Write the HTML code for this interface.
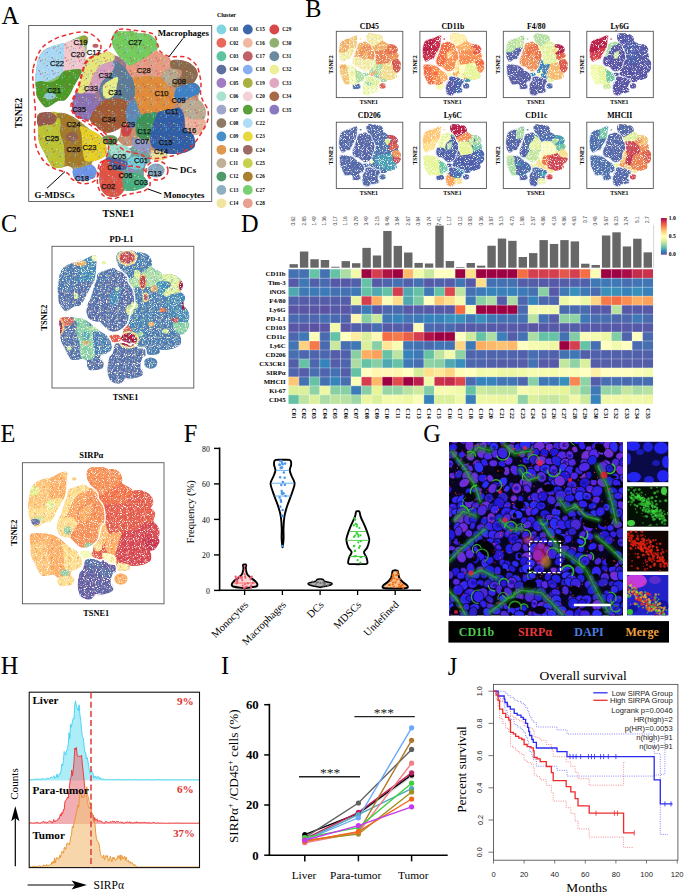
<!DOCTYPE html>
<html><head><meta charset="utf-8"><style>html,body{margin:0;padding:0;background:#fff;width:685px;height:894px;overflow:hidden}svg{display:block}</style></head>
<body><svg width="685" height="894" viewBox="0 0 685 894">
<rect width="685" height="894" fill="#fff"/>
<text x="1.40" y="23.90" font-family="'Liberation Serif', serif" font-size="24.30" text-anchor="start" fill="#000">A</text>
<text x="305.30" y="17.05" font-family="'Liberation Serif', serif" font-size="24.30" text-anchor="start" fill="#000">B</text>
<text x="1.10" y="232.30" font-family="'Liberation Serif', serif" font-size="24.30" text-anchor="start" fill="#000">C</text>
<text x="241.00" y="231.80" font-family="'Liberation Serif', serif" font-size="24.30" text-anchor="start" fill="#000">D</text>
<text x="0.50" y="441.70" font-family="'Liberation Serif', serif" font-size="24.30" text-anchor="start" fill="#000">E</text>
<text x="183.80" y="441.80" font-family="'Liberation Serif', serif" font-size="24.30" text-anchor="start" fill="#000">F</text>
<text x="423.30" y="441.70" font-family="'Liberation Serif', serif" font-size="24.30" text-anchor="start" fill="#000">G</text>
<text x="0.70" y="674.30" font-family="'Liberation Serif', serif" font-size="24.30" text-anchor="start" fill="#000">H</text>
<text x="221.00" y="674.40" font-family="'Liberation Serif', serif" font-size="24.30" text-anchor="start" fill="#000">I</text>
<text x="447.80" y="674.60" font-family="'Liberation Serif', serif" font-size="24.30" text-anchor="start" fill="#000">J</text>
<defs>
<path id="r_UL" d="M35.0 78.0 C35.0 75.3 35.6 74.8 36.0 72.0 C36.4 69.2 36.6 64.3 37.6 61.0 C38.6 57.7 39.9 54.3 42.0 52.0 C44.1 49.7 47.3 48.3 50.0 47.0 C52.7 45.7 55.5 45.0 58.0 44.4 C60.5 43.8 62.8 44.1 64.8 43.5 C66.8 42.9 67.8 42.1 70.0 41.0 C72.2 39.9 75.7 37.9 78.0 37.0 C80.3 36.1 82.3 35.3 84.0 35.5 C85.7 35.7 87.5 36.4 88.0 38.0 C88.5 39.6 87.3 41.3 87.0 45.0 C86.7 48.7 86.3 56.2 86.0 60.0 C85.7 63.8 85.9 65.5 85.0 68.0 C84.1 70.5 81.8 72.6 80.5 74.8 C79.2 77.0 78.2 78.9 77.0 80.9 C75.8 82.9 74.7 84.8 73.5 87.0 C72.3 89.2 71.5 91.8 70.0 94.0 C68.5 96.2 66.8 99.0 64.8 100.2 C62.8 101.4 60.1 100.1 57.8 101.0 C55.5 101.9 52.8 104.4 50.8 105.4 C48.8 106.4 47.1 107.6 45.5 107.2 C43.9 106.8 42.6 104.7 41.1 102.8 C39.6 100.9 37.7 98.3 36.8 95.8 C35.9 93.3 36.2 90.9 35.9 87.9 C35.6 84.9 35.0 80.7 35.0 78.0Z"/>
<path id="r_CL" d="M84.0 69.0 C85.2 65.3 85.0 61.2 87.5 58.7 C90.0 56.2 95.7 55.2 99.2 54.0 C102.7 52.8 106.0 51.5 108.5 51.7 C111.0 51.9 112.5 54.2 114.4 55.2 C116.4 56.2 118.3 56.1 120.2 57.5 C122.1 58.9 124.8 61.2 126.0 63.4 C127.2 65.5 126.0 67.9 127.2 70.4 C128.4 72.9 131.6 75.4 133.0 78.5 C134.4 81.6 135.1 85.4 135.4 89.0 C135.7 92.6 135.8 97.3 135.0 100.0 C134.2 102.7 131.8 103.0 130.7 105.4 C129.6 107.9 129.2 111.9 128.4 114.7 C127.6 117.5 127.4 119.8 126.0 122.0 C124.6 124.2 122.3 126.3 120.0 128.0 C117.7 129.7 114.7 131.3 112.0 132.0 C109.3 132.7 106.7 133.0 104.0 132.0 C101.3 131.0 98.3 128.0 96.0 126.0 C93.7 124.0 91.4 121.0 90.0 120.0 C88.6 119.0 89.7 120.5 87.5 120.0 C85.3 119.5 79.5 119.0 77.0 117.0 C74.5 115.0 72.7 111.4 72.3 107.7 C71.9 104.0 73.9 97.6 74.7 94.9 C75.5 92.2 76.0 93.7 77.0 91.4 C78.0 89.1 79.3 84.6 80.5 80.9 C81.7 77.2 82.8 72.7 84.0 69.0Z"/>
<path id="r_R" d="M113.0 35.0 C114.0 33.2 115.9 32.1 118.0 31.5 C120.1 30.9 123.5 31.6 125.8 31.5 C128.1 31.4 130.1 30.8 132.0 31.0 C133.9 31.2 135.6 32.6 137.5 33.0 C139.4 33.4 141.5 33.3 143.4 33.5 C145.3 33.7 147.3 33.5 149.2 34.4 C151.1 35.3 153.6 37.2 155.0 39.0 C156.4 40.8 157.2 43.3 157.5 45.0 C157.8 46.7 156.8 48.3 156.9 49.4 C157.0 50.5 156.1 50.4 158.0 51.7 C159.9 53.1 166.3 56.0 168.5 57.5 C170.7 59.0 169.2 60.6 170.9 61.0 C172.7 61.4 176.1 59.7 179.0 59.9 C181.9 60.1 185.7 60.9 188.4 62.2 C191.1 63.6 193.9 65.9 195.4 68.0 C196.9 70.1 197.9 72.7 197.7 75.0 C197.5 77.3 194.6 80.6 194.2 82.0 C193.8 83.4 194.4 82.2 195.4 83.2 C196.4 84.2 199.4 86.2 200.0 87.9 C200.6 89.7 199.1 91.7 198.9 93.7 C198.7 95.7 197.7 97.5 198.8 100.0 C199.9 102.5 204.5 105.7 205.4 109.0 C206.3 112.3 204.0 116.9 204.0 119.6 C204.0 122.3 206.3 122.6 205.4 125.0 C204.5 127.4 200.8 132.4 198.8 134.1 C196.8 135.8 194.2 133.4 193.6 135.4 C192.9 137.4 195.8 143.4 194.9 146.0 C194.0 148.6 191.2 149.9 188.3 151.2 C185.5 152.5 181.1 153.4 177.8 153.8 C174.5 154.2 170.6 154.0 168.6 153.8 C166.6 153.6 166.2 151.8 166.0 152.5 C165.8 153.2 168.4 156.5 167.3 157.8 C166.2 159.1 162.0 160.2 159.4 160.4 C156.8 160.6 153.2 160.3 151.5 159.0 C149.8 157.7 150.7 153.8 148.9 152.5 C147.2 151.2 143.6 152.3 141.0 151.2 C138.4 150.1 135.8 146.9 133.1 146.0 C130.4 145.1 127.5 147.0 125.0 146.0 C122.5 145.0 118.8 142.0 118.0 140.2 C117.2 138.4 119.5 137.3 120.0 135.0 C120.5 132.7 120.3 128.4 121.3 126.2 C122.3 124.0 124.8 123.9 126.0 122.0 C127.2 120.1 127.6 117.5 128.4 114.7 C129.2 111.9 129.6 107.9 130.7 105.4 C131.8 103.0 134.2 102.7 135.0 100.0 C135.8 97.3 135.7 92.6 135.4 89.0 C135.1 85.4 134.4 81.6 133.0 78.5 C131.6 75.4 128.4 72.9 127.2 70.4 C126.0 67.9 127.2 65.5 126.0 63.4 C124.8 61.2 122.1 59.9 120.2 57.5 C118.3 55.1 115.8 51.9 114.4 49.3 C113.0 46.7 112.2 44.4 112.0 42.0 C111.8 39.6 112.0 36.8 113.0 35.0Z"/>
<path id="r_LL" d="M37.0 119.3 C37.2 117.0 37.0 114.7 39.3 113.5 C41.6 112.3 47.9 112.4 51.0 112.3 C54.1 112.2 55.1 112.6 58.0 113.0 C60.9 113.4 65.4 113.7 68.5 114.7 C71.6 115.7 73.0 116.5 76.7 119.0 C80.4 121.5 86.8 127.1 90.7 129.9 C94.6 132.7 97.5 133.2 100.0 135.7 C102.5 138.2 104.9 141.9 105.9 145.0 C106.9 148.1 106.9 152.1 105.9 154.4 C104.9 156.7 102.2 157.8 100.0 159.0 C97.8 160.2 94.3 160.4 93.0 161.4 C91.7 162.4 91.3 163.4 91.9 164.9 C92.5 166.4 96.2 168.6 96.6 170.7 C97.0 172.8 96.0 176.1 94.2 177.7 C92.4 179.2 88.9 179.6 86.0 180.0 C83.1 180.4 78.8 180.8 76.7 180.0 C74.6 179.2 73.8 177.1 73.2 175.4 C72.6 173.7 74.0 171.2 73.2 169.6 C72.4 168.0 70.2 166.4 68.5 166.0 C66.8 165.6 65.2 167.0 62.7 167.2 C60.2 167.4 55.7 168.2 53.4 167.2 C51.1 166.2 50.3 163.9 48.7 161.4 C47.1 158.9 45.6 155.1 44.0 152.0 C42.4 148.9 40.3 145.8 39.3 142.7 C38.3 139.6 38.4 135.9 38.2 133.4 C38.0 130.9 38.4 129.8 38.2 127.5 C38.0 125.2 36.8 121.6 37.0 119.3Z"/>
<path id="r_BC" d="M101.7 163.5 C102.9 160.2 105.0 160.6 106.4 157.7 C107.8 154.8 107.2 148.1 109.9 146.0 C112.6 143.9 119.4 144.5 122.7 144.9 C126.0 145.3 128.0 148.2 129.7 148.4 C131.4 148.6 131.2 145.5 133.1 146.0 C135.0 146.5 138.4 150.1 141.0 151.2 C143.6 152.3 147.4 150.8 148.9 152.5 C150.4 154.2 150.7 159.7 150.2 161.7 C149.7 163.7 147.1 162.2 146.0 164.7 C144.9 167.1 143.5 173.5 143.7 176.4 C143.9 179.3 147.0 180.4 147.2 182.2 C147.4 183.9 147.0 185.5 144.9 186.9 C142.8 188.3 137.7 189.8 134.4 190.4 C131.1 191.0 126.8 190.4 125.0 190.4 C123.2 190.4 125.1 189.4 123.9 190.4 C122.7 191.4 120.5 195.2 118.0 196.2 C115.5 197.2 111.4 197.2 108.7 196.2 C106.0 195.2 103.3 193.5 101.7 190.4 C100.1 187.3 99.3 182.1 99.3 177.6 C99.3 173.1 100.5 166.8 101.7 163.5Z"/>
<path id="r_C22" d="M36.0 72.0 C36.4 69.2 36.6 64.3 37.6 61.0 C38.6 57.7 39.9 54.3 42.0 52.0 C44.1 49.7 47.3 48.3 50.0 47.0 C52.7 45.7 55.5 45.0 58.0 44.4 C60.5 43.8 63.8 41.7 64.8 43.5 C65.8 45.3 64.3 50.6 64.0 55.0 C63.7 59.4 63.5 66.8 63.0 70.0 C62.5 73.2 62.5 72.6 61.0 74.0 C59.5 75.4 56.6 77.3 54.0 78.6 C51.4 79.9 48.3 81.1 45.5 82.0 C42.7 82.9 38.8 84.7 37.0 84.0 C35.2 83.3 35.2 80.0 35.0 78.0 C34.8 76.0 35.6 74.8 36.0 72.0Z"/>
<path id="r_C20" d="M64.8 43.5 C65.8 41.2 67.8 41.8 70.0 41.0 C72.2 40.2 75.8 38.7 78.0 39.0 C80.2 39.3 81.8 41.2 83.0 43.0 C84.2 44.8 85.0 47.2 85.5 50.0 C86.0 52.8 86.1 57.0 86.0 60.0 C85.9 63.0 85.9 66.4 85.0 68.0 C84.1 69.6 82.4 69.2 80.5 69.5 C78.6 69.8 75.9 69.3 73.5 69.5 C71.1 69.7 67.8 70.4 66.0 70.5 C64.2 70.6 63.3 72.6 63.0 70.0 C62.7 67.4 63.7 59.4 64.0 55.0 C64.3 50.6 63.8 45.8 64.8 43.5Z"/>
<ellipse id="r_C19" cx="84.0" cy="40.0" rx="4.2" ry="4.6"/>
<ellipse id="r_C17" cx="95.5" cy="45.8" rx="3.0" ry="2.0"/>
<path id="r_C21" d="M35.9 82.6 C36.8 81.4 38.8 81.0 41.1 80.9 C43.4 80.8 47.1 82.5 49.9 82.2 C52.7 81.9 55.9 80.5 57.8 79.1 C59.6 77.7 59.8 75.3 61.0 74.0 C62.2 72.7 62.7 72.0 64.8 71.3 C66.9 70.5 70.9 69.8 73.5 69.5 C76.1 69.2 79.3 68.6 80.5 69.5 C81.7 70.4 81.1 72.9 80.5 74.8 C79.9 76.7 78.2 78.9 77.0 80.9 C75.8 82.9 74.7 84.8 73.5 87.0 C72.3 89.2 71.5 91.8 70.0 94.0 C68.5 96.2 66.8 99.0 64.8 100.2 C62.8 101.4 60.1 100.1 57.8 101.0 C55.5 101.9 52.8 104.4 50.8 105.4 C48.8 106.4 47.1 107.6 45.5 107.2 C43.9 106.8 42.6 104.7 41.1 102.8 C39.6 100.9 37.7 98.3 36.8 95.8 C35.9 93.3 36.0 90.1 35.9 87.9 C35.8 85.7 35.0 83.8 35.9 82.6Z"/>
<ellipse id="r_C22b" cx="50.0" cy="96.0" rx="6.0" ry="3.5"/>
<path id="r_C32y" d="M87.5 58.7 C90.0 56.2 95.7 55.2 99.2 54.0 C102.7 52.8 106.0 51.5 108.5 51.7 C111.0 51.9 113.6 53.7 114.4 55.2 C115.2 56.8 114.8 59.6 113.2 61.0 C111.6 62.4 107.3 62.4 105.0 63.4 C102.7 64.4 101.1 65.0 99.2 66.9 C97.3 68.8 95.4 71.3 93.4 75.0 C91.5 78.7 89.5 85.9 87.5 89.0 C85.5 92.1 83.5 93.3 81.7 93.7 C80.0 94.1 77.2 93.5 77.0 91.4 C76.8 89.3 79.3 84.6 80.5 80.9 C81.7 77.2 82.8 72.9 84.0 69.2 C85.2 65.5 85.0 61.2 87.5 58.7Z"/>
<path id="r_C33p" d="M99.2 66.9 C101.1 65.0 102.7 64.4 105.0 63.4 C107.3 62.4 111.6 60.4 113.2 61.0 C114.8 61.6 115.0 64.6 114.4 66.9 C113.8 69.2 111.7 72.7 109.7 75.0 C107.8 77.3 104.5 78.6 102.7 80.9 C101.0 83.2 100.8 86.9 99.2 89.0 C97.7 91.1 95.7 92.9 93.4 93.7 C91.1 94.5 86.2 94.5 85.2 93.7 C84.2 92.9 86.1 92.1 87.5 89.0 C88.9 85.9 91.5 78.7 93.4 75.0 C95.4 71.3 97.3 68.8 99.2 66.9Z"/>
<path id="r_C31s" d="M113.2 61.0 C114.2 60.4 117.9 61.8 120.2 63.4 C122.5 65.0 125.1 67.9 127.2 70.4 C129.3 72.9 131.6 75.4 133.0 78.5 C134.4 81.6 135.4 85.7 135.4 89.0 C135.4 92.3 134.6 96.5 133.0 98.4 C131.4 100.4 128.7 100.7 126.0 100.7 C123.3 100.7 119.4 98.5 116.7 98.4 C114.0 98.3 112.5 99.9 110.0 100.0 C107.5 100.1 103.8 100.8 102.0 99.0 C100.2 97.2 99.1 92.0 99.2 89.0 C99.3 86.0 101.0 83.2 102.7 80.9 C104.5 78.6 107.8 77.3 109.7 75.0 C111.7 72.7 113.8 69.2 114.4 66.9 C115.0 64.6 112.2 61.6 113.2 61.0Z"/>
<path id="r_C31i" d="M103.9 84.4 C105.3 82.7 108.6 80.9 110.9 79.7 C113.2 78.5 116.9 76.2 117.9 77.4 C118.9 78.6 117.3 83.8 116.7 86.7 C116.1 89.6 115.8 93.0 114.4 94.9 C113.0 96.9 110.2 98.0 108.5 98.4 C106.8 98.8 104.9 98.6 103.9 97.2 C102.9 95.8 102.7 92.3 102.7 90.2 C102.7 88.1 102.5 86.2 103.9 84.4Z"/>
<path id="r_C35" d="M74.7 94.9 C76.3 92.6 78.6 93.9 81.7 93.7 C84.8 93.5 90.5 92.7 93.4 93.7 C96.3 94.8 97.5 98.8 99.0 100.0 C100.5 101.2 103.2 99.0 102.7 100.7 C102.2 102.4 97.5 108.1 96.0 110.0 C94.5 111.9 94.4 110.7 93.4 112.0 C92.4 113.3 91.0 116.7 90.0 118.0 C89.0 119.3 89.7 120.2 87.5 120.0 C85.3 119.8 79.5 119.0 77.0 117.0 C74.5 115.0 72.7 111.4 72.3 107.7 C71.9 104.0 73.1 97.2 74.7 94.9Z"/>
<path id="r_C34" d="M102.7 100.7 C105.7 99.8 112.8 98.4 116.7 98.4 C120.6 98.4 123.7 99.5 126.0 100.7 C128.3 101.9 130.3 103.1 130.7 105.4 C131.1 107.7 129.2 111.9 128.4 114.7 C127.6 117.5 127.4 119.8 126.0 122.0 C124.6 124.2 122.3 126.3 120.0 128.0 C117.7 129.7 114.7 131.3 112.0 132.0 C109.3 132.7 106.7 133.0 104.0 132.0 C101.3 131.0 98.3 128.0 96.0 126.0 C93.7 124.0 90.4 122.3 90.0 120.0 C89.6 117.7 91.9 114.7 93.4 112.0 C94.9 109.3 97.5 105.9 99.0 104.0 C100.5 102.1 99.8 101.6 102.7 100.7Z"/>
<path id="r_C30" d="M102.8 136.7 C104.2 135.3 110.9 134.9 113.4 135.5 C115.9 136.1 118.0 138.6 118.0 140.2 C118.0 141.8 115.5 144.3 113.4 144.9 C111.3 145.5 107.0 145.1 105.2 143.7 C103.4 142.3 101.4 138.1 102.8 136.7Z"/>
<path id="r_C29" d="M121.3 126.2 C122.2 124.2 126.2 123.2 127.9 123.6 C129.7 124.0 131.6 126.8 131.8 128.8 C132.0 130.8 130.7 134.3 129.2 135.4 C127.7 136.5 123.9 136.9 122.6 135.4 C121.3 133.9 120.4 128.2 121.3 126.2Z"/>
<path id="r_C27" d="M113.0 35.0 C114.0 33.2 115.9 32.1 118.0 31.5 C120.1 30.9 123.5 31.6 125.8 31.5 C128.1 31.4 130.1 30.8 132.0 31.0 C133.9 31.2 135.6 32.6 137.5 33.0 C139.4 33.4 141.5 33.3 143.4 33.5 C145.3 33.7 147.3 33.5 149.2 34.4 C151.1 35.3 153.6 37.2 155.0 39.0 C156.4 40.8 157.2 43.3 157.5 45.0 C157.8 46.7 158.6 47.5 156.9 49.4 C155.2 51.3 150.4 54.5 147.5 56.4 C144.6 58.3 142.2 59.5 139.3 61.0 C136.4 62.5 132.2 65.3 130.0 65.7 C127.8 66.1 127.6 64.8 126.0 63.4 C124.4 62.0 122.1 59.9 120.2 57.5 C118.3 55.1 115.8 51.9 114.4 49.3 C113.0 46.7 112.2 44.4 112.0 42.0 C111.8 39.6 112.0 36.8 113.0 35.0Z"/>
<path id="r_C28" d="M126.0 63.4 C126.5 62.6 127.8 66.1 130.0 65.7 C132.2 65.3 136.4 62.5 139.3 61.0 C142.2 59.5 144.6 58.3 147.5 56.4 C150.4 54.5 155.2 50.2 156.9 49.4 C158.7 48.6 156.1 50.4 158.0 51.7 C159.9 53.1 166.3 56.0 168.5 57.5 C170.7 59.0 170.5 59.2 170.9 61.0 C171.3 62.8 171.9 66.4 170.9 68.0 C169.9 69.6 166.8 68.8 165.0 70.4 C163.2 72.0 162.3 76.4 160.4 77.4 C158.5 78.4 156.5 76.4 153.4 76.2 C150.3 76.0 145.0 75.8 141.7 76.2 C138.4 76.6 134.9 78.1 133.5 78.5 C132.1 78.9 134.1 79.8 133.0 78.5 C131.9 77.2 128.4 72.9 127.2 70.4 C126.0 67.9 125.5 64.2 126.0 63.4Z"/>
<path id="r_C10" d="M133.5 78.5 C134.6 76.4 138.4 76.6 141.7 76.2 C145.0 75.8 150.3 76.0 153.4 76.2 C156.5 76.4 158.5 76.4 160.4 77.4 C162.3 78.4 163.4 80.5 165.0 82.0 C166.6 83.5 168.1 84.4 169.7 86.7 C171.3 89.0 173.5 93.1 174.4 96.0 C175.3 98.9 175.9 101.5 175.2 103.9 C174.5 106.3 172.6 109.2 170.0 110.5 C167.4 111.8 162.9 111.4 159.4 111.8 C155.9 112.2 152.0 112.3 148.9 113.0 C145.8 113.7 142.8 116.4 141.0 115.7 C139.2 115.0 139.4 111.6 138.4 109.0 C137.4 106.4 135.5 103.3 135.0 100.0 C134.5 96.7 135.7 92.6 135.4 89.0 C135.2 85.4 132.4 80.6 133.5 78.5Z"/>
<path id="r_C11a" d="M165.0 70.4 C166.5 69.1 169.0 68.2 170.9 68.0 C172.8 67.8 175.7 67.2 176.7 69.2 C177.7 71.2 177.1 77.2 176.7 79.7 C176.3 82.2 175.6 83.2 174.4 84.4 C173.2 85.6 171.3 87.1 169.7 86.7 C168.1 86.3 166.3 83.8 165.0 82.0 C163.7 80.2 162.0 77.9 162.0 76.0 C162.0 74.1 163.5 71.7 165.0 70.4Z"/>
<path id="r_C08" d="M170.9 61.0 C172.2 59.6 176.1 59.7 179.0 59.9 C181.9 60.1 185.7 60.9 188.4 62.2 C191.1 63.6 193.9 65.9 195.4 68.0 C196.9 70.1 197.9 72.7 197.7 75.0 C197.5 77.3 196.1 80.0 194.2 82.0 C192.2 84.0 188.9 85.7 186.0 86.7 C183.1 87.7 179.0 88.4 176.7 88.0 C174.4 87.6 172.0 85.8 172.0 84.4 C172.0 83.0 175.1 81.3 176.7 79.7 C178.3 78.1 180.6 76.5 181.4 75.0 C182.2 73.5 182.2 71.4 181.4 70.4 C180.6 69.4 178.4 69.6 176.7 69.2 C174.9 68.8 171.9 69.4 170.9 68.0 C169.9 66.6 169.6 62.4 170.9 61.0Z"/>
<path id="r_C09" d="M176.7 88.0 C178.6 85.7 182.9 85.2 186.0 84.4 C189.1 83.6 193.1 82.6 195.4 83.2 C197.7 83.8 199.4 86.2 200.0 87.9 C200.6 89.7 200.5 92.2 198.9 93.7 C197.3 95.2 193.6 95.8 190.7 97.2 C187.8 98.6 184.1 101.7 181.4 101.9 C178.7 102.1 175.2 100.7 174.4 98.4 C173.6 96.1 174.8 90.3 176.7 88.0Z"/>
<path id="r_C11b" d="M185.7 101.3 C188.8 100.0 195.5 98.7 198.8 100.0 C202.1 101.3 204.5 105.7 205.4 109.0 C206.3 112.3 206.0 117.4 204.0 119.6 C202.0 121.8 196.9 122.7 193.6 122.3 C190.3 121.9 186.7 119.4 184.4 117.0 C182.1 114.6 179.8 110.6 180.0 108.0 C180.2 105.4 182.6 102.6 185.7 101.3Z"/>
<path id="r_C16" d="M184.4 117.0 C185.7 115.5 190.3 119.2 193.6 119.6 C196.9 120.0 202.0 118.7 204.0 119.6 C206.0 120.5 206.3 122.6 205.4 125.0 C204.5 127.4 201.2 132.6 198.8 134.1 C196.4 135.6 193.2 135.0 191.0 134.1 C188.8 133.2 186.8 131.7 185.7 128.8 C184.6 126.0 183.1 118.5 184.4 117.0Z"/>
<path id="r_C15" d="M156.8 113.0 C160.1 110.3 168.7 109.8 172.6 109.0 C176.5 108.2 178.0 106.7 180.0 108.0 C182.0 109.3 183.5 113.5 184.4 117.0 C185.3 120.5 184.2 125.7 185.7 128.8 C187.2 131.9 192.1 132.5 193.6 135.4 C195.1 138.3 195.8 143.4 194.9 146.0 C194.0 148.6 191.2 149.9 188.3 151.2 C185.5 152.5 181.1 153.4 177.8 153.8 C174.5 154.2 171.7 154.2 168.6 153.8 C165.5 153.4 162.2 152.5 159.4 151.2 C156.6 149.9 153.0 148.6 151.5 146.0 C150.0 143.4 150.0 138.9 150.2 135.4 C150.4 131.9 151.7 128.6 152.8 124.9 C153.9 121.2 153.5 115.7 156.8 113.0Z"/>
<path id="r_C09b" d="M128.0 104.0 C129.5 101.5 133.3 99.2 135.0 100.0 C136.7 100.8 137.4 106.4 138.4 109.0 C139.4 111.6 141.4 113.0 141.0 115.7 C140.6 118.4 137.3 122.7 135.8 124.9 C134.3 127.1 133.1 129.0 131.8 128.8 C130.5 128.6 128.9 125.9 127.9 123.6 C126.9 121.3 126.0 118.3 126.0 115.0 C126.0 111.7 126.5 106.5 128.0 104.0Z"/>
<path id="r_C12" d="M139.7 115.7 C141.9 113.7 146.1 113.5 148.9 113.0 C151.8 112.5 156.2 111.0 156.8 113.0 C157.5 115.0 153.9 121.2 152.8 124.9 C151.7 128.6 151.3 132.8 150.2 135.4 C149.1 138.0 148.5 140.7 146.3 140.7 C144.1 140.7 138.8 138.0 137.0 135.4 C135.2 132.8 135.4 128.2 135.8 124.9 C136.2 121.6 137.5 117.7 139.7 115.7Z"/>
<path id="r_C07" d="M133.1 138.0 C135.3 137.1 143.5 139.4 146.3 140.7 C149.2 142.0 149.8 144.0 150.2 146.0 C150.6 148.0 150.4 151.6 148.9 152.5 C147.4 153.4 143.6 152.3 141.0 151.2 C138.4 150.1 134.4 148.2 133.1 146.0 C131.8 143.8 130.9 138.9 133.1 138.0Z"/>
<path id="r_C14" d="M151.5 151.2 C152.8 149.9 157.0 151.0 159.4 151.2 C161.8 151.4 164.7 151.4 166.0 152.5 C167.3 153.6 168.4 156.5 167.3 157.8 C166.2 159.1 162.0 160.2 159.4 160.4 C156.8 160.6 152.8 160.5 151.5 159.0 C150.2 157.5 150.2 152.5 151.5 151.2Z"/>
<path id="r_C06" d="M109.9 146.0 C112.0 144.7 119.4 144.5 122.7 144.9 C126.0 145.3 128.3 146.7 129.7 148.4 C131.1 150.2 131.7 153.7 130.9 155.4 C130.1 157.2 127.7 158.5 125.0 158.9 C122.3 159.3 117.0 158.7 114.5 157.7 C112.0 156.7 110.7 154.9 109.9 153.0 C109.1 151.1 107.8 147.3 109.9 146.0Z"/>
<path id="r_C01" d="M130.9 157.7 C132.8 156.7 136.5 156.1 139.0 156.5 C141.5 156.9 144.8 158.6 146.0 160.0 C147.2 161.4 147.2 163.1 146.0 164.7 C144.8 166.3 141.5 168.8 139.0 169.4 C136.5 170.0 132.8 169.4 130.9 168.2 C129.0 167.0 127.4 164.2 127.4 162.4 C127.4 160.7 129.0 158.7 130.9 157.7Z"/>
<path id="r_C04" d="M106.4 157.7 C108.5 156.5 115.7 158.1 119.2 158.9 C122.7 159.7 126.4 160.7 127.4 162.4 C128.4 164.2 127.3 168.2 125.0 169.4 C122.7 170.6 116.5 170.0 113.4 169.4 C110.3 168.8 107.6 167.9 106.4 165.9 C105.2 163.9 104.3 158.9 106.4 157.7Z"/>
<path id="r_C02" d="M101.7 163.5 C102.9 160.6 104.5 159.0 106.4 160.0 C108.4 161.0 110.7 167.5 113.4 169.4 C116.1 171.3 120.8 169.8 122.7 171.7 C124.6 173.6 124.8 177.9 125.0 181.0 C125.2 184.1 125.1 187.9 123.9 190.4 C122.7 192.9 120.5 195.2 118.0 196.2 C115.5 197.2 111.4 197.2 108.7 196.2 C106.0 195.2 103.3 193.5 101.7 190.4 C100.1 187.3 99.3 182.1 99.3 177.6 C99.3 173.1 100.5 166.4 101.7 163.5Z"/>
<path id="r_C03" d="M123.9 175.2 C125.9 173.4 131.1 172.7 134.4 172.9 C137.7 173.1 141.6 174.9 143.7 176.4 C145.8 177.9 147.0 180.4 147.2 182.2 C147.4 183.9 147.0 185.5 144.9 186.9 C142.8 188.3 137.7 189.8 134.4 190.4 C131.1 191.0 127.0 191.6 125.0 190.4 C123.0 189.2 122.9 185.9 122.7 183.4 C122.5 180.9 122.0 176.9 123.9 175.2Z"/>
<ellipse id="r_C05" cx="131.0" cy="170.5" rx="3.0" ry="1.6"/>
<ellipse id="r_C13" cx="156.0" cy="170.5" rx="8.6" ry="7.0"/>
<path id="r_C24" d="M37.0 119.3 C37.2 117.3 37.0 114.7 39.3 113.5 C41.6 112.3 48.1 111.7 51.0 112.3 C53.9 112.9 56.5 115.0 56.9 117.0 C57.3 119.0 55.5 122.6 53.4 124.0 C51.2 125.4 46.5 125.0 44.0 125.2 C41.5 125.4 39.4 126.2 38.2 125.2 C37.0 124.2 36.8 121.2 37.0 119.3Z"/>
<path id="r_C25" d="M38.2 127.5 C39.2 126.1 41.5 125.8 44.0 125.2 C46.5 124.6 51.2 125.4 53.4 124.0 C55.5 122.6 57.3 119.0 56.9 117.0 C56.5 115.0 50.8 113.0 51.0 112.3 C51.2 111.6 56.4 111.7 58.0 113.0 C59.6 114.3 60.0 116.6 60.4 120.0 C60.8 123.4 59.8 129.2 60.4 133.4 C61.0 137.6 63.1 140.7 63.9 145.0 C64.7 149.3 65.2 155.3 65.0 159.0 C64.8 162.7 64.6 165.8 62.7 167.2 C60.8 168.6 55.7 168.2 53.4 167.2 C51.1 166.2 50.3 163.9 48.7 161.4 C47.1 158.9 45.6 155.1 44.0 152.0 C42.4 148.9 40.3 145.8 39.3 142.7 C38.3 139.6 38.4 135.9 38.2 133.4 C38.0 130.9 37.2 128.9 38.2 127.5Z"/>
<path id="r_C26" d="M56.9 117.0 C56.5 115.8 56.1 113.4 58.0 113.0 C59.9 112.6 65.4 113.1 68.5 114.7 C71.6 116.3 74.5 119.7 76.7 122.8 C78.9 125.9 80.4 129.1 81.4 133.4 C82.4 137.7 82.0 144.0 82.6 148.5 C83.2 153.0 85.5 157.3 84.9 160.2 C84.3 163.1 81.7 165.0 79.0 166.0 C76.3 167.0 70.8 167.2 68.5 166.0 C66.2 164.8 65.8 162.5 65.0 159.0 C64.2 155.5 64.7 149.3 63.9 145.0 C63.1 140.7 61.0 137.6 60.4 133.4 C59.8 129.2 61.0 122.7 60.4 120.0 C59.8 117.3 57.3 118.2 56.9 117.0Z"/>
<ellipse id="r_C24b" cx="72.0" cy="137.0" rx="6.0" ry="5.0"/>
<path id="r_C23" d="M80.2 126.4 C81.8 125.8 87.4 128.4 90.7 129.9 C94.0 131.4 97.5 133.2 100.0 135.7 C102.5 138.2 104.9 141.9 105.9 145.0 C106.9 148.1 106.9 152.1 105.9 154.4 C104.9 156.7 102.2 157.8 100.0 159.0 C97.8 160.2 95.5 161.2 93.0 161.4 C90.5 161.6 86.6 162.3 84.9 160.2 C83.2 158.0 83.2 153.0 82.6 148.5 C82.0 144.0 81.8 137.1 81.4 133.4 C81.0 129.7 78.7 127.0 80.2 126.4Z"/>
<path id="r_C18" d="M73.2 169.6 C74.6 168.2 78.3 168.0 81.4 167.2 C84.5 166.4 89.4 164.3 91.9 164.9 C94.4 165.5 96.2 168.6 96.6 170.7 C97.0 172.8 96.0 176.1 94.2 177.7 C92.4 179.2 88.9 179.6 86.0 180.0 C83.1 180.4 78.8 180.8 76.7 180.0 C74.6 179.2 73.8 177.1 73.2 175.4 C72.6 173.7 71.8 171.0 73.2 169.6Z"/>
</defs>
<defs><pattern id="spW" patternUnits="userSpaceOnUse" width="9" height="9"><circle cx="2.1" cy="4.9" r="0.50" fill="#fff"/><circle cx="5.4" cy="5.6" r="0.38" fill="#fff"/><circle cx="0.1" cy="7.5" r="0.45" fill="#fff"/><circle cx="2.1" cy="9.0" r="0.54" fill="#fff"/><circle cx="7.5" cy="4.3" r="0.61" fill="#fff"/><circle cx="1.4" cy="5.7" r="0.70" fill="#fff"/><circle cx="4.7" cy="6.7" r="0.62" fill="#fff"/><circle cx="0.6" cy="6.8" r="0.59" fill="#fff"/><circle cx="2.7" cy="0.3" r="0.70" fill="#fff"/><circle cx="4.3" cy="6.5" r="0.70" fill="#fff"/><circle cx="6.4" cy="8.3" r="0.51" fill="#fff"/><circle cx="7.2" cy="4.0" r="0.72" fill="#fff"/><circle cx="7.9" cy="0.9" r="0.40" fill="#fff"/><circle cx="2.0" cy="8.7" r="0.52" fill="#fff"/><circle cx="5.6" cy="2.7" r="0.55" fill="#fff"/><circle cx="3.5" cy="3.2" r="0.58" fill="#fff"/></pattern><pattern id="spC" patternUnits="userSpaceOnUse" width="11" height="11"><circle cx="6.4" cy="9.9" r="0.74" fill="#66c2a5"/><circle cx="9.4" cy="10.9" r="0.74" fill="#abdda4"/><circle cx="7.7" cy="3.6" r="0.67" fill="#3288bd"/><circle cx="6.3" cy="7.9" r="0.51" fill="#3288bd"/><circle cx="2.9" cy="1.4" r="0.64" fill="#fee08b"/><circle cx="10.9" cy="1.0" r="0.80" fill="#66c2a5"/><circle cx="9.9" cy="0.2" r="0.61" fill="#66c2a5"/><circle cx="9.6" cy="0.5" r="0.71" fill="#66c2a5"/><circle cx="4.2" cy="6.5" r="0.68" fill="#e6f598"/><circle cx="5.6" cy="11.0" r="0.55" fill="#66c2a5"/><circle cx="1.2" cy="5.9" r="0.87" fill="#66c2a5"/><circle cx="3.2" cy="2.9" r="0.74" fill="#e6f598"/><circle cx="3.5" cy="10.5" r="0.85" fill="#66c2a5"/><circle cx="4.1" cy="9.6" r="0.59" fill="#3288bd"/><circle cx="7.5" cy="1.1" r="0.89" fill="#3288bd"/><circle cx="3.0" cy="7.0" r="0.76" fill="#e6f598"/><circle cx="4.8" cy="2.8" r="0.55" fill="#e6f598"/><circle cx="0.1" cy="4.6" r="0.69" fill="#66c2a5"/><circle cx="4.1" cy="6.5" r="0.47" fill="#fee08b"/><circle cx="6.9" cy="5.1" r="0.74" fill="#e6f598"/><circle cx="6.7" cy="3.1" r="0.64" fill="#3288bd"/><circle cx="0.7" cy="7.4" r="0.88" fill="#e6f598"/><circle cx="6.9" cy="3.3" r="0.70" fill="#abdda4"/><circle cx="4.0" cy="3.4" r="0.58" fill="#3288bd"/><circle cx="2.9" cy="8.7" r="0.45" fill="#66c2a5"/><circle cx="10.7" cy="7.5" r="0.47" fill="#3288bd"/></pattern><pattern id="spY" patternUnits="userSpaceOnUse" width="11" height="11"><circle cx="2.4" cy="8.8" r="0.52" fill="#fee08b"/><circle cx="7.5" cy="7.1" r="0.45" fill="#d53e4f"/><circle cx="3.5" cy="3.7" r="0.82" fill="#f46d43"/><circle cx="8.9" cy="10.6" r="0.44" fill="#fee08b"/><circle cx="9.7" cy="5.0" r="0.51" fill="#e6f598"/><circle cx="0.4" cy="10.5" r="0.56" fill="#d53e4f"/><circle cx="2.0" cy="3.1" r="0.80" fill="#e6f598"/><circle cx="8.9" cy="3.8" r="0.46" fill="#abdda4"/><circle cx="5.7" cy="9.3" r="0.63" fill="#f46d43"/><circle cx="3.2" cy="6.3" r="0.42" fill="#f46d43"/><circle cx="1.7" cy="0.1" r="0.87" fill="#d53e4f"/><circle cx="10.9" cy="4.8" r="0.88" fill="#fee08b"/><circle cx="0.4" cy="5.0" r="0.78" fill="#d53e4f"/><circle cx="10.6" cy="6.0" r="0.84" fill="#e6f598"/><circle cx="9.4" cy="10.7" r="0.46" fill="#fee08b"/><circle cx="0.5" cy="9.9" r="0.75" fill="#fee08b"/><circle cx="9.9" cy="9.9" r="0.69" fill="#e6f598"/><circle cx="5.3" cy="1.3" r="0.65" fill="#fee08b"/><circle cx="7.3" cy="5.8" r="0.61" fill="#d53e4f"/><circle cx="1.2" cy="1.4" r="0.89" fill="#d53e4f"/><circle cx="5.2" cy="8.6" r="0.58" fill="#fee08b"/><circle cx="1.3" cy="9.8" r="0.46" fill="#fee08b"/></pattern><pattern id="spA" patternUnits="userSpaceOnUse" width="13" height="13"><circle cx="10.3" cy="12.0" r="0.72" fill="#7fd5e1"/><circle cx="6.3" cy="7.4" r="0.56" fill="#5aa038"/><circle cx="3.2" cy="8.0" r="0.61" fill="#5e70a2"/><circle cx="6.1" cy="10.1" r="0.40" fill="#5e70a2"/><circle cx="10.1" cy="0.6" r="0.42" fill="#ffffff"/><circle cx="12.7" cy="11.1" r="0.43" fill="#ffffff"/><circle cx="6.4" cy="2.0" r="0.43" fill="#d84848"/><circle cx="8.4" cy="7.6" r="0.54" fill="#f0e4a0"/><circle cx="12.8" cy="5.6" r="0.45" fill="#7fd5e1"/><circle cx="9.3" cy="4.9" r="0.43" fill="#4e9a6a"/><circle cx="0.6" cy="6.0" r="0.66" fill="#d84848"/><circle cx="8.3" cy="0.6" r="0.75" fill="#5e70a2"/><circle cx="4.8" cy="6.4" r="0.68" fill="#eef098"/><circle cx="12.4" cy="5.4" r="0.41" fill="#3a68a8"/><circle cx="7.0" cy="9.0" r="0.43" fill="#e0a8c0"/><circle cx="2.9" cy="1.7" r="0.41" fill="#c8d050"/><circle cx="4.9" cy="11.7" r="0.72" fill="#a8b040"/><circle cx="1.6" cy="9.0" r="0.78" fill="#d84848"/><circle cx="8.7" cy="9.5" r="0.63" fill="#9ea8cc"/><circle cx="10.6" cy="9.3" r="0.59" fill="#88b0f0"/></pattern><filter id="nzB" x="0" y="0" width="100%" height="100%" color-interpolation-filters="sRGB"><feTurbulence type="fractalNoise" baseFrequency="0.45" numOctaves="1" seed="7" result="t"/><feComponentTransfer in="t" result="m"><feFuncA type="linear" slope="6" intercept="-3.3"/></feComponentTransfer><feFlood flood-color="#ffffff" result="w"/><feComposite in="w" in2="m" operator="in" result="wd"/><feComposite in="wd" in2="SourceAlpha" operator="in" result="wd2"/><feMerge><feMergeNode in="SourceGraphic"/><feMergeNode in="wd2"/></feMerge></filter><filter id="nzC" x="0" y="0" width="100%" height="100%" color-interpolation-filters="sRGB"><feTurbulence type="fractalNoise" baseFrequency="0.90" numOctaves="1" seed="9" result="t"/><feComponentTransfer in="t" result="m"><feFuncA type="linear" slope="6" intercept="-3.35"/></feComponentTransfer><feFlood flood-color="#ffffff" result="w"/><feComposite in="w" in2="m" operator="in" result="wd"/><feComposite in="wd" in2="SourceAlpha" operator="in" result="wd2"/><feMerge><feMergeNode in="SourceGraphic"/><feMergeNode in="wd2"/></feMerge></filter><filter id="nzA" x="0" y="0" width="100%" height="100%" color-interpolation-filters="sRGB"><feTurbulence type="fractalNoise" baseFrequency="0.80" numOctaves="1" seed="5" result="t"/><feComponentTransfer in="t" result="m"><feFuncA type="linear" slope="6" intercept="-3.5"/></feComponentTransfer><feFlood flood-color="#ffffff" result="w"/><feComposite in="w" in2="m" operator="in" result="wd"/><feComposite in="wd" in2="SourceAlpha" operator="in" result="wd2"/><feMerge><feMergeNode in="SourceGraphic"/><feMergeNode in="wd2"/></feMerge></filter></defs>
<clipPath id="clipA"><rect x="28.70" y="25.50" width="183.00" height="176.00"/></clipPath>
<g clip-path="url(#clipA)"><g transform="translate(28.700 25.500) scale(1.00000 1.00000) translate(-28.70 -25.50)">
<use href="#r_UL" fill="#8cc070"/>
<use href="#r_CL" fill="#a07890"/>
<use href="#r_R" fill="#c89070"/>
<use href="#r_LL" fill="#a89040"/>
<use href="#r_BC" fill="#70a0a0"/>
<use href="#r_C22" fill="#a8d8f6"/>
<use href="#r_C20" fill="#f2c8d0"/>
<use href="#r_C19" fill="#98a436"/>
<use href="#r_C17" fill="#c06068"/>
<use href="#r_C21" fill="#4c9a26"/>
<use href="#r_C22b" fill="#90c8d8"/>
<use href="#r_C32y" fill="#e6e67c"/>
<use href="#r_C33p" fill="#d8a0c0"/>
<use href="#r_C31s" fill="#5a7c98"/>
<use href="#r_C31i" fill="#eaee88"/>
<use href="#r_C35" fill="#8a70b4"/>
<use href="#r_C34" fill="#a05a34"/>
<use href="#r_C30" fill="#6a9a58"/>
<use href="#r_C29" fill="#d04444"/>
<use href="#r_C27" fill="#72cc5e"/>
<use href="#r_C28" fill="#e89a82"/>
<use href="#r_C10" fill="#e08c3a"/>
<use href="#r_C11a" fill="#b8a890"/>
<use href="#r_C08" fill="#8a6a4a"/>
<use href="#r_C09" fill="#3c80c8"/>
<use href="#r_C11b" fill="#bcaa92"/>
<use href="#r_C16" fill="#eeb09a"/>
<use href="#r_C15" fill="#2f5ea8"/>
<use href="#r_C09b" fill="#5a88b8"/>
<use href="#r_C12" fill="#3a9458"/>
<use href="#r_C07" fill="#9098c8"/>
<use href="#r_C14" fill="#f0e098"/>
<use href="#r_C06" fill="#a0e0d0"/>
<use href="#r_C01" fill="#70d0e0"/>
<use href="#r_C04" fill="#5060a0"/>
<use href="#r_C02" fill="#e05242"/>
<use href="#r_C03" fill="#48b080"/>
<use href="#r_C05" fill="#a07cc0"/>
<use href="#r_C13" fill="#88a8c0"/>
<use href="#r_C24" fill="#94584c"/>
<use href="#r_C25" fill="#bcc434"/>
<use href="#r_C26" fill="#a27a28"/>
<use href="#r_C24b" fill="#946050"/>
<use href="#r_C23" fill="#e6d024"/>
<use href="#r_C18" fill="#6c94e8"/>
<g fill="url(#spA)" fill-opacity="0.80"><use href="#r_UL"/><use href="#r_CL"/><use href="#r_R"/><use href="#r_LL"/><use href="#r_BC"/><use href="#r_C13"/></g>
</g></g>
<rect x="28.70" y="25.50" width="183.00" height="176.00" fill="none" stroke="#555" stroke-width="0.9"/>
<path d="M33.3 67.8 C34.7 61.7 37.9 53.3 41.6 48.4 C45.3 43.5 50.8 41.0 55.5 38.6 C60.2 36.2 65.8 35.1 70.0 34.0 C74.2 32.9 77.2 32.1 80.5 32.0 C83.8 31.9 87.0 32.2 90.0 33.5 C93.0 34.8 96.7 37.8 98.5 40.0 C100.3 42.2 101.1 44.8 101.0 47.0 C100.9 49.2 99.8 51.2 98.0 53.0 C96.2 54.8 92.2 55.8 90.0 57.5 C87.8 59.2 86.3 60.5 85.0 63.0 C83.7 65.5 83.0 68.9 82.0 72.3 C81.0 75.7 80.0 80.2 79.0 83.4 C78.0 86.6 77.1 88.7 76.0 91.4 C74.9 94.1 73.3 97.1 72.5 99.5 C71.7 101.9 70.9 103.8 71.0 106.0 C71.1 108.2 71.5 110.8 73.0 113.0 C74.5 115.2 77.3 117.2 80.0 119.0 C82.7 120.8 85.5 121.6 89.0 124.0 C92.5 126.4 97.8 130.3 101.0 133.6 C104.2 136.9 107.2 140.2 108.2 143.8 C109.2 147.5 108.0 151.8 106.8 155.5 C105.6 159.2 102.6 161.8 100.9 165.7 C99.2 169.6 98.5 175.9 96.5 178.8 C94.5 181.7 91.9 182.5 89.2 183.2 C86.5 183.9 83.4 183.9 80.5 183.2 C77.6 182.5 73.9 180.5 71.7 178.8 C69.5 177.1 70.2 174.7 67.3 173.0 C64.4 171.3 58.1 170.5 54.2 168.6 C50.3 166.7 46.9 164.7 44.0 161.3 C41.1 157.9 38.3 153.1 36.7 148.2 C35.1 143.3 34.7 137.6 34.5 132.0 C34.3 126.4 35.5 119.9 35.5 114.6 C35.5 109.3 34.9 104.9 34.5 100.0 C34.1 95.1 33.5 90.4 33.3 85.0 C33.1 79.6 31.9 73.9 33.3 67.8Z" stroke="#e83030" stroke-width="1.5" stroke-dasharray="4.5 3" fill="none"/>
<path d="M118.9 29.4 C122.2 28.1 127.6 29.7 132.3 30.2 C137.0 30.7 143.5 31.3 147.2 32.2 C150.9 33.1 153.0 33.4 154.7 35.4 C156.4 37.4 156.6 41.6 157.6 44.3 C158.6 47.0 158.6 49.8 160.6 51.8 C162.6 53.8 166.6 55.7 169.6 56.5 C172.6 57.3 175.5 56.3 178.5 56.5 C181.5 56.7 184.4 56.2 187.4 57.7 C190.4 59.2 194.3 62.2 196.4 65.2 C198.5 68.2 199.0 72.4 199.8 75.6 C200.6 78.8 200.9 81.6 201.0 84.5 C201.1 87.4 200.2 90.2 200.5 93.0 C200.8 95.8 201.8 98.2 203.0 101.0 C204.2 103.8 207.1 106.7 207.8 110.0 C208.6 113.3 208.6 117.2 207.5 121.0 C206.4 124.8 203.5 129.3 201.3 133.0 C199.1 136.7 196.7 140.4 194.4 143.2 C192.1 145.9 190.3 147.6 187.4 149.5 C184.5 151.4 180.5 153.2 177.0 154.5 C173.5 155.8 170.3 156.3 166.6 157.0 C162.9 157.7 158.0 158.5 154.7 158.6 C151.4 158.7 149.4 158.6 147.0 157.8 C144.6 157.0 142.7 154.9 140.0 154.0 C137.3 153.1 133.7 153.2 131.0 152.5 C128.3 151.8 126.5 151.4 124.0 150.0 C121.5 148.6 118.5 146.2 116.0 144.0 C113.5 141.8 111.5 139.3 109.0 137.0 C106.5 134.7 104.2 132.5 101.0 130.0 C97.8 127.5 93.7 124.2 90.0 122.0 C86.3 119.8 81.8 118.8 79.0 117.0 C76.2 115.2 74.5 113.3 73.5 111.0 C72.5 108.7 72.4 105.8 72.8 103.0 C73.2 100.2 74.9 97.2 76.0 94.0 C77.1 90.8 78.4 87.5 79.5 84.0 C80.6 80.5 81.5 76.3 82.5 73.0 C83.5 69.7 84.1 66.5 85.5 64.0 C86.9 61.5 88.9 59.6 91.0 58.0 C93.1 56.4 95.7 55.7 98.0 54.5 C100.3 53.3 103.0 52.3 105.0 51.0 C107.0 49.7 108.8 48.7 110.0 46.5 C111.2 44.3 111.0 40.9 112.5 38.0 C114.0 35.1 115.6 30.7 118.9 29.4Z" stroke="#e83030" stroke-width="1.5" stroke-dasharray="4.5 3" fill="none"/>
<path d="M100.0 163.0 C101.8 160.4 105.0 160.5 108.0 160.5 C111.0 160.5 115.0 162.1 118.0 163.0 C121.0 163.9 123.0 165.4 126.0 166.0 C129.0 166.6 133.2 166.0 136.0 166.5 C138.8 167.0 140.9 167.4 143.0 169.0 C145.1 170.6 147.3 173.3 148.5 176.0 C149.7 178.7 150.6 182.6 150.0 185.0 C149.4 187.4 147.5 189.2 145.0 190.5 C142.5 191.8 138.3 192.2 135.0 193.0 C131.7 193.8 128.5 194.1 125.0 195.0 C121.5 195.9 117.5 198.3 114.0 198.5 C110.5 198.7 106.6 197.8 104.0 196.0 C101.4 194.2 99.6 191.3 98.5 188.0 C97.4 184.7 97.2 180.2 97.5 176.0 C97.8 171.8 98.2 165.6 100.0 163.0Z" stroke="#e83030" stroke-width="1.5" stroke-dasharray="4.5 3" fill="none"/>
<ellipse cx="157" cy="170.5" rx="11" ry="9.5" stroke="#e83030" stroke-width="1.5" stroke-dasharray="4.5 3" fill="none"/>
<line x1="183" y1="38.4" x2="168.8" y2="57" stroke="#000" stroke-width="1"/>
<line x1="46.9" y1="188.3" x2="65.1" y2="171.5" stroke="#000" stroke-width="1"/>
<line x1="168.8" y1="167.7" x2="177.7" y2="169.2" stroke="#000" stroke-width="1"/>
<line x1="148" y1="189" x2="161.4" y2="193.8" stroke="#000" stroke-width="1"/>
<text x="183.30" y="35.60" font-family="'Liberation Serif', serif" font-size="8.90" font-weight="bold" text-anchor="middle" fill="#000">Macrophages</text>
<text x="54.60" y="198.00" font-family="'Liberation Serif', serif" font-size="9.00" font-weight="bold" text-anchor="middle" fill="#000">G-MDSCs</text>
<text x="188.00" y="172.80" font-family="'Liberation Serif', serif" font-size="8.80" font-weight="bold" text-anchor="middle" fill="#000">DCs</text>
<text x="184.00" y="197.60" font-family="'Liberation Serif', serif" font-size="8.90" font-weight="bold" text-anchor="middle" fill="#000">Monocytes</text>
<text x="80.50" y="44.80" font-family="'Liberation Sans', sans-serif" font-size="7.60" text-anchor="middle" fill="#111" stroke="#111" stroke-width="0.25">C19</text>
<text x="77.70" y="57.30" font-family="'Liberation Sans', sans-serif" font-size="7.60" text-anchor="middle" fill="#111" stroke="#111" stroke-width="0.25">C20</text>
<text x="93.80" y="54.80" font-family="'Liberation Sans', sans-serif" font-size="7.60" text-anchor="middle" fill="#111" stroke="#111" stroke-width="0.25">C17</text>
<text x="135.10" y="44.80" font-family="'Liberation Sans', sans-serif" font-size="7.60" text-anchor="middle" fill="#111" stroke="#111" stroke-width="0.25">C27</text>
<text x="56.90" y="66.40" font-family="'Liberation Sans', sans-serif" font-size="7.60" text-anchor="middle" fill="#111" stroke="#111" stroke-width="0.25">C22</text>
<text x="105.40" y="78.30" font-family="'Liberation Sans', sans-serif" font-size="7.60" text-anchor="middle" fill="#111" stroke="#111" stroke-width="0.25">C32</text>
<text x="143.70" y="73.30" font-family="'Liberation Sans', sans-serif" font-size="7.60" text-anchor="middle" fill="#111" stroke="#111" stroke-width="0.25">C28</text>
<text x="179.00" y="83.60" font-family="'Liberation Sans', sans-serif" font-size="7.60" text-anchor="middle" fill="#111" stroke="#111" stroke-width="0.25">C08</text>
<text x="54.10" y="92.80" font-family="'Liberation Sans', sans-serif" font-size="7.60" text-anchor="middle" fill="#111" stroke="#111" stroke-width="0.25">C21</text>
<text x="91.00" y="91.40" font-family="'Liberation Sans', sans-serif" font-size="7.60" text-anchor="middle" fill="#111" stroke="#111" stroke-width="0.25">C33</text>
<text x="115.20" y="95.30" font-family="'Liberation Sans', sans-serif" font-size="7.60" text-anchor="middle" fill="#111" stroke="#111" stroke-width="0.25">C31</text>
<text x="161.50" y="96.40" font-family="'Liberation Sans', sans-serif" font-size="7.60" text-anchor="middle" fill="#111" stroke="#111" stroke-width="0.25">C10</text>
<text x="178.40" y="102.50" font-family="'Liberation Sans', sans-serif" font-size="7.60" text-anchor="middle" fill="#111" stroke="#111" stroke-width="0.25">C09</text>
<text x="79.10" y="111.60" font-family="'Liberation Sans', sans-serif" font-size="7.60" text-anchor="middle" fill="#111" stroke="#111" stroke-width="0.25">C35</text>
<text x="172.00" y="114.40" font-family="'Liberation Sans', sans-serif" font-size="7.60" text-anchor="middle" fill="#111" stroke="#111" stroke-width="0.25">C11</text>
<text x="108.80" y="121.90" font-family="'Liberation Sans', sans-serif" font-size="7.60" text-anchor="middle" fill="#111" stroke="#111" stroke-width="0.25">C34</text>
<text x="128.20" y="126.90" font-family="'Liberation Sans', sans-serif" font-size="7.60" text-anchor="middle" fill="#111" stroke="#111" stroke-width="0.25">C29</text>
<text x="73.50" y="126.90" font-family="'Liberation Sans', sans-serif" font-size="7.60" text-anchor="middle" fill="#111" stroke="#111" stroke-width="0.25">C24</text>
<text x="189.20" y="132.70" font-family="'Liberation Sans', sans-serif" font-size="7.60" text-anchor="middle" fill="#111" stroke="#111" stroke-width="0.25">C16</text>
<text x="144.30" y="133.80" font-family="'Liberation Sans', sans-serif" font-size="7.60" text-anchor="middle" fill="#111" stroke="#111" stroke-width="0.25">C12</text>
<text x="51.90" y="141.30" font-family="'Liberation Sans', sans-serif" font-size="7.60" text-anchor="middle" fill="#111" stroke="#111" stroke-width="0.25">C25</text>
<text x="142.00" y="143.50" font-family="'Liberation Sans', sans-serif" font-size="7.60" text-anchor="middle" fill="#111" stroke="#111" stroke-width="0.25">C07</text>
<text x="165.60" y="144.60" font-family="'Liberation Sans', sans-serif" font-size="7.60" text-anchor="middle" fill="#111" stroke="#111" stroke-width="0.25">C15</text>
<text x="109.60" y="144.10" font-family="'Liberation Sans', sans-serif" font-size="7.60" text-anchor="middle" fill="#111" stroke="#111" stroke-width="0.25">C30</text>
<text x="73.50" y="152.40" font-family="'Liberation Sans', sans-serif" font-size="7.60" text-anchor="middle" fill="#111" stroke="#111" stroke-width="0.25">C26</text>
<text x="89.40" y="150.20" font-family="'Liberation Sans', sans-serif" font-size="7.60" text-anchor="middle" fill="#111" stroke="#111" stroke-width="0.25">C23</text>
<text x="160.90" y="153.80" font-family="'Liberation Sans', sans-serif" font-size="7.60" text-anchor="middle" fill="#111" stroke="#111" stroke-width="0.25">C14</text>
<text x="119.30" y="158.50" font-family="'Liberation Sans', sans-serif" font-size="7.60" text-anchor="middle" fill="#111" stroke="#111" stroke-width="0.25">C05</text>
<text x="141.00" y="162.90" font-family="'Liberation Sans', sans-serif" font-size="7.60" text-anchor="middle" fill="#111" stroke="#111" stroke-width="0.25">C01</text>
<text x="114.30" y="169.60" font-family="'Liberation Sans', sans-serif" font-size="7.60" text-anchor="middle" fill="#111" stroke="#111" stroke-width="0.25">C04</text>
<text x="154.80" y="176.00" font-family="'Liberation Sans', sans-serif" font-size="7.60" text-anchor="middle" fill="#111" stroke="#111" stroke-width="0.25">C13</text>
<text x="125.40" y="178.20" font-family="'Liberation Sans', sans-serif" font-size="7.60" text-anchor="middle" fill="#111" stroke="#111" stroke-width="0.25">C06</text>
<text x="81.90" y="180.70" font-family="'Liberation Sans', sans-serif" font-size="7.60" text-anchor="middle" fill="#111" stroke="#111" stroke-width="0.25">C18</text>
<text x="141.00" y="185.10" font-family="'Liberation Sans', sans-serif" font-size="7.60" text-anchor="middle" fill="#111" stroke="#111" stroke-width="0.25">C03</text>
<text x="108.20" y="188.50" font-family="'Liberation Sans', sans-serif" font-size="7.60" text-anchor="middle" fill="#111" stroke="#111" stroke-width="0.25">C02</text>
<text x="21.90" y="113.00" font-family="'Liberation Serif', serif" font-size="9.80" font-weight="bold" text-anchor="middle" fill="#000" transform="rotate(-90 21.90 113.00)">TSNE2</text>
<text x="118.40" y="216.80" font-family="'Liberation Serif', serif" font-size="10.20" font-weight="bold" text-anchor="middle" fill="#000">TSNE1</text>
<text x="217.00" y="17.00" font-family="'Liberation Serif', serif" font-size="6.00" font-weight="bold" text-anchor="start" fill="#000">Cluster</text>
<circle cx="221.4" cy="29.50" r="4.9" fill="#7fd5e1"/>
<text x="229.40" y="31.30" font-family="'Liberation Serif', serif" font-size="5.20" font-weight="bold" text-anchor="start" fill="#000">C01</text>
<circle cx="221.4" cy="42.87" r="4.9" fill="#e8685a"/>
<text x="229.40" y="44.67" font-family="'Liberation Serif', serif" font-size="5.20" font-weight="bold" text-anchor="start" fill="#000">C02</text>
<circle cx="221.4" cy="56.24" r="4.9" fill="#5cc4a0"/>
<text x="229.40" y="58.04" font-family="'Liberation Serif', serif" font-size="5.20" font-weight="bold" text-anchor="start" fill="#000">C03</text>
<circle cx="221.4" cy="69.61" r="4.9" fill="#5e70a2"/>
<text x="229.40" y="71.41" font-family="'Liberation Serif', serif" font-size="5.20" font-weight="bold" text-anchor="start" fill="#000">C04</text>
<circle cx="221.4" cy="82.98" r="4.9" fill="#a27cc2"/>
<text x="229.40" y="84.78" font-family="'Liberation Serif', serif" font-size="5.20" font-weight="bold" text-anchor="start" fill="#000">C05</text>
<circle cx="221.4" cy="96.35" r="4.9" fill="#a8e2d2"/>
<text x="229.40" y="98.15" font-family="'Liberation Serif', serif" font-size="5.20" font-weight="bold" text-anchor="start" fill="#000">C06</text>
<circle cx="221.4" cy="109.72" r="4.9" fill="#9ea8cc"/>
<text x="229.40" y="111.52" font-family="'Liberation Serif', serif" font-size="5.20" font-weight="bold" text-anchor="start" fill="#000">C07</text>
<circle cx="221.4" cy="123.09" r="4.9" fill="#8c7a64"/>
<text x="229.40" y="124.89" font-family="'Liberation Serif', serif" font-size="5.20" font-weight="bold" text-anchor="start" fill="#000">C08</text>
<circle cx="221.4" cy="136.46" r="4.9" fill="#4a90c8"/>
<text x="229.40" y="138.26" font-family="'Liberation Serif', serif" font-size="5.20" font-weight="bold" text-anchor="start" fill="#000">C09</text>
<circle cx="221.4" cy="149.83" r="4.9" fill="#e09850"/>
<text x="229.40" y="151.63" font-family="'Liberation Serif', serif" font-size="5.20" font-weight="bold" text-anchor="start" fill="#000">C10</text>
<circle cx="221.4" cy="163.20" r="4.9" fill="#c0b098"/>
<text x="229.40" y="165.00" font-family="'Liberation Serif', serif" font-size="5.20" font-weight="bold" text-anchor="start" fill="#000">C11</text>
<circle cx="221.4" cy="176.57" r="4.9" fill="#4e9a6a"/>
<text x="229.40" y="178.37" font-family="'Liberation Serif', serif" font-size="5.20" font-weight="bold" text-anchor="start" fill="#000">C12</text>
<circle cx="221.4" cy="189.94" r="4.9" fill="#8eb0c0"/>
<text x="229.40" y="191.74" font-family="'Liberation Serif', serif" font-size="5.20" font-weight="bold" text-anchor="start" fill="#000">C13</text>
<circle cx="221.4" cy="203.31" r="4.9" fill="#f0e4a0"/>
<text x="229.40" y="205.11" font-family="'Liberation Serif', serif" font-size="5.20" font-weight="bold" text-anchor="start" fill="#000">C14</text>
<circle cx="247.8" cy="29.50" r="4.9" fill="#3a68a8"/>
<text x="255.80" y="31.30" font-family="'Liberation Serif', serif" font-size="5.20" font-weight="bold" text-anchor="start" fill="#000">C15</text>
<circle cx="247.8" cy="42.87" r="4.9" fill="#f0b8a0"/>
<text x="255.80" y="44.67" font-family="'Liberation Serif', serif" font-size="5.20" font-weight="bold" text-anchor="start" fill="#000">C16</text>
<circle cx="247.8" cy="56.24" r="4.9" fill="#c06068"/>
<text x="255.80" y="58.04" font-family="'Liberation Serif', serif" font-size="5.20" font-weight="bold" text-anchor="start" fill="#000">C17</text>
<circle cx="247.8" cy="69.61" r="4.9" fill="#88b0f0"/>
<text x="255.80" y="71.41" font-family="'Liberation Serif', serif" font-size="5.20" font-weight="bold" text-anchor="start" fill="#000">C18</text>
<circle cx="247.8" cy="82.98" r="4.9" fill="#a8b040"/>
<text x="255.80" y="84.78" font-family="'Liberation Serif', serif" font-size="5.20" font-weight="bold" text-anchor="start" fill="#000">C19</text>
<circle cx="247.8" cy="96.35" r="4.9" fill="#f4d0d8"/>
<text x="255.80" y="98.15" font-family="'Liberation Serif', serif" font-size="5.20" font-weight="bold" text-anchor="start" fill="#000">C20</text>
<circle cx="247.8" cy="109.72" r="4.9" fill="#5aa038"/>
<text x="255.80" y="111.52" font-family="'Liberation Serif', serif" font-size="5.20" font-weight="bold" text-anchor="start" fill="#000">C21</text>
<circle cx="247.8" cy="123.09" r="4.9" fill="#b0dcf8"/>
<text x="255.80" y="124.89" font-family="'Liberation Serif', serif" font-size="5.20" font-weight="bold" text-anchor="start" fill="#000">C22</text>
<circle cx="247.8" cy="136.46" r="4.9" fill="#e8d840"/>
<text x="255.80" y="138.26" font-family="'Liberation Serif', serif" font-size="5.20" font-weight="bold" text-anchor="start" fill="#000">C23</text>
<circle cx="247.8" cy="149.83" r="4.9" fill="#9c6c64"/>
<text x="255.80" y="151.63" font-family="'Liberation Serif', serif" font-size="5.20" font-weight="bold" text-anchor="start" fill="#000">C24</text>
<circle cx="247.8" cy="163.20" r="4.9" fill="#c8d050"/>
<text x="255.80" y="165.00" font-family="'Liberation Serif', serif" font-size="5.20" font-weight="bold" text-anchor="start" fill="#000">C25</text>
<circle cx="247.8" cy="176.57" r="4.9" fill="#a88030"/>
<text x="255.80" y="178.37" font-family="'Liberation Serif', serif" font-size="5.20" font-weight="bold" text-anchor="start" fill="#000">C26</text>
<circle cx="247.8" cy="189.94" r="4.9" fill="#78d070"/>
<text x="255.80" y="191.74" font-family="'Liberation Serif', serif" font-size="5.20" font-weight="bold" text-anchor="start" fill="#000">C27</text>
<circle cx="247.8" cy="203.31" r="4.9" fill="#e8a090"/>
<text x="255.80" y="205.11" font-family="'Liberation Serif', serif" font-size="5.20" font-weight="bold" text-anchor="start" fill="#000">C28</text>
<circle cx="274.3" cy="29.50" r="4.9" fill="#d84848"/>
<text x="282.30" y="31.30" font-family="'Liberation Serif', serif" font-size="5.20" font-weight="bold" text-anchor="start" fill="#000">C29</text>
<circle cx="274.3" cy="42.87" r="4.9" fill="#90b070"/>
<text x="282.30" y="44.67" font-family="'Liberation Serif', serif" font-size="5.20" font-weight="bold" text-anchor="start" fill="#000">C30</text>
<circle cx="274.3" cy="56.24" r="4.9" fill="#6a8aa0"/>
<text x="282.30" y="58.04" font-family="'Liberation Serif', serif" font-size="5.20" font-weight="bold" text-anchor="start" fill="#000">C31</text>
<circle cx="274.3" cy="69.61" r="4.9" fill="#eef098"/>
<text x="282.30" y="71.41" font-family="'Liberation Serif', serif" font-size="5.20" font-weight="bold" text-anchor="start" fill="#000">C32</text>
<circle cx="274.3" cy="82.98" r="4.9" fill="#e0a8c0"/>
<text x="282.30" y="84.78" font-family="'Liberation Serif', serif" font-size="5.20" font-weight="bold" text-anchor="start" fill="#000">C33</text>
<circle cx="274.3" cy="96.35" r="4.9" fill="#a86848"/>
<text x="282.30" y="98.15" font-family="'Liberation Serif', serif" font-size="5.20" font-weight="bold" text-anchor="start" fill="#000">C34</text>
<circle cx="274.3" cy="109.72" r="4.9" fill="#8a78c0"/>
<text x="282.30" y="111.52" font-family="'Liberation Serif', serif" font-size="5.20" font-weight="bold" text-anchor="start" fill="#000">C35</text>
<clipPath id="clipB0"><rect x="336.30" y="31.30" width="66.50" height="66.30"/></clipPath>
<g clip-path="url(#clipB0)"><g transform="translate(336.300 31.300) scale(0.36339 0.37670) translate(-28.70 -25.50)" filter="url(#nzB)">
<use href="#r_UL" fill="#fec776"/>
<use href="#r_CL" fill="#fdae61"/>
<use href="#r_R" fill="#fdae61"/>
<use href="#r_LL" fill="#fef0a5"/>
<use href="#r_BC" fill="#f2faac"/>
<use href="#r_C22" fill="#fdae61"/>
<use href="#r_C20" fill="#fec776"/>
<use href="#r_C19" fill="#fec776"/>
<use href="#r_C17" fill="#fee08b"/>
<use href="#r_C21" fill="#fef0a5"/>
<use href="#r_C22b" fill="#f2faac"/>
<use href="#r_C32y" fill="#fdae61"/>
<use href="#r_C33p" fill="#f88e52"/>
<use href="#r_C31s" fill="#f88e52"/>
<use href="#r_C31i" fill="#fdae61"/>
<use href="#r_C35" fill="#fef0a5"/>
<use href="#r_C34" fill="#fef0a5"/>
<use href="#r_C30" fill="#94d4a4"/>
<use href="#r_C29" fill="#abdda4"/>
<use href="#r_C27" fill="#fef0a5"/>
<use href="#r_C28" fill="#fdae61"/>
<use href="#r_C10" fill="#f67a49"/>
<use href="#r_C11a" fill="#f46d43"/>
<use href="#r_C08" fill="#eb5f47"/>
<use href="#r_C09" fill="#f88e52"/>
<use href="#r_C11b" fill="#de4c4b"/>
<use href="#r_C16" fill="#de4c4b"/>
<use href="#r_C15" fill="#fee08b"/>
<use href="#r_C09b" fill="#e6f598"/>
<use href="#r_C12" fill="#b7e2a2"/>
<use href="#r_C07" fill="#94d4a4"/>
<use href="#r_C14" fill="#abdda4"/>
<use href="#r_C06" fill="#e6f598"/>
<use href="#r_C01" fill="#e6f598"/>
<use href="#r_C04" fill="#abdda4"/>
<use href="#r_C02" fill="#fafdb7"/>
<use href="#r_C03" fill="#ffffbf"/>
<use href="#r_C05" fill="#e6f598"/>
<use href="#r_C13" fill="#e45649"/>
<use href="#r_C24" fill="#fdae61"/>
<use href="#r_C25" fill="#fec776"/>
<use href="#r_C26" fill="#ffffbf"/>
<use href="#r_C24b" fill="#fef0a5"/>
<use href="#r_C23" fill="#b7e2a2"/>
<use href="#r_C18" fill="#4a69ae"/>
<g fill="url(#spC)" fill-opacity="0.50"><use href="#r_UL"/><use href="#r_CL"/><use href="#r_R"/><use href="#r_LL"/><use href="#r_BC"/><use href="#r_C13"/></g>
<g fill="none" stroke="#fff" stroke-width="2.40"><use href="#r_UL"/><use href="#r_CL"/><use href="#r_LL"/><use href="#r_BC"/></g>
</g></g>
<rect x="336.30" y="31.30" width="66.50" height="66.30" fill="none" stroke="#555" stroke-width="0.9"/>
<text x="369.30" y="28.70" font-family="'Liberation Serif', serif" font-size="7.80" font-weight="bold" text-anchor="middle" fill="#000">CD45</text>
<text x="368.90" y="103.70" font-family="'Liberation Serif', serif" font-size="5.90" font-weight="bold" text-anchor="middle" fill="#000">TSNE1</text>
<text x="333.30" y="64.50" font-family="'Liberation Serif', serif" font-size="5.90" font-weight="bold" text-anchor="middle" fill="#000" transform="rotate(-90 333.30 64.50)">TSNE2</text>
<clipPath id="clipB1"><rect x="419.90" y="31.30" width="66.50" height="66.30"/></clipPath>
<g clip-path="url(#clipB1)"><g transform="translate(419.900 31.300) scale(0.36339 0.37670) translate(-28.70 -25.50)" filter="url(#nzB)">
<use href="#r_UL" fill="#ba2048"/>
<use href="#r_CL" fill="#f46d43"/>
<use href="#r_R" fill="#fdae61"/>
<use href="#r_LL" fill="#f46d43"/>
<use href="#r_BC" fill="#535da8"/>
<use href="#r_C22" fill="#ba2048"/>
<use href="#r_C20" fill="#c42c4b"/>
<use href="#r_C19" fill="#d53e4f"/>
<use href="#r_C17" fill="#d53e4f"/>
<use href="#r_C21" fill="#c42c4b"/>
<use href="#r_C22b" fill="#d53e4f"/>
<use href="#r_C32y" fill="#f46d43"/>
<use href="#r_C33p" fill="#f46d43"/>
<use href="#r_C31s" fill="#f88e52"/>
<use href="#r_C31i" fill="#fec776"/>
<use href="#r_C35" fill="#f46d43"/>
<use href="#r_C34" fill="#f88e52"/>
<use href="#r_C30" fill="#f2faac"/>
<use href="#r_C29" fill="#f2faac"/>
<use href="#r_C27" fill="#fef0a5"/>
<use href="#r_C28" fill="#fdae61"/>
<use href="#r_C10" fill="#f88e52"/>
<use href="#r_C11a" fill="#f88e52"/>
<use href="#r_C08" fill="#e45649"/>
<use href="#r_C09" fill="#f88e52"/>
<use href="#r_C11b" fill="#f46d43"/>
<use href="#r_C16" fill="#f88e52"/>
<use href="#r_C15" fill="#e6f598"/>
<use href="#r_C09b" fill="#fee08b"/>
<use href="#r_C12" fill="#ffffbf"/>
<use href="#r_C07" fill="#f2faac"/>
<use href="#r_C14" fill="#4299b6"/>
<use href="#r_C06" fill="#5160aa"/>
<use href="#r_C01" fill="#4a69ae"/>
<use href="#r_C04" fill="#5758a6"/>
<use href="#r_C02" fill="#5758a6"/>
<use href="#r_C03" fill="#4a69ae"/>
<use href="#r_C05" fill="#5758a6"/>
<use href="#r_C13" fill="#5160aa"/>
<use href="#r_C24" fill="#f46d43"/>
<use href="#r_C25" fill="#f46d43"/>
<use href="#r_C26" fill="#f88e52"/>
<use href="#r_C24b" fill="#f46d43"/>
<use href="#r_C23" fill="#fdae61"/>
<use href="#r_C18" fill="#f2faac"/>
<g fill="none" stroke="#fff" stroke-width="2.40"><use href="#r_UL"/><use href="#r_CL"/><use href="#r_LL"/><use href="#r_BC"/></g>
</g></g>
<rect x="419.90" y="31.30" width="66.50" height="66.30" fill="none" stroke="#555" stroke-width="0.9"/>
<text x="452.90" y="28.70" font-family="'Liberation Serif', serif" font-size="7.80" font-weight="bold" text-anchor="middle" fill="#000">CD11b</text>
<text x="452.50" y="103.70" font-family="'Liberation Serif', serif" font-size="5.90" font-weight="bold" text-anchor="middle" fill="#000">TSNE1</text>
<text x="416.90" y="64.50" font-family="'Liberation Serif', serif" font-size="5.90" font-weight="bold" text-anchor="middle" fill="#000" transform="rotate(-90 416.90 64.50)">TSNE2</text>
<clipPath id="clipB2"><rect x="503.30" y="31.30" width="66.50" height="66.30"/></clipPath>
<g clip-path="url(#clipB2)"><g transform="translate(503.300 31.300) scale(0.36339 0.37670) translate(-28.70 -25.50)" filter="url(#nzB)">
<use href="#r_UL" fill="#4299b6"/>
<use href="#r_CL" fill="#f46d43"/>
<use href="#r_R" fill="#ffffbf"/>
<use href="#r_LL" fill="#5758a6"/>
<use href="#r_BC" fill="#5758a6"/>
<use href="#r_C22" fill="#bde4a0"/>
<use href="#r_C20" fill="#c8e99e"/>
<use href="#r_C19" fill="#c8e99e"/>
<use href="#r_C17" fill="#abdda4"/>
<use href="#r_C21" fill="#5659a7"/>
<use href="#r_C22b" fill="#5659a7"/>
<use href="#r_C32y" fill="#f88e52"/>
<use href="#r_C33p" fill="#f46d43"/>
<use href="#r_C31s" fill="#f46d43"/>
<use href="#r_C31i" fill="#f88e52"/>
<use href="#r_C35" fill="#f88e52"/>
<use href="#r_C34" fill="#f88e52"/>
<use href="#r_C30" fill="#3486bc"/>
<use href="#r_C29" fill="#3486bc"/>
<use href="#r_C27" fill="#b7e2a2"/>
<use href="#r_C28" fill="#ebf7a0"/>
<use href="#r_C10" fill="#ebf7a0"/>
<use href="#r_C11a" fill="#fee08b"/>
<use href="#r_C08" fill="#b41947"/>
<use href="#r_C09" fill="#eb5f47"/>
<use href="#r_C11b" fill="#e45649"/>
<use href="#r_C16" fill="#de4c4b"/>
<use href="#r_C15" fill="#fdb869"/>
<use href="#r_C09b" fill="#3b7cb7"/>
<use href="#r_C12" fill="#3b7cb7"/>
<use href="#r_C07" fill="#3b7cb7"/>
<use href="#r_C14" fill="#e6f598"/>
<use href="#r_C06" fill="#5659a7"/>
<use href="#r_C01" fill="#5659a7"/>
<use href="#r_C04" fill="#5758a6"/>
<use href="#r_C02" fill="#5758a6"/>
<use href="#r_C03" fill="#5758a6"/>
<use href="#r_C05" fill="#5758a6"/>
<use href="#r_C13" fill="#4e64ac"/>
<use href="#r_C24" fill="#5758a6"/>
<use href="#r_C25" fill="#5758a6"/>
<use href="#r_C26" fill="#5758a6"/>
<use href="#r_C24b" fill="#5758a6"/>
<use href="#r_C23" fill="#5758a6"/>
<use href="#r_C18" fill="#5758a6"/>
<g fill="url(#spC)" fill-opacity="0.35"><use href="#r_UL"/><use href="#r_CL"/><use href="#r_R"/><use href="#r_LL"/><use href="#r_BC"/><use href="#r_C13"/></g>
<g fill="none" stroke="#fff" stroke-width="2.40"><use href="#r_UL"/><use href="#r_CL"/><use href="#r_LL"/><use href="#r_BC"/></g>
</g></g>
<rect x="503.30" y="31.30" width="66.50" height="66.30" fill="none" stroke="#555" stroke-width="0.9"/>
<text x="536.30" y="28.70" font-family="'Liberation Serif', serif" font-size="7.80" font-weight="bold" text-anchor="middle" fill="#000">F4/80</text>
<text x="535.90" y="103.70" font-family="'Liberation Serif', serif" font-size="5.90" font-weight="bold" text-anchor="middle" fill="#000">TSNE1</text>
<text x="500.30" y="64.50" font-family="'Liberation Serif', serif" font-size="5.90" font-weight="bold" text-anchor="middle" fill="#000" transform="rotate(-90 500.30 64.50)">TSNE2</text>
<clipPath id="clipB3"><rect x="586.80" y="31.30" width="66.50" height="66.30"/></clipPath>
<g clip-path="url(#clipB3)"><g transform="translate(586.800 31.300) scale(0.36339 0.37670) translate(-28.70 -25.50)" filter="url(#nzB)">
<use href="#r_UL" fill="#ba2048"/>
<use href="#r_CL" fill="#5758a6"/>
<use href="#r_R" fill="#5758a6"/>
<use href="#r_LL" fill="#e6f598"/>
<use href="#r_BC" fill="#5a54a4"/>
<use href="#r_C22" fill="#ba2048"/>
<use href="#r_C20" fill="#ba2048"/>
<use href="#r_C19" fill="#ba2048"/>
<use href="#r_C17" fill="#d53e4f"/>
<use href="#r_C21" fill="#d53e4f"/>
<use href="#r_C22b" fill="#e45649"/>
<use href="#r_C32y" fill="#abdda4"/>
<use href="#r_C33p" fill="#5758a6"/>
<use href="#r_C31s" fill="#5a54a4"/>
<use href="#r_C31i" fill="#c8e99e"/>
<use href="#r_C35" fill="#5a54a4"/>
<use href="#r_C34" fill="#5a54a4"/>
<use href="#r_C30" fill="#5758a6"/>
<use href="#r_C29" fill="#5a54a4"/>
<use href="#r_C27" fill="#5659a7"/>
<use href="#r_C28" fill="#5160aa"/>
<use href="#r_C10" fill="#5160aa"/>
<use href="#r_C11a" fill="#535da8"/>
<use href="#r_C08" fill="#555ba8"/>
<use href="#r_C09" fill="#5758a6"/>
<use href="#r_C11b" fill="#5758a6"/>
<use href="#r_C16" fill="#5758a6"/>
<use href="#r_C15" fill="#5956a5"/>
<use href="#r_C09b" fill="#5956a5"/>
<use href="#r_C12" fill="#5956a5"/>
<use href="#r_C07" fill="#5956a5"/>
<use href="#r_C14" fill="#5956a5"/>
<use href="#r_C06" fill="#5a54a4"/>
<use href="#r_C01" fill="#5a54a4"/>
<use href="#r_C04" fill="#5a54a4"/>
<use href="#r_C02" fill="#5a54a4"/>
<use href="#r_C03" fill="#5a54a4"/>
<use href="#r_C05" fill="#5a54a4"/>
<use href="#r_C13" fill="#5a54a4"/>
<use href="#r_C24" fill="#eef8a4"/>
<use href="#r_C25" fill="#f2faac"/>
<use href="#r_C26" fill="#e6f598"/>
<use href="#r_C24b" fill="#e6f598"/>
<use href="#r_C23" fill="#70c6a5"/>
<use href="#r_C18" fill="#c8e99e"/>
<g fill="none" stroke="#fff" stroke-width="2.40"><use href="#r_UL"/><use href="#r_CL"/><use href="#r_LL"/><use href="#r_BC"/></g>
</g></g>
<rect x="586.80" y="31.30" width="66.50" height="66.30" fill="none" stroke="#555" stroke-width="0.9"/>
<text x="619.80" y="28.70" font-family="'Liberation Serif', serif" font-size="7.80" font-weight="bold" text-anchor="middle" fill="#000">Ly6G</text>
<text x="619.40" y="103.70" font-family="'Liberation Serif', serif" font-size="5.90" font-weight="bold" text-anchor="middle" fill="#000">TSNE1</text>
<text x="583.80" y="64.50" font-family="'Liberation Serif', serif" font-size="5.90" font-weight="bold" text-anchor="middle" fill="#000" transform="rotate(-90 583.80 64.50)">TSNE2</text>
<clipPath id="clipB4"><rect x="336.30" y="122.20" width="66.50" height="66.30"/></clipPath>
<g clip-path="url(#clipB4)"><g transform="translate(336.300 122.200) scale(0.36339 0.37670) translate(-28.70 -25.50)" filter="url(#nzB)">
<use href="#r_UL" fill="#5160aa"/>
<use href="#r_CL" fill="#535da8"/>
<use href="#r_R" fill="#4a69ae"/>
<use href="#r_LL" fill="#5160aa"/>
<use href="#r_BC" fill="#5160aa"/>
<use href="#r_C22" fill="#5160aa"/>
<use href="#r_C20" fill="#5160aa"/>
<use href="#r_C19" fill="#5160aa"/>
<use href="#r_C17" fill="#5160aa"/>
<use href="#r_C21" fill="#5160aa"/>
<use href="#r_C22b" fill="#5160aa"/>
<use href="#r_C32y" fill="#535da8"/>
<use href="#r_C33p" fill="#535da8"/>
<use href="#r_C31s" fill="#535da8"/>
<use href="#r_C31i" fill="#535da8"/>
<use href="#r_C35" fill="#535da8"/>
<use href="#r_C34" fill="#535da8"/>
<use href="#r_C30" fill="#4a69ae"/>
<use href="#r_C29" fill="#ffffbf"/>
<use href="#r_C27" fill="#5160aa"/>
<use href="#r_C28" fill="#4e64ac"/>
<use href="#r_C10" fill="#4a69ae"/>
<use href="#r_C11a" fill="#e6f598"/>
<use href="#r_C08" fill="#d53e4f"/>
<use href="#r_C09" fill="#e45649"/>
<use href="#r_C11b" fill="#f88e52"/>
<use href="#r_C16" fill="#d53e4f"/>
<use href="#r_C15" fill="#4299b6"/>
<use href="#r_C09b" fill="#4372b3"/>
<use href="#r_C12" fill="#4299b6"/>
<use href="#r_C07" fill="#4372b3"/>
<use href="#r_C14" fill="#4d65ad"/>
<use href="#r_C06" fill="#5160aa"/>
<use href="#r_C01" fill="#5160aa"/>
<use href="#r_C04" fill="#5160aa"/>
<use href="#r_C02" fill="#5160aa"/>
<use href="#r_C03" fill="#5160aa"/>
<use href="#r_C05" fill="#5160aa"/>
<use href="#r_C13" fill="#4a69ae"/>
<use href="#r_C24" fill="#5160aa"/>
<use href="#r_C25" fill="#5160aa"/>
<use href="#r_C26" fill="#5160aa"/>
<use href="#r_C24b" fill="#5160aa"/>
<use href="#r_C23" fill="#5160aa"/>
<use href="#r_C18" fill="#5160aa"/>
<g fill="url(#spC)" fill-opacity="0.50"><use href="#r_UL"/><use href="#r_CL"/><use href="#r_R"/><use href="#r_LL"/><use href="#r_BC"/><use href="#r_C13"/></g>
<g fill="none" stroke="#fff" stroke-width="2.40"><use href="#r_UL"/><use href="#r_CL"/><use href="#r_LL"/><use href="#r_BC"/></g>
</g></g>
<rect x="336.30" y="122.20" width="66.50" height="66.30" fill="none" stroke="#555" stroke-width="0.9"/>
<text x="369.30" y="118.30" font-family="'Liberation Serif', serif" font-size="7.80" font-weight="bold" text-anchor="middle" fill="#000">CD206</text>
<text x="368.90" y="194.60" font-family="'Liberation Serif', serif" font-size="5.90" font-weight="bold" text-anchor="middle" fill="#000">TSNE1</text>
<text x="333.30" y="155.40" font-family="'Liberation Serif', serif" font-size="5.90" font-weight="bold" text-anchor="middle" fill="#000" transform="rotate(-90 333.30 155.40)">TSNE2</text>
<clipPath id="clipB5"><rect x="419.90" y="122.20" width="66.50" height="66.30"/></clipPath>
<g clip-path="url(#clipB5)"><g transform="translate(419.900 122.200) scale(0.36339 0.37670) translate(-28.70 -25.50)" filter="url(#nzB)">
<use href="#r_UL" fill="#fec776"/>
<use href="#r_CL" fill="#70c6a5"/>
<use href="#r_R" fill="#4a69ae"/>
<use href="#r_LL" fill="#e6f598"/>
<use href="#r_BC" fill="#4299b6"/>
<use href="#r_C22" fill="#fec776"/>
<use href="#r_C20" fill="#fec776"/>
<use href="#r_C19" fill="#fec776"/>
<use href="#r_C17" fill="#fec776"/>
<use href="#r_C21" fill="#fee08b"/>
<use href="#r_C22b" fill="#fee08b"/>
<use href="#r_C32y" fill="#ebf7a0"/>
<use href="#r_C33p" fill="#f2faac"/>
<use href="#r_C31s" fill="#5160aa"/>
<use href="#r_C31i" fill="#abdda4"/>
<use href="#r_C35" fill="#5160aa"/>
<use href="#r_C34" fill="#5160aa"/>
<use href="#r_C30" fill="#5160aa"/>
<use href="#r_C29" fill="#5160aa"/>
<use href="#r_C27" fill="#ba2048"/>
<use href="#r_C28" fill="#f88e52"/>
<use href="#r_C10" fill="#e6f598"/>
<use href="#r_C11a" fill="#c8e99e"/>
<use href="#r_C08" fill="#abdda4"/>
<use href="#r_C09" fill="#70c6a5"/>
<use href="#r_C11b" fill="#4a69ae"/>
<use href="#r_C16" fill="#4d65ad"/>
<use href="#r_C15" fill="#5160aa"/>
<use href="#r_C09b" fill="#5160aa"/>
<use href="#r_C12" fill="#5160aa"/>
<use href="#r_C07" fill="#5160aa"/>
<use href="#r_C14" fill="#4a69ae"/>
<use href="#r_C06" fill="#5160aa"/>
<use href="#r_C01" fill="#4a69ae"/>
<use href="#r_C04" fill="#4e64ac"/>
<use href="#r_C02" fill="#fba15b"/>
<use href="#r_C03" fill="#fee08b"/>
<use href="#r_C05" fill="#5160aa"/>
<use href="#r_C13" fill="#5160aa"/>
<use href="#r_C24" fill="#e6f598"/>
<use href="#r_C25" fill="#e6f598"/>
<use href="#r_C26" fill="#e6f598"/>
<use href="#r_C24b" fill="#e6f598"/>
<use href="#r_C23" fill="#70c6a5"/>
<use href="#r_C18" fill="#5160aa"/>
<g fill="none" stroke="#fff" stroke-width="2.40"><use href="#r_UL"/><use href="#r_CL"/><use href="#r_LL"/><use href="#r_BC"/></g>
</g></g>
<rect x="419.90" y="122.20" width="66.50" height="66.30" fill="none" stroke="#555" stroke-width="0.9"/>
<text x="452.90" y="118.30" font-family="'Liberation Serif', serif" font-size="7.80" font-weight="bold" text-anchor="middle" fill="#000">Ly6C</text>
<text x="452.50" y="194.60" font-family="'Liberation Serif', serif" font-size="5.90" font-weight="bold" text-anchor="middle" fill="#000">TSNE1</text>
<text x="416.90" y="155.40" font-family="'Liberation Serif', serif" font-size="5.90" font-weight="bold" text-anchor="middle" fill="#000" transform="rotate(-90 416.90 155.40)">TSNE2</text>
<clipPath id="clipB6"><rect x="503.30" y="122.20" width="66.50" height="66.30"/></clipPath>
<g clip-path="url(#clipB6)"><g transform="translate(503.300 122.200) scale(0.36339 0.37670) translate(-28.70 -25.50)" filter="url(#nzB)">
<use href="#r_UL" fill="#4a69ae"/>
<use href="#r_CL" fill="#4299b6"/>
<use href="#r_R" fill="#fee08b"/>
<use href="#r_LL" fill="#4299b6"/>
<use href="#r_BC" fill="#4a69ae"/>
<use href="#r_C22" fill="#535da8"/>
<use href="#r_C20" fill="#abdda4"/>
<use href="#r_C19" fill="#abdda4"/>
<use href="#r_C17" fill="#4299b6"/>
<use href="#r_C21" fill="#535da8"/>
<use href="#r_C22b" fill="#535da8"/>
<use href="#r_C32y" fill="#535da8"/>
<use href="#r_C33p" fill="#4a69ae"/>
<use href="#r_C31s" fill="#e6f598"/>
<use href="#r_C31i" fill="#f2faac"/>
<use href="#r_C35" fill="#535da8"/>
<use href="#r_C34" fill="#c8e99e"/>
<use href="#r_C30" fill="#e6f598"/>
<use href="#r_C29" fill="#fee08b"/>
<use href="#r_C27" fill="#5160aa"/>
<use href="#r_C28" fill="#4a69ae"/>
<use href="#r_C10" fill="#ffffbf"/>
<use href="#r_C11a" fill="#abdda4"/>
<use href="#r_C08" fill="#4299b6"/>
<use href="#r_C09" fill="#70c6a5"/>
<use href="#r_C11b" fill="#fee08b"/>
<use href="#r_C16" fill="#d53e4f"/>
<use href="#r_C15" fill="#d53e4f"/>
<use href="#r_C09b" fill="#ffffbf"/>
<use href="#r_C12" fill="#f46d43"/>
<use href="#r_C07" fill="#fee08b"/>
<use href="#r_C14" fill="#fef0a5"/>
<use href="#r_C06" fill="#4a69ae"/>
<use href="#r_C01" fill="#4299b6"/>
<use href="#r_C04" fill="#5160aa"/>
<use href="#r_C02" fill="#5160aa"/>
<use href="#r_C03" fill="#f2faac"/>
<use href="#r_C05" fill="#5160aa"/>
<use href="#r_C13" fill="#d53e4f"/>
<use href="#r_C24" fill="#c8e99e"/>
<use href="#r_C25" fill="#abdda4"/>
<use href="#r_C26" fill="#5160aa"/>
<use href="#r_C24b" fill="#4299b6"/>
<use href="#r_C23" fill="#4a69ae"/>
<use href="#r_C18" fill="#535da8"/>
<g fill="url(#spC)" fill-opacity="0.30"><use href="#r_UL"/><use href="#r_CL"/><use href="#r_R"/><use href="#r_LL"/><use href="#r_BC"/><use href="#r_C13"/></g>
<g fill="none" stroke="#fff" stroke-width="2.40"><use href="#r_UL"/><use href="#r_CL"/><use href="#r_LL"/><use href="#r_BC"/></g>
</g></g>
<rect x="503.30" y="122.20" width="66.50" height="66.30" fill="none" stroke="#555" stroke-width="0.9"/>
<text x="536.30" y="118.30" font-family="'Liberation Serif', serif" font-size="7.80" font-weight="bold" text-anchor="middle" fill="#000">CD11c</text>
<text x="535.90" y="194.60" font-family="'Liberation Serif', serif" font-size="5.90" font-weight="bold" text-anchor="middle" fill="#000">TSNE1</text>
<text x="500.30" y="155.40" font-family="'Liberation Serif', serif" font-size="5.90" font-weight="bold" text-anchor="middle" fill="#000" transform="rotate(-90 500.30 155.40)">TSNE2</text>
<clipPath id="clipB7"><rect x="586.80" y="122.20" width="66.50" height="66.30"/></clipPath>
<g clip-path="url(#clipB7)"><g transform="translate(586.800 122.200) scale(0.36339 0.37670) translate(-28.70 -25.50)" filter="url(#nzB)">
<use href="#r_UL" fill="#4a69ae"/>
<use href="#r_CL" fill="#5160aa"/>
<use href="#r_R" fill="#f88e52"/>
<use href="#r_LL" fill="#4a69ae"/>
<use href="#r_BC" fill="#5160aa"/>
<use href="#r_C22" fill="#4a69ae"/>
<use href="#r_C20" fill="#70c6a5"/>
<use href="#r_C19" fill="#4299b6"/>
<use href="#r_C17" fill="#4a69ae"/>
<use href="#r_C21" fill="#4a69ae"/>
<use href="#r_C22b" fill="#4a69ae"/>
<use href="#r_C32y" fill="#5160aa"/>
<use href="#r_C33p" fill="#5160aa"/>
<use href="#r_C31s" fill="#5160aa"/>
<use href="#r_C31i" fill="#5160aa"/>
<use href="#r_C35" fill="#5160aa"/>
<use href="#r_C34" fill="#5160aa"/>
<use href="#r_C30" fill="#e6f598"/>
<use href="#r_C29" fill="#fec776"/>
<use href="#r_C27" fill="#5160aa"/>
<use href="#r_C28" fill="#e6f598"/>
<use href="#r_C10" fill="#d53e4f"/>
<use href="#r_C11a" fill="#f88e52"/>
<use href="#r_C08" fill="#fec776"/>
<use href="#r_C09" fill="#f88e52"/>
<use href="#r_C11b" fill="#e45649"/>
<use href="#r_C16" fill="#e45649"/>
<use href="#r_C15" fill="#f67a49"/>
<use href="#r_C09b" fill="#fec776"/>
<use href="#r_C12" fill="#c42c4b"/>
<use href="#r_C07" fill="#fec776"/>
<use href="#r_C14" fill="#fef0a5"/>
<use href="#r_C06" fill="#5160aa"/>
<use href="#r_C01" fill="#5160aa"/>
<use href="#r_C04" fill="#5160aa"/>
<use href="#r_C02" fill="#5160aa"/>
<use href="#r_C03" fill="#5160aa"/>
<use href="#r_C05" fill="#5160aa"/>
<use href="#r_C13" fill="#d53e4f"/>
<use href="#r_C24" fill="#4a69ae"/>
<use href="#r_C25" fill="#4a69ae"/>
<use href="#r_C26" fill="#4a69ae"/>
<use href="#r_C24b" fill="#4a69ae"/>
<use href="#r_C23" fill="#4a69ae"/>
<use href="#r_C18" fill="#4a69ae"/>
<g fill="url(#spC)" fill-opacity="0.45"><use href="#r_UL"/><use href="#r_CL"/><use href="#r_R"/><use href="#r_LL"/><use href="#r_BC"/><use href="#r_C13"/></g>
<g fill="none" stroke="#fff" stroke-width="2.40"><use href="#r_UL"/><use href="#r_CL"/><use href="#r_LL"/><use href="#r_BC"/></g>
</g></g>
<rect x="586.80" y="122.20" width="66.50" height="66.30" fill="none" stroke="#555" stroke-width="0.9"/>
<text x="619.80" y="118.30" font-family="'Liberation Serif', serif" font-size="7.80" font-weight="bold" text-anchor="middle" fill="#000">MHCII</text>
<text x="619.40" y="194.60" font-family="'Liberation Serif', serif" font-size="5.90" font-weight="bold" text-anchor="middle" fill="#000">TSNE1</text>
<text x="583.80" y="155.40" font-family="'Liberation Serif', serif" font-size="5.90" font-weight="bold" text-anchor="middle" fill="#000" transform="rotate(-90 583.80 155.40)">TSNE2</text>
<clipPath id="clipC"><rect x="52.00" y="246.30" width="141.80" height="141.70"/></clipPath>
<g clip-path="url(#clipC)"><g transform="translate(52.000 246.300) scale(0.77486 0.80511) translate(-28.70 -25.50)" filter="url(#nzC)">
<use href="#r_UL" fill="#556eb1"/>
<use href="#r_CL" fill="#5c65ad"/>
<use href="#r_R" fill="#5173b4"/>
<use href="#r_LL" fill="#556eb1"/>
<use href="#r_BC" fill="#5a68ae"/>
<use href="#r_C22" fill="#5173b4"/>
<use href="#r_C20" fill="#4584bc"/>
<use href="#r_C19" fill="#ffffc2"/>
<use href="#r_C17" fill="#e7f69d"/>
<use href="#r_C21" fill="#5a68ae"/>
<use href="#r_C22b" fill="#5a68ae"/>
<use href="#r_C32y" fill="#556eb1"/>
<use href="#r_C33p" fill="#5a68ae"/>
<use href="#r_C31s" fill="#5c65ad"/>
<use href="#r_C31i" fill="#4584bc"/>
<use href="#r_C35" fill="#5c65ad"/>
<use href="#r_C34" fill="#5a68ae"/>
<use href="#r_C30" fill="#e55e52"/>
<use href="#r_C29" fill="#e55e52"/>
<use href="#r_C27" fill="#4d78b6"/>
<use href="#r_C28" fill="#afdfa9"/>
<use href="#r_C10" fill="#4d78b6"/>
<use href="#r_C11a" fill="#3c8ec0"/>
<use href="#r_C08" fill="#e7f69d"/>
<use href="#r_C09" fill="#4584bc"/>
<use href="#r_C11b" fill="#4584bc"/>
<use href="#r_C16" fill="#8ed2a9"/>
<use href="#r_C15" fill="#4f75b5"/>
<use href="#r_C09b" fill="#497eb9"/>
<use href="#r_C12" fill="#497eb9"/>
<use href="#r_C07" fill="#4d78b6"/>
<use href="#r_C14" fill="#4d78b6"/>
<use href="#r_C06" fill="#5a68ae"/>
<use href="#r_C01" fill="#5a68ae"/>
<use href="#r_C04" fill="#5a68ae"/>
<use href="#r_C02" fill="#5a68ae"/>
<use href="#r_C03" fill="#5a68ae"/>
<use href="#r_C05" fill="#5a68ae"/>
<use href="#r_C13" fill="#4d78b6"/>
<use href="#r_C24" fill="#e55e52"/>
<use href="#r_C25" fill="#586baf"/>
<use href="#r_C26" fill="#8ed2a9"/>
<use href="#r_C24b" fill="#55aab5"/>
<use href="#r_C23" fill="#4d78b6"/>
<use href="#r_C18" fill="#5a68ae"/>
<clipPath id="clipC_x"><use href="#r_UL"/><use href="#r_CL"/><use href="#r_R"/><use href="#r_LL"/><use href="#r_BC"/><use href="#r_C13"/></clipPath><g clip-path="url(#clipC_x)">
<ellipse cx="125.7" cy="39.6" rx="13.0" ry="10.0" fill="#fee08b"/>
<ellipse cx="125.7" cy="39.6" rx="10.0" ry="7.5" fill="#d53e4f"/>
<ellipse cx="145.8" cy="69.5" rx="5.0" ry="10.0" fill="#fdae61"/>
<ellipse cx="145.8" cy="69.5" rx="3.5" ry="8.0" fill="#c8283f"/>
<ellipse cx="195.2" cy="74.8" rx="5.0" ry="8.0" fill="#fee08b"/>
<ellipse cx="196.1" cy="74.8" rx="3.5" ry="6.5" fill="#a8083f"/>
<ellipse cx="198.9" cy="99.4" rx="3.0" ry="5.0" fill="#a8083f"/>
<ellipse cx="187.9" cy="117.0" rx="4.0" ry="3.0" fill="#d53e4f"/>
<ellipse cx="127.5" cy="141.7" rx="14.0" ry="11.0" fill="#fee08b"/>
<ellipse cx="127.5" cy="141.7" rx="11.0" ry="8.5" fill="#b0103f"/>
<ellipse cx="37.9" cy="125.8" rx="7.0" ry="11.0" fill="#fdae61"/>
<ellipse cx="36.9" cy="125.8" rx="5.0" ry="9.0" fill="#a8083f"/>
<ellipse cx="65.3" cy="46.6" rx="9.0" ry="3.5" fill="#fdae61"/>
<ellipse cx="129.3" cy="104.7" rx="5.0" ry="7.0" fill="#e6f598"/>
<ellipse cx="83.6" cy="127.6" rx="9.0" ry="4.0" fill="#abdda4"/>
<ellipse cx="98.2" cy="169.8" rx="3.0" ry="5.0" fill="#fdae61"/>
<ellipse cx="59.8" cy="87.1" rx="3.0" ry="4.0" fill="#e6f598"/>
<ellipse cx="160.5" cy="78.3" rx="5.0" ry="4.0" fill="#fdae61"/>
<ellipse cx="171.4" cy="104.7" rx="4.0" ry="3.0" fill="#f46d43"/>
<ellipse cx="138.5" cy="60.7" rx="4.0" ry="6.0" fill="#e6f598"/>
<ellipse cx="149.5" cy="88.9" rx="4.0" ry="6.0" fill="#fee08b"/>
<ellipse cx="149.5" cy="88.9" rx="2.5" ry="4.0" fill="#d53e4f"/>
<ellipse cx="134.8" cy="99.4" rx="5.0" ry="4.0" fill="#e6f598"/>
<ellipse cx="156.8" cy="122.3" rx="4.0" ry="3.0" fill="#fdae61"/>
<ellipse cx="178.8" cy="81.8" rx="4.0" ry="4.0" fill="#e6f598"/>
<ellipse cx="175.1" cy="131.1" rx="4.0" ry="3.0" fill="#e6f598"/>
<ellipse cx="142.2" cy="134.6" rx="4.0" ry="3.0" fill="#abdda4"/>
<ellipse cx="165.9" cy="46.6" rx="4.0" ry="3.0" fill="#abdda4"/>
<ellipse cx="189.7" cy="51.9" rx="5.0" ry="3.0" fill="#fdae61"/>
<ellipse cx="112.9" cy="78.3" rx="3.0" ry="3.0" fill="#abdda4"/>
<ellipse cx="72.6" cy="145.2" rx="4.0" ry="3.0" fill="#fdae61"/>
<ellipse cx="50.7" cy="152.2" rx="3.0" ry="3.0" fill="#e6f598"/>
</g>
<g fill="url(#spC)" fill-opacity="0.85"><use href="#r_UL"/><use href="#r_CL"/><use href="#r_R"/><use href="#r_LL"/><use href="#r_BC"/><use href="#r_C13"/></g>
<g fill="none" stroke="#fff" stroke-width="1.80"><use href="#r_UL"/><use href="#r_CL"/><use href="#r_LL"/><use href="#r_BC"/></g>
</g></g>
<rect x="52.00" y="246.30" width="141.80" height="141.70" fill="none" stroke="#555" stroke-width="0.9"/>
<text x="121.50" y="241.50" font-family="'Liberation Serif', serif" font-size="8.50" font-weight="bold" text-anchor="middle" fill="#000">PD-L1</text>
<text x="125.60" y="400.40" font-family="'Liberation Serif', serif" font-size="8.30" font-weight="bold" text-anchor="middle" fill="#000">TSNE1</text>
<text x="47.00" y="317.50" font-family="'Liberation Serif', serif" font-size="8.30" font-weight="bold" text-anchor="middle" fill="#000" transform="rotate(-90 47.00 317.50)">TSNE2</text>
<text x="119.00" y="216.80" font-family="'Liberation Serif', serif" font-size="1.00" text-anchor="start" fill="#000"></text>
<clipPath id="clipE"><rect x="22.40" y="462.70" width="141.60" height="141.10"/></clipPath>
<g clip-path="url(#clipE)"><g transform="translate(22.400 462.700) scale(0.77377 0.80170) translate(-28.70 -25.50)" filter="url(#nzC)">
<use href="#r_UL" fill="#fec97a"/>
<use href="#r_CL" fill="#fba460"/>
<use href="#r_R" fill="#e55b4e"/>
<use href="#r_LL" fill="#fdb066"/>
<use href="#r_BC" fill="#5e5ba8"/>
<use href="#r_C22" fill="#fec97a"/>
<use href="#r_C20" fill="#fdb066"/>
<use href="#r_C19" fill="#fec97a"/>
<use href="#r_C17" fill="#fec97a"/>
<use href="#r_C21" fill="#fee18e"/>
<use href="#r_C22b" fill="#caeaa1"/>
<use href="#r_C32y" fill="#fee18e"/>
<use href="#r_C33p" fill="#fba460"/>
<use href="#r_C31s" fill="#f89157"/>
<use href="#r_C31i" fill="#fdb066"/>
<use href="#r_C35" fill="#fee18e"/>
<use href="#r_C34" fill="#f89157"/>
<use href="#r_C30" fill="#f2faae"/>
<use href="#r_C29" fill="#fee18e"/>
<use href="#r_C27" fill="#f89157"/>
<use href="#r_C28" fill="#f47149"/>
<use href="#r_C10" fill="#e55b4e"/>
<use href="#r_C11a" fill="#e55b4e"/>
<use href="#r_C08" fill="#e55b4e"/>
<use href="#r_C09" fill="#e55b4e"/>
<use href="#r_C11b" fill="#d64454"/>
<use href="#r_C16" fill="#c63250"/>
<use href="#r_C15" fill="#d64454"/>
<use href="#r_C09b" fill="#fec97a"/>
<use href="#r_C12" fill="#fdb066"/>
<use href="#r_C07" fill="#ffffc1"/>
<use href="#r_C14" fill="#fef0a8"/>
<use href="#r_C06" fill="#4f6eb0"/>
<use href="#r_C01" fill="#4f6eb0"/>
<use href="#r_C04" fill="#5862ab"/>
<use href="#r_C02" fill="#5c5da9"/>
<use href="#r_C03" fill="#5862ab"/>
<use href="#r_C05" fill="#5c5da9"/>
<use href="#r_C13" fill="#fdb066"/>
<use href="#r_C24" fill="#fdb066"/>
<use href="#r_C25" fill="#fec97a"/>
<use href="#r_C26" fill="#fdb066"/>
<use href="#r_C24b" fill="#fdb066"/>
<use href="#r_C23" fill="#fee18e"/>
<use href="#r_C18" fill="#fee18e"/>
<clipPath id="clipE_x"><use href="#r_UL"/><use href="#r_CL"/><use href="#r_R"/><use href="#r_LL"/><use href="#r_BC"/><use href="#r_C13"/></clipPath><g clip-path="url(#clipE_x)">
<ellipse cx="45.2" cy="99.4" rx="6.0" ry="4.0" fill="#5e70b0"/>
<ellipse cx="114.7" cy="131.1" rx="6.0" ry="6.0" fill="#8fcfa5"/>
<ellipse cx="83.6" cy="162.8" rx="6.0" ry="4.0" fill="#8fcfa5"/>
<ellipse cx="43.3" cy="60.7" rx="8.0" ry="6.0" fill="#e6f598"/>
<ellipse cx="65.3" cy="78.3" rx="6.0" ry="6.0" fill="#e6f598"/>
<ellipse cx="87.3" cy="110.0" rx="5.0" ry="5.0" fill="#8fcfa5"/>
</g>
<g fill="url(#spY)" fill-opacity="0.60"><use href="#r_UL"/><use href="#r_CL"/><use href="#r_R"/><use href="#r_LL"/><use href="#r_BC"/><use href="#r_C13"/></g>
<g fill="none" stroke="#fff" stroke-width="1.80"><use href="#r_UL"/><use href="#r_CL"/><use href="#r_LL"/><use href="#r_BC"/></g>
</g></g>
<rect x="22.40" y="462.70" width="141.60" height="141.10" fill="none" stroke="#555" stroke-width="0.9"/>
<text x="91.30" y="457.50" font-family="'Liberation Serif', serif" font-size="8.50" font-weight="bold" text-anchor="middle" fill="#000">SIRPα</text>
<text x="96.20" y="616.00" font-family="'Liberation Serif', serif" font-size="8.30" font-weight="bold" text-anchor="middle" fill="#000">TSNE1</text>
<text x="17.00" y="532.60" font-family="'Liberation Serif', serif" font-size="8.30" font-weight="bold" text-anchor="middle" fill="#000" transform="rotate(-90 17.00 532.60)">TSNE2</text>
<rect x="288.50" y="269.25" width="10.46" height="9.02" fill="#4471b2"/>
<rect x="298.91" y="269.25" width="10.46" height="9.02" fill="#4471b2"/>
<rect x="309.33" y="269.25" width="10.46" height="9.02" fill="#66c2a5"/>
<rect x="319.74" y="269.25" width="10.46" height="9.02" fill="#4471b2"/>
<rect x="330.16" y="269.25" width="10.46" height="9.02" fill="#66c2a5"/>
<rect x="340.57" y="269.25" width="10.46" height="9.02" fill="#abdda4"/>
<rect x="350.98" y="269.25" width="10.46" height="9.02" fill="#f2faac"/>
<rect x="361.40" y="269.25" width="10.46" height="9.02" fill="#9e0142"/>
<rect x="371.81" y="269.25" width="10.46" height="9.02" fill="#d53e4f"/>
<rect x="382.23" y="269.25" width="10.46" height="9.02" fill="#af1346"/>
<rect x="392.64" y="269.25" width="10.46" height="9.02" fill="#9e0142"/>
<rect x="403.05" y="269.25" width="10.46" height="9.02" fill="#fdb869"/>
<rect x="413.47" y="269.25" width="10.46" height="9.02" fill="#f2faac"/>
<rect x="423.88" y="269.25" width="10.46" height="9.02" fill="#c8e99e"/>
<rect x="434.30" y="269.25" width="10.46" height="9.02" fill="#ffffbf"/>
<rect x="444.71" y="269.25" width="10.46" height="9.02" fill="#ffffbf"/>
<rect x="455.12" y="269.25" width="10.46" height="9.02" fill="#9e0142"/>
<rect x="465.54" y="269.25" width="10.46" height="9.02" fill="#fee08b"/>
<rect x="475.95" y="269.25" width="10.46" height="9.02" fill="#9e0142"/>
<rect x="486.37" y="269.25" width="10.46" height="9.02" fill="#9e0142"/>
<rect x="496.78" y="269.25" width="10.46" height="9.02" fill="#9e0142"/>
<rect x="507.19" y="269.25" width="10.46" height="9.02" fill="#9e0142"/>
<rect x="517.61" y="269.25" width="10.46" height="9.02" fill="#f46d43"/>
<rect x="528.02" y="269.25" width="10.46" height="9.02" fill="#d53e4f"/>
<rect x="538.44" y="269.25" width="10.46" height="9.02" fill="#d53e4f"/>
<rect x="548.85" y="269.25" width="10.46" height="9.02" fill="#d53e4f"/>
<rect x="559.26" y="269.25" width="10.46" height="9.02" fill="#e45649"/>
<rect x="569.68" y="269.25" width="10.46" height="9.02" fill="#d53e4f"/>
<rect x="580.09" y="269.25" width="10.46" height="9.02" fill="#f46d43"/>
<rect x="590.51" y="269.25" width="10.46" height="9.02" fill="#fafdb7"/>
<rect x="600.92" y="269.25" width="10.46" height="9.02" fill="#9e0142"/>
<rect x="611.33" y="269.25" width="10.46" height="9.02" fill="#9e0142"/>
<rect x="621.75" y="269.25" width="10.46" height="9.02" fill="#a90d45"/>
<rect x="632.16" y="269.25" width="10.46" height="9.02" fill="#c42c4b"/>
<rect x="642.58" y="269.25" width="10.46" height="9.02" fill="#ca324c"/>
<rect x="288.50" y="278.22" width="10.46" height="9.02" fill="#5659a7"/>
<rect x="298.91" y="278.22" width="10.46" height="9.02" fill="#3e78b5"/>
<rect x="309.33" y="278.22" width="10.46" height="9.02" fill="#5160aa"/>
<rect x="319.74" y="278.22" width="10.46" height="9.02" fill="#496aaf"/>
<rect x="330.16" y="278.22" width="10.46" height="9.02" fill="#5659a7"/>
<rect x="340.57" y="278.22" width="10.46" height="9.02" fill="#5659a7"/>
<rect x="350.98" y="278.22" width="10.46" height="9.02" fill="#5160aa"/>
<rect x="361.40" y="278.22" width="10.46" height="9.02" fill="#66c2a5"/>
<rect x="371.81" y="278.22" width="10.46" height="9.02" fill="#5659a7"/>
<rect x="382.23" y="278.22" width="10.46" height="9.02" fill="#4e64ac"/>
<rect x="392.64" y="278.22" width="10.46" height="9.02" fill="#4471b2"/>
<rect x="403.05" y="278.22" width="10.46" height="9.02" fill="#5160aa"/>
<rect x="413.47" y="278.22" width="10.46" height="9.02" fill="#4471b2"/>
<rect x="423.88" y="278.22" width="10.46" height="9.02" fill="#5659a7"/>
<rect x="434.30" y="278.22" width="10.46" height="9.02" fill="#5160aa"/>
<rect x="444.71" y="278.22" width="10.46" height="9.02" fill="#535da8"/>
<rect x="455.12" y="278.22" width="10.46" height="9.02" fill="#4175b4"/>
<rect x="465.54" y="278.22" width="10.46" height="9.02" fill="#5659a7"/>
<rect x="475.95" y="278.22" width="10.46" height="9.02" fill="#fee08b"/>
<rect x="486.37" y="278.22" width="10.46" height="9.02" fill="#4471b2"/>
<rect x="496.78" y="278.22" width="10.46" height="9.02" fill="#4471b2"/>
<rect x="507.19" y="278.22" width="10.46" height="9.02" fill="#4471b2"/>
<rect x="517.61" y="278.22" width="10.46" height="9.02" fill="#535da8"/>
<rect x="528.02" y="278.22" width="10.46" height="9.02" fill="#535da8"/>
<rect x="538.44" y="278.22" width="10.46" height="9.02" fill="#5659a7"/>
<rect x="548.85" y="278.22" width="10.46" height="9.02" fill="#5659a7"/>
<rect x="559.26" y="278.22" width="10.46" height="9.02" fill="#535da8"/>
<rect x="569.68" y="278.22" width="10.46" height="9.02" fill="#5160aa"/>
<rect x="580.09" y="278.22" width="10.46" height="9.02" fill="#5160aa"/>
<rect x="590.51" y="278.22" width="10.46" height="9.02" fill="#3e78b5"/>
<rect x="600.92" y="278.22" width="10.46" height="9.02" fill="#3e78b5"/>
<rect x="611.33" y="278.22" width="10.46" height="9.02" fill="#3e78b5"/>
<rect x="621.75" y="278.22" width="10.46" height="9.02" fill="#466eb1"/>
<rect x="632.16" y="278.22" width="10.46" height="9.02" fill="#4175b4"/>
<rect x="642.58" y="278.22" width="10.46" height="9.02" fill="#4175b4"/>
<rect x="288.50" y="287.19" width="10.46" height="9.02" fill="#4fa8b0"/>
<rect x="298.91" y="287.19" width="10.46" height="9.02" fill="#3e78b5"/>
<rect x="309.33" y="287.19" width="10.46" height="9.02" fill="#3c7bb7"/>
<rect x="319.74" y="287.19" width="10.46" height="9.02" fill="#3c7bb7"/>
<rect x="330.16" y="287.19" width="10.46" height="9.02" fill="#4471b2"/>
<rect x="340.57" y="287.19" width="10.46" height="9.02" fill="#4471b2"/>
<rect x="350.98" y="287.19" width="10.46" height="9.02" fill="#3e78b5"/>
<rect x="361.40" y="287.19" width="10.46" height="9.02" fill="#66c2a5"/>
<rect x="371.81" y="287.19" width="10.46" height="9.02" fill="#4fa8b0"/>
<rect x="382.23" y="287.19" width="10.46" height="9.02" fill="#66c2a5"/>
<rect x="392.64" y="287.19" width="10.46" height="9.02" fill="#d53e4f"/>
<rect x="403.05" y="287.19" width="10.46" height="9.02" fill="#4fa8b0"/>
<rect x="413.47" y="287.19" width="10.46" height="9.02" fill="#66c2a5"/>
<rect x="423.88" y="287.19" width="10.46" height="9.02" fill="#3e78b5"/>
<rect x="434.30" y="287.19" width="10.46" height="9.02" fill="#66c2a5"/>
<rect x="444.71" y="287.19" width="10.46" height="9.02" fill="#db474d"/>
<rect x="455.12" y="287.19" width="10.46" height="9.02" fill="#bde4a0"/>
<rect x="465.54" y="287.19" width="10.46" height="9.02" fill="#4471b2"/>
<rect x="475.95" y="287.19" width="10.46" height="9.02" fill="#3c7bb7"/>
<rect x="486.37" y="287.19" width="10.46" height="9.02" fill="#3682ba"/>
<rect x="496.78" y="287.19" width="10.46" height="9.02" fill="#397fb9"/>
<rect x="507.19" y="287.19" width="10.46" height="9.02" fill="#3682ba"/>
<rect x="517.61" y="287.19" width="10.46" height="9.02" fill="#3c7bb7"/>
<rect x="528.02" y="287.19" width="10.46" height="9.02" fill="#4471b2"/>
<rect x="538.44" y="287.19" width="10.46" height="9.02" fill="#88d0a4"/>
<rect x="548.85" y="287.19" width="10.46" height="9.02" fill="#5659a7"/>
<rect x="559.26" y="287.19" width="10.46" height="9.02" fill="#3e78b5"/>
<rect x="569.68" y="287.19" width="10.46" height="9.02" fill="#388fba"/>
<rect x="580.09" y="287.19" width="10.46" height="9.02" fill="#3e78b5"/>
<rect x="590.51" y="287.19" width="10.46" height="9.02" fill="#496aaf"/>
<rect x="600.92" y="287.19" width="10.46" height="9.02" fill="#388fba"/>
<rect x="611.33" y="287.19" width="10.46" height="9.02" fill="#388fba"/>
<rect x="621.75" y="287.19" width="10.46" height="9.02" fill="#3682ba"/>
<rect x="632.16" y="287.19" width="10.46" height="9.02" fill="#388fba"/>
<rect x="642.58" y="287.19" width="10.46" height="9.02" fill="#397fb9"/>
<rect x="288.50" y="296.16" width="10.46" height="9.02" fill="#5160aa"/>
<rect x="298.91" y="296.16" width="10.46" height="9.02" fill="#535da8"/>
<rect x="309.33" y="296.16" width="10.46" height="9.02" fill="#535da8"/>
<rect x="319.74" y="296.16" width="10.46" height="9.02" fill="#535da8"/>
<rect x="330.16" y="296.16" width="10.46" height="9.02" fill="#535da8"/>
<rect x="340.57" y="296.16" width="10.46" height="9.02" fill="#535da8"/>
<rect x="350.98" y="296.16" width="10.46" height="9.02" fill="#ebf7a0"/>
<rect x="361.40" y="296.16" width="10.46" height="9.02" fill="#d53e4f"/>
<rect x="371.81" y="296.16" width="10.46" height="9.02" fill="#fdae61"/>
<rect x="382.23" y="296.16" width="10.46" height="9.02" fill="#fafdb7"/>
<rect x="392.64" y="296.16" width="10.46" height="9.02" fill="#fee08b"/>
<rect x="403.05" y="296.16" width="10.46" height="9.02" fill="#4fa8b0"/>
<rect x="413.47" y="296.16" width="10.46" height="9.02" fill="#7bcaa5"/>
<rect x="423.88" y="296.16" width="10.46" height="9.02" fill="#ffffbf"/>
<rect x="434.30" y="296.16" width="10.46" height="9.02" fill="#fec776"/>
<rect x="444.71" y="296.16" width="10.46" height="9.02" fill="#fee08b"/>
<rect x="455.12" y="296.16" width="10.46" height="9.02" fill="#f5fbaf"/>
<rect x="465.54" y="296.16" width="10.46" height="9.02" fill="#3e78b5"/>
<rect x="475.95" y="296.16" width="10.46" height="9.02" fill="#88d0a4"/>
<rect x="486.37" y="296.16" width="10.46" height="9.02" fill="#abdda4"/>
<rect x="496.78" y="296.16" width="10.46" height="9.02" fill="#535da8"/>
<rect x="507.19" y="296.16" width="10.46" height="9.02" fill="#abdda4"/>
<rect x="517.61" y="296.16" width="10.46" height="9.02" fill="#4c67ad"/>
<rect x="528.02" y="296.16" width="10.46" height="9.02" fill="#3682ba"/>
<rect x="538.44" y="296.16" width="10.46" height="9.02" fill="#4c67ad"/>
<rect x="548.85" y="296.16" width="10.46" height="9.02" fill="#4e64ac"/>
<rect x="559.26" y="296.16" width="10.46" height="9.02" fill="#eef8a4"/>
<rect x="569.68" y="296.16" width="10.46" height="9.02" fill="#fafdb7"/>
<rect x="580.09" y="296.16" width="10.46" height="9.02" fill="#eef8a4"/>
<rect x="590.51" y="296.16" width="10.46" height="9.02" fill="#fed683"/>
<rect x="600.92" y="296.16" width="10.46" height="9.02" fill="#f67a49"/>
<rect x="611.33" y="296.16" width="10.46" height="9.02" fill="#f46d43"/>
<rect x="621.75" y="296.16" width="10.46" height="9.02" fill="#f88e52"/>
<rect x="632.16" y="296.16" width="10.46" height="9.02" fill="#fdae61"/>
<rect x="642.58" y="296.16" width="10.46" height="9.02" fill="#fba15b"/>
<rect x="288.50" y="305.13" width="10.46" height="9.02" fill="#5956a5"/>
<rect x="298.91" y="305.13" width="10.46" height="9.02" fill="#5956a5"/>
<rect x="309.33" y="305.13" width="10.46" height="9.02" fill="#5956a5"/>
<rect x="319.74" y="305.13" width="10.46" height="9.02" fill="#5b52a4"/>
<rect x="330.16" y="305.13" width="10.46" height="9.02" fill="#5659a7"/>
<rect x="340.57" y="305.13" width="10.46" height="9.02" fill="#5956a5"/>
<rect x="350.98" y="305.13" width="10.46" height="9.02" fill="#4e64ac"/>
<rect x="361.40" y="305.13" width="10.46" height="9.02" fill="#3c7bb7"/>
<rect x="371.81" y="305.13" width="10.46" height="9.02" fill="#5659a7"/>
<rect x="382.23" y="305.13" width="10.46" height="9.02" fill="#4c67ad"/>
<rect x="392.64" y="305.13" width="10.46" height="9.02" fill="#496aaf"/>
<rect x="403.05" y="305.13" width="10.46" height="9.02" fill="#5659a7"/>
<rect x="413.47" y="305.13" width="10.46" height="9.02" fill="#535da8"/>
<rect x="423.88" y="305.13" width="10.46" height="9.02" fill="#5659a7"/>
<rect x="434.30" y="305.13" width="10.46" height="9.02" fill="#5659a7"/>
<rect x="444.71" y="305.13" width="10.46" height="9.02" fill="#5659a7"/>
<rect x="455.12" y="305.13" width="10.46" height="9.02" fill="#f46d43"/>
<rect x="465.54" y="305.13" width="10.46" height="9.02" fill="#f8fcb3"/>
<rect x="475.95" y="305.13" width="10.46" height="9.02" fill="#9e0142"/>
<rect x="486.37" y="305.13" width="10.46" height="9.02" fill="#9e0142"/>
<rect x="496.78" y="305.13" width="10.46" height="9.02" fill="#9e0142"/>
<rect x="507.19" y="305.13" width="10.46" height="9.02" fill="#9e0142"/>
<rect x="517.61" y="305.13" width="10.46" height="9.02" fill="#496aaf"/>
<rect x="528.02" y="305.13" width="10.46" height="9.02" fill="#f5fbaf"/>
<rect x="538.44" y="305.13" width="10.46" height="9.02" fill="#f5fbaf"/>
<rect x="548.85" y="305.13" width="10.46" height="9.02" fill="#f2faac"/>
<rect x="559.26" y="305.13" width="10.46" height="9.02" fill="#496aaf"/>
<rect x="569.68" y="305.13" width="10.46" height="9.02" fill="#496aaf"/>
<rect x="580.09" y="305.13" width="10.46" height="9.02" fill="#496aaf"/>
<rect x="590.51" y="305.13" width="10.46" height="9.02" fill="#5659a7"/>
<rect x="600.92" y="305.13" width="10.46" height="9.02" fill="#5659a7"/>
<rect x="611.33" y="305.13" width="10.46" height="9.02" fill="#b7e2a2"/>
<rect x="621.75" y="305.13" width="10.46" height="9.02" fill="#5659a7"/>
<rect x="632.16" y="305.13" width="10.46" height="9.02" fill="#5659a7"/>
<rect x="642.58" y="305.13" width="10.46" height="9.02" fill="#5659a7"/>
<rect x="288.50" y="314.10" width="10.46" height="9.02" fill="#496aaf"/>
<rect x="298.91" y="314.10" width="10.46" height="9.02" fill="#4c67ad"/>
<rect x="309.33" y="314.10" width="10.46" height="9.02" fill="#4c67ad"/>
<rect x="319.74" y="314.10" width="10.46" height="9.02" fill="#466eb1"/>
<rect x="330.16" y="314.10" width="10.46" height="9.02" fill="#496aaf"/>
<rect x="340.57" y="314.10" width="10.46" height="9.02" fill="#4e64ac"/>
<rect x="350.98" y="314.10" width="10.46" height="9.02" fill="#fff6af"/>
<rect x="361.40" y="314.10" width="10.46" height="9.02" fill="#88d0a4"/>
<rect x="371.81" y="314.10" width="10.46" height="9.02" fill="#c8e99e"/>
<rect x="382.23" y="314.10" width="10.46" height="9.02" fill="#3e78b5"/>
<rect x="392.64" y="314.10" width="10.46" height="9.02" fill="#3682ba"/>
<rect x="403.05" y="314.10" width="10.46" height="9.02" fill="#4175b4"/>
<rect x="413.47" y="314.10" width="10.46" height="9.02" fill="#3c7bb7"/>
<rect x="423.88" y="314.10" width="10.46" height="9.02" fill="#3682ba"/>
<rect x="434.30" y="314.10" width="10.46" height="9.02" fill="#3682ba"/>
<rect x="444.71" y="314.10" width="10.46" height="9.02" fill="#388fba"/>
<rect x="455.12" y="314.10" width="10.46" height="9.02" fill="#388fba"/>
<rect x="465.54" y="314.10" width="10.46" height="9.02" fill="#3e78b5"/>
<rect x="475.95" y="314.10" width="10.46" height="9.02" fill="#388fba"/>
<rect x="486.37" y="314.10" width="10.46" height="9.02" fill="#3e78b5"/>
<rect x="496.78" y="314.10" width="10.46" height="9.02" fill="#4471b2"/>
<rect x="507.19" y="314.10" width="10.46" height="9.02" fill="#4471b2"/>
<rect x="517.61" y="314.10" width="10.46" height="9.02" fill="#4471b2"/>
<rect x="528.02" y="314.10" width="10.46" height="9.02" fill="#b7e2a2"/>
<rect x="538.44" y="314.10" width="10.46" height="9.02" fill="#4471b2"/>
<rect x="548.85" y="314.10" width="10.46" height="9.02" fill="#535da8"/>
<rect x="559.26" y="314.10" width="10.46" height="9.02" fill="#8fd2a4"/>
<rect x="569.68" y="314.10" width="10.46" height="9.02" fill="#8fd2a4"/>
<rect x="580.09" y="314.10" width="10.46" height="9.02" fill="#3e78b5"/>
<rect x="590.51" y="314.10" width="10.46" height="9.02" fill="#466eb1"/>
<rect x="600.92" y="314.10" width="10.46" height="9.02" fill="#466eb1"/>
<rect x="611.33" y="314.10" width="10.46" height="9.02" fill="#4c67ad"/>
<rect x="621.75" y="314.10" width="10.46" height="9.02" fill="#4c67ad"/>
<rect x="632.16" y="314.10" width="10.46" height="9.02" fill="#3e78b5"/>
<rect x="642.58" y="314.10" width="10.46" height="9.02" fill="#496aaf"/>
<rect x="288.50" y="323.07" width="10.46" height="9.02" fill="#5956a5"/>
<rect x="298.91" y="323.07" width="10.46" height="9.02" fill="#5956a5"/>
<rect x="309.33" y="323.07" width="10.46" height="9.02" fill="#5b52a4"/>
<rect x="319.74" y="323.07" width="10.46" height="9.02" fill="#5956a5"/>
<rect x="330.16" y="323.07" width="10.46" height="9.02" fill="#f2faac"/>
<rect x="340.57" y="323.07" width="10.46" height="9.02" fill="#5956a5"/>
<rect x="350.98" y="323.07" width="10.46" height="9.02" fill="#5160aa"/>
<rect x="361.40" y="323.07" width="10.46" height="9.02" fill="#535da8"/>
<rect x="371.81" y="323.07" width="10.46" height="9.02" fill="#466eb1"/>
<rect x="382.23" y="323.07" width="10.46" height="9.02" fill="#5659a7"/>
<rect x="392.64" y="323.07" width="10.46" height="9.02" fill="#535da8"/>
<rect x="403.05" y="323.07" width="10.46" height="9.02" fill="#5659a7"/>
<rect x="413.47" y="323.07" width="10.46" height="9.02" fill="#fafdb7"/>
<rect x="423.88" y="323.07" width="10.46" height="9.02" fill="#496aaf"/>
<rect x="434.30" y="323.07" width="10.46" height="9.02" fill="#4e64ac"/>
<rect x="444.71" y="323.07" width="10.46" height="9.02" fill="#496aaf"/>
<rect x="455.12" y="323.07" width="10.46" height="9.02" fill="#535da8"/>
<rect x="465.54" y="323.07" width="10.46" height="9.02" fill="#5659a7"/>
<rect x="475.95" y="323.07" width="10.46" height="9.02" fill="#535da8"/>
<rect x="486.37" y="323.07" width="10.46" height="9.02" fill="#5659a7"/>
<rect x="496.78" y="323.07" width="10.46" height="9.02" fill="#5659a7"/>
<rect x="507.19" y="323.07" width="10.46" height="9.02" fill="#5659a7"/>
<rect x="517.61" y="323.07" width="10.46" height="9.02" fill="#5659a7"/>
<rect x="528.02" y="323.07" width="10.46" height="9.02" fill="#5956a5"/>
<rect x="538.44" y="323.07" width="10.46" height="9.02" fill="#5659a7"/>
<rect x="548.85" y="323.07" width="10.46" height="9.02" fill="#5659a7"/>
<rect x="559.26" y="323.07" width="10.46" height="9.02" fill="#5659a7"/>
<rect x="569.68" y="323.07" width="10.46" height="9.02" fill="#535da8"/>
<rect x="580.09" y="323.07" width="10.46" height="9.02" fill="#5659a7"/>
<rect x="590.51" y="323.07" width="10.46" height="9.02" fill="#5659a7"/>
<rect x="600.92" y="323.07" width="10.46" height="9.02" fill="#5659a7"/>
<rect x="611.33" y="323.07" width="10.46" height="9.02" fill="#5659a7"/>
<rect x="621.75" y="323.07" width="10.46" height="9.02" fill="#5659a7"/>
<rect x="632.16" y="323.07" width="10.46" height="9.02" fill="#5659a7"/>
<rect x="642.58" y="323.07" width="10.46" height="9.02" fill="#5659a7"/>
<rect x="288.50" y="332.04" width="10.46" height="9.02" fill="#4c67ad"/>
<rect x="298.91" y="332.04" width="10.46" height="9.02" fill="#3e78b5"/>
<rect x="309.33" y="332.04" width="10.46" height="9.02" fill="#fafdb7"/>
<rect x="319.74" y="332.04" width="10.46" height="9.02" fill="#496aaf"/>
<rect x="330.16" y="332.04" width="10.46" height="9.02" fill="#66c2a5"/>
<rect x="340.57" y="332.04" width="10.46" height="9.02" fill="#ffffbf"/>
<rect x="350.98" y="332.04" width="10.46" height="9.02" fill="#feeca0"/>
<rect x="361.40" y="332.04" width="10.46" height="9.02" fill="#daf09a"/>
<rect x="371.81" y="332.04" width="10.46" height="9.02" fill="#fff9b5"/>
<rect x="382.23" y="332.04" width="10.46" height="9.02" fill="#f46d43"/>
<rect x="392.64" y="332.04" width="10.46" height="9.02" fill="#f67a49"/>
<rect x="403.05" y="332.04" width="10.46" height="9.02" fill="#eb5f47"/>
<rect x="413.47" y="332.04" width="10.46" height="9.02" fill="#d53e4f"/>
<rect x="423.88" y="332.04" width="10.46" height="9.02" fill="#af1346"/>
<rect x="434.30" y="332.04" width="10.46" height="9.02" fill="#9e0142"/>
<rect x="444.71" y="332.04" width="10.46" height="9.02" fill="#9e0142"/>
<rect x="455.12" y="332.04" width="10.46" height="9.02" fill="#ffffbf"/>
<rect x="465.54" y="332.04" width="10.46" height="9.02" fill="#ceeb9d"/>
<rect x="475.95" y="332.04" width="10.46" height="9.02" fill="#66c2a5"/>
<rect x="486.37" y="332.04" width="10.46" height="9.02" fill="#abdda4"/>
<rect x="496.78" y="332.04" width="10.46" height="9.02" fill="#397fb9"/>
<rect x="507.19" y="332.04" width="10.46" height="9.02" fill="#535da8"/>
<rect x="517.61" y="332.04" width="10.46" height="9.02" fill="#4471b2"/>
<rect x="528.02" y="332.04" width="10.46" height="9.02" fill="#abdda4"/>
<rect x="538.44" y="332.04" width="10.46" height="9.02" fill="#66c2a5"/>
<rect x="548.85" y="332.04" width="10.46" height="9.02" fill="#66c2a5"/>
<rect x="559.26" y="332.04" width="10.46" height="9.02" fill="#4471b2"/>
<rect x="569.68" y="332.04" width="10.46" height="9.02" fill="#82cda5"/>
<rect x="580.09" y="332.04" width="10.46" height="9.02" fill="#fafdb7"/>
<rect x="590.51" y="332.04" width="10.46" height="9.02" fill="#f5fbaf"/>
<rect x="600.92" y="332.04" width="10.46" height="9.02" fill="#eef8a4"/>
<rect x="611.33" y="332.04" width="10.46" height="9.02" fill="#82cda5"/>
<rect x="621.75" y="332.04" width="10.46" height="9.02" fill="#4e64ac"/>
<rect x="632.16" y="332.04" width="10.46" height="9.02" fill="#ffffbf"/>
<rect x="642.58" y="332.04" width="10.46" height="9.02" fill="#496aaf"/>
<rect x="288.50" y="341.01" width="10.46" height="9.02" fill="#4175b4"/>
<rect x="298.91" y="341.01" width="10.46" height="9.02" fill="#fed17e"/>
<rect x="309.33" y="341.01" width="10.46" height="9.02" fill="#f67a49"/>
<rect x="319.74" y="341.01" width="10.46" height="9.02" fill="#496aaf"/>
<rect x="330.16" y="341.01" width="10.46" height="9.02" fill="#c8e99e"/>
<rect x="340.57" y="341.01" width="10.46" height="9.02" fill="#466eb1"/>
<rect x="350.98" y="341.01" width="10.46" height="9.02" fill="#3e78b5"/>
<rect x="361.40" y="341.01" width="10.46" height="9.02" fill="#daf09a"/>
<rect x="371.81" y="341.01" width="10.46" height="9.02" fill="#88d0a4"/>
<rect x="382.23" y="341.01" width="10.46" height="9.02" fill="#fee695"/>
<rect x="392.64" y="341.01" width="10.46" height="9.02" fill="#f8fcb3"/>
<rect x="403.05" y="341.01" width="10.46" height="9.02" fill="#4175b4"/>
<rect x="413.47" y="341.01" width="10.46" height="9.02" fill="#4471b2"/>
<rect x="423.88" y="341.01" width="10.46" height="9.02" fill="#496aaf"/>
<rect x="434.30" y="341.01" width="10.46" height="9.02" fill="#4175b4"/>
<rect x="444.71" y="341.01" width="10.46" height="9.02" fill="#4471b2"/>
<rect x="455.12" y="341.01" width="10.46" height="9.02" fill="#fed683"/>
<rect x="465.54" y="341.01" width="10.46" height="9.02" fill="#3e78b5"/>
<rect x="475.95" y="341.01" width="10.46" height="9.02" fill="#fdae61"/>
<rect x="486.37" y="341.01" width="10.46" height="9.02" fill="#fdb869"/>
<rect x="496.78" y="341.01" width="10.46" height="9.02" fill="#fdc272"/>
<rect x="507.19" y="341.01" width="10.46" height="9.02" fill="#fdb869"/>
<rect x="517.61" y="341.01" width="10.46" height="9.02" fill="#ffffbf"/>
<rect x="528.02" y="341.01" width="10.46" height="9.02" fill="#f5fbaf"/>
<rect x="538.44" y="341.01" width="10.46" height="9.02" fill="#f2faac"/>
<rect x="548.85" y="341.01" width="10.46" height="9.02" fill="#eef8a4"/>
<rect x="559.26" y="341.01" width="10.46" height="9.02" fill="#9e0142"/>
<rect x="569.68" y="341.01" width="10.46" height="9.02" fill="#d53e4f"/>
<rect x="580.09" y="341.01" width="10.46" height="9.02" fill="#66c2a5"/>
<rect x="590.51" y="341.01" width="10.46" height="9.02" fill="#466eb1"/>
<rect x="600.92" y="341.01" width="10.46" height="9.02" fill="#ffffbf"/>
<rect x="611.33" y="341.01" width="10.46" height="9.02" fill="#f2faac"/>
<rect x="621.75" y="341.01" width="10.46" height="9.02" fill="#ffffbf"/>
<rect x="632.16" y="341.01" width="10.46" height="9.02" fill="#496aaf"/>
<rect x="642.58" y="341.01" width="10.46" height="9.02" fill="#466eb1"/>
<rect x="288.50" y="349.98" width="10.46" height="9.02" fill="#466eb1"/>
<rect x="298.91" y="349.98" width="10.46" height="9.02" fill="#4c67ad"/>
<rect x="309.33" y="349.98" width="10.46" height="9.02" fill="#4e64ac"/>
<rect x="319.74" y="349.98" width="10.46" height="9.02" fill="#4c67ad"/>
<rect x="330.16" y="349.98" width="10.46" height="9.02" fill="#535da8"/>
<rect x="340.57" y="349.98" width="10.46" height="9.02" fill="#5160aa"/>
<rect x="350.98" y="349.98" width="10.46" height="9.02" fill="#88d0a4"/>
<rect x="361.40" y="349.98" width="10.46" height="9.02" fill="#fdae61"/>
<rect x="371.81" y="349.98" width="10.46" height="9.02" fill="#fba15b"/>
<rect x="382.23" y="349.98" width="10.46" height="9.02" fill="#66c2a5"/>
<rect x="392.64" y="349.98" width="10.46" height="9.02" fill="#bde4a0"/>
<rect x="403.05" y="349.98" width="10.46" height="9.02" fill="#3682ba"/>
<rect x="413.47" y="349.98" width="10.46" height="9.02" fill="#3e78b5"/>
<rect x="423.88" y="349.98" width="10.46" height="9.02" fill="#66c2a5"/>
<rect x="434.30" y="349.98" width="10.46" height="9.02" fill="#bde4a0"/>
<rect x="444.71" y="349.98" width="10.46" height="9.02" fill="#f2faac"/>
<rect x="455.12" y="349.98" width="10.46" height="9.02" fill="#8fd2a4"/>
<rect x="465.54" y="349.98" width="10.46" height="9.02" fill="#4e64ac"/>
<rect x="475.95" y="349.98" width="10.46" height="9.02" fill="#4c67ad"/>
<rect x="486.37" y="349.98" width="10.46" height="9.02" fill="#4e64ac"/>
<rect x="496.78" y="349.98" width="10.46" height="9.02" fill="#4e64ac"/>
<rect x="507.19" y="349.98" width="10.46" height="9.02" fill="#4e64ac"/>
<rect x="517.61" y="349.98" width="10.46" height="9.02" fill="#5160aa"/>
<rect x="528.02" y="349.98" width="10.46" height="9.02" fill="#466eb1"/>
<rect x="538.44" y="349.98" width="10.46" height="9.02" fill="#4e64ac"/>
<rect x="548.85" y="349.98" width="10.46" height="9.02" fill="#5160aa"/>
<rect x="559.26" y="349.98" width="10.46" height="9.02" fill="#4471b2"/>
<rect x="569.68" y="349.98" width="10.46" height="9.02" fill="#3e78b5"/>
<rect x="580.09" y="349.98" width="10.46" height="9.02" fill="#5160aa"/>
<rect x="590.51" y="349.98" width="10.46" height="9.02" fill="#5160aa"/>
<rect x="600.92" y="349.98" width="10.46" height="9.02" fill="#5160aa"/>
<rect x="611.33" y="349.98" width="10.46" height="9.02" fill="#5160aa"/>
<rect x="621.75" y="349.98" width="10.46" height="9.02" fill="#5160aa"/>
<rect x="632.16" y="349.98" width="10.46" height="9.02" fill="#5160aa"/>
<rect x="642.58" y="349.98" width="10.46" height="9.02" fill="#5160aa"/>
<rect x="288.50" y="358.95" width="10.46" height="9.02" fill="#535da8"/>
<rect x="298.91" y="358.95" width="10.46" height="9.02" fill="#66c2a5"/>
<rect x="309.33" y="358.95" width="10.46" height="9.02" fill="#4c67ad"/>
<rect x="319.74" y="358.95" width="10.46" height="9.02" fill="#3682ba"/>
<rect x="330.16" y="358.95" width="10.46" height="9.02" fill="#535da8"/>
<rect x="340.57" y="358.95" width="10.46" height="9.02" fill="#4e64ac"/>
<rect x="350.98" y="358.95" width="10.46" height="9.02" fill="#abdda4"/>
<rect x="361.40" y="358.95" width="10.46" height="9.02" fill="#66c2a5"/>
<rect x="371.81" y="358.95" width="10.46" height="9.02" fill="#88d0a4"/>
<rect x="382.23" y="358.95" width="10.46" height="9.02" fill="#4fa8b0"/>
<rect x="392.64" y="358.95" width="10.46" height="9.02" fill="#66c2a5"/>
<rect x="403.05" y="358.95" width="10.46" height="9.02" fill="#3e78b5"/>
<rect x="413.47" y="358.95" width="10.46" height="9.02" fill="#466eb1"/>
<rect x="423.88" y="358.95" width="10.46" height="9.02" fill="#8fd2a4"/>
<rect x="434.30" y="358.95" width="10.46" height="9.02" fill="#88d0a4"/>
<rect x="444.71" y="358.95" width="10.46" height="9.02" fill="#4fa8b0"/>
<rect x="455.12" y="358.95" width="10.46" height="9.02" fill="#388fba"/>
<rect x="465.54" y="358.95" width="10.46" height="9.02" fill="#4c67ad"/>
<rect x="475.95" y="358.95" width="10.46" height="9.02" fill="#4e64ac"/>
<rect x="486.37" y="358.95" width="10.46" height="9.02" fill="#5160aa"/>
<rect x="496.78" y="358.95" width="10.46" height="9.02" fill="#535da8"/>
<rect x="507.19" y="358.95" width="10.46" height="9.02" fill="#535da8"/>
<rect x="517.61" y="358.95" width="10.46" height="9.02" fill="#535da8"/>
<rect x="528.02" y="358.95" width="10.46" height="9.02" fill="#4471b2"/>
<rect x="538.44" y="358.95" width="10.46" height="9.02" fill="#5659a7"/>
<rect x="548.85" y="358.95" width="10.46" height="9.02" fill="#5659a7"/>
<rect x="559.26" y="358.95" width="10.46" height="9.02" fill="#c3e79f"/>
<rect x="569.68" y="358.95" width="10.46" height="9.02" fill="#8fd2a4"/>
<rect x="580.09" y="358.95" width="10.46" height="9.02" fill="#daf09a"/>
<rect x="590.51" y="358.95" width="10.46" height="9.02" fill="#535da8"/>
<rect x="600.92" y="358.95" width="10.46" height="9.02" fill="#535da8"/>
<rect x="611.33" y="358.95" width="10.46" height="9.02" fill="#535da8"/>
<rect x="621.75" y="358.95" width="10.46" height="9.02" fill="#535da8"/>
<rect x="632.16" y="358.95" width="10.46" height="9.02" fill="#535da8"/>
<rect x="642.58" y="358.95" width="10.46" height="9.02" fill="#535da8"/>
<rect x="288.50" y="367.92" width="10.46" height="9.02" fill="#4e64ac"/>
<rect x="298.91" y="367.92" width="10.46" height="9.02" fill="#535da8"/>
<rect x="309.33" y="367.92" width="10.46" height="9.02" fill="#466eb1"/>
<rect x="319.74" y="367.92" width="10.46" height="9.02" fill="#4e64ac"/>
<rect x="330.16" y="367.92" width="10.46" height="9.02" fill="#4471b2"/>
<rect x="340.57" y="367.92" width="10.46" height="9.02" fill="#535da8"/>
<rect x="350.98" y="367.92" width="10.46" height="9.02" fill="#66c2a5"/>
<rect x="361.40" y="367.92" width="10.46" height="9.02" fill="#ffffbf"/>
<rect x="371.81" y="367.92" width="10.46" height="9.02" fill="#fff6af"/>
<rect x="382.23" y="367.92" width="10.46" height="9.02" fill="#fff9b5"/>
<rect x="392.64" y="367.92" width="10.46" height="9.02" fill="#fff6af"/>
<rect x="403.05" y="367.92" width="10.46" height="9.02" fill="#ffffbf"/>
<rect x="413.47" y="367.92" width="10.46" height="9.02" fill="#d4ee9c"/>
<rect x="423.88" y="367.92" width="10.46" height="9.02" fill="#fee08b"/>
<rect x="434.30" y="367.92" width="10.46" height="9.02" fill="#fee99b"/>
<rect x="444.71" y="367.92" width="10.46" height="9.02" fill="#fed683"/>
<rect x="455.12" y="367.92" width="10.46" height="9.02" fill="#fffcba"/>
<rect x="465.54" y="367.92" width="10.46" height="9.02" fill="#ffffbf"/>
<rect x="475.95" y="367.92" width="10.46" height="9.02" fill="#f2faac"/>
<rect x="486.37" y="367.92" width="10.46" height="9.02" fill="#f5fbaf"/>
<rect x="496.78" y="367.92" width="10.46" height="9.02" fill="#eef8a4"/>
<rect x="507.19" y="367.92" width="10.46" height="9.02" fill="#eef8a4"/>
<rect x="517.61" y="367.92" width="10.46" height="9.02" fill="#f2faac"/>
<rect x="528.02" y="367.92" width="10.46" height="9.02" fill="#f8fcb3"/>
<rect x="538.44" y="367.92" width="10.46" height="9.02" fill="#f5fbaf"/>
<rect x="548.85" y="367.92" width="10.46" height="9.02" fill="#f5fbaf"/>
<rect x="559.26" y="367.92" width="10.46" height="9.02" fill="#fafdb7"/>
<rect x="569.68" y="367.92" width="10.46" height="9.02" fill="#fafdb7"/>
<rect x="580.09" y="367.92" width="10.46" height="9.02" fill="#ffffbf"/>
<rect x="590.51" y="367.92" width="10.46" height="9.02" fill="#fef0a5"/>
<rect x="600.92" y="367.92" width="10.46" height="9.02" fill="#ffffbf"/>
<rect x="611.33" y="367.92" width="10.46" height="9.02" fill="#ffffbf"/>
<rect x="621.75" y="367.92" width="10.46" height="9.02" fill="#ffffbf"/>
<rect x="632.16" y="367.92" width="10.46" height="9.02" fill="#fafdb7"/>
<rect x="642.58" y="367.92" width="10.46" height="9.02" fill="#f5fbaf"/>
<rect x="288.50" y="376.89" width="10.46" height="9.02" fill="#fec776"/>
<rect x="298.91" y="376.89" width="10.46" height="9.02" fill="#4471b2"/>
<rect x="309.33" y="376.89" width="10.46" height="9.02" fill="#66c2a5"/>
<rect x="319.74" y="376.89" width="10.46" height="9.02" fill="#4471b2"/>
<rect x="330.16" y="376.89" width="10.46" height="9.02" fill="#3682ba"/>
<rect x="340.57" y="376.89" width="10.46" height="9.02" fill="#466eb1"/>
<rect x="350.98" y="376.89" width="10.46" height="9.02" fill="#fafdb7"/>
<rect x="361.40" y="376.89" width="10.46" height="9.02" fill="#d53e4f"/>
<rect x="371.81" y="376.89" width="10.46" height="9.02" fill="#fdb869"/>
<rect x="382.23" y="376.89" width="10.46" height="9.02" fill="#9e0142"/>
<rect x="392.64" y="376.89" width="10.46" height="9.02" fill="#de4c4b"/>
<rect x="403.05" y="376.89" width="10.46" height="9.02" fill="#9e0142"/>
<rect x="413.47" y="376.89" width="10.46" height="9.02" fill="#ba2048"/>
<rect x="423.88" y="376.89" width="10.46" height="9.02" fill="#f2faac"/>
<rect x="434.30" y="376.89" width="10.46" height="9.02" fill="#ca324c"/>
<rect x="444.71" y="376.89" width="10.46" height="9.02" fill="#c42c4b"/>
<rect x="455.12" y="376.89" width="10.46" height="9.02" fill="#db474d"/>
<rect x="465.54" y="376.89" width="10.46" height="9.02" fill="#496aaf"/>
<rect x="475.95" y="376.89" width="10.46" height="9.02" fill="#3682ba"/>
<rect x="486.37" y="376.89" width="10.46" height="9.02" fill="#3682ba"/>
<rect x="496.78" y="376.89" width="10.46" height="9.02" fill="#4175b4"/>
<rect x="507.19" y="376.89" width="10.46" height="9.02" fill="#4175b4"/>
<rect x="517.61" y="376.89" width="10.46" height="9.02" fill="#4c67ad"/>
<rect x="528.02" y="376.89" width="10.46" height="9.02" fill="#88d0a4"/>
<rect x="538.44" y="376.89" width="10.46" height="9.02" fill="#3e78b5"/>
<rect x="548.85" y="376.89" width="10.46" height="9.02" fill="#3e78b5"/>
<rect x="559.26" y="376.89" width="10.46" height="9.02" fill="#388fba"/>
<rect x="569.68" y="376.89" width="10.46" height="9.02" fill="#f8874f"/>
<rect x="580.09" y="376.89" width="10.46" height="9.02" fill="#8fd2a4"/>
<rect x="590.51" y="376.89" width="10.46" height="9.02" fill="#535da8"/>
<rect x="600.92" y="376.89" width="10.46" height="9.02" fill="#466eb1"/>
<rect x="611.33" y="376.89" width="10.46" height="9.02" fill="#466eb1"/>
<rect x="621.75" y="376.89" width="10.46" height="9.02" fill="#496aaf"/>
<rect x="632.16" y="376.89" width="10.46" height="9.02" fill="#466eb1"/>
<rect x="642.58" y="376.89" width="10.46" height="9.02" fill="#466eb1"/>
<rect x="288.50" y="385.86" width="10.46" height="9.02" fill="#daf09a"/>
<rect x="298.91" y="385.86" width="10.46" height="9.02" fill="#daf09a"/>
<rect x="309.33" y="385.86" width="10.46" height="9.02" fill="#8fd2a4"/>
<rect x="319.74" y="385.86" width="10.46" height="9.02" fill="#eef8a4"/>
<rect x="330.16" y="385.86" width="10.46" height="9.02" fill="#88d0a4"/>
<rect x="340.57" y="385.86" width="10.46" height="9.02" fill="#88d0a4"/>
<rect x="350.98" y="385.86" width="10.46" height="9.02" fill="#3c7bb7"/>
<rect x="361.40" y="385.86" width="10.46" height="9.02" fill="#88d0a4"/>
<rect x="371.81" y="385.86" width="10.46" height="9.02" fill="#e6f598"/>
<rect x="382.23" y="385.86" width="10.46" height="9.02" fill="#96d5a4"/>
<rect x="392.64" y="385.86" width="10.46" height="9.02" fill="#96d5a4"/>
<rect x="403.05" y="385.86" width="10.46" height="9.02" fill="#b7e2a2"/>
<rect x="413.47" y="385.86" width="10.46" height="9.02" fill="#ceeb9d"/>
<rect x="423.88" y="385.86" width="10.46" height="9.02" fill="#82cda5"/>
<rect x="434.30" y="385.86" width="10.46" height="9.02" fill="#f5fbaf"/>
<rect x="444.71" y="385.86" width="10.46" height="9.02" fill="#f5fbaf"/>
<rect x="455.12" y="385.86" width="10.46" height="9.02" fill="#f0f9a8"/>
<rect x="465.54" y="385.86" width="10.46" height="9.02" fill="#66c2a5"/>
<rect x="475.95" y="385.86" width="10.46" height="9.02" fill="#ceeb9d"/>
<rect x="486.37" y="385.86" width="10.46" height="9.02" fill="#c3e79f"/>
<rect x="496.78" y="385.86" width="10.46" height="9.02" fill="#c3e79f"/>
<rect x="507.19" y="385.86" width="10.46" height="9.02" fill="#c3e79f"/>
<rect x="517.61" y="385.86" width="10.46" height="9.02" fill="#f5fbaf"/>
<rect x="528.02" y="385.86" width="10.46" height="9.02" fill="#f0f9a8"/>
<rect x="538.44" y="385.86" width="10.46" height="9.02" fill="#ebf7a0"/>
<rect x="548.85" y="385.86" width="10.46" height="9.02" fill="#ebf7a0"/>
<rect x="559.26" y="385.86" width="10.46" height="9.02" fill="#e6f598"/>
<rect x="569.68" y="385.86" width="10.46" height="9.02" fill="#c3e79f"/>
<rect x="580.09" y="385.86" width="10.46" height="9.02" fill="#8fd2a4"/>
<rect x="590.51" y="385.86" width="10.46" height="9.02" fill="#3e78b5"/>
<rect x="600.92" y="385.86" width="10.46" height="9.02" fill="#96d5a4"/>
<rect x="611.33" y="385.86" width="10.46" height="9.02" fill="#96d5a4"/>
<rect x="621.75" y="385.86" width="10.46" height="9.02" fill="#c3e79f"/>
<rect x="632.16" y="385.86" width="10.46" height="9.02" fill="#abdda4"/>
<rect x="642.58" y="385.86" width="10.46" height="9.02" fill="#b7e2a2"/>
<rect x="288.50" y="394.83" width="10.46" height="9.02" fill="#66c2a5"/>
<rect x="298.91" y="394.83" width="10.46" height="9.02" fill="#bde4a0"/>
<rect x="309.33" y="394.83" width="10.46" height="9.02" fill="#daf09a"/>
<rect x="319.74" y="394.83" width="10.46" height="9.02" fill="#abdda4"/>
<rect x="330.16" y="394.83" width="10.46" height="9.02" fill="#bde4a0"/>
<rect x="340.57" y="394.83" width="10.46" height="9.02" fill="#b7e2a2"/>
<rect x="350.98" y="394.83" width="10.46" height="9.02" fill="#9dd8a4"/>
<rect x="361.40" y="394.83" width="10.46" height="9.02" fill="#ebf7a0"/>
<rect x="371.81" y="394.83" width="10.46" height="9.02" fill="#daf09a"/>
<rect x="382.23" y="394.83" width="10.46" height="9.02" fill="#f2faac"/>
<rect x="392.64" y="394.83" width="10.46" height="9.02" fill="#f2faac"/>
<rect x="403.05" y="394.83" width="10.46" height="9.02" fill="#eef8a4"/>
<rect x="413.47" y="394.83" width="10.46" height="9.02" fill="#fafdb7"/>
<rect x="423.88" y="394.83" width="10.46" height="9.02" fill="#3682ba"/>
<rect x="434.30" y="394.83" width="10.46" height="9.02" fill="#daf09a"/>
<rect x="444.71" y="394.83" width="10.46" height="9.02" fill="#daf09a"/>
<rect x="455.12" y="394.83" width="10.46" height="9.02" fill="#f0f9a8"/>
<rect x="465.54" y="394.83" width="10.46" height="9.02" fill="#397fb9"/>
<rect x="475.95" y="394.83" width="10.46" height="9.02" fill="#eef8a4"/>
<rect x="486.37" y="394.83" width="10.46" height="9.02" fill="#eef8a4"/>
<rect x="496.78" y="394.83" width="10.46" height="9.02" fill="#ebf7a0"/>
<rect x="507.19" y="394.83" width="10.46" height="9.02" fill="#eef8a4"/>
<rect x="517.61" y="394.83" width="10.46" height="9.02" fill="#8fd2a4"/>
<rect x="528.02" y="394.83" width="10.46" height="9.02" fill="#daf09a"/>
<rect x="538.44" y="394.83" width="10.46" height="9.02" fill="#c8e99e"/>
<rect x="548.85" y="394.83" width="10.46" height="9.02" fill="#c3e79f"/>
<rect x="559.26" y="394.83" width="10.46" height="9.02" fill="#d4ee9c"/>
<rect x="569.68" y="394.83" width="10.46" height="9.02" fill="#f0f9a8"/>
<rect x="580.09" y="394.83" width="10.46" height="9.02" fill="#ceeb9d"/>
<rect x="590.51" y="394.83" width="10.46" height="9.02" fill="#3682ba"/>
<rect x="600.92" y="394.83" width="10.46" height="9.02" fill="#f0f9a8"/>
<rect x="611.33" y="394.83" width="10.46" height="9.02" fill="#f0f9a8"/>
<rect x="621.75" y="394.83" width="10.46" height="9.02" fill="#eef8a4"/>
<rect x="632.16" y="394.83" width="10.46" height="9.02" fill="#f0f9a8"/>
<rect x="642.58" y="394.83" width="10.46" height="9.02" fill="#eef8a4"/>
<path d="M298.91 269.25V403.80M309.33 269.25V403.80M319.74 269.25V403.80M330.16 269.25V403.80M340.57 269.25V403.80M350.98 269.25V403.80M361.40 269.25V403.80M371.81 269.25V403.80M382.23 269.25V403.80M392.64 269.25V403.80M403.05 269.25V403.80M413.47 269.25V403.80M423.88 269.25V403.80M434.30 269.25V403.80M444.71 269.25V403.80M455.12 269.25V403.80M465.54 269.25V403.80M475.95 269.25V403.80M486.37 269.25V403.80M496.78 269.25V403.80M507.19 269.25V403.80M517.61 269.25V403.80M528.02 269.25V403.80M538.44 269.25V403.80M548.85 269.25V403.80M559.26 269.25V403.80M569.68 269.25V403.80M580.09 269.25V403.80M590.51 269.25V403.80M600.92 269.25V403.80M611.33 269.25V403.80M621.75 269.25V403.80M632.16 269.25V403.80M642.58 269.25V403.80M288.50 278.22H652.99M288.50 287.19H652.99M288.50 296.16H652.99M288.50 305.13H652.99M288.50 314.10H652.99M288.50 323.07H652.99M288.50 332.04H652.99M288.50 341.01H652.99M288.50 349.98H652.99M288.50 358.95H652.99M288.50 367.92H652.99M288.50 376.89H652.99M288.50 385.86H652.99M288.50 394.83H652.99" stroke="#ffffff" stroke-opacity="0.45" stroke-width="0.7" fill="none"/>
<text x="285.60" y="276.13" font-family="'Liberation Serif', serif" font-size="6.80" font-weight="bold" text-anchor="end" fill="#000">CD11b</text>
<text x="285.60" y="285.11" font-family="'Liberation Serif', serif" font-size="6.80" font-weight="bold" text-anchor="end" fill="#000">Tim-3</text>
<text x="285.60" y="294.07" font-family="'Liberation Serif', serif" font-size="6.80" font-weight="bold" text-anchor="end" fill="#000">iNOS</text>
<text x="285.60" y="303.05" font-family="'Liberation Serif', serif" font-size="6.80" font-weight="bold" text-anchor="end" fill="#000">F4/80</text>
<text x="285.60" y="312.01" font-family="'Liberation Serif', serif" font-size="6.80" font-weight="bold" text-anchor="end" fill="#000">Ly6G</text>
<text x="285.60" y="320.99" font-family="'Liberation Serif', serif" font-size="6.80" font-weight="bold" text-anchor="end" fill="#000">PD-L1</text>
<text x="285.60" y="329.95" font-family="'Liberation Serif', serif" font-size="6.80" font-weight="bold" text-anchor="end" fill="#000">CD103</text>
<text x="285.60" y="338.93" font-family="'Liberation Serif', serif" font-size="6.80" font-weight="bold" text-anchor="end" fill="#000">CD11c</text>
<text x="285.60" y="347.89" font-family="'Liberation Serif', serif" font-size="6.80" font-weight="bold" text-anchor="end" fill="#000">Ly6C</text>
<text x="285.60" y="356.87" font-family="'Liberation Serif', serif" font-size="6.80" font-weight="bold" text-anchor="end" fill="#000">CD206</text>
<text x="285.60" y="365.83" font-family="'Liberation Serif', serif" font-size="6.80" font-weight="bold" text-anchor="end" fill="#000">CX3CR1</text>
<text x="285.60" y="374.81" font-family="'Liberation Serif', serif" font-size="6.80" font-weight="bold" text-anchor="end" fill="#000">SIRPα</text>
<text x="285.60" y="383.77" font-family="'Liberation Serif', serif" font-size="6.80" font-weight="bold" text-anchor="end" fill="#000">MHCII</text>
<text x="285.60" y="392.75" font-family="'Liberation Serif', serif" font-size="6.80" font-weight="bold" text-anchor="end" fill="#000">Ki-67</text>
<text x="285.60" y="401.72" font-family="'Liberation Serif', serif" font-size="6.80" font-weight="bold" text-anchor="end" fill="#000">CD45</text>
<text x="291.61" y="408.20" font-family="'Liberation Serif', serif" font-size="6.20" font-weight="bold" text-anchor="start" fill="#000" transform="rotate(90 291.61 408.20)">C01</text>
<text x="302.02" y="408.20" font-family="'Liberation Serif', serif" font-size="6.20" font-weight="bold" text-anchor="start" fill="#000" transform="rotate(90 302.02 408.20)">C02</text>
<text x="312.43" y="408.20" font-family="'Liberation Serif', serif" font-size="6.20" font-weight="bold" text-anchor="start" fill="#000" transform="rotate(90 312.43 408.20)">C03</text>
<text x="322.85" y="408.20" font-family="'Liberation Serif', serif" font-size="6.20" font-weight="bold" text-anchor="start" fill="#000" transform="rotate(90 322.85 408.20)">C04</text>
<text x="333.26" y="408.20" font-family="'Liberation Serif', serif" font-size="6.20" font-weight="bold" text-anchor="start" fill="#000" transform="rotate(90 333.26 408.20)">C05</text>
<text x="343.68" y="408.20" font-family="'Liberation Serif', serif" font-size="6.20" font-weight="bold" text-anchor="start" fill="#000" transform="rotate(90 343.68 408.20)">C06</text>
<text x="354.09" y="408.20" font-family="'Liberation Serif', serif" font-size="6.20" font-weight="bold" text-anchor="start" fill="#000" transform="rotate(90 354.09 408.20)">C07</text>
<text x="364.50" y="408.20" font-family="'Liberation Serif', serif" font-size="6.20" font-weight="bold" text-anchor="start" fill="#000" transform="rotate(90 364.50 408.20)">C08</text>
<text x="374.92" y="408.20" font-family="'Liberation Serif', serif" font-size="6.20" font-weight="bold" text-anchor="start" fill="#000" transform="rotate(90 374.92 408.20)">C09</text>
<text x="385.33" y="408.20" font-family="'Liberation Serif', serif" font-size="6.20" font-weight="bold" text-anchor="start" fill="#000" transform="rotate(90 385.33 408.20)">C10</text>
<text x="395.75" y="408.20" font-family="'Liberation Serif', serif" font-size="6.20" font-weight="bold" text-anchor="start" fill="#000" transform="rotate(90 395.75 408.20)">C11</text>
<text x="406.16" y="408.20" font-family="'Liberation Serif', serif" font-size="6.20" font-weight="bold" text-anchor="start" fill="#000" transform="rotate(90 406.16 408.20)">C12</text>
<text x="416.57" y="408.20" font-family="'Liberation Serif', serif" font-size="6.20" font-weight="bold" text-anchor="start" fill="#000" transform="rotate(90 416.57 408.20)">C13</text>
<text x="426.99" y="408.20" font-family="'Liberation Serif', serif" font-size="6.20" font-weight="bold" text-anchor="start" fill="#000" transform="rotate(90 426.99 408.20)">C14</text>
<text x="437.40" y="408.20" font-family="'Liberation Serif', serif" font-size="6.20" font-weight="bold" text-anchor="start" fill="#000" transform="rotate(90 437.40 408.20)">C15</text>
<text x="447.82" y="408.20" font-family="'Liberation Serif', serif" font-size="6.20" font-weight="bold" text-anchor="start" fill="#000" transform="rotate(90 447.82 408.20)">C16</text>
<text x="458.23" y="408.20" font-family="'Liberation Serif', serif" font-size="6.20" font-weight="bold" text-anchor="start" fill="#000" transform="rotate(90 458.23 408.20)">C17</text>
<text x="468.64" y="408.20" font-family="'Liberation Serif', serif" font-size="6.20" font-weight="bold" text-anchor="start" fill="#000" transform="rotate(90 468.64 408.20)">C18</text>
<text x="479.06" y="408.20" font-family="'Liberation Serif', serif" font-size="6.20" font-weight="bold" text-anchor="start" fill="#000" transform="rotate(90 479.06 408.20)">C19</text>
<text x="489.47" y="408.20" font-family="'Liberation Serif', serif" font-size="6.20" font-weight="bold" text-anchor="start" fill="#000" transform="rotate(90 489.47 408.20)">C20</text>
<text x="499.89" y="408.20" font-family="'Liberation Serif', serif" font-size="6.20" font-weight="bold" text-anchor="start" fill="#000" transform="rotate(90 499.89 408.20)">C21</text>
<text x="510.30" y="408.20" font-family="'Liberation Serif', serif" font-size="6.20" font-weight="bold" text-anchor="start" fill="#000" transform="rotate(90 510.30 408.20)">C22</text>
<text x="520.71" y="408.20" font-family="'Liberation Serif', serif" font-size="6.20" font-weight="bold" text-anchor="start" fill="#000" transform="rotate(90 520.71 408.20)">C23</text>
<text x="531.13" y="408.20" font-family="'Liberation Serif', serif" font-size="6.20" font-weight="bold" text-anchor="start" fill="#000" transform="rotate(90 531.13 408.20)">C24</text>
<text x="541.54" y="408.20" font-family="'Liberation Serif', serif" font-size="6.20" font-weight="bold" text-anchor="start" fill="#000" transform="rotate(90 541.54 408.20)">C25</text>
<text x="551.96" y="408.20" font-family="'Liberation Serif', serif" font-size="6.20" font-weight="bold" text-anchor="start" fill="#000" transform="rotate(90 551.96 408.20)">C26</text>
<text x="562.37" y="408.20" font-family="'Liberation Serif', serif" font-size="6.20" font-weight="bold" text-anchor="start" fill="#000" transform="rotate(90 562.37 408.20)">C27</text>
<text x="572.78" y="408.20" font-family="'Liberation Serif', serif" font-size="6.20" font-weight="bold" text-anchor="start" fill="#000" transform="rotate(90 572.78 408.20)">C28</text>
<text x="583.20" y="408.20" font-family="'Liberation Serif', serif" font-size="6.20" font-weight="bold" text-anchor="start" fill="#000" transform="rotate(90 583.20 408.20)">C29</text>
<text x="593.61" y="408.20" font-family="'Liberation Serif', serif" font-size="6.20" font-weight="bold" text-anchor="start" fill="#000" transform="rotate(90 593.61 408.20)">C30</text>
<text x="604.03" y="408.20" font-family="'Liberation Serif', serif" font-size="6.20" font-weight="bold" text-anchor="start" fill="#000" transform="rotate(90 604.03 408.20)">C31</text>
<text x="614.44" y="408.20" font-family="'Liberation Serif', serif" font-size="6.20" font-weight="bold" text-anchor="start" fill="#000" transform="rotate(90 614.44 408.20)">C32</text>
<text x="624.86" y="408.20" font-family="'Liberation Serif', serif" font-size="6.20" font-weight="bold" text-anchor="start" fill="#000" transform="rotate(90 624.86 408.20)">C33</text>
<text x="635.27" y="408.20" font-family="'Liberation Serif', serif" font-size="6.20" font-weight="bold" text-anchor="start" fill="#000" transform="rotate(90 635.27 408.20)">C34</text>
<text x="645.68" y="408.20" font-family="'Liberation Serif', serif" font-size="6.20" font-weight="bold" text-anchor="start" fill="#000" transform="rotate(90 645.68 408.20)">C35</text>
<rect x="289.50" y="264.18" width="8.4" height="3.52" fill="#676767"/>
<text x="295.21" y="216.20" font-family="'Liberation Sans', sans-serif" font-size="4.80" text-anchor="end" fill="#444" transform="rotate(-90 295.21 216.20)">0.62</text>
<rect x="299.91" y="251.51" width="8.4" height="16.19" fill="#676767"/>
<text x="305.62" y="216.20" font-family="'Liberation Sans', sans-serif" font-size="4.80" text-anchor="end" fill="#444" transform="rotate(-90 305.62 216.20)">2.85</text>
<rect x="310.33" y="259.24" width="8.4" height="8.46" fill="#676767"/>
<text x="316.03" y="216.20" font-family="'Liberation Sans', sans-serif" font-size="4.80" text-anchor="end" fill="#444" transform="rotate(-90 316.03 216.20)">1.49</text>
<rect x="320.74" y="259.98" width="8.4" height="7.72" fill="#676767"/>
<text x="326.45" y="216.20" font-family="'Liberation Sans', sans-serif" font-size="4.80" text-anchor="end" fill="#444" transform="rotate(-90 326.45 216.20)">1.36</text>
<rect x="331.16" y="266.73" width="8.4" height="0.97" fill="#676767"/>
<text x="336.86" y="216.20" font-family="'Liberation Sans', sans-serif" font-size="4.80" text-anchor="end" fill="#444" transform="rotate(-90 336.86 216.20)">0.17</text>
<rect x="341.57" y="261.11" width="8.4" height="6.59" fill="#676767"/>
<text x="347.28" y="216.20" font-family="'Liberation Sans', sans-serif" font-size="4.80" text-anchor="end" fill="#444" transform="rotate(-90 347.28 216.20)">1.16</text>
<rect x="351.98" y="263.21" width="8.4" height="4.49" fill="#676767"/>
<text x="357.69" y="216.20" font-family="'Liberation Sans', sans-serif" font-size="4.80" text-anchor="end" fill="#444" transform="rotate(-90 357.69 216.20)">0.79</text>
<rect x="362.40" y="247.88" width="8.4" height="19.82" fill="#676767"/>
<text x="368.11" y="216.20" font-family="'Liberation Sans', sans-serif" font-size="4.80" text-anchor="end" fill="#444" transform="rotate(-90 368.11 216.20)">3.49</text>
<rect x="372.81" y="255.49" width="8.4" height="12.21" fill="#676767"/>
<text x="378.52" y="216.20" font-family="'Liberation Sans', sans-serif" font-size="4.80" text-anchor="end" fill="#444" transform="rotate(-90 378.52 216.20)">2.15</text>
<rect x="383.23" y="231.01" width="8.4" height="36.69" fill="#676767"/>
<text x="388.93" y="216.20" font-family="'Liberation Sans', sans-serif" font-size="4.80" text-anchor="end" fill="#444" transform="rotate(-90 388.93 216.20)">6.46</text>
<rect x="393.64" y="245.89" width="8.4" height="21.81" fill="#676767"/>
<text x="399.35" y="216.20" font-family="'Liberation Sans', sans-serif" font-size="4.80" text-anchor="end" fill="#444" transform="rotate(-90 399.35 216.20)">3.84</text>
<rect x="404.05" y="252.53" width="8.4" height="15.17" fill="#676767"/>
<text x="409.76" y="216.20" font-family="'Liberation Sans', sans-serif" font-size="4.80" text-anchor="end" fill="#444" transform="rotate(-90 409.76 216.20)">2.67</text>
<rect x="414.47" y="262.93" width="8.4" height="4.77" fill="#676767"/>
<text x="420.17" y="216.20" font-family="'Liberation Sans', sans-serif" font-size="4.80" text-anchor="end" fill="#444" transform="rotate(-90 420.17 216.20)">0.84</text>
<rect x="424.88" y="263.50" width="8.4" height="4.20" fill="#676767"/>
<text x="430.59" y="216.20" font-family="'Liberation Sans', sans-serif" font-size="4.80" text-anchor="end" fill="#444" transform="rotate(-90 430.59 216.20)">0.74</text>
<rect x="435.30" y="225.61" width="8.4" height="42.09" fill="#676767"/>
<text x="441.00" y="216.20" font-family="'Liberation Sans', sans-serif" font-size="4.80" text-anchor="end" fill="#444" transform="rotate(-90 441.00 216.20)">7.41</text>
<rect x="445.71" y="261.05" width="8.4" height="6.65" fill="#676767"/>
<text x="451.42" y="216.20" font-family="'Liberation Sans', sans-serif" font-size="4.80" text-anchor="end" fill="#444" transform="rotate(-90 451.42 216.20)">1.17</text>
<rect x="456.12" y="267.02" width="8.4" height="0.68" fill="#676767"/>
<text x="461.83" y="216.20" font-family="'Liberation Sans', sans-serif" font-size="4.80" text-anchor="end" fill="#444" transform="rotate(-90 461.83 216.20)">0.12</text>
<rect x="466.54" y="262.99" width="8.4" height="4.71" fill="#676767"/>
<text x="472.25" y="216.20" font-family="'Liberation Sans', sans-serif" font-size="4.80" text-anchor="end" fill="#444" transform="rotate(-90 472.25 216.20)">0.83</text>
<rect x="476.95" y="265.66" width="8.4" height="2.04" fill="#676767"/>
<text x="482.66" y="216.20" font-family="'Liberation Sans', sans-serif" font-size="4.80" text-anchor="end" fill="#444" transform="rotate(-90 482.66 216.20)">0.36</text>
<rect x="487.37" y="245.72" width="8.4" height="21.98" fill="#676767"/>
<text x="493.07" y="216.20" font-family="'Liberation Sans', sans-serif" font-size="4.80" text-anchor="end" fill="#444" transform="rotate(-90 493.07 216.20)">3.87</text>
<rect x="497.78" y="238.56" width="8.4" height="29.14" fill="#676767"/>
<text x="503.49" y="216.20" font-family="'Liberation Sans', sans-serif" font-size="4.80" text-anchor="end" fill="#444" transform="rotate(-90 503.49 216.20)">5.13</text>
<rect x="508.19" y="240.83" width="8.4" height="26.87" fill="#676767"/>
<text x="513.90" y="216.20" font-family="'Liberation Sans', sans-serif" font-size="4.80" text-anchor="end" fill="#444" transform="rotate(-90 513.90 216.20)">4.73</text>
<rect x="518.61" y="257.02" width="8.4" height="10.68" fill="#676767"/>
<text x="524.31" y="216.20" font-family="'Liberation Sans', sans-serif" font-size="4.80" text-anchor="end" fill="#444" transform="rotate(-90 524.31 216.20)">1.88</text>
<rect x="529.02" y="253.10" width="8.4" height="14.60" fill="#676767"/>
<text x="534.73" y="216.20" font-family="'Liberation Sans', sans-serif" font-size="4.80" text-anchor="end" fill="#444" transform="rotate(-90 534.73 216.20)">2.57</text>
<rect x="539.44" y="240.10" width="8.4" height="27.60" fill="#676767"/>
<text x="545.14" y="216.20" font-family="'Liberation Sans', sans-serif" font-size="4.80" text-anchor="end" fill="#444" transform="rotate(-90 545.14 216.20)">4.86</text>
<rect x="549.85" y="243.96" width="8.4" height="23.74" fill="#676767"/>
<text x="555.56" y="216.20" font-family="'Liberation Sans', sans-serif" font-size="4.80" text-anchor="end" fill="#444" transform="rotate(-90 555.56 216.20)">4.18</text>
<rect x="560.26" y="240.10" width="8.4" height="27.60" fill="#676767"/>
<text x="565.97" y="216.20" font-family="'Liberation Sans', sans-serif" font-size="4.80" text-anchor="end" fill="#444" transform="rotate(-90 565.97 216.20)">4.86</text>
<rect x="570.68" y="241.40" width="8.4" height="26.30" fill="#676767"/>
<text x="576.38" y="216.20" font-family="'Liberation Sans', sans-serif" font-size="4.80" text-anchor="end" fill="#444" transform="rotate(-90 576.38 216.20)">4.63</text>
<rect x="581.09" y="263.72" width="8.4" height="3.98" fill="#676767"/>
<text x="586.80" y="216.20" font-family="'Liberation Sans', sans-serif" font-size="4.80" text-anchor="end" fill="#444" transform="rotate(-90 586.80 216.20)">0.7</text>
<rect x="591.51" y="264.97" width="8.4" height="2.73" fill="#676767"/>
<text x="597.21" y="216.20" font-family="'Liberation Sans', sans-serif" font-size="4.80" text-anchor="end" fill="#444" transform="rotate(-90 597.21 216.20)">0.48</text>
<rect x="601.92" y="235.49" width="8.4" height="32.21" fill="#676767"/>
<text x="607.63" y="216.20" font-family="'Liberation Sans', sans-serif" font-size="4.80" text-anchor="end" fill="#444" transform="rotate(-90 607.63 216.20)">5.67</text>
<rect x="612.33" y="232.31" width="8.4" height="35.39" fill="#676767"/>
<text x="618.04" y="216.20" font-family="'Liberation Sans', sans-serif" font-size="4.80" text-anchor="end" fill="#444" transform="rotate(-90 618.04 216.20)">6.23</text>
<rect x="622.75" y="246.46" width="8.4" height="21.24" fill="#676767"/>
<text x="628.46" y="216.20" font-family="'Liberation Sans', sans-serif" font-size="4.80" text-anchor="end" fill="#444" transform="rotate(-90 628.46 216.20)">3.74</text>
<rect x="633.16" y="238.73" width="8.4" height="28.97" fill="#676767"/>
<text x="638.87" y="216.20" font-family="'Liberation Sans', sans-serif" font-size="4.80" text-anchor="end" fill="#444" transform="rotate(-90 638.87 216.20)">5.1</text>
<rect x="643.58" y="252.36" width="8.4" height="15.34" fill="#676767"/>
<text x="649.28" y="216.20" font-family="'Liberation Sans', sans-serif" font-size="4.80" text-anchor="end" fill="#444" transform="rotate(-90 649.28 216.20)">2.7</text>
<line x1="653.6" y1="224.8" x2="653.6" y2="268" stroke="#cccccc" stroke-width="0.8"/>
<defs><linearGradient id="cbar" x1="0" y1="1" x2="0" y2="0"><stop offset="0.00" stop-color="#5e4fa2"/><stop offset="0.10" stop-color="#3288bd"/><stop offset="0.20" stop-color="#66c2a5"/><stop offset="0.30" stop-color="#abdda4"/><stop offset="0.40" stop-color="#e6f598"/><stop offset="0.50" stop-color="#ffffbf"/><stop offset="0.60" stop-color="#fee08b"/><stop offset="0.70" stop-color="#fdae61"/><stop offset="0.80" stop-color="#f46d43"/><stop offset="0.90" stop-color="#d53e4f"/><stop offset="1.00" stop-color="#9e0142"/></linearGradient></defs>
<rect x="660.9" y="218.1" width="5.9" height="36.6" fill="url(#cbar)"/>
<text x="668.80" y="220.40" font-family="'Liberation Serif', serif" font-size="5.60" font-weight="bold" text-anchor="start" fill="#000">1.0</text>
<text x="668.80" y="238.30" font-family="'Liberation Serif', serif" font-size="5.60" font-weight="bold" text-anchor="start" fill="#000">0.5</text>
<text x="668.80" y="255.60" font-family="'Liberation Serif', serif" font-size="5.60" font-weight="bold" text-anchor="start" fill="#000">0.0</text>
<line x1="219.6" y1="447.5" x2="219.6" y2="591.1" stroke="#000" stroke-width="1.6"/>
<line x1="218.8" y1="590.3" x2="421" y2="590.3" stroke="#000" stroke-width="1.6"/>
<line x1="214" y1="590.40" x2="219.6" y2="590.40" stroke="#000" stroke-width="1.4"/>
<text x="209.80" y="593.60" font-family="'Liberation Serif', serif" font-size="9.20" text-anchor="end" fill="#000" textLength="3.9" lengthAdjust="spacingAndGlyphs">0</text>
<line x1="214" y1="554.90" x2="219.6" y2="554.90" stroke="#000" stroke-width="1.4"/>
<text x="209.80" y="558.10" font-family="'Liberation Serif', serif" font-size="9.20" text-anchor="end" fill="#000" textLength="7.7" lengthAdjust="spacingAndGlyphs">20</text>
<line x1="214" y1="519.40" x2="219.6" y2="519.40" stroke="#000" stroke-width="1.4"/>
<text x="209.80" y="522.60" font-family="'Liberation Serif', serif" font-size="9.20" text-anchor="end" fill="#000" textLength="7.7" lengthAdjust="spacingAndGlyphs">40</text>
<line x1="214" y1="483.90" x2="219.6" y2="483.90" stroke="#000" stroke-width="1.4"/>
<text x="209.80" y="487.10" font-family="'Liberation Serif', serif" font-size="9.20" text-anchor="end" fill="#000" textLength="7.7" lengthAdjust="spacingAndGlyphs">60</text>
<line x1="214" y1="448.40" x2="219.6" y2="448.40" stroke="#000" stroke-width="1.4"/>
<text x="209.80" y="451.60" font-family="'Liberation Serif', serif" font-size="9.20" text-anchor="end" fill="#000" textLength="7.7" lengthAdjust="spacingAndGlyphs">80</text>
<text x="194.20" y="511.80" font-family="'Liberation Serif', serif" font-size="10.60" text-anchor="middle" fill="#000" transform="rotate(-90 194.20 511.80)">Frequency (%)</text>
<line x1="244.6" y1="590.3" x2="244.6" y2="595" stroke="#000" stroke-width="1.3"/>
<line x1="282.4" y1="590.3" x2="282.4" y2="595" stroke="#000" stroke-width="1.3"/>
<line x1="320.1" y1="590.3" x2="320.1" y2="595" stroke="#000" stroke-width="1.3"/>
<line x1="357.6" y1="590.3" x2="357.6" y2="595" stroke="#000" stroke-width="1.3"/>
<line x1="395.2" y1="590.3" x2="395.2" y2="595" stroke="#000" stroke-width="1.3"/>
<text x="248.80" y="605.30" font-family="'Liberation Serif', serif" font-size="10.60" text-anchor="end" fill="#000" transform="rotate(-45 248.80 605.30)">Monocytes</text>
<text x="286.60" y="605.30" font-family="'Liberation Serif', serif" font-size="10.60" text-anchor="end" fill="#000" transform="rotate(-45 286.60 605.30)">Macrophages</text>
<text x="324.30" y="605.30" font-family="'Liberation Serif', serif" font-size="10.60" text-anchor="end" fill="#000" transform="rotate(-45 324.30 605.30)">DCs</text>
<text x="361.80" y="605.30" font-family="'Liberation Serif', serif" font-size="10.60" text-anchor="end" fill="#000" transform="rotate(-45 361.80 605.30)">MDSCs</text>
<text x="399.40" y="605.30" font-family="'Liberation Serif', serif" font-size="10.60" text-anchor="end" fill="#000" transform="rotate(-45 399.40 605.30)">Undefined</text>
<path d="M283.1 459.8 C284.3 459.8 288.1 459.6 289.4 459.9 C290.7 460.2 290.6 460.6 290.9 461.5 C291.2 462.4 291.3 463.5 291.1 465.0 C290.9 466.5 289.7 468.6 289.8 470.4 C289.9 472.2 290.8 473.9 291.6 476.0 C292.4 478.1 294.4 480.8 294.6 483.2 C294.8 485.6 293.7 487.7 292.9 490.2 C292.1 492.7 291.1 495.5 290.0 498.4 C288.9 501.3 287.6 504.6 286.6 507.7 C285.7 510.8 284.8 513.6 284.3 517.1 C283.8 520.6 283.6 525.3 283.5 528.8 C283.4 532.3 283.7 535.2 283.6 538.1 C283.5 541.0 283.0 544.9 282.8 546.3 C282.6 547.7 282.6 547.7 282.4 546.3 C282.2 544.9 281.7 541.0 281.6 538.1 C281.5 535.2 281.8 532.3 281.7 528.8 C281.6 525.3 281.4 520.6 280.9 517.1 C280.4 513.6 279.6 510.8 278.6 507.7 C277.7 504.6 276.3 501.3 275.2 498.4 C274.2 495.5 273.1 492.7 272.3 490.2 C271.5 487.7 270.4 485.6 270.6 483.2 C270.8 480.8 272.8 478.1 273.6 476.0 C274.4 473.9 275.3 472.2 275.4 470.4 C275.5 468.6 274.3 466.5 274.1 465.0 C273.9 463.5 274.0 462.4 274.3 461.5 C274.6 460.6 274.5 460.2 275.8 459.9 C277.1 459.6 280.9 459.8 282.1 459.8 C283.3 459.8 281.9 459.8 283.1 459.8Z" fill="#fff" stroke="#000" stroke-width="1.9"/>
<line x1="275.8" x2="289.4" y1="470.4" y2="470.4" stroke="#5aa8f0" stroke-width="0.9"/>
<line x1="271.0" x2="294.2" y1="483.2" y2="483.2" stroke="#5aa8f0" stroke-width="0.9"/>
<line x1="274.6" x2="290.6" y1="496.0" y2="496.0" stroke="#5aa8f0" stroke-width="0.9"/>
<circle cx="281.4" cy="461.0" r="1.25" fill="#4a98ee"/>
<circle cx="280.2" cy="461.0" r="1.25" fill="#4a98ee"/>
<circle cx="282.6" cy="546.0" r="1.25" fill="#4a98ee"/>
<circle cx="279.6" cy="497.5" r="1.25" fill="#4a98ee"/>
<circle cx="281.7" cy="491.0" r="1.25" fill="#4a98ee"/>
<circle cx="282.7" cy="464.2" r="1.25" fill="#4a98ee"/>
<circle cx="282.1" cy="463.1" r="1.25" fill="#4a98ee"/>
<circle cx="279.7" cy="464.9" r="1.25" fill="#4a98ee"/>
<circle cx="284.9" cy="484.8" r="1.25" fill="#4a98ee"/>
<circle cx="280.7" cy="467.9" r="1.25" fill="#4a98ee"/>
<circle cx="285.7" cy="496.1" r="1.25" fill="#4a98ee"/>
<circle cx="281.9" cy="493.3" r="1.25" fill="#4a98ee"/>
<circle cx="282.6" cy="515.7" r="1.25" fill="#4a98ee"/>
<circle cx="285.1" cy="463.6" r="1.25" fill="#4a98ee"/>
<circle cx="280.1" cy="477.2" r="1.25" fill="#4a98ee"/>
<circle cx="281.3" cy="467.6" r="1.25" fill="#4a98ee"/>
<circle cx="280.4" cy="506.7" r="1.25" fill="#4a98ee"/>
<circle cx="283.6" cy="493.6" r="1.25" fill="#4a98ee"/>
<circle cx="282.9" cy="481.9" r="1.25" fill="#4a98ee"/>
<circle cx="279.5" cy="464.5" r="1.25" fill="#4a98ee"/>
<circle cx="283.9" cy="472.5" r="1.25" fill="#4a98ee"/>
<circle cx="281.3" cy="484.9" r="1.25" fill="#4a98ee"/>
<circle cx="282.3" cy="493.8" r="1.25" fill="#4a98ee"/>
<circle cx="284.7" cy="477.8" r="1.25" fill="#4a98ee"/>
<circle cx="280.8" cy="500.1" r="1.25" fill="#4a98ee"/>
<circle cx="282.8" cy="493.2" r="1.25" fill="#4a98ee"/>
<circle cx="282.6" cy="510.0" r="1.25" fill="#4a98ee"/>
<circle cx="281.1" cy="501.8" r="1.25" fill="#4a98ee"/>
<circle cx="282.6" cy="515.9" r="1.25" fill="#4a98ee"/>
<circle cx="282.0" cy="467.6" r="1.25" fill="#4a98ee"/>
<path d="M358.3 511.2 C358.7 511.3 359.2 511.0 359.6 512.0 C360.0 513.0 359.9 514.7 360.8 517.1 C361.7 519.5 363.7 523.3 365.0 526.4 C366.3 529.5 367.7 533.5 368.4 535.8 C369.1 538.1 369.4 538.4 369.2 540.4 C369.0 542.4 368.1 545.5 367.2 547.5 C366.3 549.5 364.2 550.6 364.0 552.1 C363.8 553.6 365.6 555.2 366.2 556.8 C366.8 558.4 367.3 560.3 367.4 561.5 C367.5 562.7 368.1 563.3 366.6 563.8 C365.1 564.2 359.9 564.1 358.3 564.2 C356.8 564.3 358.9 564.3 357.3 564.2 C355.8 564.1 350.5 564.2 349.0 563.8 C347.5 563.3 348.1 562.7 348.2 561.5 C348.3 560.3 348.8 558.4 349.4 556.8 C350.0 555.2 351.8 553.6 351.6 552.1 C351.4 550.6 349.3 549.5 348.4 547.5 C347.5 545.5 346.6 542.4 346.4 540.4 C346.2 538.4 346.5 538.1 347.2 535.8 C347.9 533.5 349.3 529.5 350.6 526.4 C351.9 523.3 353.9 519.5 354.8 517.1 C355.7 514.7 355.6 513.0 356.0 512.0 C356.4 511.0 356.9 511.3 357.3 511.2 C357.7 511.1 357.9 511.1 358.3 511.2Z" fill="#fff" stroke="#000" stroke-width="1.9"/>
<line x1="349.3" x2="366.3" y1="531.5" y2="531.5" stroke="#3ed03e" stroke-width="0.9"/>
<line x1="346.6" x2="369.0" y1="540.4" y2="540.4" stroke="#3ed03e" stroke-width="0.9"/>
<line x1="349.6" x2="366.0" y1="556.5" y2="556.5" stroke="#3ed03e" stroke-width="0.9"/>
<circle cx="355.0" cy="550.6" r="1.1" fill="#30d030"/>
<circle cx="354.1" cy="536.9" r="1.1" fill="#30d030"/>
<circle cx="359.9" cy="546.1" r="1.1" fill="#30d030"/>
<circle cx="360.8" cy="541.2" r="1.1" fill="#30d030"/>
<circle cx="359.4" cy="528.0" r="1.1" fill="#30d030"/>
<circle cx="358.4" cy="542.3" r="1.1" fill="#30d030"/>
<circle cx="360.5" cy="535.3" r="1.1" fill="#30d030"/>
<circle cx="357.6" cy="560.2" r="1.1" fill="#30d030"/>
<circle cx="354.3" cy="545.9" r="1.1" fill="#30d030"/>
<circle cx="359.0" cy="547.8" r="1.1" fill="#30d030"/>
<circle cx="360.4" cy="562.6" r="1.1" fill="#30d030"/>
<circle cx="356.9" cy="526.5" r="1.1" fill="#30d030"/>
<circle cx="354.0" cy="546.1" r="1.1" fill="#30d030"/>
<circle cx="355.1" cy="535.5" r="1.1" fill="#30d030"/>
<circle cx="354.3" cy="518.0" r="1.1" fill="#30d030"/>
<circle cx="354.8" cy="551.2" r="1.1" fill="#30d030"/>
<circle cx="356.9" cy="524.6" r="1.1" fill="#30d030"/>
<circle cx="354.4" cy="556.4" r="1.1" fill="#30d030"/>
<circle cx="358.2" cy="534.9" r="1.1" fill="#30d030"/>
<circle cx="360.4" cy="557.1" r="1.1" fill="#30d030"/>
<circle cx="356.0" cy="556.1" r="1.1" fill="#30d030"/>
<circle cx="356.7" cy="533.2" r="1.1" fill="#30d030"/>
<circle cx="361.5" cy="557.1" r="1.1" fill="#30d030"/>
<circle cx="355.2" cy="519.7" r="1.1" fill="#30d030"/>
<circle cx="355.7" cy="523.8" r="1.1" fill="#30d030"/>
<circle cx="358.5" cy="536.7" r="1.1" fill="#30d030"/>
<circle cx="353.8" cy="525.4" r="1.1" fill="#30d030"/>
<circle cx="356.8" cy="533.4" r="1.1" fill="#30d030"/>
<path d="M244.9 564.5 C245.2 564.6 246.0 564.5 246.2 565.0 C246.3 565.5 245.8 566.5 245.8 567.5 C245.8 568.5 245.9 569.8 246.2 571.0 C246.5 572.2 246.6 573.3 247.4 574.5 C248.2 575.7 249.8 576.9 251.1 578.0 C252.4 579.1 254.1 580.0 255.1 581.0 C256.1 582.0 257.0 582.8 257.2 583.7 C257.4 584.6 258.1 585.8 256.1 586.5 C254.1 587.2 247.1 587.9 245.1 588.2 C243.1 588.5 246.1 588.5 244.1 588.2 C242.1 587.9 235.1 587.2 233.1 586.5 C231.1 585.8 231.8 584.6 232.0 583.7 C232.2 582.8 233.1 582.0 234.1 581.0 C235.1 580.0 236.8 579.1 238.1 578.0 C239.4 576.9 241.0 575.7 241.8 574.5 C242.6 573.3 242.7 572.2 243.0 571.0 C243.3 569.8 243.4 568.5 243.4 567.5 C243.4 566.5 242.8 565.5 243.0 565.0 C243.2 564.5 244.0 564.6 244.3 564.5 C244.6 564.4 244.6 564.4 244.9 564.5Z" fill="#fbd8d8" stroke="#000" stroke-width="1.9"/>
<circle cx="252.8" cy="582.8" r="1.1" fill="#f06070"/>
<circle cx="244.9" cy="584.3" r="1.1" fill="#f06070"/>
<circle cx="247.8" cy="583.4" r="1.1" fill="#f06070"/>
<circle cx="251.8" cy="576.6" r="1.1" fill="#f06070"/>
<circle cx="251.3" cy="585.4" r="1.1" fill="#f06070"/>
<circle cx="242.7" cy="585.6" r="1.1" fill="#f06070"/>
<circle cx="237.5" cy="580.8" r="1.1" fill="#f06070"/>
<circle cx="236.7" cy="583.6" r="1.1" fill="#f06070"/>
<circle cx="239.4" cy="576.8" r="1.1" fill="#f06070"/>
<circle cx="241.7" cy="577.9" r="1.1" fill="#f06070"/>
<circle cx="235.6" cy="576.6" r="1.1" fill="#f06070"/>
<circle cx="237.4" cy="577.8" r="1.1" fill="#f06070"/>
<circle cx="236.1" cy="580.4" r="1.1" fill="#f06070"/>
<circle cx="246.7" cy="586.5" r="1.1" fill="#f06070"/>
<circle cx="240.1" cy="577.8" r="1.1" fill="#f06070"/>
<circle cx="242.2" cy="580.2" r="1.1" fill="#f06070"/>
<circle cx="250.9" cy="577.5" r="1.1" fill="#f06070"/>
<circle cx="244.0" cy="587.9" r="1.1" fill="#f06070"/>
<circle cx="237.1" cy="581.8" r="1.1" fill="#f06070"/>
<circle cx="241.8" cy="577.2" r="1.1" fill="#f06070"/>
<circle cx="250.5" cy="579.2" r="1.1" fill="#f06070"/>
<circle cx="236.0" cy="577.9" r="1.1" fill="#f06070"/>
<circle cx="245.1" cy="587.4" r="1.1" fill="#f06070"/>
<circle cx="245.4" cy="577.8" r="1.1" fill="#f06070"/>
<circle cx="245.1" cy="576.3" r="1.1" fill="#f06070"/>
<circle cx="251.1" cy="587.7" r="1.1" fill="#f06070"/>
<circle cx="244.6" cy="566.0" r="1.1" fill="#f06070"/>
<circle cx="244.6" cy="570.0" r="1.1" fill="#f06070"/>
<circle cx="244.6" cy="574.0" r="1.1" fill="#f06070"/>
<line x1="234" x2="255" y1="583" y2="583" stroke="#f05050" stroke-width="0.8"/>
<path d="M320.4 579.0 C321.0 579.1 322.3 579.1 323.1 579.5 C323.9 579.9 323.7 580.9 325.1 581.5 C326.5 582.1 330.7 582.4 331.6 583.0 C332.5 583.6 332.4 584.3 330.6 585.0 C328.8 585.7 322.4 586.8 320.6 587.2 C318.8 587.6 321.4 587.6 319.6 587.2 C317.8 586.8 311.4 585.7 309.6 585.0 C307.8 584.3 307.7 583.6 308.6 583.0 C309.5 582.4 313.7 582.1 315.1 581.5 C316.5 580.9 316.3 579.9 317.1 579.5 C317.9 579.1 319.2 579.1 319.8 579.0 C320.4 578.9 319.9 578.9 320.4 579.0Z" fill="#b0b0b0" stroke="#000" stroke-width="1.4"/>
<circle cx="323.2" cy="582.7" r="1.0" fill="#707070"/>
<circle cx="318.0" cy="582.3" r="1.0" fill="#707070"/>
<circle cx="324.5" cy="583.9" r="1.0" fill="#707070"/>
<circle cx="324.6" cy="583.0" r="1.0" fill="#707070"/>
<circle cx="315.7" cy="585.2" r="1.0" fill="#707070"/>
<circle cx="327.9" cy="585.3" r="1.0" fill="#707070"/>
<circle cx="325.0" cy="585.2" r="1.0" fill="#707070"/>
<circle cx="323.9" cy="582.5" r="1.0" fill="#707070"/>
<circle cx="320.4" cy="583.1" r="1.0" fill="#707070"/>
<circle cx="312.6" cy="581.6" r="1.0" fill="#707070"/>
<circle cx="316.6" cy="582.7" r="1.0" fill="#707070"/>
<circle cx="323.2" cy="585.8" r="1.0" fill="#707070"/>
<path d="M395.5 570.3 C396.0 570.4 397.2 570.2 397.7 570.8 C398.2 571.4 398.1 572.8 398.4 574.0 C398.7 575.2 398.7 576.7 399.4 578.0 C400.1 579.3 401.4 580.8 402.7 582.0 C404.0 583.2 406.5 584.5 407.2 585.5 C407.9 586.5 408.6 587.5 406.7 588.0 C404.8 588.5 397.7 588.5 395.7 588.6 C393.7 588.7 396.7 588.7 394.7 588.6 C392.7 588.5 385.6 588.5 383.7 588.0 C381.8 587.5 382.5 586.5 383.2 585.5 C383.9 584.5 386.4 583.2 387.7 582.0 C389.0 580.8 390.3 579.3 391.0 578.0 C391.7 576.7 391.7 575.2 392.0 574.0 C392.3 572.8 392.2 571.4 392.7 570.8 C393.2 570.2 394.4 570.4 394.9 570.3 C395.4 570.2 395.0 570.2 395.5 570.3Z" fill="#f8c090" stroke="#000" stroke-width="1.9"/>
<circle cx="399.8" cy="579.2" r="1.1" fill="#f06a10"/>
<circle cx="403.1" cy="587.8" r="1.1" fill="#f06a10"/>
<circle cx="392.6" cy="577.8" r="1.1" fill="#f06a10"/>
<circle cx="392.9" cy="575.6" r="1.1" fill="#f06a10"/>
<circle cx="396.1" cy="575.3" r="1.1" fill="#f06a10"/>
<circle cx="400.8" cy="586.4" r="1.1" fill="#f06a10"/>
<circle cx="396.9" cy="579.7" r="1.1" fill="#f06a10"/>
<circle cx="389.0" cy="584.8" r="1.1" fill="#f06a10"/>
<circle cx="400.6" cy="582.6" r="1.1" fill="#f06a10"/>
<circle cx="398.9" cy="584.5" r="1.1" fill="#f06a10"/>
<circle cx="391.7" cy="579.6" r="1.1" fill="#f06a10"/>
<circle cx="392.7" cy="584.6" r="1.1" fill="#f06a10"/>
<circle cx="402.3" cy="584.8" r="1.1" fill="#f06a10"/>
<circle cx="394.2" cy="578.3" r="1.1" fill="#f06a10"/>
<circle cx="399.0" cy="587.1" r="1.1" fill="#f06a10"/>
<circle cx="392.6" cy="574.7" r="1.1" fill="#f06a10"/>
<circle cx="397.9" cy="574.4" r="1.1" fill="#f06a10"/>
<circle cx="389.8" cy="584.9" r="1.1" fill="#f06a10"/>
<circle cx="402.6" cy="585.2" r="1.1" fill="#f06a10"/>
<circle cx="393.2" cy="582.5" r="1.1" fill="#f06a10"/>
<circle cx="390.8" cy="580.8" r="1.1" fill="#f06a10"/>
<circle cx="397.5" cy="572.2" r="1.1" fill="#f06a10"/>
<circle cx="395.5" cy="582.4" r="1.1" fill="#f06a10"/>
<circle cx="394.1" cy="586.9" r="1.1" fill="#f06a10"/>
<circle cx="400.4" cy="585.9" r="1.1" fill="#f06a10"/>
<circle cx="393.3" cy="575.4" r="1.1" fill="#f06a10"/>
<clipPath id="gclip"><rect x="449.0" y="442.0" width="174.0" height="173.5"/></clipPath>
<filter id="gb1" x="-20%" y="-20%" width="140%" height="140%"><feGaussianBlur stdDeviation="1.3"/></filter>
<filter id="gb2" x="-20%" y="-20%" width="140%" height="140%"><feGaussianBlur stdDeviation="0.7"/></filter>
<rect x="449.0" y="442.0" width="174.0" height="173.5" fill="#070520"/>
<g clip-path="url(#gclip)">
<ellipse cx="446.9" cy="440.8" rx="3.8" ry="2.7" fill="#5a2ae0" stroke="#0a0826" stroke-width="0.7" transform="rotate(51 446.9 440.8)"/>
<ellipse cx="454.6" cy="438.9" rx="5.2" ry="4.6" fill="#7030d8" stroke="#0a0826" stroke-width="0.7" transform="rotate(97 454.6 438.9)"/>
<ellipse cx="463.7" cy="440.8" rx="4.5" ry="3.4" fill="#5a2ae0" stroke="#0a0826" stroke-width="0.7" transform="rotate(10 463.7 440.8)"/>
<ellipse cx="463.0" cy="441.2" rx="2.0" ry="1.5" fill="#1c12a8" fill-opacity="0.8"/>
<ellipse cx="473.6" cy="437.8" rx="3.6" ry="3.3" fill="#3626f6" stroke="#0a0826" stroke-width="0.7" transform="rotate(56 473.6 437.8)"/>
<ellipse cx="479.0" cy="439.5" rx="3.4" ry="2.5" fill="#2c2cf4" stroke="#0a0826" stroke-width="0.7" transform="rotate(40 479.0 439.5)"/>
<ellipse cx="479.6" cy="440.2" rx="1.6" ry="1.1" fill="#1c12a8" fill-opacity="0.8"/>
<ellipse cx="490.1" cy="440.0" rx="6.0" ry="5.9" fill="#3522ea" stroke="#0a0826" stroke-width="0.7" transform="rotate(158 490.1 440.0)"/>
<ellipse cx="494.3" cy="439.6" rx="4.2" ry="3.7" fill="#7030d8" stroke="#0a0826" stroke-width="0.7" transform="rotate(77 494.3 439.6)"/>
<ellipse cx="502.7" cy="441.0" rx="3.8" ry="3.6" fill="#5228e8" stroke="#0a0826" stroke-width="0.7" transform="rotate(15 502.7 441.0)"/>
<ellipse cx="512.1" cy="439.6" rx="4.6" ry="3.8" fill="#7030d8" stroke="#0a0826" stroke-width="0.7" transform="rotate(54 512.1 439.6)"/>
<ellipse cx="531.4" cy="440.8" rx="4.3" ry="3.9" fill="#2c2cf4" stroke="#0a0826" stroke-width="0.7" transform="rotate(179 531.4 440.8)"/>
<ellipse cx="538.1" cy="438.1" rx="4.3" ry="3.7" fill="#7030d8" stroke="#0a0826" stroke-width="0.7" transform="rotate(159 538.1 438.1)"/>
<ellipse cx="547.0" cy="440.0" rx="5.5" ry="4.6" fill="#5a2ae0" stroke="#0a0826" stroke-width="0.7" transform="rotate(137 547.0 440.0)"/>
<ellipse cx="553.7" cy="438.6" rx="4.4" ry="4.1" fill="#5228e8" stroke="#0a0826" stroke-width="0.7" transform="rotate(76 553.7 438.6)"/>
<ellipse cx="559.8" cy="440.2" rx="5.2" ry="3.7" fill="#5a2ae0" stroke="#0a0826" stroke-width="0.7" transform="rotate(2 559.8 440.2)"/>
<ellipse cx="568.9" cy="439.2" rx="3.5" ry="3.0" fill="#5228e8" stroke="#0a0826" stroke-width="0.7" transform="rotate(48 568.9 439.2)"/>
<ellipse cx="576.7" cy="438.9" rx="5.9" ry="5.0" fill="#3020f0" stroke="#0a0826" stroke-width="0.7" transform="rotate(43 576.7 438.9)"/>
<ellipse cx="593.9" cy="438.4" rx="5.8" ry="4.1" fill="#3a24e0" stroke="#0a0826" stroke-width="0.7" transform="rotate(15 593.9 438.4)"/>
<ellipse cx="601.6" cy="441.4" rx="4.0" ry="2.8" fill="#3626f6" stroke="#0a0826" stroke-width="0.7" transform="rotate(122 601.6 441.4)"/>
<ellipse cx="601.5" cy="441.1" rx="1.8" ry="1.3" fill="#1c12a8" fill-opacity="0.8"/>
<ellipse cx="621.7" cy="440.0" rx="4.2" ry="4.0" fill="#7030d8" stroke="#0a0826" stroke-width="0.7" transform="rotate(89 621.7 440.0)"/>
<ellipse cx="621.3" cy="440.8" rx="1.9" ry="1.8" fill="#1c12a8" fill-opacity="0.8"/>
<ellipse cx="452.8" cy="447.9" rx="4.8" ry="4.0" fill="#2a1ee6" stroke="#0a0826" stroke-width="0.7" transform="rotate(143 452.8 447.9)"/>
<ellipse cx="469.5" cy="445.5" rx="5.7" ry="4.4" fill="#6a2ee0" stroke="#0a0826" stroke-width="0.7" transform="rotate(88 469.5 445.5)"/>
<ellipse cx="477.9" cy="447.3" rx="5.2" ry="4.0" fill="#5228e8" stroke="#0a0826" stroke-width="0.7" transform="rotate(129 477.9 447.3)"/>
<ellipse cx="482.8" cy="446.0" rx="5.2" ry="3.8" fill="#7030d8" stroke="#0a0826" stroke-width="0.7" transform="rotate(125 482.8 446.0)"/>
<ellipse cx="482.6" cy="446.1" rx="2.3" ry="1.7" fill="#1c12a8" fill-opacity="0.8"/>
<ellipse cx="494.0" cy="446.8" rx="4.5" ry="4.5" fill="#3030ff" stroke="#0a0826" stroke-width="0.7" transform="rotate(36 494.0 446.8)"/>
<ellipse cx="494.0" cy="447.3" rx="2.0" ry="2.0" fill="#1c12a8" fill-opacity="0.8"/>
<ellipse cx="510.8" cy="448.5" rx="4.9" ry="4.8" fill="#7030d8" stroke="#0a0826" stroke-width="0.7" transform="rotate(148 510.8 448.5)"/>
<ellipse cx="518.1" cy="447.6" rx="4.4" ry="4.0" fill="#3020f0" stroke="#0a0826" stroke-width="0.7" transform="rotate(95 518.1 447.6)"/>
<ellipse cx="525.2" cy="444.8" rx="5.7" ry="5.4" fill="#2c2cf4" stroke="#0a0826" stroke-width="0.7" transform="rotate(180 525.2 444.8)"/>
<ellipse cx="535.1" cy="449.3" rx="5.5" ry="4.4" fill="#5228e8" stroke="#0a0826" stroke-width="0.7" transform="rotate(62 535.1 449.3)"/>
<ellipse cx="535.7" cy="449.2" rx="2.5" ry="2.0" fill="#1c12a8" fill-opacity="0.8"/>
<ellipse cx="539.3" cy="446.5" rx="5.8" ry="5.3" fill="#7030d8" stroke="#0a0826" stroke-width="0.7" transform="rotate(161 539.3 446.5)"/>
<ellipse cx="549.7" cy="447.8" rx="4.8" ry="4.4" fill="#6a2ee0" stroke="#0a0826" stroke-width="0.7" transform="rotate(52 549.7 447.8)"/>
<ellipse cx="557.2" cy="445.9" rx="4.2" ry="3.8" fill="#3a24e0" stroke="#0a0826" stroke-width="0.7" transform="rotate(7 557.2 445.9)"/>
<ellipse cx="564.1" cy="445.2" rx="5.2" ry="4.8" fill="#7030d8" stroke="#0a0826" stroke-width="0.7" transform="rotate(177 564.1 445.2)"/>
<ellipse cx="564.6" cy="444.9" rx="2.3" ry="2.2" fill="#1c12a8" fill-opacity="0.8"/>
<ellipse cx="574.9" cy="449.4" rx="3.5" ry="2.9" fill="#6a2ee0" stroke="#0a0826" stroke-width="0.7" transform="rotate(63 574.9 449.4)"/>
<ellipse cx="582.0" cy="445.6" rx="4.3" ry="3.3" fill="#3020f0" stroke="#0a0826" stroke-width="0.7" transform="rotate(68 582.0 445.6)"/>
<ellipse cx="589.6" cy="449.4" rx="4.3" ry="3.4" fill="#6a2ee0" stroke="#0a0826" stroke-width="0.7" transform="rotate(13 589.6 449.4)"/>
<ellipse cx="597.2" cy="446.9" rx="5.8" ry="4.9" fill="#3020f0" stroke="#0a0826" stroke-width="0.7" transform="rotate(6 597.2 446.9)"/>
<ellipse cx="607.9" cy="445.5" rx="5.0" ry="4.7" fill="#6a2ee0" stroke="#0a0826" stroke-width="0.7" transform="rotate(180 607.9 445.5)"/>
<ellipse cx="613.8" cy="447.0" rx="5.6" ry="4.3" fill="#2c2cf4" stroke="#0a0826" stroke-width="0.7" transform="rotate(82 613.8 447.0)"/>
<ellipse cx="623.5" cy="448.5" rx="5.2" ry="4.6" fill="#3626f6" stroke="#0a0826" stroke-width="0.7" transform="rotate(91 623.5 448.5)"/>
<ellipse cx="449.4" cy="454.7" rx="4.3" ry="4.0" fill="#5228e8" stroke="#0a0826" stroke-width="0.7" transform="rotate(84 449.4 454.7)"/>
<ellipse cx="454.3" cy="454.4" rx="4.2" ry="3.1" fill="#6a2ee0" stroke="#0a0826" stroke-width="0.7" transform="rotate(123 454.3 454.4)"/>
<ellipse cx="462.0" cy="454.7" rx="3.5" ry="3.3" fill="#3522ea" stroke="#0a0826" stroke-width="0.7" transform="rotate(146 462.0 454.7)"/>
<ellipse cx="470.5" cy="456.6" rx="4.4" ry="4.2" fill="#6a2ee0" stroke="#0a0826" stroke-width="0.7" transform="rotate(55 470.5 456.6)"/>
<ellipse cx="481.8" cy="453.5" rx="5.1" ry="4.8" fill="#6a2ee0" stroke="#0a0826" stroke-width="0.7" transform="rotate(12 481.8 453.5)"/>
<ellipse cx="488.5" cy="455.9" rx="5.0" ry="3.9" fill="#5228e8" stroke="#0a0826" stroke-width="0.7" transform="rotate(171 488.5 455.9)"/>
<ellipse cx="495.7" cy="453.8" rx="4.4" ry="4.2" fill="#5228e8" stroke="#0a0826" stroke-width="0.7" transform="rotate(66 495.7 453.8)"/>
<ellipse cx="502.7" cy="453.0" rx="5.9" ry="5.1" fill="#3a24e0" stroke="#0a0826" stroke-width="0.7" transform="rotate(60 502.7 453.0)"/>
<ellipse cx="522.4" cy="453.7" rx="4.2" ry="3.1" fill="#5228e8" stroke="#0a0826" stroke-width="0.7" transform="rotate(90 522.4 453.7)"/>
<ellipse cx="530.8" cy="456.1" rx="5.7" ry="4.0" fill="#6a2ee0" stroke="#0a0826" stroke-width="0.7" transform="rotate(112 530.8 456.1)"/>
<ellipse cx="536.2" cy="452.0" rx="3.8" ry="3.5" fill="#2418d8" stroke="#0a0826" stroke-width="0.7" transform="rotate(64 536.2 452.0)"/>
<ellipse cx="544.4" cy="452.9" rx="4.2" ry="4.0" fill="#2418d8" stroke="#0a0826" stroke-width="0.7" transform="rotate(94 544.4 452.9)"/>
<ellipse cx="554.1" cy="452.4" rx="4.8" ry="4.0" fill="#2418d8" stroke="#0a0826" stroke-width="0.7" transform="rotate(154 554.1 452.4)"/>
<ellipse cx="561.9" cy="455.2" rx="4.7" ry="4.2" fill="#5228e8" stroke="#0a0826" stroke-width="0.7" transform="rotate(168 561.9 455.2)"/>
<ellipse cx="569.8" cy="455.1" rx="4.5" ry="3.8" fill="#5228e8" stroke="#0a0826" stroke-width="0.7" transform="rotate(72 569.8 455.1)"/>
<ellipse cx="569.8" cy="455.8" rx="2.0" ry="1.7" fill="#1c12a8" fill-opacity="0.8"/>
<ellipse cx="586.4" cy="456.2" rx="5.9" ry="5.3" fill="#7030d8" stroke="#0a0826" stroke-width="0.7" transform="rotate(118 586.4 456.2)"/>
<ellipse cx="594.2" cy="454.0" rx="5.4" ry="5.1" fill="#5228e8" stroke="#0a0826" stroke-width="0.7" transform="rotate(166 594.2 454.0)"/>
<ellipse cx="600.9" cy="452.2" rx="3.6" ry="2.6" fill="#6a2ee0" stroke="#0a0826" stroke-width="0.7" transform="rotate(21 600.9 452.2)"/>
<ellipse cx="608.5" cy="453.2" rx="5.2" ry="4.6" fill="#7030d8" stroke="#0a0826" stroke-width="0.7" transform="rotate(28 608.5 453.2)"/>
<ellipse cx="621.5" cy="456.7" rx="5.9" ry="4.2" fill="#6a2ee0" stroke="#0a0826" stroke-width="0.7" transform="rotate(6 621.5 456.7)"/>
<ellipse cx="449.7" cy="463.8" rx="3.9" ry="3.6" fill="#5228e8" stroke="#0a0826" stroke-width="0.7" transform="rotate(106 449.7 463.8)"/>
<ellipse cx="450.0" cy="464.1" rx="1.8" ry="1.6" fill="#1c12a8" fill-opacity="0.8"/>
<ellipse cx="458.9" cy="461.9" rx="4.0" ry="2.9" fill="#2020e0" stroke="#0a0826" stroke-width="0.7" transform="rotate(57 458.9 461.9)"/>
<ellipse cx="477.0" cy="463.8" rx="4.2" ry="4.1" fill="#7030d8" stroke="#0a0826" stroke-width="0.7" transform="rotate(161 477.0 463.8)"/>
<ellipse cx="484.4" cy="462.5" rx="4.0" ry="3.4" fill="#3020f0" stroke="#0a0826" stroke-width="0.7" transform="rotate(62 484.4 462.5)"/>
<ellipse cx="493.3" cy="463.3" rx="4.3" ry="3.5" fill="#5a2ae0" stroke="#0a0826" stroke-width="0.7" transform="rotate(173 493.3 463.3)"/>
<ellipse cx="502.1" cy="464.1" rx="3.9" ry="3.5" fill="#2a1ee6" stroke="#0a0826" stroke-width="0.7" transform="rotate(43 502.1 464.1)"/>
<ellipse cx="508.7" cy="461.0" rx="4.4" ry="3.9" fill="#5228e8" stroke="#0a0826" stroke-width="0.7" transform="rotate(135 508.7 461.0)"/>
<ellipse cx="526.1" cy="460.4" rx="3.7" ry="3.4" fill="#3020f0" stroke="#0a0826" stroke-width="0.7" transform="rotate(172 526.1 460.4)"/>
<ellipse cx="526.7" cy="460.6" rx="1.6" ry="1.5" fill="#1c12a8" fill-opacity="0.8"/>
<ellipse cx="533.8" cy="460.0" rx="4.9" ry="4.3" fill="#2a22c8" stroke="#0a0826" stroke-width="0.7" transform="rotate(27 533.8 460.0)"/>
<ellipse cx="540.7" cy="460.7" rx="6.0" ry="4.8" fill="#7030d8" stroke="#0a0826" stroke-width="0.7" transform="rotate(164 540.7 460.7)"/>
<ellipse cx="549.5" cy="461.4" rx="4.4" ry="3.4" fill="#5228e8" stroke="#0a0826" stroke-width="0.7" transform="rotate(4 549.5 461.4)"/>
<ellipse cx="556.8" cy="461.0" rx="5.8" ry="4.6" fill="#2020e0" stroke="#0a0826" stroke-width="0.7" transform="rotate(41 556.8 461.0)"/>
<ellipse cx="565.1" cy="462.4" rx="4.7" ry="4.2" fill="#6a2ee0" stroke="#0a0826" stroke-width="0.7" transform="rotate(161 565.1 462.4)"/>
<ellipse cx="564.8" cy="461.9" rx="2.1" ry="1.9" fill="#1c12a8" fill-opacity="0.8"/>
<ellipse cx="572.0" cy="462.5" rx="4.1" ry="3.8" fill="#5228e8" stroke="#0a0826" stroke-width="0.7" transform="rotate(150 572.0 462.5)"/>
<ellipse cx="584.7" cy="462.5" rx="4.5" ry="3.6" fill="#4a28d8" stroke="#0a0826" stroke-width="0.7" transform="rotate(7 584.7 462.5)"/>
<ellipse cx="584.3" cy="462.8" rx="2.0" ry="1.6" fill="#1c12a8" fill-opacity="0.8"/>
<ellipse cx="592.2" cy="460.3" rx="5.1" ry="4.5" fill="#2020e0" stroke="#0a0826" stroke-width="0.7" transform="rotate(127 592.2 460.3)"/>
<ellipse cx="606.7" cy="463.8" rx="4.6" ry="3.7" fill="#6a2ee0" stroke="#0a0826" stroke-width="0.7" transform="rotate(33 606.7 463.8)"/>
<ellipse cx="616.2" cy="462.9" rx="4.8" ry="4.4" fill="#4a28d8" stroke="#0a0826" stroke-width="0.7" transform="rotate(42 616.2 462.9)"/>
<ellipse cx="623.3" cy="462.5" rx="5.3" ry="4.2" fill="#2418d8" stroke="#0a0826" stroke-width="0.7" transform="rotate(108 623.3 462.5)"/>
<ellipse cx="465.4" cy="467.1" rx="4.5" ry="3.6" fill="#5228e8" stroke="#0a0826" stroke-width="0.7" transform="rotate(162 465.4 467.1)"/>
<ellipse cx="465.5" cy="466.6" rx="2.0" ry="1.6" fill="#1c12a8" fill-opacity="0.8"/>
<ellipse cx="470.4" cy="468.4" rx="3.5" ry="2.6" fill="#5a2ae0" stroke="#0a0826" stroke-width="0.7" transform="rotate(67 470.4 468.4)"/>
<ellipse cx="478.8" cy="467.2" rx="5.6" ry="4.5" fill="#3030ff" stroke="#0a0826" stroke-width="0.7" transform="rotate(64 478.8 467.2)"/>
<ellipse cx="506.4" cy="471.0" rx="4.4" ry="3.3" fill="#6a2ee0" stroke="#0a0826" stroke-width="0.7" transform="rotate(82 506.4 471.0)"/>
<ellipse cx="514.7" cy="470.2" rx="5.5" ry="4.2" fill="#5228e8" stroke="#0a0826" stroke-width="0.7" transform="rotate(59 514.7 470.2)"/>
<ellipse cx="521.0" cy="470.9" rx="5.0" ry="3.8" fill="#2020e0" stroke="#0a0826" stroke-width="0.7" transform="rotate(86 521.0 470.9)"/>
<ellipse cx="521.4" cy="471.0" rx="2.3" ry="1.7" fill="#1c12a8" fill-opacity="0.8"/>
<ellipse cx="530.7" cy="470.6" rx="4.5" ry="3.2" fill="#4a28d8" stroke="#0a0826" stroke-width="0.7" transform="rotate(82 530.7 470.6)"/>
<ellipse cx="537.2" cy="468.2" rx="3.6" ry="3.5" fill="#5228e8" stroke="#0a0826" stroke-width="0.7" transform="rotate(98 537.2 468.2)"/>
<ellipse cx="545.5" cy="469.2" rx="5.7" ry="5.0" fill="#2c2cf4" stroke="#0a0826" stroke-width="0.7" transform="rotate(12 545.5 469.2)"/>
<ellipse cx="545.0" cy="469.3" rx="2.6" ry="2.2" fill="#1c12a8" fill-opacity="0.8"/>
<ellipse cx="553.8" cy="470.6" rx="5.7" ry="4.1" fill="#5228e8" stroke="#0a0826" stroke-width="0.7" transform="rotate(82 553.8 470.6)"/>
<ellipse cx="554.0" cy="470.8" rx="2.6" ry="1.8" fill="#1c12a8" fill-opacity="0.8"/>
<ellipse cx="563.3" cy="469.0" rx="6.0" ry="4.6" fill="#3030ff" stroke="#0a0826" stroke-width="0.7" transform="rotate(91 563.3 469.0)"/>
<ellipse cx="569.5" cy="470.4" rx="4.8" ry="4.4" fill="#3626f6" stroke="#0a0826" stroke-width="0.7" transform="rotate(118 569.5 470.4)"/>
<ellipse cx="579.1" cy="470.7" rx="4.3" ry="3.4" fill="#3a24e0" stroke="#0a0826" stroke-width="0.7" transform="rotate(19 579.1 470.7)"/>
<ellipse cx="584.3" cy="467.0" rx="5.9" ry="4.4" fill="#5228e8" stroke="#0a0826" stroke-width="0.7" transform="rotate(162 584.3 467.0)"/>
<ellipse cx="603.0" cy="467.2" rx="5.6" ry="5.6" fill="#5228e8" stroke="#0a0826" stroke-width="0.7" transform="rotate(111 603.0 467.2)"/>
<ellipse cx="609.6" cy="468.4" rx="4.1" ry="3.6" fill="#2020e0" stroke="#0a0826" stroke-width="0.7" transform="rotate(59 609.6 468.4)"/>
<ellipse cx="609.8" cy="467.8" rx="1.9" ry="1.6" fill="#1c12a8" fill-opacity="0.8"/>
<ellipse cx="620.2" cy="470.1" rx="5.4" ry="4.2" fill="#6a2ee0" stroke="#0a0826" stroke-width="0.7" transform="rotate(59 620.2 470.1)"/>
<ellipse cx="452.4" cy="475.7" rx="3.5" ry="3.1" fill="#5228e8" stroke="#0a0826" stroke-width="0.7" transform="rotate(19 452.4 475.7)"/>
<ellipse cx="458.6" cy="474.1" rx="4.5" ry="3.6" fill="#2a22c8" stroke="#0a0826" stroke-width="0.7" transform="rotate(127 458.6 474.1)"/>
<ellipse cx="467.8" cy="476.3" rx="6.0" ry="5.8" fill="#5a2ae0" stroke="#0a0826" stroke-width="0.7" transform="rotate(84 467.8 476.3)"/>
<ellipse cx="474.7" cy="477.9" rx="5.8" ry="4.2" fill="#6a2ee0" stroke="#0a0826" stroke-width="0.7" transform="rotate(85 474.7 477.9)"/>
<ellipse cx="483.0" cy="478.2" rx="5.2" ry="4.0" fill="#2a1ee6" stroke="#0a0826" stroke-width="0.7" transform="rotate(6 483.0 478.2)"/>
<ellipse cx="490.2" cy="478.4" rx="3.9" ry="3.2" fill="#6a2ee0" stroke="#0a0826" stroke-width="0.7" transform="rotate(64 490.2 478.4)"/>
<ellipse cx="526.8" cy="476.9" rx="3.9" ry="3.0" fill="#6a2ee0" stroke="#0a0826" stroke-width="0.7" transform="rotate(25 526.8 476.9)"/>
<ellipse cx="530.9" cy="474.0" rx="5.7" ry="5.6" fill="#3020f0" stroke="#0a0826" stroke-width="0.7" transform="rotate(59 530.9 474.0)"/>
<ellipse cx="541.4" cy="476.9" rx="5.4" ry="4.9" fill="#5a2ae0" stroke="#0a0826" stroke-width="0.7" transform="rotate(68 541.4 476.9)"/>
<ellipse cx="542.0" cy="477.5" rx="2.4" ry="2.2" fill="#1c12a8" fill-opacity="0.8"/>
<ellipse cx="551.9" cy="477.8" rx="4.9" ry="3.7" fill="#2a22c8" stroke="#0a0826" stroke-width="0.7" transform="rotate(99 551.9 477.8)"/>
<ellipse cx="552.3" cy="477.4" rx="2.2" ry="1.7" fill="#1c12a8" fill-opacity="0.8"/>
<ellipse cx="557.6" cy="475.8" rx="3.9" ry="3.2" fill="#6a2ee0" stroke="#0a0826" stroke-width="0.7" transform="rotate(125 557.6 475.8)"/>
<ellipse cx="564.3" cy="476.7" rx="6.0" ry="5.4" fill="#2418d8" stroke="#0a0826" stroke-width="0.7" transform="rotate(158 564.3 476.7)"/>
<ellipse cx="574.2" cy="475.7" rx="3.9" ry="3.9" fill="#5228e8" stroke="#0a0826" stroke-width="0.7" transform="rotate(33 574.2 475.7)"/>
<ellipse cx="584.4" cy="476.8" rx="3.8" ry="3.3" fill="#7030d8" stroke="#0a0826" stroke-width="0.7" transform="rotate(132 584.4 476.8)"/>
<ellipse cx="588.8" cy="475.2" rx="3.8" ry="3.0" fill="#2418d8" stroke="#0a0826" stroke-width="0.7" transform="rotate(103 588.8 475.2)"/>
<ellipse cx="615.6" cy="477.0" rx="3.8" ry="3.8" fill="#3626f6" stroke="#0a0826" stroke-width="0.7" transform="rotate(140 615.6 477.0)"/>
<ellipse cx="623.3" cy="478.1" rx="4.1" ry="3.6" fill="#5a2ae0" stroke="#0a0826" stroke-width="0.7" transform="rotate(59 623.3 478.1)"/>
<ellipse cx="623.4" cy="477.6" rx="1.9" ry="1.6" fill="#1c12a8" fill-opacity="0.8"/>
<ellipse cx="445.7" cy="485.1" rx="3.6" ry="2.7" fill="#2418d8" stroke="#0a0826" stroke-width="0.7" transform="rotate(56 445.7 485.1)"/>
<ellipse cx="464.2" cy="482.9" rx="5.6" ry="4.1" fill="#6a2ee0" stroke="#0a0826" stroke-width="0.7" transform="rotate(147 464.2 482.9)"/>
<ellipse cx="485.5" cy="484.5" rx="4.2" ry="3.2" fill="#2c2cf4" stroke="#0a0826" stroke-width="0.7" transform="rotate(129 485.5 484.5)"/>
<ellipse cx="495.9" cy="485.4" rx="4.8" ry="3.5" fill="#3020f0" stroke="#0a0826" stroke-width="0.7" transform="rotate(6 495.9 485.4)"/>
<ellipse cx="502.8" cy="482.3" rx="5.8" ry="4.1" fill="#3030ff" stroke="#0a0826" stroke-width="0.7" transform="rotate(124 502.8 482.3)"/>
<ellipse cx="511.8" cy="485.6" rx="3.6" ry="2.8" fill="#2a22c8" stroke="#0a0826" stroke-width="0.7" transform="rotate(70 511.8 485.6)"/>
<ellipse cx="522.7" cy="482.1" rx="3.7" ry="3.3" fill="#6a2ee0" stroke="#0a0826" stroke-width="0.7" transform="rotate(105 522.7 482.1)"/>
<ellipse cx="527.3" cy="483.8" rx="5.7" ry="4.7" fill="#5a2ae0" stroke="#0a0826" stroke-width="0.7" transform="rotate(70 527.3 483.8)"/>
<ellipse cx="547.5" cy="485.8" rx="4.1" ry="3.7" fill="#3a24e0" stroke="#0a0826" stroke-width="0.7" transform="rotate(73 547.5 485.8)"/>
<ellipse cx="555.5" cy="482.1" rx="4.6" ry="3.3" fill="#3030ff" stroke="#0a0826" stroke-width="0.7" transform="rotate(176 555.5 482.1)"/>
<ellipse cx="559.7" cy="480.8" rx="5.8" ry="5.3" fill="#6a2ee0" stroke="#0a0826" stroke-width="0.7" transform="rotate(40 559.7 480.8)"/>
<ellipse cx="571.8" cy="485.4" rx="5.2" ry="4.7" fill="#3a24e0" stroke="#0a0826" stroke-width="0.7" transform="rotate(41 571.8 485.4)"/>
<ellipse cx="571.5" cy="486.1" rx="2.3" ry="2.1" fill="#1c12a8" fill-opacity="0.8"/>
<ellipse cx="584.7" cy="483.0" rx="5.3" ry="5.1" fill="#2418d8" stroke="#0a0826" stroke-width="0.7" transform="rotate(143 584.7 483.0)"/>
<ellipse cx="583.9" cy="483.1" rx="2.4" ry="2.3" fill="#1c12a8" fill-opacity="0.8"/>
<ellipse cx="593.7" cy="482.3" rx="3.5" ry="3.4" fill="#5228e8" stroke="#0a0826" stroke-width="0.7" transform="rotate(95 593.7 482.3)"/>
<ellipse cx="601.9" cy="482.8" rx="5.3" ry="4.0" fill="#6a2ee0" stroke="#0a0826" stroke-width="0.7" transform="rotate(38 601.9 482.8)"/>
<ellipse cx="609.2" cy="481.1" rx="5.0" ry="5.0" fill="#2020e0" stroke="#0a0826" stroke-width="0.7" transform="rotate(123 609.2 481.1)"/>
<ellipse cx="616.7" cy="483.1" rx="4.2" ry="3.4" fill="#3020f0" stroke="#0a0826" stroke-width="0.7" transform="rotate(21 616.7 483.1)"/>
<ellipse cx="449.1" cy="490.1" rx="3.6" ry="2.6" fill="#2418d8" stroke="#0a0826" stroke-width="0.7" transform="rotate(122 449.1 490.1)"/>
<ellipse cx="469.1" cy="491.7" rx="3.7" ry="3.7" fill="#2020e0" stroke="#0a0826" stroke-width="0.7" transform="rotate(168 469.1 491.7)"/>
<ellipse cx="476.6" cy="491.6" rx="5.5" ry="4.7" fill="#3626f6" stroke="#0a0826" stroke-width="0.7" transform="rotate(159 476.6 491.6)"/>
<ellipse cx="492.7" cy="488.5" rx="5.4" ry="4.3" fill="#5a2ae0" stroke="#0a0826" stroke-width="0.7" transform="rotate(131 492.7 488.5)"/>
<ellipse cx="500.2" cy="488.7" rx="4.7" ry="3.9" fill="#3522ea" stroke="#0a0826" stroke-width="0.7" transform="rotate(131 500.2 488.7)"/>
<ellipse cx="506.9" cy="488.8" rx="3.7" ry="2.7" fill="#3030ff" stroke="#0a0826" stroke-width="0.7" transform="rotate(128 506.9 488.8)"/>
<ellipse cx="516.6" cy="488.3" rx="5.4" ry="4.9" fill="#6a2ee0" stroke="#0a0826" stroke-width="0.7" transform="rotate(92 516.6 488.3)"/>
<ellipse cx="516.4" cy="488.1" rx="2.4" ry="2.2" fill="#1c12a8" fill-opacity="0.8"/>
<ellipse cx="527.2" cy="488.8" rx="4.5" ry="3.2" fill="#5228e8" stroke="#0a0826" stroke-width="0.7" transform="rotate(52 527.2 488.8)"/>
<ellipse cx="542.2" cy="492.9" rx="5.7" ry="5.7" fill="#7030d8" stroke="#0a0826" stroke-width="0.7" transform="rotate(14 542.2 492.9)"/>
<ellipse cx="550.9" cy="490.9" rx="4.7" ry="4.4" fill="#3522ea" stroke="#0a0826" stroke-width="0.7" transform="rotate(161 550.9 490.9)"/>
<ellipse cx="558.1" cy="490.7" rx="5.0" ry="4.4" fill="#2020e0" stroke="#0a0826" stroke-width="0.7" transform="rotate(39 558.1 490.7)"/>
<ellipse cx="558.1" cy="491.1" rx="2.3" ry="2.0" fill="#1c12a8" fill-opacity="0.8"/>
<ellipse cx="568.1" cy="491.9" rx="5.3" ry="4.1" fill="#3030ff" stroke="#0a0826" stroke-width="0.7" transform="rotate(106 568.1 491.9)"/>
<ellipse cx="567.9" cy="491.3" rx="2.4" ry="1.8" fill="#1c12a8" fill-opacity="0.8"/>
<ellipse cx="574.0" cy="490.6" rx="3.6" ry="2.7" fill="#4a28d8" stroke="#0a0826" stroke-width="0.7" transform="rotate(75 574.0 490.6)"/>
<ellipse cx="580.7" cy="491.1" rx="4.9" ry="4.7" fill="#2a1ee6" stroke="#0a0826" stroke-width="0.7" transform="rotate(25 580.7 491.1)"/>
<ellipse cx="590.1" cy="489.1" rx="4.5" ry="3.7" fill="#5228e8" stroke="#0a0826" stroke-width="0.7" transform="rotate(21 590.1 489.1)"/>
<ellipse cx="597.1" cy="491.4" rx="6.0" ry="5.1" fill="#3522ea" stroke="#0a0826" stroke-width="0.7" transform="rotate(128 597.1 491.4)"/>
<ellipse cx="612.7" cy="492.7" rx="5.9" ry="5.5" fill="#2020e0" stroke="#0a0826" stroke-width="0.7" transform="rotate(44 612.7 492.7)"/>
<ellipse cx="622.1" cy="491.6" rx="4.6" ry="4.1" fill="#3626f6" stroke="#0a0826" stroke-width="0.7" transform="rotate(86 622.1 491.6)"/>
<ellipse cx="446.8" cy="498.5" rx="3.4" ry="3.0" fill="#3030ff" stroke="#0a0826" stroke-width="0.7" transform="rotate(98 446.8 498.5)"/>
<ellipse cx="446.8" cy="498.4" rx="1.5" ry="1.4" fill="#1c12a8" fill-opacity="0.8"/>
<ellipse cx="456.2" cy="499.6" rx="4.8" ry="3.6" fill="#3626f6" stroke="#0a0826" stroke-width="0.7" transform="rotate(162 456.2 499.6)"/>
<ellipse cx="461.9" cy="499.7" rx="5.7" ry="4.2" fill="#3030ff" stroke="#0a0826" stroke-width="0.7" transform="rotate(131 461.9 499.7)"/>
<ellipse cx="471.0" cy="498.3" rx="4.6" ry="4.3" fill="#7030d8" stroke="#0a0826" stroke-width="0.7" transform="rotate(74 471.0 498.3)"/>
<ellipse cx="479.2" cy="496.1" rx="5.9" ry="4.3" fill="#2020e0" stroke="#0a0826" stroke-width="0.7" transform="rotate(6 479.2 496.1)"/>
<ellipse cx="488.8" cy="498.4" rx="4.9" ry="4.4" fill="#2a22c8" stroke="#0a0826" stroke-width="0.7" transform="rotate(120 488.8 498.4)"/>
<ellipse cx="488.9" cy="497.7" rx="2.2" ry="2.0" fill="#1c12a8" fill-opacity="0.8"/>
<ellipse cx="502.9" cy="497.7" rx="5.4" ry="5.2" fill="#2a22c8" stroke="#0a0826" stroke-width="0.7" transform="rotate(54 502.9 497.7)"/>
<ellipse cx="513.9" cy="498.4" rx="3.6" ry="3.2" fill="#7030d8" stroke="#0a0826" stroke-width="0.7" transform="rotate(140 513.9 498.4)"/>
<ellipse cx="520.5" cy="499.0" rx="3.7" ry="3.0" fill="#2418d8" stroke="#0a0826" stroke-width="0.7" transform="rotate(84 520.5 499.0)"/>
<ellipse cx="530.7" cy="497.7" rx="3.5" ry="2.7" fill="#2c2cf4" stroke="#0a0826" stroke-width="0.7" transform="rotate(147 530.7 497.7)"/>
<ellipse cx="531.2" cy="497.5" rx="1.6" ry="1.2" fill="#1c12a8" fill-opacity="0.8"/>
<ellipse cx="536.0" cy="497.6" rx="5.9" ry="4.7" fill="#3a24e0" stroke="#0a0826" stroke-width="0.7" transform="rotate(36 536.0 497.6)"/>
<ellipse cx="542.9" cy="496.4" rx="5.0" ry="4.7" fill="#2418d8" stroke="#0a0826" stroke-width="0.7" transform="rotate(123 542.9 496.4)"/>
<ellipse cx="551.5" cy="500.1" rx="4.7" ry="4.2" fill="#3a24e0" stroke="#0a0826" stroke-width="0.7" transform="rotate(38 551.5 500.1)"/>
<ellipse cx="560.8" cy="496.0" rx="5.9" ry="5.7" fill="#3a24e0" stroke="#0a0826" stroke-width="0.7" transform="rotate(148 560.8 496.0)"/>
<ellipse cx="569.7" cy="498.2" rx="5.2" ry="3.8" fill="#2a1ee6" stroke="#0a0826" stroke-width="0.7" transform="rotate(171 569.7 498.2)"/>
<ellipse cx="579.5" cy="496.1" rx="5.0" ry="4.8" fill="#3030ff" stroke="#0a0826" stroke-width="0.7" transform="rotate(111 579.5 496.1)"/>
<ellipse cx="587.0" cy="496.1" rx="4.4" ry="3.8" fill="#2c2cf4" stroke="#0a0826" stroke-width="0.7" transform="rotate(16 587.0 496.1)"/>
<ellipse cx="587.0" cy="496.9" rx="2.0" ry="1.7" fill="#1c12a8" fill-opacity="0.8"/>
<ellipse cx="596.1" cy="500.1" rx="4.6" ry="3.6" fill="#5228e8" stroke="#0a0826" stroke-width="0.7" transform="rotate(136 596.1 500.1)"/>
<ellipse cx="612.5" cy="497.3" rx="5.2" ry="3.8" fill="#2a22c8" stroke="#0a0826" stroke-width="0.7" transform="rotate(152 612.5 497.3)"/>
<ellipse cx="618.2" cy="495.9" rx="4.4" ry="3.5" fill="#3522ea" stroke="#0a0826" stroke-width="0.7" transform="rotate(5 618.2 495.9)"/>
<ellipse cx="452.2" cy="507.4" rx="5.2" ry="4.0" fill="#2a1ee6" stroke="#0a0826" stroke-width="0.7" transform="rotate(166 452.2 507.4)"/>
<ellipse cx="460.8" cy="506.2" rx="4.9" ry="3.6" fill="#2a1ee6" stroke="#0a0826" stroke-width="0.7" transform="rotate(101 460.8 506.2)"/>
<ellipse cx="469.3" cy="503.0" rx="5.9" ry="4.6" fill="#5a2ae0" stroke="#0a0826" stroke-width="0.7" transform="rotate(55 469.3 503.0)"/>
<ellipse cx="475.6" cy="505.8" rx="4.2" ry="3.5" fill="#3a24e0" stroke="#0a0826" stroke-width="0.7" transform="rotate(159 475.6 505.8)"/>
<ellipse cx="485.9" cy="506.0" rx="5.2" ry="4.9" fill="#6a2ee0" stroke="#0a0826" stroke-width="0.7" transform="rotate(154 485.9 506.0)"/>
<ellipse cx="492.6" cy="506.9" rx="4.2" ry="4.0" fill="#2a22c8" stroke="#0a0826" stroke-width="0.7" transform="rotate(171 492.6 506.9)"/>
<ellipse cx="492.3" cy="506.2" rx="1.9" ry="1.8" fill="#1c12a8" fill-opacity="0.8"/>
<ellipse cx="499.1" cy="503.1" rx="5.7" ry="5.4" fill="#2418d8" stroke="#0a0826" stroke-width="0.7" transform="rotate(74 499.1 503.1)"/>
<ellipse cx="507.0" cy="506.2" rx="5.0" ry="3.5" fill="#3522ea" stroke="#0a0826" stroke-width="0.7" transform="rotate(116 507.0 506.2)"/>
<ellipse cx="517.1" cy="506.2" rx="5.0" ry="3.7" fill="#2a1ee6" stroke="#0a0826" stroke-width="0.7" transform="rotate(168 517.1 506.2)"/>
<ellipse cx="524.7" cy="506.4" rx="5.3" ry="4.7" fill="#3030ff" stroke="#0a0826" stroke-width="0.7" transform="rotate(139 524.7 506.4)"/>
<ellipse cx="524.1" cy="506.6" rx="2.4" ry="2.1" fill="#1c12a8" fill-opacity="0.8"/>
<ellipse cx="534.6" cy="506.1" rx="5.5" ry="5.2" fill="#2c2cf4" stroke="#0a0826" stroke-width="0.7" transform="rotate(44 534.6 506.1)"/>
<ellipse cx="540.9" cy="506.0" rx="4.9" ry="3.9" fill="#2a1ee6" stroke="#0a0826" stroke-width="0.7" transform="rotate(166 540.9 506.0)"/>
<ellipse cx="540.9" cy="505.5" rx="2.2" ry="1.8" fill="#1c12a8" fill-opacity="0.8"/>
<ellipse cx="558.3" cy="505.5" rx="4.6" ry="3.5" fill="#4a28d8" stroke="#0a0826" stroke-width="0.7" transform="rotate(112 558.3 505.5)"/>
<ellipse cx="566.6" cy="504.7" rx="4.7" ry="3.5" fill="#2a22c8" stroke="#0a0826" stroke-width="0.7" transform="rotate(16 566.6 504.7)"/>
<ellipse cx="574.8" cy="506.4" rx="3.8" ry="3.8" fill="#4a28d8" stroke="#0a0826" stroke-width="0.7" transform="rotate(37 574.8 506.4)"/>
<ellipse cx="582.9" cy="504.0" rx="4.9" ry="3.7" fill="#3020f0" stroke="#0a0826" stroke-width="0.7" transform="rotate(17 582.9 504.0)"/>
<ellipse cx="592.5" cy="506.0" rx="4.5" ry="3.2" fill="#2020e0" stroke="#0a0826" stroke-width="0.7" transform="rotate(165 592.5 506.0)"/>
<ellipse cx="606.5" cy="507.3" rx="3.7" ry="3.5" fill="#3030ff" stroke="#0a0826" stroke-width="0.7" transform="rotate(110 606.5 507.3)"/>
<ellipse cx="606.0" cy="507.1" rx="1.7" ry="1.6" fill="#1c12a8" fill-opacity="0.8"/>
<ellipse cx="614.5" cy="503.8" rx="5.0" ry="3.8" fill="#2020e0" stroke="#0a0826" stroke-width="0.7" transform="rotate(80 614.5 503.8)"/>
<ellipse cx="621.3" cy="505.4" rx="4.9" ry="3.6" fill="#5a2ae0" stroke="#0a0826" stroke-width="0.7" transform="rotate(63 621.3 505.4)"/>
<ellipse cx="448.8" cy="511.8" rx="5.7" ry="4.2" fill="#5228e8" stroke="#0a0826" stroke-width="0.7" transform="rotate(78 448.8 511.8)"/>
<ellipse cx="455.2" cy="511.8" rx="4.0" ry="3.1" fill="#3030ff" stroke="#0a0826" stroke-width="0.7" transform="rotate(166 455.2 511.8)"/>
<ellipse cx="462.0" cy="512.5" rx="5.8" ry="5.6" fill="#4a28d8" stroke="#0a0826" stroke-width="0.7" transform="rotate(130 462.0 512.5)"/>
<ellipse cx="472.7" cy="511.7" rx="4.9" ry="4.6" fill="#3020f0" stroke="#0a0826" stroke-width="0.7" transform="rotate(2 472.7 511.7)"/>
<ellipse cx="472.0" cy="512.0" rx="2.2" ry="2.1" fill="#1c12a8" fill-opacity="0.8"/>
<ellipse cx="482.1" cy="510.3" rx="5.8" ry="4.7" fill="#4a28d8" stroke="#0a0826" stroke-width="0.7" transform="rotate(124 482.1 510.3)"/>
<ellipse cx="494.7" cy="509.7" rx="4.7" ry="4.3" fill="#3626f6" stroke="#0a0826" stroke-width="0.7" transform="rotate(148 494.7 509.7)"/>
<ellipse cx="506.4" cy="513.0" rx="5.8" ry="5.6" fill="#3020f0" stroke="#0a0826" stroke-width="0.7" transform="rotate(124 506.4 513.0)"/>
<ellipse cx="506.9" cy="513.4" rx="2.6" ry="2.5" fill="#1c12a8" fill-opacity="0.8"/>
<ellipse cx="514.1" cy="514.2" rx="5.2" ry="4.8" fill="#3030ff" stroke="#0a0826" stroke-width="0.7" transform="rotate(38 514.1 514.2)"/>
<ellipse cx="518.4" cy="514.6" rx="4.5" ry="3.9" fill="#3030ff" stroke="#0a0826" stroke-width="0.7" transform="rotate(38 518.4 514.6)"/>
<ellipse cx="529.1" cy="511.4" rx="4.2" ry="3.8" fill="#5228e8" stroke="#0a0826" stroke-width="0.7" transform="rotate(74 529.1 511.4)"/>
<ellipse cx="534.9" cy="511.4" rx="4.6" ry="3.2" fill="#3626f6" stroke="#0a0826" stroke-width="0.7" transform="rotate(137 534.9 511.4)"/>
<ellipse cx="545.2" cy="514.3" rx="5.3" ry="4.3" fill="#2418d8" stroke="#0a0826" stroke-width="0.7" transform="rotate(19 545.2 514.3)"/>
<ellipse cx="545.8" cy="515.1" rx="2.4" ry="1.9" fill="#1c12a8" fill-opacity="0.8"/>
<ellipse cx="556.0" cy="512.3" rx="5.0" ry="4.7" fill="#2c2cf4" stroke="#0a0826" stroke-width="0.7" transform="rotate(111 556.0 512.3)"/>
<ellipse cx="572.0" cy="514.2" rx="4.3" ry="4.1" fill="#3522ea" stroke="#0a0826" stroke-width="0.7" transform="rotate(31 572.0 514.2)"/>
<ellipse cx="579.8" cy="512.6" rx="3.4" ry="3.0" fill="#3522ea" stroke="#0a0826" stroke-width="0.7" transform="rotate(42 579.8 512.6)"/>
<ellipse cx="584.2" cy="512.3" rx="5.0" ry="3.7" fill="#2c2cf4" stroke="#0a0826" stroke-width="0.7" transform="rotate(47 584.2 512.3)"/>
<ellipse cx="584.5" cy="512.3" rx="2.2" ry="1.7" fill="#1c12a8" fill-opacity="0.8"/>
<ellipse cx="593.7" cy="513.5" rx="3.7" ry="3.7" fill="#3030ff" stroke="#0a0826" stroke-width="0.7" transform="rotate(150 593.7 513.5)"/>
<ellipse cx="600.4" cy="511.7" rx="4.9" ry="4.4" fill="#3020f0" stroke="#0a0826" stroke-width="0.7" transform="rotate(119 600.4 511.7)"/>
<ellipse cx="613.0" cy="510.1" rx="4.1" ry="3.6" fill="#2418d8" stroke="#0a0826" stroke-width="0.7" transform="rotate(118 613.0 510.1)"/>
<ellipse cx="619.0" cy="512.8" rx="4.7" ry="3.9" fill="#3522ea" stroke="#0a0826" stroke-width="0.7" transform="rotate(103 619.0 512.8)"/>
<ellipse cx="618.6" cy="512.9" rx="2.1" ry="1.8" fill="#1c12a8" fill-opacity="0.8"/>
<ellipse cx="458.8" cy="519.4" rx="5.6" ry="5.6" fill="#7030d8" stroke="#0a0826" stroke-width="0.7" transform="rotate(19 458.8 519.4)"/>
<ellipse cx="468.5" cy="519.5" rx="5.4" ry="4.8" fill="#4a28d8" stroke="#0a0826" stroke-width="0.7" transform="rotate(73 468.5 519.5)"/>
<ellipse cx="473.3" cy="519.7" rx="4.3" ry="4.1" fill="#2418d8" stroke="#0a0826" stroke-width="0.7" transform="rotate(100 473.3 519.7)"/>
<ellipse cx="485.1" cy="521.3" rx="5.1" ry="4.4" fill="#2020e0" stroke="#0a0826" stroke-width="0.7" transform="rotate(115 485.1 521.3)"/>
<ellipse cx="491.3" cy="518.4" rx="5.6" ry="4.4" fill="#7030d8" stroke="#0a0826" stroke-width="0.7" transform="rotate(85 491.3 518.4)"/>
<ellipse cx="491.7" cy="518.6" rx="2.5" ry="2.0" fill="#1c12a8" fill-opacity="0.8"/>
<ellipse cx="499.5" cy="518.1" rx="4.7" ry="4.5" fill="#2020e0" stroke="#0a0826" stroke-width="0.7" transform="rotate(23 499.5 518.1)"/>
<ellipse cx="506.4" cy="518.6" rx="5.5" ry="3.9" fill="#4a28d8" stroke="#0a0826" stroke-width="0.7" transform="rotate(130 506.4 518.6)"/>
<ellipse cx="524.0" cy="520.6" rx="3.6" ry="3.5" fill="#3020f0" stroke="#0a0826" stroke-width="0.7" transform="rotate(118 524.0 520.6)"/>
<ellipse cx="531.2" cy="521.8" rx="5.6" ry="4.7" fill="#2a1ee6" stroke="#0a0826" stroke-width="0.7" transform="rotate(76 531.2 521.8)"/>
<ellipse cx="543.3" cy="520.6" rx="3.5" ry="2.6" fill="#2020e0" stroke="#0a0826" stroke-width="0.7" transform="rotate(178 543.3 520.6)"/>
<ellipse cx="550.0" cy="517.4" rx="4.4" ry="3.1" fill="#4a28d8" stroke="#0a0826" stroke-width="0.7" transform="rotate(7 550.0 517.4)"/>
<ellipse cx="556.7" cy="520.0" rx="5.5" ry="4.2" fill="#2c2cf4" stroke="#0a0826" stroke-width="0.7" transform="rotate(53 556.7 520.0)"/>
<ellipse cx="565.2" cy="518.9" rx="3.5" ry="3.3" fill="#3522ea" stroke="#0a0826" stroke-width="0.7" transform="rotate(89 565.2 518.9)"/>
<ellipse cx="572.1" cy="521.7" rx="5.4" ry="4.6" fill="#3a24e0" stroke="#0a0826" stroke-width="0.7" transform="rotate(114 572.1 521.7)"/>
<ellipse cx="583.2" cy="520.3" rx="3.9" ry="3.8" fill="#3020f0" stroke="#0a0826" stroke-width="0.7" transform="rotate(12 583.2 520.3)"/>
<ellipse cx="589.1" cy="518.1" rx="5.3" ry="4.9" fill="#3522ea" stroke="#0a0826" stroke-width="0.7" transform="rotate(46 589.1 518.1)"/>
<ellipse cx="596.4" cy="521.2" rx="4.7" ry="4.0" fill="#2020e0" stroke="#0a0826" stroke-width="0.7" transform="rotate(66 596.4 521.2)"/>
<ellipse cx="605.7" cy="518.5" rx="5.4" ry="4.2" fill="#3020f0" stroke="#0a0826" stroke-width="0.7" transform="rotate(121 605.7 518.5)"/>
<ellipse cx="613.8" cy="521.8" rx="3.7" ry="3.6" fill="#6a2ee0" stroke="#0a0826" stroke-width="0.7" transform="rotate(4 613.8 521.8)"/>
<ellipse cx="625.4" cy="517.9" rx="5.7" ry="4.5" fill="#3020f0" stroke="#0a0826" stroke-width="0.7" transform="rotate(82 625.4 517.9)"/>
<ellipse cx="446.2" cy="524.1" rx="5.0" ry="4.2" fill="#2020e0" stroke="#0a0826" stroke-width="0.7" transform="rotate(111 446.2 524.1)"/>
<ellipse cx="457.0" cy="526.3" rx="4.4" ry="3.3" fill="#3626f6" stroke="#0a0826" stroke-width="0.7" transform="rotate(113 457.0 526.3)"/>
<ellipse cx="463.3" cy="527.6" rx="4.9" ry="4.9" fill="#6a2ee0" stroke="#0a0826" stroke-width="0.7" transform="rotate(14 463.3 527.6)"/>
<ellipse cx="472.6" cy="525.7" rx="3.7" ry="2.7" fill="#3522ea" stroke="#0a0826" stroke-width="0.7" transform="rotate(107 472.6 525.7)"/>
<ellipse cx="481.3" cy="527.6" rx="4.9" ry="3.9" fill="#4a28d8" stroke="#0a0826" stroke-width="0.7" transform="rotate(176 481.3 527.6)"/>
<ellipse cx="489.7" cy="526.7" rx="5.3" ry="4.2" fill="#3522ea" stroke="#0a0826" stroke-width="0.7" transform="rotate(21 489.7 526.7)"/>
<ellipse cx="497.8" cy="525.8" rx="5.6" ry="5.5" fill="#2a1ee6" stroke="#0a0826" stroke-width="0.7" transform="rotate(54 497.8 525.8)"/>
<ellipse cx="498.1" cy="525.4" rx="2.5" ry="2.5" fill="#1c12a8" fill-opacity="0.8"/>
<ellipse cx="505.0" cy="525.1" rx="5.6" ry="4.4" fill="#3020f0" stroke="#0a0826" stroke-width="0.7" transform="rotate(64 505.0 525.1)"/>
<ellipse cx="510.8" cy="527.0" rx="5.3" ry="4.0" fill="#2a1ee6" stroke="#0a0826" stroke-width="0.7" transform="rotate(98 510.8 527.0)"/>
<ellipse cx="520.9" cy="528.9" rx="4.4" ry="3.6" fill="#5228e8" stroke="#0a0826" stroke-width="0.7" transform="rotate(117 520.9 528.9)"/>
<ellipse cx="527.2" cy="524.8" rx="4.8" ry="3.6" fill="#5228e8" stroke="#0a0826" stroke-width="0.7" transform="rotate(145 527.2 524.8)"/>
<ellipse cx="537.9" cy="526.0" rx="5.6" ry="5.2" fill="#3020f0" stroke="#0a0826" stroke-width="0.7" transform="rotate(66 537.9 526.0)"/>
<ellipse cx="545.1" cy="525.4" rx="5.1" ry="4.7" fill="#2020e0" stroke="#0a0826" stroke-width="0.7" transform="rotate(4 545.1 525.4)"/>
<ellipse cx="554.4" cy="524.1" rx="6.0" ry="5.2" fill="#2c2cf4" stroke="#0a0826" stroke-width="0.7" transform="rotate(88 554.4 524.1)"/>
<ellipse cx="561.9" cy="524.7" rx="5.5" ry="4.4" fill="#3522ea" stroke="#0a0826" stroke-width="0.7" transform="rotate(36 561.9 524.7)"/>
<ellipse cx="568.9" cy="524.5" rx="4.7" ry="3.9" fill="#2020e0" stroke="#0a0826" stroke-width="0.7" transform="rotate(50 568.9 524.5)"/>
<ellipse cx="575.7" cy="524.6" rx="5.6" ry="5.5" fill="#4a28d8" stroke="#0a0826" stroke-width="0.7" transform="rotate(96 575.7 524.6)"/>
<ellipse cx="588.2" cy="526.6" rx="5.7" ry="5.3" fill="#5228e8" stroke="#0a0826" stroke-width="0.7" transform="rotate(76 588.2 526.6)"/>
<ellipse cx="602.9" cy="525.4" rx="5.8" ry="4.5" fill="#2a1ee6" stroke="#0a0826" stroke-width="0.7" transform="rotate(27 602.9 525.4)"/>
<ellipse cx="610.4" cy="527.9" rx="3.5" ry="3.3" fill="#3626f6" stroke="#0a0826" stroke-width="0.7" transform="rotate(8 610.4 527.9)"/>
<ellipse cx="617.9" cy="524.7" rx="4.6" ry="3.8" fill="#5a2ae0" stroke="#0a0826" stroke-width="0.7" transform="rotate(173 617.9 524.7)"/>
<ellipse cx="449.5" cy="534.9" rx="5.8" ry="5.8" fill="#2418d8" stroke="#0a0826" stroke-width="0.7" transform="rotate(100 449.5 534.9)"/>
<ellipse cx="458.5" cy="531.4" rx="4.8" ry="3.9" fill="#4a28d8" stroke="#0a0826" stroke-width="0.7" transform="rotate(96 458.5 531.4)"/>
<ellipse cx="468.9" cy="533.4" rx="3.8" ry="3.8" fill="#5a2ae0" stroke="#0a0826" stroke-width="0.7" transform="rotate(39 468.9 533.4)"/>
<ellipse cx="477.0" cy="534.7" rx="4.6" ry="4.2" fill="#2418d8" stroke="#0a0826" stroke-width="0.7" transform="rotate(59 477.0 534.7)"/>
<ellipse cx="484.6" cy="532.7" rx="5.5" ry="3.9" fill="#3030ff" stroke="#0a0826" stroke-width="0.7" transform="rotate(53 484.6 532.7)"/>
<ellipse cx="492.8" cy="534.8" rx="4.8" ry="4.7" fill="#3626f6" stroke="#0a0826" stroke-width="0.7" transform="rotate(6 492.8 534.8)"/>
<ellipse cx="499.4" cy="535.1" rx="5.3" ry="3.8" fill="#4a28d8" stroke="#0a0826" stroke-width="0.7" transform="rotate(154 499.4 535.1)"/>
<ellipse cx="509.5" cy="533.2" rx="5.8" ry="4.5" fill="#3522ea" stroke="#0a0826" stroke-width="0.7" transform="rotate(147 509.5 533.2)"/>
<ellipse cx="516.5" cy="532.8" rx="4.2" ry="3.7" fill="#3020f0" stroke="#0a0826" stroke-width="0.7" transform="rotate(150 516.5 532.8)"/>
<ellipse cx="525.6" cy="535.0" rx="4.1" ry="3.9" fill="#3522ea" stroke="#0a0826" stroke-width="0.7" transform="rotate(121 525.6 535.0)"/>
<ellipse cx="533.2" cy="535.0" rx="4.5" ry="3.2" fill="#4a28d8" stroke="#0a0826" stroke-width="0.7" transform="rotate(121 533.2 535.0)"/>
<ellipse cx="533.9" cy="535.1" rx="2.0" ry="1.4" fill="#1c12a8" fill-opacity="0.8"/>
<ellipse cx="543.0" cy="535.8" rx="4.0" ry="3.5" fill="#4a28d8" stroke="#0a0826" stroke-width="0.7" transform="rotate(77 543.0 535.8)"/>
<ellipse cx="550.4" cy="532.7" rx="5.7" ry="4.4" fill="#3030ff" stroke="#0a0826" stroke-width="0.7" transform="rotate(61 550.4 532.7)"/>
<ellipse cx="558.3" cy="531.5" rx="3.5" ry="2.8" fill="#2c2cf4" stroke="#0a0826" stroke-width="0.7" transform="rotate(17 558.3 531.5)"/>
<ellipse cx="568.0" cy="534.2" rx="3.8" ry="3.3" fill="#2a1ee6" stroke="#0a0826" stroke-width="0.7" transform="rotate(100 568.0 534.2)"/>
<ellipse cx="572.2" cy="531.6" rx="4.1" ry="3.8" fill="#2a22c8" stroke="#0a0826" stroke-width="0.7" transform="rotate(171 572.2 531.6)"/>
<ellipse cx="582.6" cy="534.5" rx="4.4" ry="3.2" fill="#4a28d8" stroke="#0a0826" stroke-width="0.7" transform="rotate(132 582.6 534.5)"/>
<ellipse cx="589.4" cy="536.3" rx="4.3" ry="3.8" fill="#3522ea" stroke="#0a0826" stroke-width="0.7" transform="rotate(24 589.4 536.3)"/>
<ellipse cx="600.8" cy="535.4" rx="3.8" ry="2.7" fill="#3020f0" stroke="#0a0826" stroke-width="0.7" transform="rotate(141 600.8 535.4)"/>
<ellipse cx="601.0" cy="534.9" rx="1.7" ry="1.2" fill="#1c12a8" fill-opacity="0.8"/>
<ellipse cx="604.8" cy="535.4" rx="5.2" ry="4.8" fill="#2418d8" stroke="#0a0826" stroke-width="0.7" transform="rotate(45 604.8 535.4)"/>
<ellipse cx="613.3" cy="534.2" rx="3.5" ry="3.1" fill="#3020f0" stroke="#0a0826" stroke-width="0.7" transform="rotate(53 613.3 534.2)"/>
<ellipse cx="620.8" cy="533.4" rx="5.7" ry="4.6" fill="#2a22c8" stroke="#0a0826" stroke-width="0.7" transform="rotate(71 620.8 533.4)"/>
<ellipse cx="445.5" cy="541.9" rx="5.9" ry="5.8" fill="#2a22c8" stroke="#0a0826" stroke-width="0.7" transform="rotate(138 445.5 541.9)"/>
<ellipse cx="445.4" cy="541.7" rx="2.7" ry="2.6" fill="#1c12a8" fill-opacity="0.8"/>
<ellipse cx="457.7" cy="541.6" rx="3.9" ry="3.6" fill="#3522ea" stroke="#0a0826" stroke-width="0.7" transform="rotate(3 457.7 541.6)"/>
<ellipse cx="463.1" cy="542.0" rx="4.9" ry="4.7" fill="#2a22c8" stroke="#0a0826" stroke-width="0.7" transform="rotate(118 463.1 542.0)"/>
<ellipse cx="470.5" cy="542.7" rx="5.1" ry="3.7" fill="#2c2cf4" stroke="#0a0826" stroke-width="0.7" transform="rotate(116 470.5 542.7)"/>
<ellipse cx="478.5" cy="538.9" rx="4.8" ry="4.5" fill="#3020f0" stroke="#0a0826" stroke-width="0.7" transform="rotate(44 478.5 538.9)"/>
<ellipse cx="489.6" cy="543.1" rx="5.8" ry="4.8" fill="#3522ea" stroke="#0a0826" stroke-width="0.7" transform="rotate(133 489.6 543.1)"/>
<ellipse cx="497.0" cy="542.1" rx="4.1" ry="3.4" fill="#2020e0" stroke="#0a0826" stroke-width="0.7" transform="rotate(137 497.0 542.1)"/>
<ellipse cx="513.4" cy="538.8" rx="5.4" ry="5.4" fill="#2418d8" stroke="#0a0826" stroke-width="0.7" transform="rotate(139 513.4 538.8)"/>
<ellipse cx="513.8" cy="538.6" rx="2.4" ry="2.4" fill="#1c12a8" fill-opacity="0.8"/>
<ellipse cx="519.2" cy="543.2" rx="4.8" ry="3.7" fill="#3a24e0" stroke="#0a0826" stroke-width="0.7" transform="rotate(111 519.2 543.2)"/>
<ellipse cx="519.7" cy="543.0" rx="2.2" ry="1.7" fill="#1c12a8" fill-opacity="0.8"/>
<ellipse cx="527.8" cy="540.6" rx="4.1" ry="3.5" fill="#2c2cf4" stroke="#0a0826" stroke-width="0.7" transform="rotate(38 527.8 540.6)"/>
<ellipse cx="536.8" cy="539.6" rx="4.2" ry="3.0" fill="#2020e0" stroke="#0a0826" stroke-width="0.7" transform="rotate(133 536.8 539.6)"/>
<ellipse cx="544.1" cy="540.6" rx="3.6" ry="3.5" fill="#3a24e0" stroke="#0a0826" stroke-width="0.7" transform="rotate(143 544.1 540.6)"/>
<ellipse cx="551.5" cy="543.3" rx="4.2" ry="3.4" fill="#3522ea" stroke="#0a0826" stroke-width="0.7" transform="rotate(10 551.5 543.3)"/>
<ellipse cx="562.7" cy="539.0" rx="5.5" ry="5.4" fill="#3030ff" stroke="#0a0826" stroke-width="0.7" transform="rotate(84 562.7 539.0)"/>
<ellipse cx="567.8" cy="539.0" rx="4.3" ry="3.9" fill="#3020f0" stroke="#0a0826" stroke-width="0.7" transform="rotate(155 567.8 539.0)"/>
<ellipse cx="580.4" cy="541.7" rx="4.0" ry="2.9" fill="#3030ff" stroke="#0a0826" stroke-width="0.7" transform="rotate(34 580.4 541.7)"/>
<ellipse cx="608.6" cy="540.3" rx="4.6" ry="4.5" fill="#2418d8" stroke="#0a0826" stroke-width="0.7" transform="rotate(180 608.6 540.3)"/>
<ellipse cx="621.5" cy="542.3" rx="4.4" ry="4.0" fill="#4a28d8" stroke="#0a0826" stroke-width="0.7" transform="rotate(60 621.5 542.3)"/>
<ellipse cx="620.7" cy="542.7" rx="2.0" ry="1.8" fill="#1c12a8" fill-opacity="0.8"/>
<ellipse cx="452.3" cy="550.3" rx="5.6" ry="4.2" fill="#5a2ae0" stroke="#0a0826" stroke-width="0.7" transform="rotate(35 452.3 550.3)"/>
<ellipse cx="459.7" cy="550.5" rx="5.4" ry="4.0" fill="#6a2ee0" stroke="#0a0826" stroke-width="0.7" transform="rotate(6 459.7 550.5)"/>
<ellipse cx="460.0" cy="550.0" rx="2.4" ry="1.8" fill="#1c12a8" fill-opacity="0.8"/>
<ellipse cx="466.9" cy="548.5" rx="4.0" ry="3.5" fill="#2c2cf4" stroke="#0a0826" stroke-width="0.7" transform="rotate(14 466.9 548.5)"/>
<ellipse cx="476.9" cy="549.2" rx="3.7" ry="3.0" fill="#3626f6" stroke="#0a0826" stroke-width="0.7" transform="rotate(28 476.9 549.2)"/>
<ellipse cx="482.4" cy="548.5" rx="3.5" ry="3.5" fill="#2020e0" stroke="#0a0826" stroke-width="0.7" transform="rotate(8 482.4 548.5)"/>
<ellipse cx="494.2" cy="546.7" rx="5.9" ry="4.2" fill="#3020f0" stroke="#0a0826" stroke-width="0.7" transform="rotate(136 494.2 546.7)"/>
<ellipse cx="498.6" cy="547.6" rx="3.5" ry="3.0" fill="#3020f0" stroke="#0a0826" stroke-width="0.7" transform="rotate(50 498.6 547.6)"/>
<ellipse cx="509.8" cy="548.9" rx="5.1" ry="4.7" fill="#2020e0" stroke="#0a0826" stroke-width="0.7" transform="rotate(94 509.8 548.9)"/>
<ellipse cx="516.6" cy="547.1" rx="5.5" ry="4.0" fill="#4a28d8" stroke="#0a0826" stroke-width="0.7" transform="rotate(145 516.6 547.1)"/>
<ellipse cx="525.6" cy="547.8" rx="4.3" ry="3.1" fill="#4a28d8" stroke="#0a0826" stroke-width="0.7" transform="rotate(66 525.6 547.8)"/>
<ellipse cx="534.7" cy="548.5" rx="5.7" ry="5.4" fill="#3030ff" stroke="#0a0826" stroke-width="0.7" transform="rotate(135 534.7 548.5)"/>
<ellipse cx="535.0" cy="548.1" rx="2.5" ry="2.4" fill="#1c12a8" fill-opacity="0.8"/>
<ellipse cx="540.8" cy="545.9" rx="4.0" ry="3.5" fill="#2c2cf4" stroke="#0a0826" stroke-width="0.7" transform="rotate(24 540.8 545.9)"/>
<ellipse cx="547.5" cy="549.7" rx="3.9" ry="3.7" fill="#2c2cf4" stroke="#0a0826" stroke-width="0.7" transform="rotate(86 547.5 549.7)"/>
<ellipse cx="555.7" cy="546.5" rx="4.0" ry="3.3" fill="#4a28d8" stroke="#0a0826" stroke-width="0.7" transform="rotate(99 555.7 546.5)"/>
<ellipse cx="565.2" cy="549.5" rx="5.7" ry="4.4" fill="#4a28d8" stroke="#0a0826" stroke-width="0.7" transform="rotate(13 565.2 549.5)"/>
<ellipse cx="572.9" cy="549.9" rx="3.7" ry="3.1" fill="#6a2ee0" stroke="#0a0826" stroke-width="0.7" transform="rotate(29 572.9 549.9)"/>
<ellipse cx="581.0" cy="548.9" rx="3.8" ry="3.5" fill="#2a1ee6" stroke="#0a0826" stroke-width="0.7" transform="rotate(118 581.0 548.9)"/>
<ellipse cx="592.5" cy="546.5" rx="4.7" ry="3.5" fill="#3020f0" stroke="#0a0826" stroke-width="0.7" transform="rotate(149 592.5 546.5)"/>
<ellipse cx="601.0" cy="547.9" rx="3.9" ry="3.0" fill="#4a28d8" stroke="#0a0826" stroke-width="0.7" transform="rotate(81 601.0 547.9)"/>
<ellipse cx="447.9" cy="555.0" rx="4.0" ry="3.0" fill="#3522ea" stroke="#0a0826" stroke-width="0.7" transform="rotate(137 447.9 555.0)"/>
<ellipse cx="453.9" cy="554.6" rx="4.1" ry="2.9" fill="#2a1ee6" stroke="#0a0826" stroke-width="0.7" transform="rotate(93 453.9 554.6)"/>
<ellipse cx="461.4" cy="557.0" rx="5.9" ry="4.7" fill="#6a2ee0" stroke="#0a0826" stroke-width="0.7" transform="rotate(69 461.4 557.0)"/>
<ellipse cx="469.8" cy="553.9" rx="4.7" ry="4.5" fill="#5a2ae0" stroke="#0a0826" stroke-width="0.7" transform="rotate(76 469.8 553.9)"/>
<ellipse cx="482.0" cy="555.4" rx="5.6" ry="5.4" fill="#3020f0" stroke="#0a0826" stroke-width="0.7" transform="rotate(125 482.0 555.4)"/>
<ellipse cx="488.4" cy="555.6" rx="4.3" ry="3.1" fill="#3020f0" stroke="#0a0826" stroke-width="0.7" transform="rotate(140 488.4 555.6)"/>
<ellipse cx="498.5" cy="555.3" rx="5.7" ry="5.5" fill="#2418d8" stroke="#0a0826" stroke-width="0.7" transform="rotate(2 498.5 555.3)"/>
<ellipse cx="519.0" cy="556.5" rx="4.2" ry="4.0" fill="#2a1ee6" stroke="#0a0826" stroke-width="0.7" transform="rotate(77 519.0 556.5)"/>
<ellipse cx="526.9" cy="557.5" rx="5.8" ry="5.5" fill="#7030d8" stroke="#0a0826" stroke-width="0.7" transform="rotate(149 526.9 557.5)"/>
<ellipse cx="537.7" cy="555.0" rx="5.8" ry="5.4" fill="#5228e8" stroke="#0a0826" stroke-width="0.7" transform="rotate(110 537.7 555.0)"/>
<ellipse cx="552.7" cy="553.8" rx="5.2" ry="4.9" fill="#3522ea" stroke="#0a0826" stroke-width="0.7" transform="rotate(91 552.7 553.8)"/>
<ellipse cx="560.6" cy="556.4" rx="5.1" ry="3.8" fill="#3030ff" stroke="#0a0826" stroke-width="0.7" transform="rotate(158 560.6 556.4)"/>
<ellipse cx="561.2" cy="555.7" rx="2.3" ry="1.7" fill="#1c12a8" fill-opacity="0.8"/>
<ellipse cx="571.4" cy="553.5" rx="5.0" ry="4.8" fill="#2020e0" stroke="#0a0826" stroke-width="0.7" transform="rotate(45 571.4 553.5)"/>
<ellipse cx="579.1" cy="557.2" rx="5.1" ry="5.0" fill="#2020e0" stroke="#0a0826" stroke-width="0.7" transform="rotate(155 579.1 557.2)"/>
<ellipse cx="588.8" cy="557.1" rx="4.1" ry="3.5" fill="#6a2ee0" stroke="#0a0826" stroke-width="0.7" transform="rotate(172 588.8 557.1)"/>
<ellipse cx="617.2" cy="554.9" rx="5.1" ry="4.3" fill="#2c2cf4" stroke="#0a0826" stroke-width="0.7" transform="rotate(1 617.2 554.9)"/>
<ellipse cx="476.1" cy="560.2" rx="3.7" ry="2.7" fill="#2418d8" stroke="#0a0826" stroke-width="0.7" transform="rotate(133 476.1 560.2)"/>
<ellipse cx="485.8" cy="563.9" rx="5.8" ry="4.5" fill="#3626f6" stroke="#0a0826" stroke-width="0.7" transform="rotate(60 485.8 563.9)"/>
<ellipse cx="489.8" cy="560.5" rx="4.1" ry="3.7" fill="#2a1ee6" stroke="#0a0826" stroke-width="0.7" transform="rotate(151 489.8 560.5)"/>
<ellipse cx="502.6" cy="562.6" rx="3.7" ry="3.4" fill="#2a1ee6" stroke="#0a0826" stroke-width="0.7" transform="rotate(70 502.6 562.6)"/>
<ellipse cx="507.0" cy="564.5" rx="4.3" ry="3.5" fill="#2418d8" stroke="#0a0826" stroke-width="0.7" transform="rotate(105 507.0 564.5)"/>
<ellipse cx="515.3" cy="563.8" rx="3.8" ry="3.0" fill="#2c2cf4" stroke="#0a0826" stroke-width="0.7" transform="rotate(28 515.3 563.8)"/>
<ellipse cx="524.3" cy="561.6" rx="4.8" ry="4.4" fill="#2418d8" stroke="#0a0826" stroke-width="0.7" transform="rotate(92 524.3 561.6)"/>
<ellipse cx="530.6" cy="563.6" rx="4.7" ry="4.4" fill="#3030ff" stroke="#0a0826" stroke-width="0.7" transform="rotate(6 530.6 563.6)"/>
<ellipse cx="540.3" cy="564.4" rx="4.2" ry="2.9" fill="#2a1ee6" stroke="#0a0826" stroke-width="0.7" transform="rotate(26 540.3 564.4)"/>
<ellipse cx="559.1" cy="561.3" rx="5.0" ry="3.9" fill="#2418d8" stroke="#0a0826" stroke-width="0.7" transform="rotate(148 559.1 561.3)"/>
<ellipse cx="573.3" cy="560.7" rx="3.9" ry="2.8" fill="#2418d8" stroke="#0a0826" stroke-width="0.7" transform="rotate(78 573.3 560.7)"/>
<ellipse cx="584.8" cy="561.2" rx="5.1" ry="4.7" fill="#3522ea" stroke="#0a0826" stroke-width="0.7" transform="rotate(130 584.8 561.2)"/>
<ellipse cx="584.4" cy="562.0" rx="2.3" ry="2.1" fill="#1c12a8" fill-opacity="0.8"/>
<ellipse cx="598.0" cy="561.2" rx="4.0" ry="3.3" fill="#4a28d8" stroke="#0a0826" stroke-width="0.7" transform="rotate(141 598.0 561.2)"/>
<ellipse cx="605.7" cy="562.5" rx="3.7" ry="3.7" fill="#3020f0" stroke="#0a0826" stroke-width="0.7" transform="rotate(147 605.7 562.5)"/>
<ellipse cx="615.1" cy="564.4" rx="4.4" ry="3.8" fill="#5a2ae0" stroke="#0a0826" stroke-width="0.7" transform="rotate(129 615.1 564.4)"/>
<ellipse cx="621.2" cy="561.2" rx="3.9" ry="3.0" fill="#3a24e0" stroke="#0a0826" stroke-width="0.7" transform="rotate(87 621.2 561.2)"/>
<ellipse cx="445.4" cy="572.0" rx="4.1" ry="2.9" fill="#3522ea" stroke="#0a0826" stroke-width="0.7" transform="rotate(10 445.4 572.0)"/>
<ellipse cx="455.7" cy="571.8" rx="4.4" ry="4.1" fill="#2418d8" stroke="#0a0826" stroke-width="0.7" transform="rotate(139 455.7 571.8)"/>
<ellipse cx="463.9" cy="571.0" rx="4.1" ry="2.9" fill="#4a28d8" stroke="#0a0826" stroke-width="0.7" transform="rotate(59 463.9 571.0)"/>
<ellipse cx="470.6" cy="568.4" rx="5.6" ry="4.0" fill="#3020f0" stroke="#0a0826" stroke-width="0.7" transform="rotate(84 470.6 568.4)"/>
<ellipse cx="480.2" cy="570.1" rx="4.0" ry="4.0" fill="#5228e8" stroke="#0a0826" stroke-width="0.7" transform="rotate(168 480.2 570.1)"/>
<ellipse cx="489.5" cy="571.2" rx="5.8" ry="5.6" fill="#2020e0" stroke="#0a0826" stroke-width="0.7" transform="rotate(143 489.5 571.2)"/>
<ellipse cx="497.6" cy="570.7" rx="4.2" ry="3.4" fill="#3522ea" stroke="#0a0826" stroke-width="0.7" transform="rotate(92 497.6 570.7)"/>
<ellipse cx="505.8" cy="567.5" rx="4.5" ry="3.3" fill="#3030ff" stroke="#0a0826" stroke-width="0.7" transform="rotate(63 505.8 567.5)"/>
<ellipse cx="512.0" cy="568.7" rx="4.1" ry="3.1" fill="#2418d8" stroke="#0a0826" stroke-width="0.7" transform="rotate(37 512.0 568.7)"/>
<ellipse cx="522.4" cy="569.4" rx="3.8" ry="3.1" fill="#2020e0" stroke="#0a0826" stroke-width="0.7" transform="rotate(163 522.4 569.4)"/>
<ellipse cx="527.4" cy="568.6" rx="5.7" ry="4.8" fill="#3030ff" stroke="#0a0826" stroke-width="0.7" transform="rotate(11 527.4 568.6)"/>
<ellipse cx="539.1" cy="569.1" rx="5.6" ry="4.4" fill="#3a24e0" stroke="#0a0826" stroke-width="0.7" transform="rotate(163 539.1 569.1)"/>
<ellipse cx="539.6" cy="569.9" rx="2.5" ry="2.0" fill="#1c12a8" fill-opacity="0.8"/>
<ellipse cx="553.8" cy="570.0" rx="3.6" ry="2.9" fill="#7030d8" stroke="#0a0826" stroke-width="0.7" transform="rotate(5 553.8 570.0)"/>
<ellipse cx="560.4" cy="570.1" rx="4.1" ry="3.2" fill="#2418d8" stroke="#0a0826" stroke-width="0.7" transform="rotate(120 560.4 570.1)"/>
<ellipse cx="560.4" cy="570.8" rx="1.8" ry="1.4" fill="#1c12a8" fill-opacity="0.8"/>
<ellipse cx="567.6" cy="571.4" rx="5.2" ry="4.8" fill="#2c2cf4" stroke="#0a0826" stroke-width="0.7" transform="rotate(46 567.6 571.4)"/>
<ellipse cx="567.2" cy="570.9" rx="2.4" ry="2.2" fill="#1c12a8" fill-opacity="0.8"/>
<ellipse cx="579.3" cy="570.0" rx="5.0" ry="4.0" fill="#3626f6" stroke="#0a0826" stroke-width="0.7" transform="rotate(33 579.3 570.0)"/>
<ellipse cx="596.4" cy="571.9" rx="5.6" ry="4.9" fill="#3626f6" stroke="#0a0826" stroke-width="0.7" transform="rotate(93 596.4 571.9)"/>
<ellipse cx="604.8" cy="568.4" rx="3.6" ry="3.0" fill="#2418d8" stroke="#0a0826" stroke-width="0.7" transform="rotate(43 604.8 568.4)"/>
<ellipse cx="613.4" cy="570.2" rx="5.1" ry="4.0" fill="#3626f6" stroke="#0a0826" stroke-width="0.7" transform="rotate(18 613.4 570.2)"/>
<ellipse cx="619.7" cy="571.0" rx="4.9" ry="4.1" fill="#2a22c8" stroke="#0a0826" stroke-width="0.7" transform="rotate(74 619.7 571.0)"/>
<ellipse cx="620.1" cy="570.5" rx="2.2" ry="1.8" fill="#1c12a8" fill-opacity="0.8"/>
<ellipse cx="449.5" cy="575.0" rx="4.3" ry="4.1" fill="#4a28d8" stroke="#0a0826" stroke-width="0.7" transform="rotate(100 449.5 575.0)"/>
<ellipse cx="461.1" cy="575.6" rx="4.4" ry="3.5" fill="#3020f0" stroke="#0a0826" stroke-width="0.7" transform="rotate(169 461.1 575.6)"/>
<ellipse cx="469.5" cy="577.5" rx="5.8" ry="4.6" fill="#2a1ee6" stroke="#0a0826" stroke-width="0.7" transform="rotate(82 469.5 577.5)"/>
<ellipse cx="469.8" cy="576.9" rx="2.6" ry="2.0" fill="#1c12a8" fill-opacity="0.8"/>
<ellipse cx="474.7" cy="575.2" rx="5.3" ry="3.8" fill="#3030ff" stroke="#0a0826" stroke-width="0.7" transform="rotate(4 474.7 575.2)"/>
<ellipse cx="483.9" cy="575.4" rx="3.5" ry="3.2" fill="#2a1ee6" stroke="#0a0826" stroke-width="0.7" transform="rotate(9 483.9 575.4)"/>
<ellipse cx="483.6" cy="575.3" rx="1.6" ry="1.4" fill="#1c12a8" fill-opacity="0.8"/>
<ellipse cx="492.0" cy="578.9" rx="3.8" ry="3.3" fill="#2c2cf4" stroke="#0a0826" stroke-width="0.7" transform="rotate(64 492.0 578.9)"/>
<ellipse cx="499.4" cy="579.4" rx="5.6" ry="5.0" fill="#2020e0" stroke="#0a0826" stroke-width="0.7" transform="rotate(8 499.4 579.4)"/>
<ellipse cx="500.1" cy="579.0" rx="2.5" ry="2.2" fill="#1c12a8" fill-opacity="0.8"/>
<ellipse cx="509.5" cy="575.9" rx="4.0" ry="3.6" fill="#2a22c8" stroke="#0a0826" stroke-width="0.7" transform="rotate(27 509.5 575.9)"/>
<ellipse cx="509.9" cy="576.5" rx="1.8" ry="1.6" fill="#1c12a8" fill-opacity="0.8"/>
<ellipse cx="516.4" cy="579.2" rx="5.3" ry="3.9" fill="#2c2cf4" stroke="#0a0826" stroke-width="0.7" transform="rotate(34 516.4 579.2)"/>
<ellipse cx="527.3" cy="578.5" rx="5.2" ry="4.7" fill="#2a1ee6" stroke="#0a0826" stroke-width="0.7" transform="rotate(10 527.3 578.5)"/>
<ellipse cx="532.3" cy="576.0" rx="3.7" ry="3.0" fill="#3030ff" stroke="#0a0826" stroke-width="0.7" transform="rotate(4 532.3 576.0)"/>
<ellipse cx="548.0" cy="576.5" rx="4.5" ry="3.2" fill="#2a1ee6" stroke="#0a0826" stroke-width="0.7" transform="rotate(106 548.0 576.5)"/>
<ellipse cx="556.2" cy="578.9" rx="5.0" ry="4.3" fill="#2020e0" stroke="#0a0826" stroke-width="0.7" transform="rotate(29 556.2 578.9)"/>
<ellipse cx="566.4" cy="575.4" rx="4.9" ry="3.7" fill="#3030ff" stroke="#0a0826" stroke-width="0.7" transform="rotate(175 566.4 575.4)"/>
<ellipse cx="571.7" cy="578.9" rx="5.4" ry="4.2" fill="#3a24e0" stroke="#0a0826" stroke-width="0.7" transform="rotate(16 571.7 578.9)"/>
<ellipse cx="580.8" cy="578.5" rx="4.2" ry="4.1" fill="#2020e0" stroke="#0a0826" stroke-width="0.7" transform="rotate(104 580.8 578.5)"/>
<ellipse cx="591.3" cy="578.5" rx="3.7" ry="2.7" fill="#3a24e0" stroke="#0a0826" stroke-width="0.7" transform="rotate(78 591.3 578.5)"/>
<ellipse cx="604.9" cy="577.3" rx="4.6" ry="4.4" fill="#4a28d8" stroke="#0a0826" stroke-width="0.7" transform="rotate(92 604.9 577.3)"/>
<ellipse cx="614.8" cy="575.9" rx="5.4" ry="4.6" fill="#6a2ee0" stroke="#0a0826" stroke-width="0.7" transform="rotate(41 614.8 575.9)"/>
<ellipse cx="620.9" cy="575.7" rx="4.6" ry="3.4" fill="#3030ff" stroke="#0a0826" stroke-width="0.7" transform="rotate(86 620.9 575.7)"/>
<ellipse cx="456.4" cy="582.0" rx="3.7" ry="3.4" fill="#5228e8" stroke="#0a0826" stroke-width="0.7" transform="rotate(14 456.4 582.0)"/>
<ellipse cx="463.7" cy="585.6" rx="5.3" ry="4.3" fill="#3626f6" stroke="#0a0826" stroke-width="0.7" transform="rotate(138 463.7 585.6)"/>
<ellipse cx="472.4" cy="583.2" rx="5.2" ry="5.1" fill="#3522ea" stroke="#0a0826" stroke-width="0.7" transform="rotate(71 472.4 583.2)"/>
<ellipse cx="473.2" cy="582.7" rx="2.3" ry="2.3" fill="#1c12a8" fill-opacity="0.8"/>
<ellipse cx="480.4" cy="583.0" rx="4.0" ry="3.3" fill="#2a1ee6" stroke="#0a0826" stroke-width="0.7" transform="rotate(171 480.4 583.0)"/>
<ellipse cx="487.4" cy="583.4" rx="4.6" ry="3.5" fill="#2a22c8" stroke="#0a0826" stroke-width="0.7" transform="rotate(135 487.4 583.4)"/>
<ellipse cx="494.1" cy="585.0" rx="5.0" ry="3.7" fill="#4a28d8" stroke="#0a0826" stroke-width="0.7" transform="rotate(162 494.1 585.0)"/>
<ellipse cx="494.8" cy="585.5" rx="2.3" ry="1.7" fill="#1c12a8" fill-opacity="0.8"/>
<ellipse cx="503.9" cy="583.4" rx="3.8" ry="3.7" fill="#2418d8" stroke="#0a0826" stroke-width="0.7" transform="rotate(52 503.9 583.4)"/>
<ellipse cx="511.7" cy="582.9" rx="5.7" ry="5.0" fill="#5a2ae0" stroke="#0a0826" stroke-width="0.7" transform="rotate(108 511.7 582.9)"/>
<ellipse cx="511.8" cy="582.3" rx="2.6" ry="2.2" fill="#1c12a8" fill-opacity="0.8"/>
<ellipse cx="519.2" cy="586.5" rx="5.5" ry="5.1" fill="#2a22c8" stroke="#0a0826" stroke-width="0.7" transform="rotate(101 519.2 586.5)"/>
<ellipse cx="531.2" cy="586.6" rx="5.2" ry="4.9" fill="#2c2cf4" stroke="#0a0826" stroke-width="0.7" transform="rotate(12 531.2 586.6)"/>
<ellipse cx="539.1" cy="583.4" rx="4.9" ry="4.3" fill="#3522ea" stroke="#0a0826" stroke-width="0.7" transform="rotate(28 539.1 583.4)"/>
<ellipse cx="544.7" cy="584.8" rx="4.0" ry="3.5" fill="#5a2ae0" stroke="#0a0826" stroke-width="0.7" transform="rotate(78 544.7 584.8)"/>
<ellipse cx="552.3" cy="584.1" rx="5.2" ry="3.8" fill="#2a1ee6" stroke="#0a0826" stroke-width="0.7" transform="rotate(37 552.3 584.1)"/>
<ellipse cx="551.8" cy="583.6" rx="2.4" ry="1.7" fill="#1c12a8" fill-opacity="0.8"/>
<ellipse cx="564.1" cy="582.3" rx="3.5" ry="3.3" fill="#2a22c8" stroke="#0a0826" stroke-width="0.7" transform="rotate(103 564.1 582.3)"/>
<ellipse cx="564.7" cy="581.7" rx="1.6" ry="1.5" fill="#1c12a8" fill-opacity="0.8"/>
<ellipse cx="569.0" cy="582.2" rx="5.1" ry="4.0" fill="#2c2cf4" stroke="#0a0826" stroke-width="0.7" transform="rotate(43 569.0 582.2)"/>
<ellipse cx="575.8" cy="583.6" rx="5.4" ry="5.3" fill="#3a24e0" stroke="#0a0826" stroke-width="0.7" transform="rotate(35 575.8 583.6)"/>
<ellipse cx="588.6" cy="584.5" rx="4.3" ry="4.1" fill="#3626f6" stroke="#0a0826" stroke-width="0.7" transform="rotate(11 588.6 584.5)"/>
<ellipse cx="595.3" cy="584.7" rx="4.4" ry="3.6" fill="#2418d8" stroke="#0a0826" stroke-width="0.7" transform="rotate(36 595.3 584.7)"/>
<ellipse cx="603.2" cy="582.6" rx="5.4" ry="4.2" fill="#2a22c8" stroke="#0a0826" stroke-width="0.7" transform="rotate(159 603.2 582.6)"/>
<ellipse cx="611.8" cy="583.6" rx="3.5" ry="2.8" fill="#2a22c8" stroke="#0a0826" stroke-width="0.7" transform="rotate(169 611.8 583.6)"/>
<ellipse cx="618.4" cy="586.0" rx="5.8" ry="5.4" fill="#2020e0" stroke="#0a0826" stroke-width="0.7" transform="rotate(172 618.4 586.0)"/>
<ellipse cx="458.0" cy="589.9" rx="5.2" ry="5.2" fill="#2a1ee6" stroke="#0a0826" stroke-width="0.7" transform="rotate(132 458.0 589.9)"/>
<ellipse cx="469.4" cy="593.4" rx="5.8" ry="4.7" fill="#3020f0" stroke="#0a0826" stroke-width="0.7" transform="rotate(151 469.4 593.4)"/>
<ellipse cx="483.0" cy="593.1" rx="5.3" ry="5.2" fill="#4a28d8" stroke="#0a0826" stroke-width="0.7" transform="rotate(80 483.0 593.1)"/>
<ellipse cx="492.0" cy="592.5" rx="4.0" ry="3.6" fill="#3522ea" stroke="#0a0826" stroke-width="0.7" transform="rotate(12 492.0 592.5)"/>
<ellipse cx="499.3" cy="589.4" rx="4.8" ry="3.5" fill="#4a28d8" stroke="#0a0826" stroke-width="0.7" transform="rotate(86 499.3 589.4)"/>
<ellipse cx="508.1" cy="592.3" rx="5.4" ry="4.1" fill="#4a28d8" stroke="#0a0826" stroke-width="0.7" transform="rotate(61 508.1 592.3)"/>
<ellipse cx="518.0" cy="592.5" rx="4.6" ry="3.2" fill="#7030d8" stroke="#0a0826" stroke-width="0.7" transform="rotate(90 518.0 592.5)"/>
<ellipse cx="530.8" cy="592.1" rx="4.5" ry="4.2" fill="#2a1ee6" stroke="#0a0826" stroke-width="0.7" transform="rotate(157 530.8 592.1)"/>
<ellipse cx="540.9" cy="592.5" rx="5.6" ry="5.2" fill="#2a22c8" stroke="#0a0826" stroke-width="0.7" transform="rotate(91 540.9 592.5)"/>
<ellipse cx="540.4" cy="592.5" rx="2.5" ry="2.3" fill="#1c12a8" fill-opacity="0.8"/>
<ellipse cx="551.9" cy="593.6" rx="3.7" ry="2.8" fill="#3020f0" stroke="#0a0826" stroke-width="0.7" transform="rotate(126 551.9 593.6)"/>
<ellipse cx="555.9" cy="592.4" rx="4.7" ry="3.5" fill="#3a24e0" stroke="#0a0826" stroke-width="0.7" transform="rotate(19 555.9 592.4)"/>
<ellipse cx="565.4" cy="590.4" rx="4.7" ry="3.5" fill="#4a28d8" stroke="#0a0826" stroke-width="0.7" transform="rotate(77 565.4 590.4)"/>
<ellipse cx="573.3" cy="591.2" rx="4.0" ry="3.7" fill="#3020f0" stroke="#0a0826" stroke-width="0.7" transform="rotate(83 573.3 591.2)"/>
<ellipse cx="592.5" cy="589.2" rx="6.0" ry="4.7" fill="#2020e0" stroke="#0a0826" stroke-width="0.7" transform="rotate(131 592.5 589.2)"/>
<ellipse cx="606.9" cy="593.4" rx="3.5" ry="3.0" fill="#3020f0" stroke="#0a0826" stroke-width="0.7" transform="rotate(49 606.9 593.4)"/>
<ellipse cx="614.5" cy="589.4" rx="3.9" ry="3.8" fill="#2c2cf4" stroke="#0a0826" stroke-width="0.7" transform="rotate(18 614.5 589.4)"/>
<ellipse cx="446.5" cy="599.5" rx="5.9" ry="5.4" fill="#2c2cf4" stroke="#0a0826" stroke-width="0.7" transform="rotate(41 446.5 599.5)"/>
<ellipse cx="454.1" cy="598.9" rx="5.4" ry="4.2" fill="#3a24e0" stroke="#0a0826" stroke-width="0.7" transform="rotate(54 454.1 598.9)"/>
<ellipse cx="465.6" cy="598.9" rx="5.9" ry="5.6" fill="#3020f0" stroke="#0a0826" stroke-width="0.7" transform="rotate(139 465.6 598.9)"/>
<ellipse cx="469.9" cy="598.5" rx="4.0" ry="2.9" fill="#2418d8" stroke="#0a0826" stroke-width="0.7" transform="rotate(7 469.9 598.5)"/>
<ellipse cx="478.5" cy="596.7" rx="5.9" ry="5.4" fill="#3522ea" stroke="#0a0826" stroke-width="0.7" transform="rotate(83 478.5 596.7)"/>
<ellipse cx="489.7" cy="599.4" rx="4.6" ry="3.2" fill="#2a22c8" stroke="#0a0826" stroke-width="0.7" transform="rotate(45 489.7 599.4)"/>
<ellipse cx="503.2" cy="598.6" rx="4.6" ry="3.8" fill="#3030ff" stroke="#0a0826" stroke-width="0.7" transform="rotate(16 503.2 598.6)"/>
<ellipse cx="515.1" cy="600.3" rx="5.1" ry="4.7" fill="#4a28d8" stroke="#0a0826" stroke-width="0.7" transform="rotate(12 515.1 600.3)"/>
<ellipse cx="519.8" cy="596.8" rx="4.4" ry="3.7" fill="#4a28d8" stroke="#0a0826" stroke-width="0.7" transform="rotate(163 519.8 596.8)"/>
<ellipse cx="529.8" cy="596.7" rx="5.6" ry="5.3" fill="#4a28d8" stroke="#0a0826" stroke-width="0.7" transform="rotate(114 529.8 596.7)"/>
<ellipse cx="538.3" cy="597.1" rx="4.3" ry="4.2" fill="#2a1ee6" stroke="#0a0826" stroke-width="0.7" transform="rotate(43 538.3 597.1)"/>
<ellipse cx="547.2" cy="599.0" rx="5.2" ry="5.1" fill="#2a22c8" stroke="#0a0826" stroke-width="0.7" transform="rotate(103 547.2 599.0)"/>
<ellipse cx="555.9" cy="600.8" rx="6.0" ry="5.4" fill="#2c2cf4" stroke="#0a0826" stroke-width="0.7" transform="rotate(119 555.9 600.8)"/>
<ellipse cx="572.0" cy="599.7" rx="4.9" ry="3.9" fill="#3a24e0" stroke="#0a0826" stroke-width="0.7" transform="rotate(81 572.0 599.7)"/>
<ellipse cx="579.8" cy="599.9" rx="4.9" ry="4.6" fill="#3522ea" stroke="#0a0826" stroke-width="0.7" transform="rotate(113 579.8 599.9)"/>
<ellipse cx="586.1" cy="600.1" rx="5.8" ry="4.8" fill="#3626f6" stroke="#0a0826" stroke-width="0.7" transform="rotate(146 586.1 600.1)"/>
<ellipse cx="585.8" cy="600.4" rx="2.6" ry="2.1" fill="#1c12a8" fill-opacity="0.8"/>
<ellipse cx="596.9" cy="597.3" rx="4.7" ry="4.6" fill="#3a24e0" stroke="#0a0826" stroke-width="0.7" transform="rotate(48 596.9 597.3)"/>
<ellipse cx="603.6" cy="597.9" rx="4.7" ry="3.8" fill="#2020e0" stroke="#0a0826" stroke-width="0.7" transform="rotate(116 603.6 597.9)"/>
<ellipse cx="610.2" cy="598.2" rx="5.2" ry="3.8" fill="#3626f6" stroke="#0a0826" stroke-width="0.7" transform="rotate(104 610.2 598.2)"/>
<ellipse cx="617.2" cy="599.9" rx="5.5" ry="4.2" fill="#2020e0" stroke="#0a0826" stroke-width="0.7" transform="rotate(147 617.2 599.9)"/>
<ellipse cx="452.9" cy="607.1" rx="5.8" ry="4.4" fill="#3030ff" stroke="#0a0826" stroke-width="0.7" transform="rotate(149 452.9 607.1)"/>
<ellipse cx="459.7" cy="608.4" rx="4.1" ry="3.7" fill="#2a22c8" stroke="#0a0826" stroke-width="0.7" transform="rotate(68 459.7 608.4)"/>
<ellipse cx="466.3" cy="607.2" rx="3.7" ry="3.3" fill="#3020f0" stroke="#0a0826" stroke-width="0.7" transform="rotate(79 466.3 607.2)"/>
<ellipse cx="474.7" cy="607.2" rx="4.9" ry="3.5" fill="#3626f6" stroke="#0a0826" stroke-width="0.7" transform="rotate(175 474.7 607.2)"/>
<ellipse cx="483.5" cy="604.0" rx="4.2" ry="3.2" fill="#3020f0" stroke="#0a0826" stroke-width="0.7" transform="rotate(48 483.5 604.0)"/>
<ellipse cx="491.0" cy="608.2" rx="5.6" ry="4.1" fill="#4a28d8" stroke="#0a0826" stroke-width="0.7" transform="rotate(52 491.0 608.2)"/>
<ellipse cx="491.1" cy="609.0" rx="2.5" ry="1.8" fill="#1c12a8" fill-opacity="0.8"/>
<ellipse cx="501.0" cy="605.5" rx="3.8" ry="3.5" fill="#2020e0" stroke="#0a0826" stroke-width="0.7" transform="rotate(52 501.0 605.5)"/>
<ellipse cx="507.4" cy="605.5" rx="4.7" ry="3.6" fill="#3a24e0" stroke="#0a0826" stroke-width="0.7" transform="rotate(137 507.4 605.5)"/>
<ellipse cx="515.1" cy="607.5" rx="5.4" ry="5.0" fill="#3626f6" stroke="#0a0826" stroke-width="0.7" transform="rotate(147 515.1 607.5)"/>
<ellipse cx="523.9" cy="608.2" rx="3.4" ry="3.0" fill="#2020e0" stroke="#0a0826" stroke-width="0.7" transform="rotate(45 523.9 608.2)"/>
<ellipse cx="534.4" cy="603.7" rx="4.4" ry="3.3" fill="#5228e8" stroke="#0a0826" stroke-width="0.7" transform="rotate(89 534.4 603.7)"/>
<ellipse cx="534.2" cy="603.4" rx="2.0" ry="1.5" fill="#1c12a8" fill-opacity="0.8"/>
<ellipse cx="541.3" cy="607.1" rx="5.8" ry="4.9" fill="#5a2ae0" stroke="#0a0826" stroke-width="0.7" transform="rotate(125 541.3 607.1)"/>
<ellipse cx="547.6" cy="607.0" rx="5.0" ry="4.4" fill="#2c2cf4" stroke="#0a0826" stroke-width="0.7" transform="rotate(32 547.6 607.0)"/>
<ellipse cx="557.6" cy="606.6" rx="5.9" ry="5.1" fill="#3020f0" stroke="#0a0826" stroke-width="0.7" transform="rotate(75 557.6 606.6)"/>
<ellipse cx="573.3" cy="603.5" rx="5.5" ry="5.5" fill="#2020e0" stroke="#0a0826" stroke-width="0.7" transform="rotate(152 573.3 603.5)"/>
<ellipse cx="582.1" cy="604.1" rx="4.7" ry="4.3" fill="#2418d8" stroke="#0a0826" stroke-width="0.7" transform="rotate(97 582.1 604.1)"/>
<ellipse cx="597.8" cy="605.3" rx="5.9" ry="5.8" fill="#6a2ee0" stroke="#0a0826" stroke-width="0.7" transform="rotate(89 597.8 605.3)"/>
<ellipse cx="606.3" cy="608.2" rx="5.4" ry="5.0" fill="#2c2cf4" stroke="#0a0826" stroke-width="0.7" transform="rotate(37 606.3 608.2)"/>
<ellipse cx="616.1" cy="606.2" rx="4.5" ry="3.6" fill="#3626f6" stroke="#0a0826" stroke-width="0.7" transform="rotate(168 616.1 606.2)"/>
<ellipse cx="623.9" cy="604.7" rx="4.4" ry="3.2" fill="#2020e0" stroke="#0a0826" stroke-width="0.7" transform="rotate(129 623.9 604.7)"/>
<ellipse cx="446.8" cy="615.6" rx="4.3" ry="3.1" fill="#2020e0" stroke="#0a0826" stroke-width="0.7" transform="rotate(126 446.8 615.6)"/>
<ellipse cx="463.9" cy="613.8" rx="4.5" ry="3.5" fill="#3522ea" stroke="#0a0826" stroke-width="0.7" transform="rotate(157 463.9 613.8)"/>
<ellipse cx="473.0" cy="612.7" rx="6.0" ry="4.2" fill="#2a22c8" stroke="#0a0826" stroke-width="0.7" transform="rotate(102 473.0 612.7)"/>
<ellipse cx="487.1" cy="612.2" rx="4.6" ry="4.1" fill="#3030ff" stroke="#0a0826" stroke-width="0.7" transform="rotate(59 487.1 612.2)"/>
<ellipse cx="495.9" cy="610.7" rx="5.1" ry="4.0" fill="#3626f6" stroke="#0a0826" stroke-width="0.7" transform="rotate(14 495.9 610.7)"/>
<ellipse cx="505.4" cy="615.5" rx="6.0" ry="4.2" fill="#4a28d8" stroke="#0a0826" stroke-width="0.7" transform="rotate(43 505.4 615.5)"/>
<ellipse cx="511.4" cy="611.0" rx="4.3" ry="3.4" fill="#3626f6" stroke="#0a0826" stroke-width="0.7" transform="rotate(2 511.4 611.0)"/>
<ellipse cx="519.4" cy="614.4" rx="5.2" ry="3.8" fill="#2c2cf4" stroke="#0a0826" stroke-width="0.7" transform="rotate(9 519.4 614.4)"/>
<ellipse cx="531.2" cy="613.8" rx="3.5" ry="2.5" fill="#4a28d8" stroke="#0a0826" stroke-width="0.7" transform="rotate(5 531.2 613.8)"/>
<ellipse cx="536.8" cy="614.3" rx="4.8" ry="3.8" fill="#3a24e0" stroke="#0a0826" stroke-width="0.7" transform="rotate(2 536.8 614.3)"/>
<ellipse cx="546.7" cy="613.8" rx="5.7" ry="5.5" fill="#3626f6" stroke="#0a0826" stroke-width="0.7" transform="rotate(33 546.7 613.8)"/>
<ellipse cx="552.0" cy="614.1" rx="5.1" ry="4.3" fill="#3030ff" stroke="#0a0826" stroke-width="0.7" transform="rotate(37 552.0 614.1)"/>
<ellipse cx="562.0" cy="611.1" rx="5.5" ry="5.3" fill="#3626f6" stroke="#0a0826" stroke-width="0.7" transform="rotate(63 562.0 611.1)"/>
<ellipse cx="569.3" cy="615.2" rx="5.5" ry="5.2" fill="#3626f6" stroke="#0a0826" stroke-width="0.7" transform="rotate(112 569.3 615.2)"/>
<ellipse cx="577.8" cy="613.9" rx="5.7" ry="4.0" fill="#2418d8" stroke="#0a0826" stroke-width="0.7" transform="rotate(116 577.8 613.9)"/>
<ellipse cx="584.6" cy="615.7" rx="6.0" ry="5.4" fill="#3a24e0" stroke="#0a0826" stroke-width="0.7" transform="rotate(144 584.6 615.7)"/>
<ellipse cx="597.1" cy="614.4" rx="5.3" ry="5.1" fill="#3030ff" stroke="#0a0826" stroke-width="0.7" transform="rotate(169 597.1 614.4)"/>
<ellipse cx="612.7" cy="610.8" rx="5.8" ry="5.8" fill="#3020f0" stroke="#0a0826" stroke-width="0.7" transform="rotate(69 612.7 610.8)"/>
<ellipse cx="618.4" cy="611.0" rx="4.6" ry="4.5" fill="#2a22c8" stroke="#0a0826" stroke-width="0.7" transform="rotate(11 618.4 611.0)"/>
<ellipse cx="486" cy="548" rx="11" ry="7" fill="#04030c" transform="rotate(39 486 548)"/>
<ellipse cx="515" cy="603" rx="9" ry="5" fill="#04030c" transform="rotate(-3 515 603)"/>
<ellipse cx="590" cy="522" rx="9" ry="6" fill="#04030c" transform="rotate(15 590 522)"/>
<ellipse cx="606" cy="520" rx="8" ry="6" fill="#04030c" transform="rotate(-40 606 520)"/>
<ellipse cx="530" cy="585" rx="7" ry="5" fill="#04030c" transform="rotate(-5 530 585)"/>
<ellipse cx="470" cy="497" rx="7" ry="5" fill="#04030c" transform="rotate(-23 470 497)"/>
<ellipse cx="612" cy="560" rx="6" ry="7" fill="#04030c" transform="rotate(26 612 560)"/>
<ellipse cx="548" cy="488" rx="6" ry="4" fill="#04030c" transform="rotate(1 548 488)"/>
<ellipse cx="600" cy="448" rx="6" ry="4" fill="#04030c" transform="rotate(36 600 448)"/>
<ellipse cx="520" cy="505" rx="5" ry="4" fill="#04030c" transform="rotate(-4 520 505)"/>
<ellipse cx="560" cy="540" rx="5" ry="5" fill="#04030c" transform="rotate(3 560 540)"/>
<ellipse cx="462" cy="540" rx="5" ry="4" fill="#04030c" transform="rotate(25 462 540)"/>
<ellipse cx="500" cy="470" rx="5" ry="4" fill="#04030c" transform="rotate(5 500 470)"/>
<ellipse cx="575" cy="590" rx="6" ry="4" fill="#04030c" transform="rotate(29 575 590)"/>
<ellipse cx="455" cy="610" rx="5" ry="4" fill="#04030c" transform="rotate(15 455 610)"/>
<ellipse cx="540" cy="610" rx="6" ry="4" fill="#04030c" transform="rotate(-1 540 610)"/>
<ellipse cx="558.4" cy="508.0" rx="2.8" ry="1.9" fill="#05040f"/>
<ellipse cx="454.9" cy="603.6" rx="1.9" ry="2.6" fill="#05040f"/>
<ellipse cx="519.4" cy="556.0" rx="1.7" ry="2.4" fill="#05040f"/>
<ellipse cx="500.3" cy="488.8" rx="3.4" ry="2.8" fill="#05040f"/>
<ellipse cx="530.4" cy="570.7" rx="3.4" ry="2.4" fill="#05040f"/>
<ellipse cx="550.2" cy="454.8" rx="1.4" ry="2.2" fill="#05040f"/>
<ellipse cx="614.6" cy="556.8" rx="2.9" ry="1.7" fill="#05040f"/>
<ellipse cx="451.2" cy="552.2" rx="1.6" ry="2.3" fill="#05040f"/>
<ellipse cx="549.6" cy="526.0" rx="1.4" ry="1.8" fill="#05040f"/>
<ellipse cx="570.3" cy="570.8" rx="1.9" ry="1.9" fill="#05040f"/>
<ellipse cx="570.4" cy="518.3" rx="2.9" ry="1.5" fill="#05040f"/>
<ellipse cx="510.4" cy="614.2" rx="1.7" ry="2.1" fill="#05040f"/>
<ellipse cx="618.2" cy="486.6" rx="3.4" ry="1.6" fill="#05040f"/>
<ellipse cx="595.7" cy="575.5" rx="3.1" ry="2.1" fill="#05040f"/>
<ellipse cx="585.5" cy="510.7" rx="2.1" ry="1.9" fill="#05040f"/>
<ellipse cx="514.6" cy="515.4" rx="2.0" ry="2.3" fill="#05040f"/>
<ellipse cx="460.1" cy="609.3" rx="3.3" ry="1.3" fill="#05040f"/>
<ellipse cx="506.0" cy="557.3" rx="2.0" ry="2.5" fill="#05040f"/>
<ellipse cx="594.5" cy="478.6" rx="3.2" ry="1.7" fill="#05040f"/>
<ellipse cx="504.1" cy="571.1" rx="2.7" ry="2.7" fill="#05040f"/>
<ellipse cx="479.2" cy="586.0" rx="1.7" ry="1.8" fill="#05040f"/>
<ellipse cx="602.4" cy="610.0" rx="3.4" ry="1.8" fill="#05040f"/>
<ellipse cx="614.0" cy="477.0" rx="2.9" ry="1.5" fill="#05040f"/>
<ellipse cx="593.9" cy="550.9" rx="2.6" ry="1.4" fill="#05040f"/>
<ellipse cx="474.5" cy="558.8" rx="2.4" ry="2.7" fill="#05040f"/>
<ellipse cx="531.8" cy="571.3" rx="2.8" ry="1.6" fill="#05040f"/>
<ellipse cx="502.6" cy="590.9" rx="1.5" ry="2.7" fill="#05040f"/>
<ellipse cx="573.6" cy="470.6" rx="1.5" ry="2.2" fill="#05040f"/>
<ellipse cx="574.0" cy="594.7" rx="3.1" ry="2.3" fill="#05040f"/>
<ellipse cx="547.6" cy="560.2" rx="1.8" ry="2.1" fill="#05040f"/>
<g filter="url(#gb1)" fill="none" stroke-linecap="round" stroke-linejoin="round">
<path d="M448.0 562.0 L459.9 550.0 L473.1 538.9 L484.8 529.4" stroke="#1e8a1e" stroke-width="5.4" stroke-opacity="0.6"/>
<path d="M490.0 612.0 L506.2 599.8 L521.1 590.4 L541.2 592.7 L556.3 607.9 L565.0 617.4" stroke="#1e8a1e" stroke-width="6.2" stroke-opacity="0.6"/>
<path d="M556.0 548.0 L572.9 558.6 L586.5 570.6 L596.8 590.7 L607.9 611.7" stroke="#1e8a1e" stroke-width="6.3" stroke-opacity="0.6"/>
<path d="M596.0 536.0 L609.2 547.3 L623.4 561.1" stroke="#1e8a1e" stroke-width="5.6" stroke-opacity="0.6"/>
<path d="M452.0 452.0 L463.4 466.3 L475.5 487.0 L480.2 501.4" stroke="#1e8a1e" stroke-width="5.7" stroke-opacity="0.6"/>
<path d="M598.0 466.0 L606.6 484.7 L612.0 503.4 L616.2 522.7" stroke="#1e8a1e" stroke-width="6.9" stroke-opacity="0.6"/>
<path d="M448.0 590.0 L457.9 601.0 L465.9 615.9" stroke="#1e8a1e" stroke-width="5.8" stroke-opacity="0.6"/>
<path d="M520.0 470.0 L528.1 480.3 L538.2 477.4" stroke="#1e8a1e" stroke-width="5.3" stroke-opacity="0.6"/>
<path d="M470.0 575.0 L480.9 570.1 L496.7 577.8" stroke="#1e8a1e" stroke-width="6.4" stroke-opacity="0.6"/>
<path d="M575.0 505.0 L586.0 516.2 L598.9 519.9" stroke="#1e8a1e" stroke-width="5.2" stroke-opacity="0.6"/>
<path d="M505.0 445.0 L514.7 453.6 L531.0 450.9" stroke="#1e8a1e" stroke-width="6.5" stroke-opacity="0.6"/>
<path d="M455.0 520.0 L463.2 511.3 L476.2 516.2" stroke="#1e8a1e" stroke-width="6.1" stroke-opacity="0.6"/>
<path d="M540.0 520.0 L547.0 531.2 L556.0 543.6" stroke="#1e8a1e" stroke-width="6.3" stroke-opacity="0.6"/>
<path d="M500.0 520.0 L511.2 529.4 L521.1 529.0" stroke="#1e8a1e" stroke-width="5.9" stroke-opacity="0.6"/>
<path d="M470.0 455.0 L478.1 447.4 L490.0 450.5" stroke="#1e8a1e" stroke-width="6.7" stroke-opacity="0.6"/>
<path d="M560.0 500.0 L566.7 510.3 L574.9 506.8" stroke="#1e8a1e" stroke-width="6.5" stroke-opacity="0.6"/>
</g>
<g filter="url(#gb2)" fill="none" stroke-linecap="round" stroke-linejoin="round">
<path d="M448.0 562.0 L459.9 550.0 L473.1 538.9 L484.8 529.4" stroke="#3cd03c" stroke-width="1.1" stroke-opacity="0.55"/>
<path d="M490.0 612.0 L506.2 599.8 L521.1 590.4 L541.2 592.7 L556.3 607.9 L565.0 617.4" stroke="#3cd03c" stroke-width="1.1" stroke-opacity="0.55"/>
<path d="M556.0 548.0 L572.9 558.6 L586.5 570.6 L596.8 590.7 L607.9 611.7" stroke="#3cd03c" stroke-width="1.0" stroke-opacity="0.55"/>
<path d="M596.0 536.0 L609.2 547.3 L623.4 561.1" stroke="#3cd03c" stroke-width="1.2" stroke-opacity="0.55"/>
<path d="M452.0 452.0 L463.4 466.3 L475.5 487.0 L480.2 501.4" stroke="#3cd03c" stroke-width="1.2" stroke-opacity="0.55"/>
<path d="M598.0 466.0 L606.6 484.7 L612.0 503.4 L616.2 522.7" stroke="#3cd03c" stroke-width="1.2" stroke-opacity="0.55"/>
<path d="M448.0 590.0 L457.9 601.0 L465.9 615.9" stroke="#3cd03c" stroke-width="1.2" stroke-opacity="0.55"/>
<path d="M520.0 470.0 L528.1 480.3 L538.2 477.4" stroke="#3cd03c" stroke-width="1.2" stroke-opacity="0.55"/>
<path d="M470.0 575.0 L480.9 570.1 L496.7 577.8" stroke="#3cd03c" stroke-width="1.3" stroke-opacity="0.55"/>
<path d="M575.0 505.0 L586.0 516.2 L598.9 519.9" stroke="#3cd03c" stroke-width="1.6" stroke-opacity="0.55"/>
<path d="M505.0 445.0 L514.7 453.6 L531.0 450.9" stroke="#3cd03c" stroke-width="1.4" stroke-opacity="0.55"/>
<path d="M455.0 520.0 L463.2 511.3 L476.2 516.2" stroke="#3cd03c" stroke-width="1.2" stroke-opacity="0.55"/>
<path d="M540.0 520.0 L547.0 531.2 L556.0 543.6" stroke="#3cd03c" stroke-width="1.4" stroke-opacity="0.55"/>
<path d="M500.0 520.0 L511.2 529.4 L521.1 529.0" stroke="#3cd03c" stroke-width="1.1" stroke-opacity="0.55"/>
<path d="M470.0 455.0 L478.1 447.4 L490.0 450.5" stroke="#3cd03c" stroke-width="1.0" stroke-opacity="0.55"/>
<path d="M560.0 500.0 L566.7 510.3 L574.9 506.8" stroke="#3cd03c" stroke-width="1.1" stroke-opacity="0.55"/>
<path d="M469.2 437.6 A4.4 4.4 0 0 1 478.0 437.4" stroke="#40d040" stroke-width="1.6" stroke-opacity="0.85"/>
<path d="M574.2 445.1 A6.7 6.7 0 1 1 581.0 433.8" stroke="#40d040" stroke-width="1.0" stroke-opacity="0.85"/>
<path d="M467.5 452.4 A5.2 5.2 0 0 1 475.7 456.0" stroke="#36c036" stroke-width="1.6" stroke-opacity="0.85"/>
<path d="M509.4 451.9 A6.7 6.7 0 0 1 496.8 456.1" stroke="#40d040" stroke-width="1.3" stroke-opacity="0.85"/>
<path d="M528.0 459.4 A5.7 5.7 0 1 1 538.8 462.7" stroke="#36c036" stroke-width="1.1" stroke-opacity="0.85"/>
<path d="M518.5 465.7 A5.8 5.8 0 0 1 526.3 473.2" stroke="#2ea82e" stroke-width="1.4" stroke-opacity="0.85"/>
<path d="M560.3 469.8 A6.5 6.5 0 1 1 547.3 470.3" stroke="#36c036" stroke-width="1.7" stroke-opacity="0.85"/>
<path d="M612.2 464.1 A4.9 4.9 0 0 1 607.8 473.0" stroke="#40d040" stroke-width="1.8" stroke-opacity="0.85"/>
<path d="M523.3 480.1 A4.7 4.7 0 1 1 531.1 474.9" stroke="#40d040" stroke-width="1.2" stroke-opacity="0.85"/>
<path d="M492.8 480.8 A5.6 5.6 0 1 1 496.8 490.9" stroke="#36c036" stroke-width="1.4" stroke-opacity="0.85"/>
<path d="M470.5 493.1 A6.3 6.3 0 0 1 476.3 485.4" stroke="#40d040" stroke-width="1.7" stroke-opacity="0.85"/>
<path d="M474.9 506.6 A6.7 6.7 0 1 1 465.2 497.7" stroke="#2ea82e" stroke-width="1.0" stroke-opacity="0.85"/>
<path d="M460.5 506.0 A6.6 6.6 0 0 1 468.6 511.4" stroke="#40d040" stroke-width="1.6" stroke-opacity="0.85"/>
<path d="M547.4 519.5 A4.3 4.3 0 0 1 540.2 523.5" stroke="#40d040" stroke-width="1.0" stroke-opacity="0.85"/>
<path d="M504.7 527.3 A6.1 6.1 0 1 1 516.9 527.8" stroke="#36c036" stroke-width="1.5" stroke-opacity="0.85"/>
<path d="M516.3 531.4 A5.2 5.2 0 1 1 525.5 526.5" stroke="#2ea82e" stroke-width="1.1" stroke-opacity="0.85"/>
<path d="M525.5 530.2 A5.6 5.6 0 0 1 521.6 523.9" stroke="#2ea82e" stroke-width="1.1" stroke-opacity="0.85"/>
<path d="M525.5 530.1 A4.9 4.9 0 0 1 527.2 539.7" stroke="#40d040" stroke-width="1.5" stroke-opacity="0.85"/>
<path d="M586.9 531.5 A5.2 5.2 0 0 1 584.7 539.3" stroke="#40d040" stroke-width="1.5" stroke-opacity="0.85"/>
<path d="M580.1 536.9 A4.8 4.8 0 1 1 579.7 546.4" stroke="#40d040" stroke-width="1.7" stroke-opacity="0.85"/>
<path d="M473.9 552.5 A4.5 4.5 0 1 1 481.1 547.6" stroke="#40d040" stroke-width="1.1" stroke-opacity="0.85"/>
<path d="M476.1 552.9 A6.4 6.4 0 1 1 485.1 561.1" stroke="#2ea82e" stroke-width="1.4" stroke-opacity="0.85"/>
<path d="M548.7 558.3 A6.0 6.0 0 1 1 558.5 552.0" stroke="#40d040" stroke-width="1.1" stroke-opacity="0.85"/>
<path d="M590.8 552.6 A4.9 4.9 0 0 1 592.9 559.8" stroke="#40d040" stroke-width="1.3" stroke-opacity="0.85"/>
<path d="M584.6 567.1 A5.9 5.9 0 1 1 587.0 555.7" stroke="#36c036" stroke-width="1.5" stroke-opacity="0.85"/>
<path d="M562.0 569.2 A6.0 6.0 0 1 1 572.1 575.4" stroke="#40d040" stroke-width="1.8" stroke-opacity="0.85"/>
<path d="M622.7 566.2 A5.7 5.7 0 0 1 624.9 573.5" stroke="#40d040" stroke-width="1.3" stroke-opacity="0.85"/>
<path d="M528.4 578.3 A4.5 4.5 0 0 1 536.0 573.4" stroke="#2ea82e" stroke-width="1.3" stroke-opacity="0.85"/>
<path d="M494.9 590.8 A5.8 5.8 0 0 1 488.3 585.6" stroke="#40d040" stroke-width="1.2" stroke-opacity="0.85"/>
<path d="M499.3 584.1 A4.6 4.6 0 0 1 508.3 582.1" stroke="#36c036" stroke-width="1.6" stroke-opacity="0.85"/>
<path d="M514.3 592.1 A6.2 6.2 0 0 1 502.7 595.2" stroke="#2ea82e" stroke-width="1.4" stroke-opacity="0.85"/>
<path d="M478.1 603.4 A6.7 6.7 0 1 1 479.2 590.1" stroke="#36c036" stroke-width="1.1" stroke-opacity="0.85"/>
<path d="M498.0 599.7 A5.4 5.4 0 1 1 508.5 598.0" stroke="#36c036" stroke-width="1.0" stroke-opacity="0.85"/>
<path d="M609.2 592.3 A6.0 6.0 0 0 1 615.7 600.4" stroke="#36c036" stroke-width="1.2" stroke-opacity="0.85"/>
<path d="M617.9 606.2 A6.3 6.3 0 0 1 610.9 599.4" stroke="#2ea82e" stroke-width="1.1" stroke-opacity="0.85"/>
<path d="M509.0 608.8 A6.2 6.2 0 1 1 521.1 609.1" stroke="#2ea82e" stroke-width="1.6" stroke-opacity="0.85"/>
<path d="M520.9 605.2 A4.2 4.2 0 0 1 527.9 607.2" stroke="#36c036" stroke-width="1.4" stroke-opacity="0.85"/>
<path d="M619.6 610.1 A5.3 5.3 0 1 1 613.8 601.5" stroke="#36c036" stroke-width="1.5" stroke-opacity="0.85"/>
<path d="M509.6 620.7 A6.8 6.8 0 0 1 500.2 619.9" stroke="#36c036" stroke-width="1.3" stroke-opacity="0.85"/>
</g>
<circle cx="487.3" cy="489.4" r="0.52" fill="#ff3030" fill-opacity="0.85"/>
<circle cx="479.9" cy="492.6" r="0.57" fill="#e01840" fill-opacity="0.85"/>
<circle cx="559.9" cy="512.3" r="0.50" fill="#f03060" fill-opacity="0.85"/>
<circle cx="468.1" cy="463.7" r="0.59" fill="#ff3030" fill-opacity="0.85"/>
<circle cx="554.3" cy="580.2" r="0.53" fill="#f03060" fill-opacity="0.85"/>
<circle cx="494.1" cy="550.3" r="0.51" fill="#f03060" fill-opacity="0.85"/>
<circle cx="551.1" cy="610.8" r="0.54" fill="#ff3030" fill-opacity="0.85"/>
<circle cx="538.8" cy="529.8" r="0.55" fill="#ff3030" fill-opacity="0.85"/>
<circle cx="503.6" cy="583.9" r="0.36" fill="#f03060" fill-opacity="0.85"/>
<circle cx="548.3" cy="544.0" r="0.56" fill="#d020a0" fill-opacity="0.85"/>
<circle cx="530.0" cy="611.3" r="0.64" fill="#f03060" fill-opacity="0.85"/>
<circle cx="611.6" cy="574.2" r="0.73" fill="#d020a0" fill-opacity="0.85"/>
<circle cx="540.6" cy="576.4" r="0.64" fill="#f02020" fill-opacity="0.85"/>
<circle cx="573.0" cy="595.2" r="0.72" fill="#f03060" fill-opacity="0.85"/>
<circle cx="511.1" cy="542.9" r="0.79" fill="#e01840" fill-opacity="0.85"/>
<circle cx="478.4" cy="445.9" r="0.76" fill="#f03060" fill-opacity="0.85"/>
<circle cx="593.3" cy="555.1" r="0.44" fill="#d020a0" fill-opacity="0.85"/>
<circle cx="610.9" cy="482.1" r="0.59" fill="#f03060" fill-opacity="0.85"/>
<circle cx="528.7" cy="475.9" r="0.77" fill="#e01840" fill-opacity="0.85"/>
<circle cx="594.3" cy="506.8" r="0.73" fill="#ff3030" fill-opacity="0.85"/>
<circle cx="464.1" cy="474.3" r="0.66" fill="#f03060" fill-opacity="0.85"/>
<circle cx="463.5" cy="594.3" r="0.73" fill="#e01840" fill-opacity="0.85"/>
<circle cx="578.4" cy="586.6" r="0.69" fill="#e01840" fill-opacity="0.85"/>
<circle cx="452.6" cy="482.0" r="0.40" fill="#f03060" fill-opacity="0.85"/>
<circle cx="480.5" cy="493.3" r="0.71" fill="#ff3030" fill-opacity="0.85"/>
<circle cx="498.7" cy="509.5" r="0.77" fill="#ff3030" fill-opacity="0.85"/>
<circle cx="539.4" cy="543.9" r="0.73" fill="#ff3030" fill-opacity="0.85"/>
<circle cx="493.8" cy="512.1" r="0.60" fill="#ff3030" fill-opacity="0.85"/>
<circle cx="541.6" cy="558.3" r="0.41" fill="#e01840" fill-opacity="0.85"/>
<circle cx="523.8" cy="547.2" r="0.47" fill="#f02020" fill-opacity="0.85"/>
<circle cx="449.3" cy="527.8" r="0.60" fill="#d020a0" fill-opacity="0.85"/>
<circle cx="455.9" cy="587.3" r="0.64" fill="#f03060" fill-opacity="0.85"/>
<circle cx="619.4" cy="586.9" r="0.57" fill="#e01840" fill-opacity="0.85"/>
<circle cx="558.6" cy="527.0" r="0.46" fill="#f02020" fill-opacity="0.85"/>
<circle cx="569.6" cy="449.2" r="0.44" fill="#f03060" fill-opacity="0.85"/>
<circle cx="540.8" cy="454.7" r="0.53" fill="#d020a0" fill-opacity="0.85"/>
<circle cx="494.1" cy="562.5" r="0.49" fill="#ff3030" fill-opacity="0.85"/>
<circle cx="501.3" cy="521.7" r="0.46" fill="#f03060" fill-opacity="0.85"/>
<circle cx="482.0" cy="572.2" r="0.53" fill="#e01840" fill-opacity="0.85"/>
<circle cx="501.7" cy="445.5" r="0.70" fill="#e01840" fill-opacity="0.85"/>
<circle cx="456.2" cy="472.6" r="0.62" fill="#f03060" fill-opacity="0.85"/>
<circle cx="486.4" cy="492.2" r="0.62" fill="#f02020" fill-opacity="0.85"/>
<circle cx="612.1" cy="587.9" r="0.71" fill="#ff3030" fill-opacity="0.85"/>
<circle cx="475.3" cy="463.1" r="0.74" fill="#d020a0" fill-opacity="0.85"/>
<circle cx="543.8" cy="553.2" r="0.51" fill="#e01840" fill-opacity="0.85"/>
<circle cx="616.3" cy="444.0" r="0.71" fill="#d020a0" fill-opacity="0.85"/>
<circle cx="617.6" cy="526.9" r="0.74" fill="#e01840" fill-opacity="0.85"/>
<circle cx="518.3" cy="576.1" r="0.70" fill="#f02020" fill-opacity="0.85"/>
<circle cx="508.6" cy="570.0" r="0.67" fill="#f03060" fill-opacity="0.85"/>
<circle cx="470.0" cy="516.2" r="0.71" fill="#ff3030" fill-opacity="0.85"/>
<circle cx="471.2" cy="566.1" r="0.72" fill="#f02020" fill-opacity="0.85"/>
<circle cx="537.3" cy="539.2" r="0.73" fill="#f02020" fill-opacity="0.85"/>
<circle cx="449.8" cy="545.3" r="0.49" fill="#f02020" fill-opacity="0.85"/>
<circle cx="465.8" cy="455.0" r="0.63" fill="#f02020" fill-opacity="0.85"/>
<circle cx="497.4" cy="584.9" r="0.44" fill="#f03060" fill-opacity="0.85"/>
<circle cx="563.1" cy="565.6" r="0.56" fill="#e01840" fill-opacity="0.85"/>
<circle cx="596.5" cy="491.2" r="0.57" fill="#f02020" fill-opacity="0.85"/>
<circle cx="614.6" cy="573.6" r="0.45" fill="#f02020" fill-opacity="0.85"/>
<circle cx="621.4" cy="495.9" r="0.73" fill="#f02020" fill-opacity="0.85"/>
<circle cx="614.8" cy="561.2" r="0.76" fill="#d020a0" fill-opacity="0.85"/>
<circle cx="530.5" cy="473.1" r="0.37" fill="#f02020" fill-opacity="0.85"/>
<circle cx="606.8" cy="573.9" r="0.44" fill="#e01840" fill-opacity="0.85"/>
<circle cx="555.3" cy="480.6" r="0.68" fill="#e01840" fill-opacity="0.85"/>
<circle cx="473.7" cy="557.9" r="0.39" fill="#ff3030" fill-opacity="0.85"/>
<circle cx="613.7" cy="540.2" r="0.58" fill="#f03060" fill-opacity="0.85"/>
<circle cx="473.9" cy="611.6" r="0.45" fill="#e01840" fill-opacity="0.85"/>
<circle cx="592.0" cy="579.3" r="0.62" fill="#f02020" fill-opacity="0.85"/>
<circle cx="560.6" cy="564.0" r="0.68" fill="#f02020" fill-opacity="0.85"/>
<circle cx="465.9" cy="483.7" r="0.80" fill="#e01840" fill-opacity="0.85"/>
<circle cx="462.0" cy="494.1" r="0.66" fill="#d020a0" fill-opacity="0.85"/>
<circle cx="538.4" cy="527.6" r="0.66" fill="#f02020" fill-opacity="0.85"/>
<circle cx="466.7" cy="570.1" r="0.50" fill="#d020a0" fill-opacity="0.85"/>
<circle cx="572.6" cy="542.0" r="0.55" fill="#ff3030" fill-opacity="0.85"/>
<circle cx="529.8" cy="592.0" r="0.37" fill="#f02020" fill-opacity="0.85"/>
<circle cx="557.8" cy="448.6" r="0.50" fill="#f03060" fill-opacity="0.85"/>
<circle cx="540.8" cy="536.4" r="0.40" fill="#ff3030" fill-opacity="0.85"/>
<circle cx="585.6" cy="493.5" r="0.54" fill="#f03060" fill-opacity="0.85"/>
<circle cx="458.6" cy="465.0" r="0.60" fill="#ff3030" fill-opacity="0.85"/>
<circle cx="461.8" cy="458.6" r="0.54" fill="#f03060" fill-opacity="0.85"/>
<circle cx="609.0" cy="590.4" r="0.41" fill="#ff3030" fill-opacity="0.85"/>
<circle cx="574.0" cy="448.3" r="0.74" fill="#f02020" fill-opacity="0.85"/>
<circle cx="590.8" cy="532.7" r="0.45" fill="#e01840" fill-opacity="0.85"/>
<circle cx="470.0" cy="505.7" r="0.64" fill="#f02020" fill-opacity="0.85"/>
<circle cx="610.0" cy="539.1" r="0.66" fill="#e01840" fill-opacity="0.85"/>
<circle cx="619.0" cy="536.1" r="0.51" fill="#d020a0" fill-opacity="0.85"/>
<circle cx="607.4" cy="523.3" r="0.37" fill="#d020a0" fill-opacity="0.85"/>
<circle cx="511.0" cy="451.8" r="0.42" fill="#ff3030" fill-opacity="0.85"/>
<circle cx="571.1" cy="478.9" r="0.78" fill="#f02020" fill-opacity="0.85"/>
<circle cx="515.9" cy="535.6" r="0.57" fill="#f02020" fill-opacity="0.85"/>
<circle cx="489.4" cy="489.0" r="0.67" fill="#e01840" fill-opacity="0.85"/>
<circle cx="619.2" cy="519.4" r="0.45" fill="#d020a0" fill-opacity="0.85"/>
<circle cx="495.4" cy="544.1" r="0.52" fill="#f02020" fill-opacity="0.85"/>
<circle cx="460.0" cy="611.2" r="0.73" fill="#d020a0" fill-opacity="0.85"/>
<circle cx="605.3" cy="490.7" r="0.50" fill="#f02020" fill-opacity="0.85"/>
<circle cx="547.4" cy="596.0" r="0.65" fill="#ff3030" fill-opacity="0.85"/>
<circle cx="466.5" cy="604.4" r="0.42" fill="#ff3030" fill-opacity="0.85"/>
<circle cx="605.3" cy="582.1" r="0.46" fill="#f03060" fill-opacity="0.85"/>
<circle cx="600.9" cy="511.6" r="0.65" fill="#ff3030" fill-opacity="0.85"/>
<circle cx="525.5" cy="576.3" r="0.65" fill="#e01840" fill-opacity="0.85"/>
<circle cx="549.5" cy="494.1" r="0.47" fill="#ff3030" fill-opacity="0.85"/>
<circle cx="548.0" cy="466.6" r="0.47" fill="#ff3030" fill-opacity="0.85"/>
<circle cx="493.8" cy="543.7" r="0.77" fill="#ff3030" fill-opacity="0.85"/>
<circle cx="573.5" cy="571.6" r="0.44" fill="#f03060" fill-opacity="0.85"/>
<circle cx="543.2" cy="604.6" r="0.35" fill="#f03060" fill-opacity="0.85"/>
<circle cx="617.4" cy="471.3" r="0.73" fill="#e01840" fill-opacity="0.85"/>
<circle cx="528.0" cy="526.2" r="0.55" fill="#ff3030" fill-opacity="0.85"/>
<circle cx="513.6" cy="491.1" r="0.67" fill="#f02020" fill-opacity="0.85"/>
<circle cx="553.2" cy="493.9" r="0.65" fill="#ff3030" fill-opacity="0.85"/>
<circle cx="550.0" cy="597.7" r="0.70" fill="#f03060" fill-opacity="0.85"/>
<circle cx="585.3" cy="477.7" r="0.37" fill="#f02020" fill-opacity="0.85"/>
<circle cx="515.0" cy="486.1" r="0.75" fill="#f02020" fill-opacity="0.85"/>
<circle cx="557.1" cy="460.0" r="0.42" fill="#f02020" fill-opacity="0.85"/>
<circle cx="455.5" cy="493.1" r="0.75" fill="#f02020" fill-opacity="0.85"/>
<circle cx="508.8" cy="497.8" r="0.35" fill="#f03060" fill-opacity="0.85"/>
<circle cx="519.2" cy="455.2" r="0.71" fill="#e01840" fill-opacity="0.85"/>
<circle cx="478.4" cy="445.1" r="0.52" fill="#ff3030" fill-opacity="0.85"/>
<circle cx="502.8" cy="551.2" r="0.76" fill="#ff3030" fill-opacity="0.85"/>
<circle cx="575.2" cy="488.5" r="0.52" fill="#ff3030" fill-opacity="0.85"/>
<circle cx="485.0" cy="517.7" r="0.73" fill="#f03060" fill-opacity="0.85"/>
<circle cx="533.4" cy="501.9" r="0.56" fill="#f03060" fill-opacity="0.85"/>
<circle cx="617.5" cy="455.2" r="0.44" fill="#e01840" fill-opacity="0.85"/>
<circle cx="501.0" cy="449.6" r="0.41" fill="#ff3030" fill-opacity="0.85"/>
<circle cx="530.5" cy="459.6" r="0.45" fill="#d020a0" fill-opacity="0.85"/>
<circle cx="575.5" cy="550.2" r="0.46" fill="#e01840" fill-opacity="0.85"/>
<circle cx="604.7" cy="559.6" r="0.48" fill="#e01840" fill-opacity="0.85"/>
<circle cx="501.5" cy="530.9" r="0.43" fill="#ff3030" fill-opacity="0.85"/>
<circle cx="562.4" cy="570.8" r="0.68" fill="#f02020" fill-opacity="0.85"/>
<circle cx="621.4" cy="464.4" r="0.42" fill="#f03060" fill-opacity="0.85"/>
<circle cx="536.0" cy="597.2" r="0.42" fill="#d020a0" fill-opacity="0.85"/>
<circle cx="506.4" cy="497.3" r="0.43" fill="#f03060" fill-opacity="0.85"/>
<circle cx="553.0" cy="502.5" r="0.45" fill="#f03060" fill-opacity="0.85"/>
<circle cx="498.8" cy="471.5" r="0.51" fill="#f02020" fill-opacity="0.85"/>
<circle cx="469.9" cy="471.6" r="0.66" fill="#e01840" fill-opacity="0.85"/>
<circle cx="563.0" cy="592.6" r="0.62" fill="#f03060" fill-opacity="0.85"/>
<circle cx="523.6" cy="456.5" r="0.60" fill="#e01840" fill-opacity="0.85"/>
<circle cx="510.9" cy="520.9" r="0.60" fill="#d020a0" fill-opacity="0.85"/>
<circle cx="563.0" cy="541.1" r="0.70" fill="#f03060" fill-opacity="0.85"/>
<circle cx="454.8" cy="450.1" r="0.61" fill="#f02020" fill-opacity="0.85"/>
<circle cx="528.4" cy="565.0" r="0.76" fill="#d020a0" fill-opacity="0.85"/>
<circle cx="567.4" cy="546.7" r="0.43" fill="#f03060" fill-opacity="0.85"/>
<circle cx="606.9" cy="611.9" r="0.48" fill="#f03060" fill-opacity="0.85"/>
<circle cx="582.0" cy="611.4" r="0.64" fill="#ff3030" fill-opacity="0.85"/>
<circle cx="543.3" cy="555.0" r="0.79" fill="#f02020" fill-opacity="0.85"/>
<circle cx="581.8" cy="561.0" r="0.55" fill="#d020a0" fill-opacity="0.85"/>
<circle cx="603.5" cy="461.9" r="0.50" fill="#ff3030" fill-opacity="0.85"/>
<circle cx="481.0" cy="492.0" r="0.48" fill="#d020a0" fill-opacity="0.85"/>
<circle cx="461.1" cy="459.7" r="0.73" fill="#d020a0" fill-opacity="0.85"/>
<circle cx="615.9" cy="533.3" r="0.58" fill="#f03060" fill-opacity="0.85"/>
<circle cx="601.9" cy="501.4" r="0.54" fill="#f03060" fill-opacity="0.85"/>
<circle cx="602.4" cy="558.3" r="0.56" fill="#ff3030" fill-opacity="0.85"/>
<circle cx="463.8" cy="517.0" r="0.44" fill="#d020a0" fill-opacity="0.85"/>
<circle cx="456.2" cy="520.3" r="0.60" fill="#f03060" fill-opacity="0.85"/>
<circle cx="554.0" cy="446.5" r="0.55" fill="#ff3030" fill-opacity="0.85"/>
<circle cx="528.6" cy="507.4" r="0.61" fill="#e01840" fill-opacity="0.85"/>
<circle cx="512.4" cy="517.1" r="0.75" fill="#ff3030" fill-opacity="0.85"/>
<circle cx="540.0" cy="496.3" r="0.70" fill="#f03060" fill-opacity="0.85"/>
<circle cx="520.8" cy="596.2" r="0.80" fill="#ff3030" fill-opacity="0.85"/>
<circle cx="511.5" cy="536.1" r="0.58" fill="#e01840" fill-opacity="0.85"/>
<circle cx="525.7" cy="480.0" r="0.57" fill="#d020a0" fill-opacity="0.85"/>
<circle cx="589.5" cy="496.1" r="0.52" fill="#e01840" fill-opacity="0.85"/>
<circle cx="524.9" cy="490.1" r="0.68" fill="#f03060" fill-opacity="0.85"/>
<circle cx="562.5" cy="611.3" r="0.49" fill="#ff3030" fill-opacity="0.85"/>
<circle cx="510.6" cy="563.7" r="0.38" fill="#e01840" fill-opacity="0.85"/>
<circle cx="497.5" cy="506.3" r="0.60" fill="#f03060" fill-opacity="0.85"/>
<circle cx="477.7" cy="574.7" r="0.46" fill="#f03060" fill-opacity="0.85"/>
<circle cx="451.2" cy="467.5" r="0.53" fill="#f03060" fill-opacity="0.85"/>
<circle cx="587.6" cy="516.0" r="0.38" fill="#f03060" fill-opacity="0.85"/>
<circle cx="546.9" cy="518.6" r="0.41" fill="#ff3030" fill-opacity="0.85"/>
<circle cx="473.8" cy="557.0" r="0.57" fill="#f03060" fill-opacity="0.85"/>
<circle cx="529.6" cy="497.0" r="0.52" fill="#ff3030" fill-opacity="0.85"/>
<circle cx="523.9" cy="506.0" r="0.52" fill="#e01840" fill-opacity="0.85"/>
<circle cx="476.3" cy="551.8" r="0.61" fill="#d020a0" fill-opacity="0.85"/>
<circle cx="620.3" cy="597.1" r="0.41" fill="#f03060" fill-opacity="0.85"/>
<circle cx="551.5" cy="574.6" r="0.77" fill="#f03060" fill-opacity="0.85"/>
<circle cx="572.4" cy="537.0" r="0.43" fill="#f03060" fill-opacity="0.85"/>
<circle cx="605.2" cy="520.6" r="0.42" fill="#ff3030" fill-opacity="0.85"/>
<circle cx="587.0" cy="453.8" r="0.68" fill="#d020a0" fill-opacity="0.85"/>
<circle cx="502.3" cy="501.3" r="0.57" fill="#f02020" fill-opacity="0.85"/>
<circle cx="610.8" cy="517.5" r="0.51" fill="#ff3030" fill-opacity="0.85"/>
<circle cx="528.9" cy="533.7" r="0.49" fill="#e01840" fill-opacity="0.85"/>
<circle cx="565.7" cy="456.4" r="0.77" fill="#d020a0" fill-opacity="0.85"/>
<circle cx="557.9" cy="588.0" r="0.77" fill="#d020a0" fill-opacity="0.85"/>
<circle cx="452.4" cy="505.6" r="0.73" fill="#d020a0" fill-opacity="0.85"/>
<circle cx="557.4" cy="497.1" r="0.56" fill="#ff3030" fill-opacity="0.85"/>
<circle cx="469.3" cy="445.2" r="0.42" fill="#ff3030" fill-opacity="0.85"/>
<circle cx="556.5" cy="491.9" r="0.41" fill="#d020a0" fill-opacity="0.85"/>
<circle cx="505.9" cy="593.8" r="0.76" fill="#f02020" fill-opacity="0.85"/>
<circle cx="534.2" cy="576.9" r="0.48" fill="#f02020" fill-opacity="0.85"/>
<circle cx="619.1" cy="455.8" r="0.38" fill="#f03060" fill-opacity="0.85"/>
<circle cx="485.3" cy="583.2" r="0.65" fill="#e01840" fill-opacity="0.85"/>
<circle cx="596.3" cy="528.4" r="0.67" fill="#ff3030" fill-opacity="0.85"/>
<circle cx="465.4" cy="496.6" r="0.43" fill="#e01840" fill-opacity="0.85"/>
<circle cx="593.0" cy="483.9" r="0.65" fill="#e01840" fill-opacity="0.85"/>
<circle cx="459.1" cy="594.3" r="0.58" fill="#f02020" fill-opacity="0.85"/>
<circle cx="514.2" cy="518.8" r="0.49" fill="#f03060" fill-opacity="0.85"/>
<circle cx="455.7" cy="580.0" r="0.54" fill="#f02020" fill-opacity="0.85"/>
<circle cx="611.1" cy="451.1" r="0.67" fill="#e01840" fill-opacity="0.85"/>
<circle cx="463.4" cy="530.0" r="0.69" fill="#d020a0" fill-opacity="0.85"/>
<circle cx="591.1" cy="499.7" r="0.74" fill="#e01840" fill-opacity="0.85"/>
<circle cx="455.3" cy="470.9" r="0.36" fill="#ff3030" fill-opacity="0.85"/>
<circle cx="595.3" cy="537.0" r="0.50" fill="#d020a0" fill-opacity="0.85"/>
<circle cx="497.9" cy="470.8" r="0.70" fill="#ff3030" fill-opacity="0.85"/>
<circle cx="586.5" cy="504.0" r="0.42" fill="#f03060" fill-opacity="0.85"/>
<circle cx="451.7" cy="615.0" r="0.78" fill="#e01840" fill-opacity="0.85"/>
<circle cx="457.4" cy="468.1" r="0.74" fill="#f03060" fill-opacity="0.85"/>
<circle cx="596.4" cy="550.4" r="0.47" fill="#ff3030" fill-opacity="0.85"/>
<circle cx="612.6" cy="574.2" r="0.49" fill="#ff3030" fill-opacity="0.85"/>
<circle cx="614.3" cy="479.5" r="0.37" fill="#d020a0" fill-opacity="0.85"/>
<circle cx="507.9" cy="534.4" r="0.63" fill="#e01840" fill-opacity="0.85"/>
<circle cx="533.8" cy="499.0" r="0.62" fill="#f03060" fill-opacity="0.85"/>
<circle cx="619.0" cy="502.5" r="0.49" fill="#e01840" fill-opacity="0.85"/>
<circle cx="566.3" cy="466.0" r="0.78" fill="#d020a0" fill-opacity="0.85"/>
<circle cx="546.1" cy="456.0" r="0.56" fill="#d020a0" fill-opacity="0.85"/>
<circle cx="449.6" cy="486.4" r="0.74" fill="#e01840" fill-opacity="0.85"/>
<circle cx="575.1" cy="548.2" r="0.62" fill="#ff3030" fill-opacity="0.85"/>
<circle cx="572.8" cy="449.4" r="0.60" fill="#e01840" fill-opacity="0.85"/>
<circle cx="532.5" cy="464.3" r="0.50" fill="#f03060" fill-opacity="0.85"/>
<circle cx="509.8" cy="505.0" r="0.76" fill="#f02020" fill-opacity="0.85"/>
<circle cx="464.9" cy="573.2" r="0.75" fill="#f03060" fill-opacity="0.85"/>
<circle cx="594.7" cy="472.5" r="0.68" fill="#ff3030" fill-opacity="0.85"/>
<circle cx="563.3" cy="518.3" r="0.71" fill="#e01840" fill-opacity="0.85"/>
<circle cx="572.7" cy="605.0" r="0.41" fill="#d020a0" fill-opacity="0.85"/>
<circle cx="608.8" cy="507.4" r="0.39" fill="#e01840" fill-opacity="0.85"/>
<circle cx="531.3" cy="509.1" r="0.64" fill="#f02020" fill-opacity="0.85"/>
<circle cx="583.1" cy="442.1" r="0.79" fill="#e01840" fill-opacity="0.85"/>
<circle cx="552.2" cy="516.0" r="0.80" fill="#e01840" fill-opacity="0.85"/>
<circle cx="622.1" cy="528.2" r="0.55" fill="#f03060" fill-opacity="0.85"/>
<circle cx="534.2" cy="547.1" r="0.78" fill="#e01840" fill-opacity="0.85"/>
<circle cx="501.5" cy="461.5" r="0.36" fill="#e01840" fill-opacity="0.85"/>
<circle cx="561.8" cy="449.5" r="0.35" fill="#e01840" fill-opacity="0.85"/>
<circle cx="605.0" cy="450.2" r="0.37" fill="#e01840" fill-opacity="0.85"/>
<circle cx="571.1" cy="494.4" r="0.50" fill="#ff3030" fill-opacity="0.85"/>
<circle cx="577.1" cy="487.4" r="0.57" fill="#ff3030" fill-opacity="0.85"/>
<circle cx="584.5" cy="513.1" r="0.42" fill="#f03060" fill-opacity="0.85"/>
<circle cx="523.4" cy="574.7" r="0.57" fill="#ff3030" fill-opacity="0.85"/>
<circle cx="497.8" cy="546.9" r="0.73" fill="#f02020" fill-opacity="0.85"/>
<circle cx="571.3" cy="586.4" r="0.61" fill="#e01840" fill-opacity="0.85"/>
<circle cx="609.8" cy="456.9" r="0.36" fill="#e01840" fill-opacity="0.85"/>
<circle cx="582.4" cy="584.2" r="0.66" fill="#f03060" fill-opacity="0.85"/>
<circle cx="605.5" cy="526.4" r="0.79" fill="#e01840" fill-opacity="0.85"/>
<circle cx="497.1" cy="475.3" r="0.37" fill="#f03060" fill-opacity="0.85"/>
<circle cx="498.4" cy="484.0" r="0.35" fill="#f03060" fill-opacity="0.85"/>
<circle cx="492.2" cy="522.5" r="0.61" fill="#f02020" fill-opacity="0.85"/>
<circle cx="505.2" cy="446.1" r="0.72" fill="#f03060" fill-opacity="0.85"/>
<circle cx="565.7" cy="444.5" r="0.76" fill="#f03060" fill-opacity="0.85"/>
<circle cx="565.3" cy="478.6" r="0.61" fill="#e01840" fill-opacity="0.85"/>
<circle cx="462.4" cy="451.0" r="0.72" fill="#e01840" fill-opacity="0.85"/>
<circle cx="537.5" cy="593.2" r="0.62" fill="#e01840" fill-opacity="0.85"/>
<circle cx="568.0" cy="489.3" r="0.41" fill="#d020a0" fill-opacity="0.85"/>
<circle cx="523.7" cy="533.8" r="0.35" fill="#d020a0" fill-opacity="0.85"/>
<circle cx="606.9" cy="486.6" r="0.36" fill="#f02020" fill-opacity="0.85"/>
<circle cx="613.2" cy="499.6" r="0.52" fill="#e01840" fill-opacity="0.85"/>
<circle cx="543.8" cy="455.6" r="0.70" fill="#e01840" fill-opacity="0.85"/>
<circle cx="472.8" cy="507.5" r="0.65" fill="#ff3030" fill-opacity="0.85"/>
<circle cx="478.5" cy="482.6" r="0.42" fill="#f03060" fill-opacity="0.85"/>
<circle cx="541.5" cy="540.0" r="0.41" fill="#e01840" fill-opacity="0.85"/>
<circle cx="524.8" cy="529.4" r="0.58" fill="#e01840" fill-opacity="0.85"/>
<circle cx="620.0" cy="452.5" r="0.50" fill="#e01840" fill-opacity="0.85"/>
<circle cx="457.6" cy="464.9" r="0.36" fill="#e01840" fill-opacity="0.85"/>
<circle cx="500.5" cy="487.6" r="0.40" fill="#d020a0" fill-opacity="0.85"/>
<circle cx="468.2" cy="481.3" r="0.73" fill="#f03060" fill-opacity="0.85"/>
<circle cx="583.7" cy="533.9" r="0.41" fill="#ff3030" fill-opacity="0.85"/>
<circle cx="494.0" cy="544.8" r="0.47" fill="#f02020" fill-opacity="0.85"/>
<circle cx="541.7" cy="574.5" r="0.70" fill="#f03060" fill-opacity="0.85"/>
<circle cx="611.5" cy="498.2" r="0.57" fill="#f02020" fill-opacity="0.85"/>
<circle cx="488.5" cy="522.8" r="0.59" fill="#d020a0" fill-opacity="0.85"/>
<circle cx="579.0" cy="608.3" r="0.65" fill="#f03060" fill-opacity="0.85"/>
<circle cx="560.0" cy="505.2" r="0.37" fill="#d020a0" fill-opacity="0.85"/>
<circle cx="547.2" cy="534.1" r="0.40" fill="#ff3030" fill-opacity="0.85"/>
<circle cx="564.2" cy="611.2" r="0.76" fill="#ff3030" fill-opacity="0.85"/>
<circle cx="552.7" cy="598.9" r="0.60" fill="#d020a0" fill-opacity="0.85"/>
<circle cx="454.2" cy="542.5" r="0.74" fill="#ff3030" fill-opacity="0.85"/>
<circle cx="570.5" cy="486.0" r="0.57" fill="#f03060" fill-opacity="0.85"/>
<circle cx="537.1" cy="577.8" r="0.56" fill="#ff3030" fill-opacity="0.85"/>
<circle cx="501.8" cy="532.3" r="0.61" fill="#f03060" fill-opacity="0.85"/>
<circle cx="503.3" cy="445.0" r="0.61" fill="#f02020" fill-opacity="0.85"/>
<circle cx="578.1" cy="565.5" r="0.49" fill="#e01840" fill-opacity="0.85"/>
<circle cx="470.4" cy="590.2" r="0.79" fill="#e01840" fill-opacity="0.85"/>
<circle cx="619.1" cy="597.7" r="0.66" fill="#f03060" fill-opacity="0.85"/>
<circle cx="460.4" cy="607.6" r="0.77" fill="#ff3030" fill-opacity="0.85"/>
<circle cx="501.5" cy="470.2" r="0.47" fill="#f02020" fill-opacity="0.85"/>
<circle cx="496.6" cy="603.0" r="0.68" fill="#e01840" fill-opacity="0.85"/>
<circle cx="589.1" cy="562.4" r="0.36" fill="#ff3030" fill-opacity="0.85"/>
<circle cx="594.6" cy="446.3" r="0.66" fill="#f03060" fill-opacity="0.85"/>
<circle cx="548.9" cy="547.6" r="0.77" fill="#e01840" fill-opacity="0.85"/>
<circle cx="516.0" cy="492.2" r="0.57" fill="#f03060" fill-opacity="0.85"/>
<circle cx="468.6" cy="477.2" r="0.51" fill="#ff3030" fill-opacity="0.85"/>
<circle cx="495.5" cy="562.8" r="0.52" fill="#f02020" fill-opacity="0.85"/>
<circle cx="548.7" cy="610.7" r="0.58" fill="#ff3030" fill-opacity="0.85"/>
<circle cx="461.8" cy="607.3" r="0.56" fill="#f02020" fill-opacity="0.85"/>
<circle cx="533.2" cy="451.5" r="0.60" fill="#d020a0" fill-opacity="0.85"/>
<circle cx="580.6" cy="477.2" r="0.67" fill="#ff3030" fill-opacity="0.85"/>
<circle cx="545.8" cy="484.4" r="0.55" fill="#e01840" fill-opacity="0.85"/>
<circle cx="459.1" cy="542.2" r="0.66" fill="#ff3030" fill-opacity="0.85"/>
<circle cx="480.9" cy="504.9" r="0.72" fill="#f02020" fill-opacity="0.85"/>
<circle cx="557.0" cy="510.0" r="0.42" fill="#f03060" fill-opacity="0.85"/>
<circle cx="506.0" cy="471.7" r="0.48" fill="#f02020" fill-opacity="0.85"/>
<circle cx="484.3" cy="540.8" r="0.56" fill="#d020a0" fill-opacity="0.85"/>
<circle cx="613.1" cy="453.7" r="0.48" fill="#f03060" fill-opacity="0.85"/>
<circle cx="529.4" cy="496.6" r="0.76" fill="#f02020" fill-opacity="0.85"/>
<circle cx="597.5" cy="477.7" r="0.59" fill="#d020a0" fill-opacity="0.85"/>
<circle cx="525.8" cy="483.1" r="0.69" fill="#f03060" fill-opacity="0.85"/>
<circle cx="532.1" cy="456.0" r="0.39" fill="#f02020" fill-opacity="0.85"/>
<circle cx="460.8" cy="475.6" r="0.39" fill="#f03060" fill-opacity="0.85"/>
<circle cx="618.7" cy="445.4" r="0.38" fill="#d020a0" fill-opacity="0.85"/>
<circle cx="605.5" cy="584.6" r="0.57" fill="#ff3030" fill-opacity="0.85"/>
<circle cx="489.0" cy="615.2" r="0.43" fill="#f02020" fill-opacity="0.85"/>
<circle cx="500.5" cy="535.2" r="0.71" fill="#f03060" fill-opacity="0.85"/>
<circle cx="520.6" cy="571.8" r="0.56" fill="#d020a0" fill-opacity="0.85"/>
<circle cx="590.6" cy="541.3" r="0.78" fill="#f02020" fill-opacity="0.85"/>
<circle cx="550.4" cy="453.5" r="0.58" fill="#f03060" fill-opacity="0.85"/>
<circle cx="475.9" cy="458.7" r="0.40" fill="#f02020" fill-opacity="0.85"/>
<circle cx="532.7" cy="452.6" r="0.79" fill="#f02020" fill-opacity="0.85"/>
<circle cx="499.0" cy="602.7" r="0.75" fill="#ff3030" fill-opacity="0.85"/>
<circle cx="511.3" cy="530.2" r="0.72" fill="#f02020" fill-opacity="0.85"/>
<circle cx="591.3" cy="583.8" r="0.51" fill="#f02020" fill-opacity="0.85"/>
<circle cx="464.4" cy="529.7" r="0.77" fill="#e01840" fill-opacity="0.85"/>
<circle cx="566.3" cy="469.1" r="0.48" fill="#f03060" fill-opacity="0.85"/>
<circle cx="616.1" cy="564.6" r="0.66" fill="#e01840" fill-opacity="0.85"/>
<circle cx="613.9" cy="483.0" r="0.59" fill="#e01840" fill-opacity="0.85"/>
<circle cx="500.3" cy="558.3" r="0.75" fill="#f03060" fill-opacity="0.85"/>
<circle cx="598.9" cy="545.3" r="0.73" fill="#d020a0" fill-opacity="0.85"/>
<circle cx="507.4" cy="532.9" r="0.69" fill="#d020a0" fill-opacity="0.85"/>
<circle cx="597.4" cy="603.9" r="0.70" fill="#f02020" fill-opacity="0.85"/>
<circle cx="550.9" cy="525.2" r="0.59" fill="#d020a0" fill-opacity="0.85"/>
<circle cx="600.6" cy="546.0" r="0.53" fill="#f02020" fill-opacity="0.85"/>
<circle cx="481.1" cy="489.4" r="0.78" fill="#d020a0" fill-opacity="0.85"/>
<circle cx="537.1" cy="457.0" r="0.72" fill="#e01840" fill-opacity="0.85"/>
<circle cx="488.3" cy="599.3" r="0.38" fill="#f02020" fill-opacity="0.85"/>
<circle cx="499.1" cy="613.9" r="0.41" fill="#e01840" fill-opacity="0.85"/>
<circle cx="514.0" cy="507.1" r="0.63" fill="#f02020" fill-opacity="0.85"/>
<circle cx="605.3" cy="508.3" r="0.64" fill="#e01840" fill-opacity="0.85"/>
<circle cx="557.7" cy="526.8" r="0.69" fill="#f03060" fill-opacity="0.85"/>
<circle cx="577.5" cy="502.3" r="0.47" fill="#f03060" fill-opacity="0.85"/>
<circle cx="550.9" cy="536.7" r="0.39" fill="#d020a0" fill-opacity="0.85"/>
<circle cx="503.1" cy="485.4" r="0.63" fill="#ff3030" fill-opacity="0.85"/>
<circle cx="560.4" cy="603.3" r="0.56" fill="#f03060" fill-opacity="0.85"/>
<circle cx="533.4" cy="549.0" r="0.50" fill="#d020a0" fill-opacity="0.85"/>
<circle cx="501.6" cy="478.6" r="0.44" fill="#f03060" fill-opacity="0.85"/>
<circle cx="476.4" cy="553.2" r="0.46" fill="#f02020" fill-opacity="0.85"/>
<circle cx="503.7" cy="531.8" r="0.46" fill="#ff3030" fill-opacity="0.85"/>
<circle cx="594.5" cy="446.1" r="0.66" fill="#e01840" fill-opacity="0.85"/>
<circle cx="587.0" cy="587.9" r="0.40" fill="#d020a0" fill-opacity="0.85"/>
<circle cx="561.2" cy="585.7" r="0.48" fill="#ff3030" fill-opacity="0.85"/>
<circle cx="485.8" cy="478.5" r="0.67" fill="#f03060" fill-opacity="0.85"/>
<circle cx="519.5" cy="498.5" r="0.44" fill="#ff3030" fill-opacity="0.85"/>
<circle cx="504.9" cy="490.2" r="0.70" fill="#e01840" fill-opacity="0.85"/>
<circle cx="567.7" cy="540.9" r="0.39" fill="#f02020" fill-opacity="0.85"/>
<circle cx="496.6" cy="512.1" r="0.61" fill="#d020a0" fill-opacity="0.85"/>
<circle cx="597.4" cy="539.4" r="0.54" fill="#e01840" fill-opacity="0.85"/>
<circle cx="607.6" cy="447.8" r="0.65" fill="#f03060" fill-opacity="0.85"/>
<circle cx="475.1" cy="499.8" r="0.68" fill="#d020a0" fill-opacity="0.85"/>
<circle cx="594.0" cy="497.4" r="0.61" fill="#f02020" fill-opacity="0.85"/>
<circle cx="580.3" cy="510.9" r="0.76" fill="#f02020" fill-opacity="0.85"/>
<circle cx="534.7" cy="477.5" r="0.69" fill="#ff3030" fill-opacity="0.85"/>
<circle cx="511.7" cy="496.4" r="0.42" fill="#e01840" fill-opacity="0.85"/>
<circle cx="500.8" cy="488.8" r="0.78" fill="#f02020" fill-opacity="0.85"/>
<circle cx="513.4" cy="503.6" r="0.53" fill="#f03060" fill-opacity="0.85"/>
<circle cx="592.3" cy="514.8" r="0.42" fill="#e01840" fill-opacity="0.85"/>
<circle cx="587.3" cy="551.5" r="0.63" fill="#e01840" fill-opacity="0.85"/>
<circle cx="480.0" cy="491.0" r="0.51" fill="#ff3030" fill-opacity="0.85"/>
<circle cx="536.3" cy="449.5" r="0.44" fill="#e01840" fill-opacity="0.85"/>
<circle cx="564.0" cy="612.7" r="0.62" fill="#f03060" fill-opacity="0.85"/>
<circle cx="499.6" cy="553.5" r="0.63" fill="#f02020" fill-opacity="0.85"/>
<circle cx="593.0" cy="593.0" r="0.43" fill="#f03060" fill-opacity="0.85"/>
<circle cx="589.4" cy="482.1" r="0.59" fill="#f02020" fill-opacity="0.85"/>
<circle cx="493.3" cy="498.9" r="0.60" fill="#f03060" fill-opacity="0.85"/>
<circle cx="584.3" cy="475.8" r="0.62" fill="#f02020" fill-opacity="0.85"/>
<circle cx="549.5" cy="527.0" r="0.71" fill="#f02020" fill-opacity="0.85"/>
<circle cx="543.5" cy="517.6" r="0.60" fill="#f03060" fill-opacity="0.85"/>
<circle cx="545.1" cy="602.1" r="0.72" fill="#f02020" fill-opacity="0.85"/>
<circle cx="569.8" cy="453.3" r="0.75" fill="#f03060" fill-opacity="0.85"/>
<circle cx="583.6" cy="523.6" r="0.75" fill="#e01840" fill-opacity="0.85"/>
<circle cx="553.8" cy="463.4" r="0.51" fill="#f03060" fill-opacity="0.85"/>
<circle cx="524.9" cy="466.3" r="0.75" fill="#ff3030" fill-opacity="0.85"/>
<circle cx="496.2" cy="511.4" r="0.67" fill="#ff3030" fill-opacity="0.85"/>
<circle cx="466.2" cy="457.8" r="0.47" fill="#f02020" fill-opacity="0.85"/>
<circle cx="550.4" cy="462.3" r="0.56" fill="#f02020" fill-opacity="0.85"/>
<circle cx="608.9" cy="608.0" r="0.35" fill="#f02020" fill-opacity="0.85"/>
<circle cx="522.7" cy="489.8" r="0.58" fill="#e01840" fill-opacity="0.85"/>
<circle cx="467.5" cy="451.6" r="0.71" fill="#ff3030" fill-opacity="0.85"/>
<circle cx="496.7" cy="559.1" r="0.38" fill="#d020a0" fill-opacity="0.85"/>
<circle cx="582.8" cy="580.9" r="0.51" fill="#ff3030" fill-opacity="0.85"/>
<circle cx="519.0" cy="454.2" r="0.54" fill="#ff3030" fill-opacity="0.85"/>
<circle cx="565.2" cy="501.5" r="0.39" fill="#e01840" fill-opacity="0.85"/>
<circle cx="576.8" cy="484.3" r="0.40" fill="#e01840" fill-opacity="0.85"/>
<circle cx="491.5" cy="550.9" r="0.39" fill="#ff3030" fill-opacity="0.85"/>
<circle cx="450.2" cy="506.6" r="0.40" fill="#ff3030" fill-opacity="0.85"/>
<circle cx="554.8" cy="510.6" r="0.59" fill="#e01840" fill-opacity="0.85"/>
<circle cx="578.6" cy="507.0" r="0.66" fill="#e01840" fill-opacity="0.85"/>
<circle cx="500.7" cy="533.5" r="0.40" fill="#e01840" fill-opacity="0.85"/>
<circle cx="523.3" cy="506.0" r="0.39" fill="#f02020" fill-opacity="0.85"/>
<circle cx="512.4" cy="503.4" r="0.74" fill="#f03060" fill-opacity="0.85"/>
<circle cx="534.0" cy="486.2" r="0.73" fill="#d020a0" fill-opacity="0.85"/>
<circle cx="491.0" cy="601.2" r="0.66" fill="#ff3030" fill-opacity="0.85"/>
<circle cx="482.2" cy="472.7" r="0.67" fill="#ff3030" fill-opacity="0.85"/>
<circle cx="466.9" cy="498.3" r="0.39" fill="#ff3030" fill-opacity="0.85"/>
<circle cx="584.6" cy="473.5" r="0.39" fill="#f03060" fill-opacity="0.85"/>
<circle cx="589.3" cy="505.4" r="0.48" fill="#d020a0" fill-opacity="0.85"/>
<circle cx="513.5" cy="449.1" r="0.75" fill="#ff3030" fill-opacity="0.85"/>
<circle cx="515.7" cy="527.9" r="0.50" fill="#f03060" fill-opacity="0.85"/>
<circle cx="604.8" cy="521.9" r="0.40" fill="#ff3030" fill-opacity="0.85"/>
<circle cx="613.3" cy="614.5" r="0.79" fill="#e01840" fill-opacity="0.85"/>
<circle cx="566.5" cy="515.9" r="0.52" fill="#d020a0" fill-opacity="0.85"/>
<circle cx="507.5" cy="469.6" r="0.37" fill="#f03060" fill-opacity="0.85"/>
<circle cx="524.7" cy="561.1" r="0.40" fill="#e01840" fill-opacity="0.85"/>
<circle cx="586.7" cy="472.3" r="0.48" fill="#e01840" fill-opacity="0.85"/>
<circle cx="528.1" cy="507.3" r="0.66" fill="#f02020" fill-opacity="0.85"/>
<circle cx="575.3" cy="463.7" r="0.49" fill="#e01840" fill-opacity="0.85"/>
<circle cx="514.9" cy="448.8" r="0.71" fill="#ff3030" fill-opacity="0.85"/>
<circle cx="596.2" cy="481.2" r="0.46" fill="#e01840" fill-opacity="0.85"/>
<circle cx="501.9" cy="561.1" r="0.35" fill="#ff3030" fill-opacity="0.85"/>
<circle cx="469.3" cy="457.9" r="0.74" fill="#d020a0" fill-opacity="0.85"/>
<circle cx="490.0" cy="514.6" r="0.66" fill="#f02020" fill-opacity="0.85"/>
<circle cx="580.7" cy="606.9" r="0.71" fill="#ff3030" fill-opacity="0.85"/>
<circle cx="458.3" cy="600.4" r="0.36" fill="#f03060" fill-opacity="0.85"/>
<circle cx="512.8" cy="494.8" r="0.49" fill="#d020a0" fill-opacity="0.85"/>
<circle cx="503.9" cy="604.1" r="0.75" fill="#ff3030" fill-opacity="0.85"/>
<circle cx="511.1" cy="530.7" r="0.76" fill="#f02020" fill-opacity="0.85"/>
<circle cx="528.3" cy="515.5" r="0.38" fill="#d020a0" fill-opacity="0.85"/>
<circle cx="552.2" cy="499.7" r="0.62" fill="#e01840" fill-opacity="0.85"/>
<circle cx="475.3" cy="488.2" r="0.52" fill="#ff3030" fill-opacity="0.85"/>
<circle cx="612.9" cy="495.2" r="0.42" fill="#f02020" fill-opacity="0.85"/>
<circle cx="578.7" cy="586.7" r="0.51" fill="#f03060" fill-opacity="0.85"/>
<circle cx="612.2" cy="491.2" r="0.58" fill="#f03060" fill-opacity="0.85"/>
<circle cx="523.1" cy="454.4" r="0.56" fill="#d020a0" fill-opacity="0.85"/>
<circle cx="605.6" cy="442.2" r="0.40" fill="#ff3030" fill-opacity="0.85"/>
<circle cx="458.0" cy="452.8" r="0.40" fill="#f03060" fill-opacity="0.85"/>
<circle cx="555.8" cy="573.4" r="0.79" fill="#d020a0" fill-opacity="0.85"/>
<circle cx="531.1" cy="480.9" r="0.45" fill="#ff3030" fill-opacity="0.85"/>
<circle cx="452.7" cy="476.9" r="0.74" fill="#ff3030" fill-opacity="0.85"/>
<circle cx="564.2" cy="559.3" r="0.50" fill="#f03060" fill-opacity="0.85"/>
<circle cx="520.4" cy="461.3" r="0.69" fill="#e01840" fill-opacity="0.85"/>
<circle cx="521.1" cy="530.0" r="0.47" fill="#ff3030" fill-opacity="0.85"/>
<circle cx="492.7" cy="486.0" r="0.61" fill="#f03060" fill-opacity="0.85"/>
<circle cx="558.4" cy="518.4" r="0.43" fill="#f03060" fill-opacity="0.85"/>
<circle cx="480.6" cy="495.2" r="0.41" fill="#f02020" fill-opacity="0.85"/>
<circle cx="505.8" cy="505.5" r="0.69" fill="#f03060" fill-opacity="0.85"/>
<circle cx="449.0" cy="565.7" r="0.72" fill="#f02020" fill-opacity="0.85"/>
<circle cx="474.2" cy="445.1" r="0.40" fill="#ff3030" fill-opacity="0.85"/>
<circle cx="592.0" cy="491.7" r="0.62" fill="#e01840" fill-opacity="0.85"/>
<circle cx="548.5" cy="504.6" r="0.39" fill="#ff3030" fill-opacity="0.85"/>
<circle cx="476.5" cy="504.9" r="0.71" fill="#e01840" fill-opacity="0.85"/>
<circle cx="500.6" cy="557.1" r="0.57" fill="#d020a0" fill-opacity="0.85"/>
<circle cx="546.5" cy="598.1" r="0.50" fill="#f02020" fill-opacity="0.85"/>
<circle cx="459.1" cy="494.1" r="0.63" fill="#d020a0" fill-opacity="0.85"/>
<circle cx="554.1" cy="553.9" r="0.57" fill="#e01840" fill-opacity="0.85"/>
<circle cx="566.9" cy="534.2" r="0.75" fill="#f03060" fill-opacity="0.85"/>
<circle cx="554.5" cy="457.7" r="0.51" fill="#e01840" fill-opacity="0.85"/>
<circle cx="580.5" cy="454.2" r="0.36" fill="#e01840" fill-opacity="0.85"/>
<circle cx="564.5" cy="495.8" r="0.50" fill="#f02020" fill-opacity="0.85"/>
<circle cx="461.2" cy="583.7" r="0.63" fill="#f02020" fill-opacity="0.85"/>
<circle cx="468.4" cy="549.3" r="0.73" fill="#f02020" fill-opacity="0.85"/>
<circle cx="614.9" cy="540.1" r="0.37" fill="#e01840" fill-opacity="0.85"/>
<circle cx="577.7" cy="500.0" r="0.58" fill="#e01840" fill-opacity="0.85"/>
<circle cx="481.8" cy="473.4" r="0.45" fill="#e01840" fill-opacity="0.85"/>
<circle cx="546.9" cy="448.9" r="0.78" fill="#ff3030" fill-opacity="0.85"/>
<circle cx="511.5" cy="469.6" r="0.62" fill="#f03060" fill-opacity="0.85"/>
<circle cx="613.7" cy="560.8" r="0.70" fill="#ff3030" fill-opacity="0.85"/>
<circle cx="465.2" cy="446.1" r="0.37" fill="#f03060" fill-opacity="0.85"/>
<circle cx="566.6" cy="473.5" r="0.75" fill="#d020a0" fill-opacity="0.85"/>
<circle cx="611.6" cy="539.0" r="0.51" fill="#ff3030" fill-opacity="0.85"/>
<circle cx="487.3" cy="536.9" r="0.60" fill="#d020a0" fill-opacity="0.85"/>
<circle cx="553.6" cy="536.7" r="0.68" fill="#d020a0" fill-opacity="0.85"/>
<circle cx="598.2" cy="580.5" r="0.48" fill="#ff3030" fill-opacity="0.85"/>
<circle cx="552.0" cy="584.9" r="0.66" fill="#ff3030" fill-opacity="0.85"/>
<circle cx="507.7" cy="460.2" r="0.70" fill="#f02020" fill-opacity="0.85"/>
<circle cx="470.0" cy="548.7" r="0.49" fill="#ff3030" fill-opacity="0.85"/>
<circle cx="614.9" cy="599.8" r="0.56" fill="#ff3030" fill-opacity="0.85"/>
<circle cx="459.3" cy="556.1" r="0.36" fill="#e01840" fill-opacity="0.85"/>
<circle cx="608.3" cy="489.5" r="0.67" fill="#f03060" fill-opacity="0.85"/>
<circle cx="593.9" cy="584.9" r="0.49" fill="#d020a0" fill-opacity="0.85"/>
<circle cx="564.2" cy="486.9" r="0.60" fill="#f03060" fill-opacity="0.85"/>
<circle cx="578.3" cy="480.1" r="0.63" fill="#f02020" fill-opacity="0.85"/>
<circle cx="460.3" cy="552.8" r="0.35" fill="#d020a0" fill-opacity="0.85"/>
<circle cx="450.7" cy="474.8" r="0.67" fill="#f02020" fill-opacity="0.85"/>
<circle cx="543.3" cy="559.8" r="0.43" fill="#f03060" fill-opacity="0.85"/>
<circle cx="487.3" cy="566.1" r="0.36" fill="#ff3030" fill-opacity="0.85"/>
<circle cx="552.9" cy="537.0" r="0.75" fill="#f03060" fill-opacity="0.85"/>
<circle cx="622.5" cy="462.5" r="0.68" fill="#d020a0" fill-opacity="0.85"/>
<circle cx="606.4" cy="571.1" r="0.79" fill="#f03060" fill-opacity="0.85"/>
<circle cx="487.2" cy="603.4" r="0.57" fill="#f02020" fill-opacity="0.85"/>
<circle cx="557.7" cy="455.8" r="0.69" fill="#f02020" fill-opacity="0.85"/>
<circle cx="547.5" cy="470.1" r="0.70" fill="#ff3030" fill-opacity="0.85"/>
<circle cx="456.5" cy="494.5" r="0.62" fill="#f02020" fill-opacity="0.85"/>
<circle cx="483.8" cy="523.3" r="0.58" fill="#f03060" fill-opacity="0.85"/>
<circle cx="531.3" cy="465.3" r="0.39" fill="#f03060" fill-opacity="0.85"/>
<circle cx="487.6" cy="464.5" r="0.53" fill="#f02020" fill-opacity="0.85"/>
<circle cx="546.8" cy="483.1" r="0.46" fill="#f02020" fill-opacity="0.85"/>
<circle cx="609.4" cy="489.0" r="0.74" fill="#f03060" fill-opacity="0.85"/>
<circle cx="499.7" cy="573.2" r="0.56" fill="#e01840" fill-opacity="0.85"/>
<circle cx="504.5" cy="462.2" r="0.53" fill="#e01840" fill-opacity="0.85"/>
<circle cx="563.2" cy="464.2" r="0.48" fill="#f02020" fill-opacity="0.85"/>
<circle cx="449.5" cy="592.1" r="0.70" fill="#f03060" fill-opacity="0.85"/>
<circle cx="468.1" cy="465.5" r="0.57" fill="#d020a0" fill-opacity="0.85"/>
<circle cx="486.5" cy="502.0" r="0.39" fill="#f03060" fill-opacity="0.85"/>
<circle cx="509.2" cy="552.6" r="0.70" fill="#f03060" fill-opacity="0.85"/>
<circle cx="515.8" cy="499.0" r="0.61" fill="#f02020" fill-opacity="0.85"/>
<circle cx="522.7" cy="494.0" r="0.60" fill="#d020a0" fill-opacity="0.85"/>
<circle cx="461.9" cy="515.4" r="0.42" fill="#f02020" fill-opacity="0.85"/>
<circle cx="449.5" cy="528.8" r="0.61" fill="#e01840" fill-opacity="0.85"/>
<circle cx="477.7" cy="448.6" r="0.47" fill="#ff3030" fill-opacity="0.85"/>
<circle cx="475.3" cy="445.5" r="0.60" fill="#f02020" fill-opacity="0.85"/>
<circle cx="543.0" cy="556.3" r="0.44" fill="#d020a0" fill-opacity="0.85"/>
<circle cx="518.3" cy="442.1" r="0.65" fill="#e01840" fill-opacity="0.85"/>
<circle cx="574.8" cy="574.7" r="0.39" fill="#d020a0" fill-opacity="0.85"/>
<circle cx="544.4" cy="536.3" r="0.52" fill="#ff3030" fill-opacity="0.85"/>
<circle cx="537.1" cy="516.6" r="0.57" fill="#ff3030" fill-opacity="0.85"/>
<circle cx="531.5" cy="448.7" r="0.78" fill="#d020a0" fill-opacity="0.85"/>
<circle cx="584.1" cy="456.3" r="0.46" fill="#d020a0" fill-opacity="0.85"/>
<circle cx="527.0" cy="518.1" r="0.70" fill="#e01840" fill-opacity="0.85"/>
<circle cx="549.4" cy="496.1" r="0.72" fill="#f03060" fill-opacity="0.85"/>
<circle cx="600.9" cy="533.5" r="0.76" fill="#f03060" fill-opacity="0.85"/>
<circle cx="510.3" cy="513.2" r="0.62" fill="#f02020" fill-opacity="0.85"/>
<circle cx="480.5" cy="568.4" r="0.65" fill="#f02020" fill-opacity="0.85"/>
<circle cx="533.3" cy="475.4" r="0.79" fill="#ff3030" fill-opacity="0.85"/>
<circle cx="589.1" cy="490.7" r="0.60" fill="#f03060" fill-opacity="0.85"/>
<circle cx="504.3" cy="516.1" r="0.43" fill="#e01840" fill-opacity="0.85"/>
<circle cx="511.8" cy="552.3" r="0.35" fill="#ff3030" fill-opacity="0.85"/>
<circle cx="484.6" cy="535.7" r="0.47" fill="#f03060" fill-opacity="0.85"/>
<circle cx="477.5" cy="499.2" r="0.54" fill="#e01840" fill-opacity="0.85"/>
<circle cx="493.3" cy="552.2" r="0.52" fill="#f02020" fill-opacity="0.85"/>
<circle cx="471.7" cy="455.5" r="0.38" fill="#f03060" fill-opacity="0.85"/>
<circle cx="540.0" cy="463.0" r="3.0" fill="#f02040" fill-opacity="0.8"/>
<circle cx="604.0" cy="475.0" r="3.5" fill="#f02040" fill-opacity="0.8"/>
<circle cx="471.0" cy="573.0" r="2.5" fill="#f02040" fill-opacity="0.8"/>
<circle cx="505.0" cy="520.0" r="2.5" fill="#f02040" fill-opacity="0.8"/>
<circle cx="570.0" cy="480.0" r="2.0" fill="#f02040" fill-opacity="0.8"/>
<circle cx="525.0" cy="448.0" r="2.0" fill="#f02040" fill-opacity="0.8"/>
<circle cx="500.0" cy="492.0" r="2.0" fill="#f02040" fill-opacity="0.8"/>
<circle cx="456.0" cy="612.0" r="2.0" fill="#f02040" fill-opacity="0.8"/>
<g filter="url(#gb1)"><ellipse cx="541" cy="554" rx="8" ry="11" fill="#e02080" fill-opacity="0.55"/><ellipse cx="546" cy="562" rx="5" ry="6" fill="#e0a030" fill-opacity="0.55"/><ellipse cx="528" cy="540" rx="6" ry="4" fill="#e02040" fill-opacity="0.5"/></g>
</g>
<rect x="529.6" y="541.3" width="30.9" height="31.3" fill="none" stroke="#fff" stroke-width="1.3" stroke-dasharray="3 1.8"/>
<line x1="573.8" y1="605" x2="610.7" y2="605" stroke="#fff" stroke-width="2.4"/>
<clipPath id="sp1"><rect x="627.1" y="441.8" width="41.2" height="40.4"/></clipPath>
<rect x="627.1" y="441.8" width="41.2" height="40.4" fill="#0a0a46"/>
<g clip-path="url(#sp1)">
<ellipse cx="633" cy="446" rx="7" ry="5" fill="#2424f0"/>
<ellipse cx="648" cy="447" rx="5" ry="5" fill="#2020d8"/>
<ellipse cx="661" cy="448" rx="7" ry="6" fill="#2424f0"/>
<ellipse cx="628" cy="459" rx="3" ry="6" fill="#2020e0"/>
<ellipse cx="640" cy="452" rx="4" ry="3" fill="#1a1ab0"/>
<ellipse cx="666" cy="462" rx="4" ry="6" fill="#2424f0"/>
<ellipse cx="634" cy="477" rx="7" ry="5" fill="#2424f0"/>
<ellipse cx="649" cy="480" rx="5" ry="4" fill="#2020d8"/>
<ellipse cx="663" cy="476" rx="6" ry="6" fill="#2424f0"/>
<ellipse cx="656" cy="463" rx="4" ry="3" fill="#1a1ab0"/>
</g>
<clipPath id="sp2"><rect x="627.1" y="486.3" width="41.2" height="40.4"/></clipPath>
<rect x="627.1" y="486.3" width="41.2" height="40.4" fill="#041004"/>
<g clip-path="url(#sp2)">
<g filter="url(#gb2)">
<circle cx="636.4" cy="497.3" r="0.8" fill="#1f8a1f" fill-opacity="0.8"/>
<circle cx="643.7" cy="506.3" r="0.7" fill="#1f8a1f" fill-opacity="0.8"/>
<circle cx="633.8" cy="524.5" r="0.7" fill="#2ca82c" fill-opacity="0.8"/>
<circle cx="661.6" cy="512.9" r="1.2" fill="#44d844" fill-opacity="0.8"/>
<circle cx="632.7" cy="494.7" r="1.5" fill="#44d844" fill-opacity="0.8"/>
<circle cx="649.0" cy="505.8" r="0.9" fill="#1f8a1f" fill-opacity="0.8"/>
<circle cx="631.1" cy="492.9" r="1.1" fill="#44d844" fill-opacity="0.8"/>
<circle cx="653.2" cy="511.0" r="1.4" fill="#2ca82c" fill-opacity="0.8"/>
<circle cx="631.8" cy="498.4" r="1.4" fill="#44d844" fill-opacity="0.8"/>
<circle cx="652.3" cy="505.6" r="1.6" fill="#44d844" fill-opacity="0.8"/>
<circle cx="647.8" cy="508.3" r="0.8" fill="#2ca82c" fill-opacity="0.8"/>
<circle cx="639.9" cy="497.1" r="1.5" fill="#2ca82c" fill-opacity="0.8"/>
<circle cx="646.6" cy="506.1" r="0.9" fill="#38c838" fill-opacity="0.8"/>
<circle cx="661.6" cy="515.8" r="1.5" fill="#44d844" fill-opacity="0.8"/>
<circle cx="631.4" cy="497.1" r="0.7" fill="#38c838" fill-opacity="0.8"/>
<circle cx="646.6" cy="500.1" r="0.8" fill="#2ca82c" fill-opacity="0.8"/>
<circle cx="654.2" cy="519.2" r="1.5" fill="#38c838" fill-opacity="0.8"/>
<circle cx="640.3" cy="498.8" r="0.6" fill="#44d844" fill-opacity="0.8"/>
<circle cx="655.2" cy="511.4" r="1.5" fill="#2ca82c" fill-opacity="0.8"/>
<circle cx="646.6" cy="501.0" r="1.4" fill="#1f8a1f" fill-opacity="0.8"/>
<circle cx="648.5" cy="506.6" r="1.1" fill="#38c838" fill-opacity="0.8"/>
<circle cx="652.5" cy="510.2" r="0.8" fill="#38c838" fill-opacity="0.8"/>
<circle cx="654.1" cy="507.3" r="1.2" fill="#1f8a1f" fill-opacity="0.8"/>
<circle cx="643.0" cy="497.4" r="0.9" fill="#44d844" fill-opacity="0.8"/>
<circle cx="636.8" cy="512.3" r="1.1" fill="#1f8a1f" fill-opacity="0.8"/>
<circle cx="635.1" cy="505.1" r="1.2" fill="#2ca82c" fill-opacity="0.8"/>
<circle cx="651.8" cy="506.5" r="0.7" fill="#2ca82c" fill-opacity="0.8"/>
<circle cx="632.0" cy="501.5" r="0.8" fill="#2ca82c" fill-opacity="0.8"/>
<circle cx="642.7" cy="504.2" r="1.6" fill="#44d844" fill-opacity="0.8"/>
<circle cx="634.4" cy="497.1" r="1.3" fill="#2ca82c" fill-opacity="0.8"/>
<circle cx="634.4" cy="492.7" r="0.7" fill="#1f8a1f" fill-opacity="0.8"/>
<circle cx="655.9" cy="510.4" r="1.6" fill="#38c838" fill-opacity="0.8"/>
<circle cx="651.3" cy="487.9" r="1.2" fill="#2ca82c" fill-opacity="0.8"/>
<circle cx="655.4" cy="510.8" r="1.3" fill="#2ca82c" fill-opacity="0.8"/>
<circle cx="641.6" cy="501.1" r="0.8" fill="#44d844" fill-opacity="0.8"/>
<circle cx="645.7" cy="503.5" r="1.6" fill="#2ca82c" fill-opacity="0.8"/>
<circle cx="651.3" cy="503.7" r="1.0" fill="#1f8a1f" fill-opacity="0.8"/>
<circle cx="658.6" cy="512.2" r="1.6" fill="#1f8a1f" fill-opacity="0.8"/>
<circle cx="648.5" cy="499.6" r="1.5" fill="#2ca82c" fill-opacity="0.8"/>
<circle cx="663.3" cy="516.8" r="1.5" fill="#2ca82c" fill-opacity="0.8"/>
<circle cx="647.3" cy="500.4" r="1.4" fill="#38c838" fill-opacity="0.8"/>
<circle cx="630.7" cy="504.6" r="0.9" fill="#2ca82c" fill-opacity="0.8"/>
<circle cx="642.5" cy="500.8" r="0.7" fill="#2ca82c" fill-opacity="0.8"/>
<circle cx="663.8" cy="520.1" r="0.8" fill="#2ca82c" fill-opacity="0.8"/>
<circle cx="663.4" cy="515.8" r="0.8" fill="#38c838" fill-opacity="0.8"/>
<circle cx="645.5" cy="506.6" r="1.3" fill="#2ca82c" fill-opacity="0.8"/>
<circle cx="646.5" cy="509.0" r="1.2" fill="#2ca82c" fill-opacity="0.8"/>
<circle cx="635.7" cy="506.0" r="0.6" fill="#1f8a1f" fill-opacity="0.8"/>
<circle cx="656.8" cy="524.6" r="1.0" fill="#1f8a1f" fill-opacity="0.8"/>
<circle cx="649.6" cy="508.2" r="0.8" fill="#2ca82c" fill-opacity="0.8"/>
<circle cx="635.4" cy="498.3" r="0.8" fill="#44d844" fill-opacity="0.8"/>
<circle cx="654.7" cy="493.0" r="1.4" fill="#38c838" fill-opacity="0.8"/>
<circle cx="656.1" cy="510.9" r="0.8" fill="#2ca82c" fill-opacity="0.8"/>
<circle cx="639.6" cy="498.2" r="1.6" fill="#38c838" fill-opacity="0.8"/>
<circle cx="631.8" cy="495.3" r="1.1" fill="#2ca82c" fill-opacity="0.8"/>
<circle cx="660.8" cy="510.0" r="0.9" fill="#38c838" fill-opacity="0.8"/>
<circle cx="642.9" cy="522.9" r="0.7" fill="#44d844" fill-opacity="0.8"/>
<circle cx="633.2" cy="499.9" r="1.2" fill="#44d844" fill-opacity="0.8"/>
<circle cx="630.3" cy="486.3" r="1.3" fill="#2ca82c" fill-opacity="0.8"/>
<circle cx="645.9" cy="509.8" r="0.9" fill="#44d844" fill-opacity="0.8"/>
<circle cx="640.3" cy="499.5" r="0.9" fill="#38c838" fill-opacity="0.8"/>
<circle cx="650.4" cy="510.2" r="0.9" fill="#1f8a1f" fill-opacity="0.8"/>
<circle cx="652.0" cy="510.7" r="1.3" fill="#44d844" fill-opacity="0.8"/>
<circle cx="634.2" cy="504.3" r="0.8" fill="#2ca82c" fill-opacity="0.8"/>
<circle cx="654.8" cy="511.5" r="0.9" fill="#44d844" fill-opacity="0.8"/>
<circle cx="664.8" cy="514.3" r="1.0" fill="#38c838" fill-opacity="0.8"/>
<circle cx="655.4" cy="515.2" r="1.0" fill="#1f8a1f" fill-opacity="0.8"/>
<circle cx="643.9" cy="508.0" r="1.0" fill="#38c838" fill-opacity="0.8"/>
<circle cx="648.5" cy="498.4" r="1.1" fill="#44d844" fill-opacity="0.8"/>
<circle cx="638.1" cy="497.8" r="0.7" fill="#1f8a1f" fill-opacity="0.8"/>
<circle cx="642.2" cy="500.3" r="1.1" fill="#2ca82c" fill-opacity="0.8"/>
<circle cx="652.5" cy="512.3" r="0.7" fill="#44d844" fill-opacity="0.8"/>
<circle cx="652.9" cy="503.1" r="0.9" fill="#38c838" fill-opacity="0.8"/>
<circle cx="642.8" cy="500.2" r="1.4" fill="#38c838" fill-opacity="0.8"/>
<circle cx="656.8" cy="510.7" r="1.4" fill="#2ca82c" fill-opacity="0.8"/>
<circle cx="634.0" cy="500.3" r="1.0" fill="#38c838" fill-opacity="0.8"/>
<circle cx="651.9" cy="497.8" r="1.6" fill="#38c838" fill-opacity="0.8"/>
<circle cx="655.5" cy="506.6" r="0.8" fill="#44d844" fill-opacity="0.8"/>
<circle cx="643.0" cy="511.6" r="0.8" fill="#1f8a1f" fill-opacity="0.8"/>
<circle cx="665.0" cy="520.3" r="1.5" fill="#44d844" fill-opacity="0.8"/>
<circle cx="644.6" cy="498.7" r="1.1" fill="#44d844" fill-opacity="0.8"/>
<circle cx="651.0" cy="512.5" r="0.6" fill="#2ca82c" fill-opacity="0.8"/>
<circle cx="656.9" cy="509.7" r="0.9" fill="#38c838" fill-opacity="0.8"/>
<circle cx="634.3" cy="495.2" r="0.8" fill="#2ca82c" fill-opacity="0.8"/>
<circle cx="648.2" cy="503.8" r="1.6" fill="#1f8a1f" fill-opacity="0.8"/>
<circle cx="655.6" cy="501.0" r="1.3" fill="#38c838" fill-opacity="0.8"/>
<circle cx="646.6" cy="505.8" r="1.3" fill="#44d844" fill-opacity="0.8"/>
<circle cx="639.6" cy="495.6" r="0.6" fill="#38c838" fill-opacity="0.8"/>
<circle cx="643.5" cy="509.8" r="1.5" fill="#38c838" fill-opacity="0.8"/>
<circle cx="648.3" cy="512.1" r="1.5" fill="#44d844" fill-opacity="0.8"/>
<circle cx="628.5" cy="501.9" r="0.9" fill="#44d844" fill-opacity="0.8"/>
<circle cx="664.7" cy="523.9" r="1.4" fill="#1f8a1f" fill-opacity="0.8"/>
<circle cx="638.4" cy="495.5" r="1.4" fill="#44d844" fill-opacity="0.8"/>
<circle cx="636.8" cy="493.6" r="1.2" fill="#2ca82c" fill-opacity="0.8"/>
<circle cx="654.4" cy="513.0" r="0.7" fill="#1f8a1f" fill-opacity="0.8"/>
<circle cx="637.1" cy="497.4" r="1.1" fill="#38c838" fill-opacity="0.8"/>
<circle cx="637.5" cy="494.4" r="0.7" fill="#2ca82c" fill-opacity="0.8"/>
<circle cx="655.1" cy="507.1" r="0.9" fill="#38c838" fill-opacity="0.8"/>
<circle cx="654.5" cy="513.5" r="1.0" fill="#2ca82c" fill-opacity="0.8"/>
<circle cx="653.2" cy="519.6" r="1.1" fill="#2ca82c" fill-opacity="0.8"/>
<circle cx="640.9" cy="504.0" r="1.6" fill="#38c838" fill-opacity="0.8"/>
<circle cx="665.7" cy="500.6" r="1.5" fill="#38c838" fill-opacity="0.8"/>
<circle cx="660.1" cy="501.2" r="1.4" fill="#1f8a1f" fill-opacity="0.8"/>
<circle cx="649.3" cy="510.8" r="0.7" fill="#44d844" fill-opacity="0.8"/>
<circle cx="652.7" cy="516.8" r="1.4" fill="#38c838" fill-opacity="0.8"/>
<circle cx="645.4" cy="494.7" r="0.6" fill="#38c838" fill-opacity="0.8"/>
<circle cx="654.5" cy="506.3" r="0.8" fill="#44d844" fill-opacity="0.8"/>
<circle cx="651.4" cy="510.1" r="0.7" fill="#38c838" fill-opacity="0.8"/>
<circle cx="637.5" cy="498.6" r="1.0" fill="#44d844" fill-opacity="0.8"/>
<circle cx="647.6" cy="503.3" r="1.6" fill="#38c838" fill-opacity="0.8"/>
<circle cx="641.5" cy="495.4" r="0.7" fill="#2ca82c" fill-opacity="0.8"/>
<circle cx="659.0" cy="518.0" r="0.9" fill="#2ca82c" fill-opacity="0.8"/>
<circle cx="648.3" cy="508.5" r="1.2" fill="#1f8a1f" fill-opacity="0.8"/>
<circle cx="631.6" cy="502.5" r="1.2" fill="#1f8a1f" fill-opacity="0.8"/>
<circle cx="643.5" cy="500.9" r="1.0" fill="#1f8a1f" fill-opacity="0.8"/>
<circle cx="663.9" cy="511.3" r="0.8" fill="#38c838" fill-opacity="0.8"/>
<circle cx="639.2" cy="489.4" r="1.5" fill="#2ca82c" fill-opacity="0.8"/>
<circle cx="641.6" cy="492.6" r="1.1" fill="#2ca82c" fill-opacity="0.8"/>
<circle cx="654.6" cy="516.2" r="0.8" fill="#1f8a1f" fill-opacity="0.8"/>
<circle cx="639.5" cy="504.1" r="1.4" fill="#1f8a1f" fill-opacity="0.8"/>
<circle cx="653.9" cy="513.0" r="1.0" fill="#2ca82c" fill-opacity="0.8"/>
<circle cx="643.7" cy="507.5" r="1.0" fill="#44d844" fill-opacity="0.8"/>
<circle cx="647.5" cy="502.1" r="1.3" fill="#38c838" fill-opacity="0.8"/>
<circle cx="645.0" cy="502.2" r="0.7" fill="#1f8a1f" fill-opacity="0.8"/>
<circle cx="661.1" cy="514.9" r="0.7" fill="#44d844" fill-opacity="0.8"/>
<circle cx="669.1" cy="513.4" r="0.7" fill="#38c838" fill-opacity="0.8"/>
<circle cx="637.2" cy="506.0" r="1.2" fill="#44d844" fill-opacity="0.8"/>
<circle cx="628.6" cy="489.8" r="1.2" fill="#2ca82c" fill-opacity="0.8"/>
<circle cx="639.0" cy="499.4" r="0.9" fill="#1f8a1f" fill-opacity="0.8"/>
<circle cx="660.2" cy="510.8" r="1.5" fill="#38c838" fill-opacity="0.8"/>
<circle cx="639.0" cy="496.6" r="1.2" fill="#44d844" fill-opacity="0.8"/>
<circle cx="651.8" cy="501.7" r="0.9" fill="#44d844" fill-opacity="0.8"/>
<circle cx="645.8" cy="511.5" r="1.2" fill="#44d844" fill-opacity="0.8"/>
<circle cx="630.1" cy="496.9" r="1.4" fill="#1f8a1f" fill-opacity="0.8"/>
<circle cx="648.5" cy="508.7" r="1.4" fill="#1f8a1f" fill-opacity="0.8"/>
<circle cx="639.4" cy="494.0" r="1.1" fill="#1f8a1f" fill-opacity="0.8"/>
<circle cx="652.6" cy="507.5" r="0.9" fill="#44d844" fill-opacity="0.8"/>
<circle cx="647.4" cy="501.4" r="1.4" fill="#38c838" fill-opacity="0.8"/>
<circle cx="658.3" cy="515.4" r="1.1" fill="#1f8a1f" fill-opacity="0.8"/>
<circle cx="652.0" cy="511.2" r="1.0" fill="#1f8a1f" fill-opacity="0.8"/>
<circle cx="655.2" cy="512.6" r="1.2" fill="#2ca82c" fill-opacity="0.8"/>
<circle cx="643.2" cy="516.6" r="0.7" fill="#1f8a1f" fill-opacity="0.8"/>
<circle cx="659.7" cy="516.2" r="0.7" fill="#1f8a1f" fill-opacity="0.8"/>
<circle cx="663.0" cy="519.6" r="0.7" fill="#2ca82c" fill-opacity="0.8"/>
<circle cx="647.2" cy="504.3" r="0.7" fill="#38c838" fill-opacity="0.8"/>
<circle cx="642.0" cy="498.1" r="1.4" fill="#44d844" fill-opacity="0.8"/>
<circle cx="666.0" cy="495.3" r="0.8" fill="#1f8a1f" fill-opacity="0.8"/>
<circle cx="655.3" cy="515.9" r="1.5" fill="#1f8a1f" fill-opacity="0.8"/>
<circle cx="635.7" cy="496.8" r="1.1" fill="#2ca82c" fill-opacity="0.8"/>
<circle cx="653.6" cy="511.4" r="1.3" fill="#44d844" fill-opacity="0.8"/>
<circle cx="636.4" cy="496.9" r="1.5" fill="#44d844" fill-opacity="0.8"/>
<circle cx="632.2" cy="501.5" r="1.5" fill="#1f8a1f" fill-opacity="0.8"/>
<circle cx="658.6" cy="515.5" r="1.5" fill="#2ca82c" fill-opacity="0.8"/>
<circle cx="655.9" cy="505.7" r="0.7" fill="#2ca82c" fill-opacity="0.8"/>
<circle cx="650.7" cy="524.9" r="1.2" fill="#1f8a1f" fill-opacity="0.8"/>
<circle cx="644.6" cy="504.6" r="1.5" fill="#44d844" fill-opacity="0.8"/>
<circle cx="644.7" cy="503.3" r="0.7" fill="#2ca82c" fill-opacity="0.8"/>
<circle cx="642.9" cy="500.7" r="0.7" fill="#38c838" fill-opacity="0.8"/>
<circle cx="664.3" cy="518.0" r="1.0" fill="#2ca82c" fill-opacity="0.8"/>
<circle cx="656.4" cy="515.3" r="1.6" fill="#44d844" fill-opacity="0.8"/>
<circle cx="654.0" cy="516.3" r="0.8" fill="#2ca82c" fill-opacity="0.8"/>
<circle cx="657.5" cy="491.6" r="1.5" fill="#1f8a1f" fill-opacity="0.8"/>
<circle cx="643.2" cy="499.9" r="1.5" fill="#2ca82c" fill-opacity="0.8"/>
<circle cx="667.9" cy="512.9" r="1.0" fill="#44d844" fill-opacity="0.8"/>
<circle cx="652.4" cy="505.4" r="0.6" fill="#38c838" fill-opacity="0.8"/>
<circle cx="634.1" cy="490.6" r="1.3" fill="#2ca82c" fill-opacity="0.8"/>
<circle cx="662.3" cy="512.9" r="1.2" fill="#1f8a1f" fill-opacity="0.8"/>
<circle cx="644.1" cy="509.3" r="1.5" fill="#1f8a1f" fill-opacity="0.8"/>
<circle cx="657.1" cy="507.9" r="1.1" fill="#44d844" fill-opacity="0.8"/>
<circle cx="631.3" cy="497.8" r="1.3" fill="#38c838" fill-opacity="0.8"/>
<circle cx="640.7" cy="498.6" r="1.0" fill="#44d844" fill-opacity="0.8"/>
<circle cx="657.8" cy="510.0" r="0.8" fill="#38c838" fill-opacity="0.8"/>
<circle cx="664.7" cy="520.2" r="0.8" fill="#38c838" fill-opacity="0.8"/>
<circle cx="647.7" cy="502.3" r="0.8" fill="#44d844" fill-opacity="0.8"/>
<circle cx="657.2" cy="513.9" r="1.4" fill="#1f8a1f" fill-opacity="0.8"/>
<circle cx="632.2" cy="521.4" r="1.5" fill="#2ca82c" fill-opacity="0.8"/>
<circle cx="637.7" cy="498.9" r="0.7" fill="#38c838" fill-opacity="0.8"/>
<circle cx="656.2" cy="518.5" r="0.6" fill="#2ca82c" fill-opacity="0.8"/>
<circle cx="656.6" cy="504.2" r="1.3" fill="#2ca82c" fill-opacity="0.8"/>
<circle cx="646.8" cy="516.5" r="1.3" fill="#38c838" fill-opacity="0.8"/>
<circle cx="656.0" cy="511.2" r="1.1" fill="#38c838" fill-opacity="0.8"/>
<circle cx="649.3" cy="525.4" r="0.7" fill="#38c838" fill-opacity="0.8"/>
<circle cx="629.8" cy="501.3" r="0.7" fill="#2ca82c" fill-opacity="0.8"/>
<circle cx="660.0" cy="519.0" r="1.4" fill="#44d844" fill-opacity="0.8"/>
<circle cx="649.5" cy="501.6" r="1.1" fill="#2ca82c" fill-opacity="0.8"/>
<circle cx="647.5" cy="505.8" r="1.5" fill="#2ca82c" fill-opacity="0.8"/>
<circle cx="642.6" cy="509.9" r="1.1" fill="#2ca82c" fill-opacity="0.8"/>
<circle cx="652.8" cy="511.9" r="1.4" fill="#44d844" fill-opacity="0.8"/>
<circle cx="638.5" cy="499.2" r="1.3" fill="#1f8a1f" fill-opacity="0.8"/>
<circle cx="648.8" cy="512.4" r="1.1" fill="#1f8a1f" fill-opacity="0.8"/>
<circle cx="664.6" cy="494.1" r="1.4" fill="#1f8a1f" fill-opacity="0.8"/>
<circle cx="640.1" cy="499.9" r="0.9" fill="#38c838" fill-opacity="0.8"/>
<circle cx="662.3" cy="518.3" r="1.2" fill="#44d844" fill-opacity="0.8"/>
<circle cx="633.7" cy="499.0" r="1.2" fill="#1f8a1f" fill-opacity="0.8"/>
<circle cx="641.9" cy="513.4" r="0.7" fill="#1f8a1f" fill-opacity="0.8"/>
<circle cx="663.0" cy="516.2" r="0.8" fill="#2ca82c" fill-opacity="0.8"/>
<circle cx="657.2" cy="516.6" r="1.5" fill="#2ca82c" fill-opacity="0.8"/>
<circle cx="645.4" cy="516.3" r="1.1" fill="#2ca82c" fill-opacity="0.8"/>
<circle cx="655.6" cy="514.9" r="0.9" fill="#44d844" fill-opacity="0.8"/>
<circle cx="651.3" cy="514.6" r="1.0" fill="#44d844" fill-opacity="0.8"/>
<circle cx="638.1" cy="496.2" r="1.1" fill="#44d844" fill-opacity="0.8"/>
<circle cx="642.2" cy="502.3" r="1.4" fill="#2ca82c" fill-opacity="0.8"/>
<circle cx="667.3" cy="514.3" r="0.9" fill="#1f8a1f" fill-opacity="0.8"/>
<circle cx="656.4" cy="496.8" r="1.1" fill="#38c838" fill-opacity="0.8"/>
<circle cx="635.6" cy="489.5" r="1.1" fill="#2ca82c" fill-opacity="0.8"/>
<circle cx="641.8" cy="500.3" r="0.8" fill="#2ca82c" fill-opacity="0.8"/>
<circle cx="631.7" cy="487.3" r="1.3" fill="#1f8a1f" fill-opacity="0.8"/>
<circle cx="644.1" cy="500.5" r="1.2" fill="#44d844" fill-opacity="0.8"/>
<circle cx="648.7" cy="510.9" r="1.4" fill="#38c838" fill-opacity="0.8"/>
<circle cx="643.4" cy="504.3" r="1.6" fill="#2ca82c" fill-opacity="0.8"/>
<circle cx="651.2" cy="511.5" r="0.9" fill="#38c838" fill-opacity="0.8"/>
<circle cx="653.8" cy="512.7" r="0.8" fill="#2ca82c" fill-opacity="0.8"/>
<circle cx="650.7" cy="512.6" r="1.1" fill="#1f8a1f" fill-opacity="0.8"/>
<circle cx="656.1" cy="511.9" r="0.7" fill="#38c838" fill-opacity="0.8"/>
<circle cx="660.7" cy="515.4" r="1.1" fill="#38c838" fill-opacity="0.8"/>
<circle cx="662.7" cy="518.1" r="1.5" fill="#1f8a1f" fill-opacity="0.8"/>
<circle cx="635.5" cy="509.0" r="0.8" fill="#38c838" fill-opacity="0.8"/>
<circle cx="661.8" cy="523.0" r="1.1" fill="#2ca82c" fill-opacity="0.8"/>
<circle cx="647.6" cy="500.0" r="1.4" fill="#1f8a1f" fill-opacity="0.8"/>
<circle cx="640.5" cy="508.0" r="0.8" fill="#38c838" fill-opacity="0.8"/>
<circle cx="662.4" cy="521.6" r="1.2" fill="#38c838" fill-opacity="0.8"/>
<circle cx="657.7" cy="511.6" r="0.7" fill="#38c838" fill-opacity="0.8"/>
<circle cx="649.6" cy="503.6" r="1.5" fill="#38c838" fill-opacity="0.8"/>
<circle cx="657.0" cy="487.2" r="1.0" fill="#2ca82c" fill-opacity="0.8"/>
<circle cx="644.7" cy="504.1" r="1.0" fill="#2ca82c" fill-opacity="0.8"/>
<circle cx="652.4" cy="509.4" r="0.6" fill="#1f8a1f" fill-opacity="0.8"/>
<circle cx="635.7" cy="497.1" r="1.0" fill="#2ca82c" fill-opacity="0.8"/>
<circle cx="653.4" cy="513.5" r="1.3" fill="#38c838" fill-opacity="0.8"/>
<circle cx="635.3" cy="496.5" r="0.6" fill="#38c838" fill-opacity="0.8"/>
<circle cx="659.5" cy="513.9" r="0.9" fill="#38c838" fill-opacity="0.8"/>
<ellipse cx="664" cy="491" rx="3" ry="4" fill="#40d040"/><ellipse cx="631" cy="523" rx="4" ry="3" fill="#40d040"/>
</g></g>
<clipPath id="sp3"><rect x="627.1" y="530.8" width="41.2" height="40.7"/></clipPath>
<rect x="627.1" y="530.8" width="41.2" height="40.7" fill="#120303"/>
<g clip-path="url(#sp3)">
<g filter="url(#gb2)">
<circle cx="627.5" cy="534.6" r="0.8" fill="#ff2818" fill-opacity="0.75"/>
<circle cx="632.1" cy="544.7" r="1.2" fill="#e82010" fill-opacity="0.75"/>
<circle cx="668.7" cy="569.5" r="0.5" fill="#ff2818" fill-opacity="0.75"/>
<circle cx="660.8" cy="566.6" r="1.0" fill="#ff2818" fill-opacity="0.75"/>
<circle cx="621.8" cy="542.3" r="0.6" fill="#c01808" fill-opacity="0.75"/>
<circle cx="635.3" cy="545.3" r="0.9" fill="#e82010" fill-opacity="0.75"/>
<circle cx="630.7" cy="530.1" r="1.3" fill="#f03018" fill-opacity="0.75"/>
<circle cx="642.5" cy="549.5" r="1.2" fill="#c01808" fill-opacity="0.75"/>
<circle cx="659.9" cy="559.8" r="1.0" fill="#e82010" fill-opacity="0.75"/>
<circle cx="671.1" cy="562.5" r="1.4" fill="#e82010" fill-opacity="0.75"/>
<circle cx="661.9" cy="559.9" r="1.0" fill="#ff2818" fill-opacity="0.75"/>
<circle cx="644.0" cy="539.4" r="1.3" fill="#f03018" fill-opacity="0.75"/>
<circle cx="667.6" cy="565.9" r="1.1" fill="#f03018" fill-opacity="0.75"/>
<circle cx="648.7" cy="546.4" r="0.6" fill="#f03018" fill-opacity="0.75"/>
<circle cx="651.7" cy="559.4" r="1.4" fill="#c01808" fill-opacity="0.75"/>
<circle cx="639.8" cy="549.0" r="0.8" fill="#ff2818" fill-opacity="0.75"/>
<circle cx="660.5" cy="565.5" r="0.6" fill="#ff2818" fill-opacity="0.75"/>
<circle cx="625.5" cy="537.2" r="0.9" fill="#e82010" fill-opacity="0.75"/>
<circle cx="625.8" cy="540.9" r="1.0" fill="#c01808" fill-opacity="0.75"/>
<circle cx="660.2" cy="565.2" r="1.2" fill="#c01808" fill-opacity="0.75"/>
<circle cx="646.9" cy="551.9" r="0.8" fill="#f03018" fill-opacity="0.75"/>
<circle cx="640.7" cy="547.5" r="1.4" fill="#e82010" fill-opacity="0.75"/>
<circle cx="644.8" cy="540.6" r="0.9" fill="#c01808" fill-opacity="0.75"/>
<circle cx="662.0" cy="561.1" r="0.6" fill="#ff2818" fill-opacity="0.75"/>
<circle cx="663.0" cy="552.2" r="1.4" fill="#e82010" fill-opacity="0.75"/>
<circle cx="646.8" cy="540.1" r="0.6" fill="#c01808" fill-opacity="0.75"/>
<circle cx="661.4" cy="573.8" r="0.9" fill="#e82010" fill-opacity="0.75"/>
<circle cx="647.3" cy="561.7" r="0.9" fill="#f03018" fill-opacity="0.75"/>
<circle cx="653.1" cy="557.8" r="1.4" fill="#c01808" fill-opacity="0.75"/>
<circle cx="657.9" cy="553.1" r="0.9" fill="#f03018" fill-opacity="0.75"/>
<circle cx="629.2" cy="539.6" r="0.6" fill="#ff2818" fill-opacity="0.75"/>
<circle cx="633.0" cy="545.0" r="1.0" fill="#ff2818" fill-opacity="0.75"/>
<circle cx="663.2" cy="561.3" r="1.1" fill="#ff2818" fill-opacity="0.75"/>
<circle cx="641.3" cy="550.8" r="0.7" fill="#e82010" fill-opacity="0.75"/>
<circle cx="663.2" cy="562.2" r="1.0" fill="#ff2818" fill-opacity="0.75"/>
<circle cx="648.8" cy="559.3" r="0.6" fill="#f03018" fill-opacity="0.75"/>
<circle cx="628.9" cy="554.5" r="0.5" fill="#e82010" fill-opacity="0.75"/>
<circle cx="662.2" cy="549.6" r="1.0" fill="#e82010" fill-opacity="0.75"/>
<circle cx="652.6" cy="556.0" r="0.6" fill="#ff2818" fill-opacity="0.75"/>
<circle cx="636.8" cy="538.0" r="1.0" fill="#c01808" fill-opacity="0.75"/>
<circle cx="645.5" cy="546.9" r="1.3" fill="#c01808" fill-opacity="0.75"/>
<circle cx="626.7" cy="532.4" r="1.0" fill="#c01808" fill-opacity="0.75"/>
<circle cx="643.3" cy="563.3" r="0.5" fill="#ff2818" fill-opacity="0.75"/>
<circle cx="650.8" cy="542.7" r="0.8" fill="#f03018" fill-opacity="0.75"/>
<circle cx="653.6" cy="559.7" r="0.8" fill="#f03018" fill-opacity="0.75"/>
<circle cx="635.5" cy="548.3" r="0.9" fill="#f03018" fill-opacity="0.75"/>
<circle cx="642.7" cy="545.6" r="0.7" fill="#c01808" fill-opacity="0.75"/>
<circle cx="626.1" cy="538.5" r="1.1" fill="#ff2818" fill-opacity="0.75"/>
<circle cx="668.9" cy="560.8" r="1.2" fill="#f03018" fill-opacity="0.75"/>
<circle cx="657.8" cy="556.7" r="1.0" fill="#f03018" fill-opacity="0.75"/>
<circle cx="646.5" cy="551.3" r="0.9" fill="#ff2818" fill-opacity="0.75"/>
<circle cx="648.0" cy="549.3" r="1.1" fill="#f03018" fill-opacity="0.75"/>
<circle cx="649.6" cy="560.0" r="0.9" fill="#e82010" fill-opacity="0.75"/>
<circle cx="643.2" cy="541.5" r="0.7" fill="#e82010" fill-opacity="0.75"/>
<circle cx="632.5" cy="540.4" r="0.5" fill="#c01808" fill-opacity="0.75"/>
<circle cx="631.7" cy="530.7" r="1.3" fill="#f03018" fill-opacity="0.75"/>
<circle cx="631.5" cy="538.4" r="0.8" fill="#ff2818" fill-opacity="0.75"/>
<circle cx="615.5" cy="531.9" r="0.8" fill="#ff2818" fill-opacity="0.75"/>
<circle cx="664.7" cy="565.5" r="0.6" fill="#c01808" fill-opacity="0.75"/>
<circle cx="641.8" cy="543.8" r="0.7" fill="#f03018" fill-opacity="0.75"/>
<circle cx="637.8" cy="535.2" r="0.7" fill="#ff2818" fill-opacity="0.75"/>
<circle cx="662.4" cy="556.6" r="1.0" fill="#ff2818" fill-opacity="0.75"/>
<circle cx="641.7" cy="539.1" r="0.9" fill="#f03018" fill-opacity="0.75"/>
<circle cx="659.2" cy="563.9" r="0.6" fill="#c01808" fill-opacity="0.75"/>
<circle cx="644.6" cy="545.1" r="1.4" fill="#ff2818" fill-opacity="0.75"/>
<circle cx="626.7" cy="538.6" r="0.7" fill="#e82010" fill-opacity="0.75"/>
<circle cx="631.4" cy="535.3" r="0.8" fill="#e82010" fill-opacity="0.75"/>
<circle cx="642.8" cy="535.0" r="0.8" fill="#f03018" fill-opacity="0.75"/>
<circle cx="651.3" cy="550.4" r="1.4" fill="#c01808" fill-opacity="0.75"/>
<circle cx="670.2" cy="558.7" r="1.3" fill="#e82010" fill-opacity="0.75"/>
<circle cx="640.3" cy="543.6" r="0.8" fill="#ff2818" fill-opacity="0.75"/>
<circle cx="632.5" cy="566.1" r="0.6" fill="#ff2818" fill-opacity="0.75"/>
<circle cx="643.5" cy="543.3" r="1.1" fill="#f03018" fill-opacity="0.75"/>
<circle cx="660.6" cy="561.2" r="0.7" fill="#ff2818" fill-opacity="0.75"/>
<circle cx="644.9" cy="547.6" r="0.9" fill="#ff2818" fill-opacity="0.75"/>
<circle cx="631.1" cy="532.3" r="0.5" fill="#f03018" fill-opacity="0.75"/>
<circle cx="662.9" cy="558.8" r="0.6" fill="#c01808" fill-opacity="0.75"/>
<circle cx="660.1" cy="570.9" r="1.2" fill="#c01808" fill-opacity="0.75"/>
<circle cx="649.8" cy="551.2" r="1.3" fill="#ff2818" fill-opacity="0.75"/>
<circle cx="628.3" cy="533.9" r="1.4" fill="#f03018" fill-opacity="0.75"/>
<circle cx="656.8" cy="547.0" r="1.1" fill="#ff2818" fill-opacity="0.75"/>
<circle cx="645.4" cy="544.4" r="0.7" fill="#c01808" fill-opacity="0.75"/>
<circle cx="643.1" cy="544.2" r="1.0" fill="#f03018" fill-opacity="0.75"/>
<circle cx="650.9" cy="541.9" r="1.1" fill="#f03018" fill-opacity="0.75"/>
<circle cx="649.9" cy="552.8" r="0.8" fill="#c01808" fill-opacity="0.75"/>
<circle cx="629.2" cy="540.5" r="1.3" fill="#c01808" fill-opacity="0.75"/>
<circle cx="638.0" cy="554.0" r="1.0" fill="#f03018" fill-opacity="0.75"/>
<circle cx="662.6" cy="557.5" r="1.2" fill="#f03018" fill-opacity="0.75"/>
<circle cx="661.9" cy="557.7" r="0.6" fill="#e82010" fill-opacity="0.75"/>
<circle cx="635.0" cy="541.1" r="1.2" fill="#e82010" fill-opacity="0.75"/>
<circle cx="632.7" cy="541.1" r="0.9" fill="#f03018" fill-opacity="0.75"/>
<circle cx="649.0" cy="550.8" r="1.0" fill="#e82010" fill-opacity="0.75"/>
<circle cx="647.6" cy="549.5" r="1.0" fill="#c01808" fill-opacity="0.75"/>
<circle cx="628.1" cy="534.6" r="1.0" fill="#f03018" fill-opacity="0.75"/>
<circle cx="631.3" cy="566.0" r="0.8" fill="#f03018" fill-opacity="0.75"/>
<circle cx="637.2" cy="533.0" r="0.6" fill="#c01808" fill-opacity="0.75"/>
<circle cx="630.8" cy="544.4" r="1.1" fill="#c01808" fill-opacity="0.75"/>
<circle cx="642.9" cy="555.0" r="1.2" fill="#f03018" fill-opacity="0.75"/>
<circle cx="662.4" cy="561.0" r="0.9" fill="#ff2818" fill-opacity="0.75"/>
<circle cx="646.0" cy="548.3" r="1.0" fill="#f03018" fill-opacity="0.75"/>
<circle cx="647.6" cy="543.7" r="0.7" fill="#c01808" fill-opacity="0.75"/>
<circle cx="653.7" cy="556.3" r="1.2" fill="#ff2818" fill-opacity="0.75"/>
<circle cx="659.6" cy="543.7" r="0.5" fill="#ff2818" fill-opacity="0.75"/>
<circle cx="643.1" cy="551.5" r="1.0" fill="#c01808" fill-opacity="0.75"/>
<circle cx="653.2" cy="557.8" r="0.6" fill="#f03018" fill-opacity="0.75"/>
<circle cx="657.7" cy="560.2" r="0.7" fill="#ff2818" fill-opacity="0.75"/>
<circle cx="662.4" cy="559.6" r="0.6" fill="#f03018" fill-opacity="0.75"/>
<circle cx="631.8" cy="542.5" r="1.1" fill="#ff2818" fill-opacity="0.75"/>
<circle cx="642.3" cy="538.9" r="1.2" fill="#c01808" fill-opacity="0.75"/>
<circle cx="644.4" cy="544.9" r="0.6" fill="#e82010" fill-opacity="0.75"/>
<circle cx="643.7" cy="541.2" r="1.4" fill="#e82010" fill-opacity="0.75"/>
<circle cx="664.6" cy="563.7" r="0.9" fill="#f03018" fill-opacity="0.75"/>
<circle cx="631.0" cy="544.2" r="0.6" fill="#f03018" fill-opacity="0.75"/>
<circle cx="664.3" cy="560.4" r="0.8" fill="#f03018" fill-opacity="0.75"/>
<circle cx="631.7" cy="540.4" r="0.7" fill="#c01808" fill-opacity="0.75"/>
<circle cx="655.9" cy="555.1" r="0.8" fill="#c01808" fill-opacity="0.75"/>
<circle cx="647.6" cy="549.9" r="0.8" fill="#f03018" fill-opacity="0.75"/>
<circle cx="649.4" cy="558.1" r="1.3" fill="#ff2818" fill-opacity="0.75"/>
<circle cx="626.1" cy="537.0" r="1.3" fill="#e82010" fill-opacity="0.75"/>
<circle cx="641.1" cy="548.7" r="1.3" fill="#ff2818" fill-opacity="0.75"/>
<circle cx="633.0" cy="543.7" r="0.7" fill="#f03018" fill-opacity="0.75"/>
<circle cx="663.0" cy="565.3" r="0.7" fill="#e82010" fill-opacity="0.75"/>
<circle cx="660.3" cy="559.5" r="0.8" fill="#ff2818" fill-opacity="0.75"/>
<circle cx="664.5" cy="566.6" r="1.3" fill="#e82010" fill-opacity="0.75"/>
<circle cx="638.2" cy="547.6" r="1.1" fill="#ff2818" fill-opacity="0.75"/>
<circle cx="649.6" cy="542.9" r="1.1" fill="#c01808" fill-opacity="0.75"/>
<circle cx="656.8" cy="547.8" r="1.0" fill="#ff2818" fill-opacity="0.75"/>
<circle cx="640.8" cy="531.5" r="0.7" fill="#e82010" fill-opacity="0.75"/>
<circle cx="637.9" cy="536.5" r="0.9" fill="#e82010" fill-opacity="0.75"/>
<circle cx="660.3" cy="543.8" r="1.2" fill="#ff2818" fill-opacity="0.75"/>
<circle cx="626.4" cy="534.9" r="1.4" fill="#f03018" fill-opacity="0.75"/>
<circle cx="632.0" cy="539.0" r="0.6" fill="#e82010" fill-opacity="0.75"/>
<circle cx="648.8" cy="548.5" r="1.1" fill="#e82010" fill-opacity="0.75"/>
<circle cx="652.1" cy="561.8" r="0.9" fill="#ff2818" fill-opacity="0.75"/>
<circle cx="651.3" cy="550.1" r="1.3" fill="#ff2818" fill-opacity="0.75"/>
<circle cx="653.1" cy="546.2" r="1.3" fill="#f03018" fill-opacity="0.75"/>
<circle cx="632.6" cy="544.1" r="1.2" fill="#c01808" fill-opacity="0.75"/>
<circle cx="624.8" cy="543.6" r="1.0" fill="#ff2818" fill-opacity="0.75"/>
<circle cx="658.0" cy="555.3" r="0.8" fill="#c01808" fill-opacity="0.75"/>
<circle cx="656.1" cy="553.8" r="0.8" fill="#e82010" fill-opacity="0.75"/>
<circle cx="653.7" cy="553.9" r="1.0" fill="#c01808" fill-opacity="0.75"/>
<circle cx="628.1" cy="533.8" r="0.6" fill="#c01808" fill-opacity="0.75"/>
<circle cx="660.8" cy="559.4" r="0.7" fill="#f03018" fill-opacity="0.75"/>
<circle cx="631.1" cy="548.7" r="1.4" fill="#e82010" fill-opacity="0.75"/>
<circle cx="630.2" cy="547.7" r="0.9" fill="#f03018" fill-opacity="0.75"/>
<circle cx="646.9" cy="543.4" r="1.2" fill="#c01808" fill-opacity="0.75"/>
<circle cx="647.4" cy="568.5" r="0.7" fill="#f03018" fill-opacity="0.75"/>
<circle cx="643.1" cy="540.3" r="0.9" fill="#f03018" fill-opacity="0.75"/>
<circle cx="659.3" cy="560.9" r="1.3" fill="#e82010" fill-opacity="0.75"/>
<circle cx="635.6" cy="544.9" r="1.3" fill="#e82010" fill-opacity="0.75"/>
<circle cx="652.3" cy="546.6" r="1.0" fill="#f03018" fill-opacity="0.75"/>
<circle cx="625.5" cy="537.1" r="1.3" fill="#f03018" fill-opacity="0.75"/>
<circle cx="657.0" cy="561.2" r="1.0" fill="#ff2818" fill-opacity="0.75"/>
<circle cx="641.9" cy="550.4" r="1.2" fill="#f03018" fill-opacity="0.75"/>
<circle cx="630.0" cy="538.4" r="0.8" fill="#f03018" fill-opacity="0.75"/>
<circle cx="650.8" cy="544.6" r="0.9" fill="#f03018" fill-opacity="0.75"/>
<circle cx="631.5" cy="539.8" r="0.8" fill="#e82010" fill-opacity="0.75"/>
<circle cx="638.6" cy="548.2" r="1.0" fill="#f03018" fill-opacity="0.75"/>
<circle cx="642.2" cy="550.1" r="1.0" fill="#e82010" fill-opacity="0.75"/>
<circle cx="631.3" cy="535.3" r="0.8" fill="#ff2818" fill-opacity="0.75"/>
<circle cx="632.1" cy="560.9" r="0.8" fill="#f03018" fill-opacity="0.75"/>
<circle cx="655.5" cy="552.8" r="0.5" fill="#ff2818" fill-opacity="0.75"/>
<circle cx="633.7" cy="541.8" r="1.1" fill="#f03018" fill-opacity="0.75"/>
<circle cx="641.0" cy="546.2" r="1.4" fill="#c01808" fill-opacity="0.75"/>
<circle cx="657.2" cy="558.0" r="1.0" fill="#ff2818" fill-opacity="0.75"/>
<circle cx="636.8" cy="542.8" r="1.0" fill="#ff2818" fill-opacity="0.75"/>
<circle cx="654.3" cy="565.5" r="1.2" fill="#f03018" fill-opacity="0.75"/>
<circle cx="637.6" cy="539.4" r="0.8" fill="#c01808" fill-opacity="0.75"/>
<circle cx="638.3" cy="557.2" r="1.4" fill="#ff2818" fill-opacity="0.75"/>
<circle cx="627.4" cy="537.3" r="1.1" fill="#ff2818" fill-opacity="0.75"/>
<circle cx="660.9" cy="553.3" r="1.1" fill="#ff2818" fill-opacity="0.75"/>
<circle cx="645.2" cy="545.5" r="0.7" fill="#c01808" fill-opacity="0.75"/>
<circle cx="633.5" cy="542.8" r="1.0" fill="#e82010" fill-opacity="0.75"/>
<circle cx="660.9" cy="563.9" r="0.8" fill="#f03018" fill-opacity="0.75"/>
<circle cx="644.7" cy="547.3" r="1.1" fill="#e82010" fill-opacity="0.75"/>
<circle cx="645.7" cy="562.3" r="0.7" fill="#f03018" fill-opacity="0.75"/>
<circle cx="650.0" cy="541.5" r="1.4" fill="#f03018" fill-opacity="0.75"/>
<circle cx="646.9" cy="540.5" r="1.1" fill="#ff2818" fill-opacity="0.75"/>
<circle cx="638.3" cy="538.4" r="0.9" fill="#c01808" fill-opacity="0.75"/>
<circle cx="639.4" cy="543.9" r="1.3" fill="#ff2818" fill-opacity="0.75"/>
<circle cx="626.6" cy="544.1" r="0.9" fill="#e82010" fill-opacity="0.75"/>
<circle cx="652.8" cy="556.0" r="0.9" fill="#e82010" fill-opacity="0.75"/>
<circle cx="657.0" cy="550.7" r="0.5" fill="#ff2818" fill-opacity="0.75"/>
<circle cx="635.4" cy="543.0" r="1.3" fill="#ff2818" fill-opacity="0.75"/>
<circle cx="645.4" cy="548.1" r="0.9" fill="#e82010" fill-opacity="0.75"/>
<circle cx="646.1" cy="548.7" r="1.2" fill="#e82010" fill-opacity="0.75"/>
<circle cx="657.1" cy="550.1" r="0.7" fill="#ff2818" fill-opacity="0.75"/>
<circle cx="657.3" cy="553.3" r="1.0" fill="#c01808" fill-opacity="0.75"/>
<circle cx="660.0" cy="557.4" r="1.2" fill="#ff2818" fill-opacity="0.75"/>
<circle cx="622.2" cy="536.7" r="0.7" fill="#ff2818" fill-opacity="0.75"/>
<circle cx="671.6" cy="554.6" r="1.0" fill="#c01808" fill-opacity="0.75"/>
<circle cx="649.7" cy="546.7" r="1.2" fill="#f03018" fill-opacity="0.75"/>
<circle cx="651.4" cy="551.9" r="1.1" fill="#c01808" fill-opacity="0.75"/>
<circle cx="631.5" cy="530.0" r="0.8" fill="#ff2818" fill-opacity="0.75"/>
<circle cx="638.2" cy="540.4" r="0.6" fill="#c01808" fill-opacity="0.75"/>
<circle cx="656.9" cy="543.7" r="1.0" fill="#c01808" fill-opacity="0.75"/>
<circle cx="649.6" cy="546.2" r="1.1" fill="#c01808" fill-opacity="0.75"/>
<circle cx="646.8" cy="564.7" r="1.0" fill="#ff2818" fill-opacity="0.75"/>
<circle cx="661.4" cy="554.4" r="0.8" fill="#f03018" fill-opacity="0.75"/>
<circle cx="629.8" cy="527.4" r="1.2" fill="#c01808" fill-opacity="0.75"/>
<circle cx="648.6" cy="539.5" r="1.1" fill="#f03018" fill-opacity="0.75"/>
<circle cx="657.3" cy="550.1" r="0.6" fill="#ff2818" fill-opacity="0.75"/>
<circle cx="638.8" cy="539.9" r="0.7" fill="#ff2818" fill-opacity="0.75"/>
<circle cx="659.3" cy="561.1" r="1.1" fill="#e82010" fill-opacity="0.75"/>
<circle cx="657.9" cy="557.1" r="0.5" fill="#e82010" fill-opacity="0.75"/>
<circle cx="657.8" cy="550.1" r="1.3" fill="#ff2818" fill-opacity="0.75"/>
<circle cx="654.4" cy="560.5" r="0.5" fill="#ff2818" fill-opacity="0.75"/>
<circle cx="633.8" cy="544.6" r="0.9" fill="#e82010" fill-opacity="0.75"/>
<circle cx="625.4" cy="540.9" r="1.2" fill="#e82010" fill-opacity="0.75"/>
<circle cx="651.4" cy="552.6" r="0.9" fill="#c01808" fill-opacity="0.75"/>
<circle cx="659.5" cy="558.5" r="0.7" fill="#f03018" fill-opacity="0.75"/>
<circle cx="653.9" cy="552.9" r="0.8" fill="#c01808" fill-opacity="0.75"/>
<circle cx="646.3" cy="552.0" r="1.2" fill="#ff2818" fill-opacity="0.75"/>
<circle cx="632.7" cy="536.1" r="1.3" fill="#e82010" fill-opacity="0.75"/>
<circle cx="664.2" cy="559.5" r="0.8" fill="#c01808" fill-opacity="0.75"/>
<circle cx="655.3" cy="553.7" r="0.8" fill="#ff2818" fill-opacity="0.75"/>
<circle cx="647.2" cy="548.6" r="1.4" fill="#c01808" fill-opacity="0.75"/>
<circle cx="658.5" cy="555.9" r="0.7" fill="#ff2818" fill-opacity="0.75"/>
<circle cx="648.4" cy="551.5" r="1.1" fill="#c01808" fill-opacity="0.75"/>
<circle cx="654.4" cy="560.4" r="0.9" fill="#c01808" fill-opacity="0.75"/>
<circle cx="642.8" cy="537.5" r="0.8" fill="#c01808" fill-opacity="0.75"/>
<circle cx="629.9" cy="540.9" r="1.2" fill="#f03018" fill-opacity="0.75"/>
<circle cx="643.4" cy="551.0" r="0.8" fill="#ff2818" fill-opacity="0.75"/>
<circle cx="650.9" cy="553.3" r="0.6" fill="#f03018" fill-opacity="0.75"/>
<circle cx="661.5" cy="563.6" r="0.9" fill="#c01808" fill-opacity="0.75"/>
<circle cx="628.7" cy="537.5" r="0.5" fill="#e82010" fill-opacity="0.75"/>
<circle cx="652.3" cy="548.2" r="0.8" fill="#c01808" fill-opacity="0.75"/>
<circle cx="633.1" cy="546.0" r="1.0" fill="#e82010" fill-opacity="0.75"/>
<circle cx="654.6" cy="558.5" r="0.5" fill="#c01808" fill-opacity="0.75"/>
<circle cx="654.7" cy="563.9" r="1.3" fill="#f03018" fill-opacity="0.75"/>
<circle cx="643.4" cy="566.4" r="0.6" fill="#c01808" fill-opacity="0.75"/>
<circle cx="666.8" cy="562.1" r="0.9" fill="#c01808" fill-opacity="0.75"/>
<circle cx="657.9" cy="557.6" r="0.8" fill="#f03018" fill-opacity="0.75"/>
<circle cx="653.2" cy="540.4" r="1.1" fill="#f03018" fill-opacity="0.75"/>
<circle cx="628.9" cy="531.7" r="0.7" fill="#c01808" fill-opacity="0.75"/>
<circle cx="644.6" cy="554.8" r="0.9" fill="#e82010" fill-opacity="0.75"/>
<circle cx="630.8" cy="540.6" r="0.6" fill="#ff2818" fill-opacity="0.75"/>
<circle cx="648.1" cy="554.0" r="1.2" fill="#ff2818" fill-opacity="0.75"/>
<circle cx="669.8" cy="563.7" r="1.1" fill="#e82010" fill-opacity="0.75"/>
<circle cx="639.2" cy="545.9" r="1.2" fill="#c01808" fill-opacity="0.75"/>
<circle cx="640.1" cy="544.0" r="1.4" fill="#e82010" fill-opacity="0.75"/>
<circle cx="649.2" cy="547.3" r="1.0" fill="#e82010" fill-opacity="0.75"/>
<circle cx="641.3" cy="535.5" r="1.3" fill="#c01808" fill-opacity="0.75"/>
<circle cx="657.9" cy="555.0" r="1.3" fill="#c01808" fill-opacity="0.75"/>
<circle cx="654.4" cy="553.4" r="0.7" fill="#c01808" fill-opacity="0.75"/>
<circle cx="650.5" cy="566.7" r="1.3" fill="#ff2818" fill-opacity="0.75"/>
<circle cx="641.1" cy="546.0" r="1.0" fill="#e82010" fill-opacity="0.75"/>
<circle cx="637.4" cy="568.1" r="1.1" fill="#ff2818" fill-opacity="0.75"/>
<circle cx="629.4" cy="534.2" r="1.0" fill="#c01808" fill-opacity="0.75"/>
<circle cx="662.7" cy="558.7" r="1.0" fill="#ff2818" fill-opacity="0.75"/>
<circle cx="630.5" cy="536.4" r="1.3" fill="#c01808" fill-opacity="0.75"/>
<circle cx="641.3" cy="543.6" r="1.4" fill="#ff2818" fill-opacity="0.75"/>
<circle cx="631.1" cy="537.5" r="1.1" fill="#c01808" fill-opacity="0.75"/>
<circle cx="648.9" cy="555.0" r="1.0" fill="#f03018" fill-opacity="0.75"/>
<circle cx="635.6" cy="553.8" r="1.1" fill="#c01808" fill-opacity="0.75"/>
<circle cx="645.4" cy="536.3" r="0.6" fill="#f03018" fill-opacity="0.75"/>
<circle cx="635.1" cy="541.1" r="0.7" fill="#ff2818" fill-opacity="0.75"/>
<circle cx="643.3" cy="548.4" r="0.9" fill="#f03018" fill-opacity="0.75"/>
<circle cx="631.9" cy="537.9" r="0.8" fill="#e82010" fill-opacity="0.75"/>
<circle cx="629.6" cy="538.3" r="1.2" fill="#c01808" fill-opacity="0.75"/>
<circle cx="650.0" cy="560.2" r="1.4" fill="#c01808" fill-opacity="0.75"/>
<circle cx="637.5" cy="546.2" r="0.6" fill="#ff2818" fill-opacity="0.75"/>
<circle cx="642.3" cy="531.8" r="1.1" fill="#ff2818" fill-opacity="0.75"/>
<circle cx="634.6" cy="540.3" r="1.1" fill="#c01808" fill-opacity="0.75"/>
<circle cx="662.5" cy="557.9" r="1.3" fill="#c01808" fill-opacity="0.75"/>
<circle cx="637.0" cy="538.7" r="1.2" fill="#e82010" fill-opacity="0.75"/>
<circle cx="640.9" cy="547.6" r="1.0" fill="#c01808" fill-opacity="0.75"/>
<circle cx="651.8" cy="554.4" r="1.2" fill="#ff2818" fill-opacity="0.75"/>
<circle cx="645.1" cy="569.4" r="1.3" fill="#c01808" fill-opacity="0.75"/>
<circle cx="656.6" cy="554.6" r="0.9" fill="#e82010" fill-opacity="0.75"/>
<circle cx="644.2" cy="547.2" r="1.0" fill="#e82010" fill-opacity="0.75"/>
<circle cx="641.0" cy="546.5" r="1.1" fill="#f03018" fill-opacity="0.75"/>
<circle cx="641.3" cy="549.8" r="1.4" fill="#c01808" fill-opacity="0.75"/>
<circle cx="647.8" cy="551.8" r="0.6" fill="#f03018" fill-opacity="0.75"/>
<circle cx="632.1" cy="534.1" r="0.6" fill="#ff2818" fill-opacity="0.75"/>
<circle cx="645.6" cy="560.2" r="1.0" fill="#e82010" fill-opacity="0.75"/>
<circle cx="646.4" cy="554.0" r="0.6" fill="#ff2818" fill-opacity="0.75"/>
<circle cx="655.7" cy="540.1" r="1.1" fill="#e82010" fill-opacity="0.75"/>
<circle cx="630.8" cy="531.8" r="1.1" fill="#f03018" fill-opacity="0.75"/>
<circle cx="642.3" cy="543.5" r="1.0" fill="#f03018" fill-opacity="0.75"/>
<circle cx="641.1" cy="542.0" r="1.3" fill="#ff2818" fill-opacity="0.75"/>
<circle cx="664.7" cy="563.4" r="1.3" fill="#ff2818" fill-opacity="0.75"/>
<circle cx="638.2" cy="568.8" r="0.9" fill="#f03018" fill-opacity="0.75"/>
<circle cx="635.9" cy="531.4" r="1.4" fill="#f03018" fill-opacity="0.75"/>
<circle cx="647.9" cy="551.8" r="0.5" fill="#c01808" fill-opacity="0.75"/>
<circle cx="640.7" cy="543.4" r="1.1" fill="#c01808" fill-opacity="0.75"/>
<circle cx="638.2" cy="543.4" r="1.2" fill="#ff2818" fill-opacity="0.75"/>
<circle cx="651.0" cy="551.6" r="1.3" fill="#e82010" fill-opacity="0.75"/>
<circle cx="641.4" cy="548.7" r="1.3" fill="#ff2818" fill-opacity="0.75"/>
<circle cx="643.8" cy="543.2" r="1.2" fill="#c01808" fill-opacity="0.75"/>
<circle cx="653.5" cy="564.2" r="0.8" fill="#e82010" fill-opacity="0.75"/>
<circle cx="628.0" cy="535.2" r="1.2" fill="#c01808" fill-opacity="0.75"/>
<circle cx="666.9" cy="563.8" r="0.9" fill="#c01808" fill-opacity="0.75"/>
<circle cx="660.6" cy="567.0" r="0.6" fill="#e82010" fill-opacity="0.75"/>
<circle cx="662.4" cy="558.3" r="1.2" fill="#e82010" fill-opacity="0.75"/>
<circle cx="666.4" cy="550.8" r="0.9" fill="#c01808" fill-opacity="0.75"/>
<circle cx="666.8" cy="563.8" r="1.0" fill="#ff2818" fill-opacity="0.75"/>
<circle cx="636.7" cy="535.8" r="0.5" fill="#c01808" fill-opacity="0.75"/>
<circle cx="641.8" cy="549.4" r="1.1" fill="#f03018" fill-opacity="0.75"/>
<circle cx="645.7" cy="547.2" r="0.6" fill="#c01808" fill-opacity="0.75"/>
</g></g>
<clipPath id="sp4"><rect x="627.1" y="575.0" width="41.2" height="40.4"/></clipPath>
<rect x="627.1" y="575.0" width="41.2" height="40.4" fill="#2222c8"/>
<g clip-path="url(#sp4)">
<ellipse cx="636" cy="581" rx="11" ry="7" fill="#e040e0" fill-opacity="0.85"/>
<ellipse cx="655" cy="580" rx="6" ry="4" fill="#6a30d0" fill-opacity="0.80"/>
<ellipse cx="662" cy="606" rx="7" ry="6" fill="#1414a0" fill-opacity="1.00"/>
<ellipse cx="633" cy="609" rx="5" ry="4" fill="#1414a0" fill-opacity="1.00"/>
<circle cx="641.0" cy="599.0" r="1.0" fill="#e83020" fill-opacity="0.8"/>
<circle cx="660.3" cy="611.7" r="1.0" fill="#40c040" fill-opacity="0.8"/>
<circle cx="657.1" cy="607.1" r="0.7" fill="#c8d040" fill-opacity="0.8"/>
<circle cx="648.3" cy="593.5" r="1.3" fill="#e83020" fill-opacity="0.8"/>
<circle cx="644.1" cy="602.1" r="0.9" fill="#f0a030" fill-opacity="0.8"/>
<circle cx="659.0" cy="603.7" r="1.1" fill="#e83020" fill-opacity="0.8"/>
<circle cx="650.0" cy="601.1" r="1.1" fill="#c8d040" fill-opacity="0.8"/>
<circle cx="626.9" cy="584.1" r="1.0" fill="#e83020" fill-opacity="0.8"/>
<circle cx="668.5" cy="613.2" r="0.7" fill="#e83020" fill-opacity="0.8"/>
<circle cx="629.0" cy="591.6" r="0.9" fill="#e83020" fill-opacity="0.8"/>
<circle cx="659.8" cy="603.5" r="1.5" fill="#f0a030" fill-opacity="0.8"/>
<circle cx="658.0" cy="613.2" r="0.7" fill="#f0a030" fill-opacity="0.8"/>
<circle cx="662.2" cy="610.8" r="0.9" fill="#40c040" fill-opacity="0.8"/>
<circle cx="639.4" cy="593.1" r="0.9" fill="#40c040" fill-opacity="0.8"/>
<circle cx="643.9" cy="604.6" r="0.6" fill="#c8d040" fill-opacity="0.8"/>
<circle cx="656.5" cy="613.1" r="0.6" fill="#e83020" fill-opacity="0.8"/>
<circle cx="655.1" cy="604.8" r="0.8" fill="#f0a030" fill-opacity="0.8"/>
<circle cx="636.6" cy="589.0" r="1.3" fill="#e83020" fill-opacity="0.8"/>
<circle cx="650.4" cy="611.5" r="0.8" fill="#40c040" fill-opacity="0.8"/>
<circle cx="629.0" cy="590.1" r="0.6" fill="#40c040" fill-opacity="0.8"/>
<circle cx="657.5" cy="603.8" r="0.6" fill="#40c040" fill-opacity="0.8"/>
<circle cx="664.5" cy="607.5" r="1.3" fill="#f0a030" fill-opacity="0.8"/>
<circle cx="654.3" cy="608.2" r="0.6" fill="#e83020" fill-opacity="0.8"/>
<circle cx="627.0" cy="597.3" r="1.3" fill="#40c040" fill-opacity="0.8"/>
<circle cx="641.6" cy="592.5" r="1.2" fill="#c8d040" fill-opacity="0.8"/>
<circle cx="630.8" cy="590.6" r="1.0" fill="#40c040" fill-opacity="0.8"/>
<circle cx="641.5" cy="595.0" r="0.7" fill="#e83020" fill-opacity="0.8"/>
<circle cx="636.2" cy="599.1" r="1.4" fill="#e83020" fill-opacity="0.8"/>
<circle cx="643.2" cy="607.6" r="0.9" fill="#f0a030" fill-opacity="0.8"/>
<circle cx="641.0" cy="593.4" r="1.1" fill="#c8d040" fill-opacity="0.8"/>
<circle cx="657.6" cy="607.9" r="0.8" fill="#e83020" fill-opacity="0.8"/>
<circle cx="629.6" cy="593.4" r="0.9" fill="#c8d040" fill-opacity="0.8"/>
<circle cx="642.4" cy="601.2" r="1.3" fill="#f0a030" fill-opacity="0.8"/>
<circle cx="635.0" cy="603.9" r="1.4" fill="#f0a030" fill-opacity="0.8"/>
<circle cx="653.3" cy="609.0" r="1.4" fill="#f0a030" fill-opacity="0.8"/>
<circle cx="646.7" cy="604.2" r="0.9" fill="#f0a030" fill-opacity="0.8"/>
<circle cx="645.0" cy="604.6" r="0.7" fill="#e83020" fill-opacity="0.8"/>
<circle cx="645.8" cy="596.5" r="1.1" fill="#e83020" fill-opacity="0.8"/>
<circle cx="637.2" cy="595.0" r="1.3" fill="#e83020" fill-opacity="0.8"/>
<circle cx="629.0" cy="591.8" r="1.0" fill="#f0a030" fill-opacity="0.8"/>
<circle cx="653.1" cy="604.1" r="1.3" fill="#40c040" fill-opacity="0.8"/>
<circle cx="663.9" cy="614.0" r="0.7" fill="#e83020" fill-opacity="0.8"/>
<circle cx="662.5" cy="611.7" r="0.8" fill="#c8d040" fill-opacity="0.8"/>
<circle cx="631.3" cy="592.1" r="0.7" fill="#e83020" fill-opacity="0.8"/>
<circle cx="631.7" cy="581.6" r="0.8" fill="#e83020" fill-opacity="0.8"/>
<circle cx="646.4" cy="608.0" r="1.0" fill="#40c040" fill-opacity="0.8"/>
<circle cx="658.8" cy="594.4" r="0.8" fill="#c8d040" fill-opacity="0.8"/>
<circle cx="633.6" cy="591.5" r="0.7" fill="#f0a030" fill-opacity="0.8"/>
<circle cx="657.6" cy="611.3" r="0.9" fill="#e83020" fill-opacity="0.8"/>
<circle cx="639.0" cy="600.0" r="1.2" fill="#e83020" fill-opacity="0.8"/>
<circle cx="654.4" cy="609.9" r="0.9" fill="#e83020" fill-opacity="0.8"/>
<circle cx="651.3" cy="600.6" r="0.8" fill="#e83020" fill-opacity="0.8"/>
<circle cx="643.2" cy="603.0" r="1.0" fill="#e83020" fill-opacity="0.8"/>
<circle cx="641.2" cy="603.4" r="0.7" fill="#e83020" fill-opacity="0.8"/>
<circle cx="648.2" cy="599.7" r="1.1" fill="#e83020" fill-opacity="0.8"/>
<circle cx="632.4" cy="591.5" r="0.8" fill="#40c040" fill-opacity="0.8"/>
<circle cx="642.6" cy="597.2" r="1.1" fill="#e83020" fill-opacity="0.8"/>
<circle cx="662.3" cy="614.6" r="1.0" fill="#e83020" fill-opacity="0.8"/>
<circle cx="655.0" cy="600.9" r="0.7" fill="#c8d040" fill-opacity="0.8"/>
<circle cx="659.6" cy="607.2" r="1.5" fill="#40c040" fill-opacity="0.8"/>
<circle cx="646.0" cy="597.0" r="1.5" fill="#e83020" fill-opacity="0.8"/>
<circle cx="643.2" cy="596.5" r="1.0" fill="#f0a030" fill-opacity="0.8"/>
<circle cx="646.7" cy="600.2" r="1.0" fill="#e83020" fill-opacity="0.8"/>
<circle cx="629.8" cy="596.4" r="1.4" fill="#40c040" fill-opacity="0.8"/>
<circle cx="656.5" cy="609.8" r="0.8" fill="#c8d040" fill-opacity="0.8"/>
<circle cx="658.5" cy="616.7" r="1.1" fill="#c8d040" fill-opacity="0.8"/>
<circle cx="659.5" cy="614.2" r="0.6" fill="#e83020" fill-opacity="0.8"/>
<circle cx="646.3" cy="606.5" r="1.0" fill="#f0a030" fill-opacity="0.8"/>
<circle cx="632.0" cy="588.1" r="1.1" fill="#c8d040" fill-opacity="0.8"/>
<circle cx="646.9" cy="593.5" r="1.5" fill="#e83020" fill-opacity="0.8"/>
<circle cx="663.6" cy="613.1" r="1.3" fill="#e83020" fill-opacity="0.8"/>
<circle cx="625.0" cy="586.0" r="0.6" fill="#40c040" fill-opacity="0.8"/>
<circle cx="647.8" cy="607.5" r="1.3" fill="#e83020" fill-opacity="0.8"/>
<circle cx="661.3" cy="616.8" r="0.9" fill="#c8d040" fill-opacity="0.8"/>
<circle cx="654.8" cy="598.9" r="1.0" fill="#40c040" fill-opacity="0.8"/>
<circle cx="644.0" cy="602.3" r="0.9" fill="#f0a030" fill-opacity="0.8"/>
<circle cx="649.9" cy="609.0" r="1.4" fill="#e83020" fill-opacity="0.8"/>
<circle cx="628.9" cy="589.6" r="1.4" fill="#e83020" fill-opacity="0.8"/>
<circle cx="655.8" cy="615.9" r="0.7" fill="#c8d040" fill-opacity="0.8"/>
<circle cx="663.3" cy="611.7" r="0.8" fill="#40c040" fill-opacity="0.8"/>
<circle cx="652.8" cy="604.9" r="1.2" fill="#e83020" fill-opacity="0.8"/>
<circle cx="640.9" cy="598.7" r="1.3" fill="#e83020" fill-opacity="0.8"/>
<circle cx="647.7" cy="608.5" r="1.3" fill="#40c040" fill-opacity="0.8"/>
<circle cx="641.7" cy="604.6" r="1.5" fill="#e83020" fill-opacity="0.8"/>
<circle cx="658.8" cy="606.7" r="0.8" fill="#e83020" fill-opacity="0.8"/>
<circle cx="654.0" cy="599.6" r="1.3" fill="#e83020" fill-opacity="0.8"/>
<circle cx="639.0" cy="593.7" r="1.4" fill="#40c040" fill-opacity="0.8"/>
<circle cx="645.3" cy="596.5" r="1.3" fill="#c8d040" fill-opacity="0.8"/>
<circle cx="634.4" cy="591.5" r="0.7" fill="#e83020" fill-opacity="0.8"/>
<circle cx="627.5" cy="595.4" r="1.4" fill="#c8d040" fill-opacity="0.8"/>
<circle cx="638.3" cy="600.0" r="1.1" fill="#e83020" fill-opacity="0.8"/>
<circle cx="640.5" cy="592.7" r="1.4" fill="#f0a030" fill-opacity="0.8"/>
<circle cx="651.7" cy="605.2" r="0.7" fill="#e83020" fill-opacity="0.8"/>
<circle cx="649.3" cy="601.8" r="1.0" fill="#40c040" fill-opacity="0.8"/>
<circle cx="628.4" cy="592.3" r="1.0" fill="#f0a030" fill-opacity="0.8"/>
<circle cx="655.2" cy="607.3" r="1.5" fill="#c8d040" fill-opacity="0.8"/>
<circle cx="658.3" cy="615.3" r="0.8" fill="#e83020" fill-opacity="0.8"/>
<circle cx="670.8" cy="611.5" r="1.4" fill="#e83020" fill-opacity="0.8"/>
<circle cx="654.1" cy="609.6" r="0.7" fill="#40c040" fill-opacity="0.8"/>
<circle cx="663.9" cy="617.8" r="0.9" fill="#40c040" fill-opacity="0.8"/>
<circle cx="652.1" cy="609.6" r="1.3" fill="#e83020" fill-opacity="0.8"/>
<circle cx="649.8" cy="605.2" r="1.4" fill="#e83020" fill-opacity="0.8"/>
<circle cx="649.1" cy="604.3" r="0.9" fill="#e83020" fill-opacity="0.8"/>
<circle cx="630.6" cy="604.6" r="0.7" fill="#f0a030" fill-opacity="0.8"/>
<circle cx="663.4" cy="614.9" r="0.7" fill="#40c040" fill-opacity="0.8"/>
<circle cx="634.0" cy="593.9" r="0.8" fill="#e83020" fill-opacity="0.8"/>
<circle cx="637.1" cy="604.1" r="1.2" fill="#40c040" fill-opacity="0.8"/>
<circle cx="629.4" cy="583.6" r="0.7" fill="#e83020" fill-opacity="0.8"/>
<circle cx="655.9" cy="610.3" r="1.1" fill="#c8d040" fill-opacity="0.8"/>
<circle cx="638.7" cy="606.5" r="1.0" fill="#40c040" fill-opacity="0.8"/>
<circle cx="647.5" cy="612.6" r="0.9" fill="#40c040" fill-opacity="0.8"/>
<circle cx="659.3" cy="610.3" r="0.7" fill="#f0a030" fill-opacity="0.8"/>
<circle cx="665.9" cy="615.6" r="0.7" fill="#40c040" fill-opacity="0.8"/>
<circle cx="664.4" cy="614.0" r="0.8" fill="#c8d040" fill-opacity="0.8"/>
<circle cx="624.0" cy="590.3" r="1.3" fill="#f0a030" fill-opacity="0.8"/>
<circle cx="640.4" cy="598.5" r="1.4" fill="#c8d040" fill-opacity="0.8"/>
<circle cx="638.4" cy="596.9" r="0.9" fill="#e83020" fill-opacity="0.8"/>
<circle cx="627.0" cy="585.9" r="0.7" fill="#c8d040" fill-opacity="0.8"/>
<circle cx="656.2" cy="613.1" r="0.9" fill="#e83020" fill-opacity="0.8"/>
<circle cx="646.1" cy="600.6" r="0.8" fill="#c8d040" fill-opacity="0.8"/>
<circle cx="634.9" cy="591.6" r="1.5" fill="#e83020" fill-opacity="0.8"/>
<circle cx="657.4" cy="601.2" r="1.0" fill="#40c040" fill-opacity="0.8"/>
<circle cx="634.7" cy="594.5" r="0.9" fill="#c8d040" fill-opacity="0.8"/>
<circle cx="661.0" cy="607.6" r="1.2" fill="#e83020" fill-opacity="0.8"/>
<circle cx="646.7" cy="602.2" r="1.2" fill="#e83020" fill-opacity="0.8"/>
<circle cx="645.7" cy="597.8" r="0.9" fill="#c8d040" fill-opacity="0.8"/>
<circle cx="637.0" cy="592.5" r="0.9" fill="#f0a030" fill-opacity="0.8"/>
<circle cx="655.8" cy="594.6" r="1.3" fill="#f0a030" fill-opacity="0.8"/>
<circle cx="641.6" cy="594.9" r="1.4" fill="#40c040" fill-opacity="0.8"/>
<circle cx="653.6" cy="607.1" r="1.3" fill="#40c040" fill-opacity="0.8"/>
<circle cx="648.8" cy="599.5" r="1.4" fill="#f0a030" fill-opacity="0.8"/>
<circle cx="641.1" cy="597.3" r="1.1" fill="#c8d040" fill-opacity="0.8"/>
<circle cx="644.4" cy="600.2" r="1.0" fill="#40c040" fill-opacity="0.8"/>
<circle cx="649.8" cy="594.8" r="1.3" fill="#e83020" fill-opacity="0.8"/>
<circle cx="640.3" cy="599.2" r="1.4" fill="#e83020" fill-opacity="0.8"/>
<circle cx="648.9" cy="610.3" r="1.4" fill="#f0a030" fill-opacity="0.8"/>
<circle cx="645.1" cy="594.9" r="1.2" fill="#c8d040" fill-opacity="0.8"/>
<circle cx="657.8" cy="610.7" r="1.1" fill="#f0a030" fill-opacity="0.8"/>
<circle cx="634.1" cy="584.5" r="0.7" fill="#e83020" fill-opacity="0.8"/>
<circle cx="649.1" cy="607.9" r="1.3" fill="#f0a030" fill-opacity="0.8"/>
<circle cx="651.2" cy="607.1" r="0.9" fill="#f0a030" fill-opacity="0.8"/>
<circle cx="663.5" cy="614.5" r="1.4" fill="#40c040" fill-opacity="0.8"/>
<circle cx="635.7" cy="594.3" r="1.1" fill="#f0a030" fill-opacity="0.8"/>
<circle cx="667.6" cy="616.2" r="0.8" fill="#e83020" fill-opacity="0.8"/>
<circle cx="659.0" cy="610.6" r="0.6" fill="#40c040" fill-opacity="0.8"/>
<circle cx="659.4" cy="610.4" r="1.5" fill="#c8d040" fill-opacity="0.8"/>
<circle cx="661.0" cy="607.6" r="0.8" fill="#f0a030" fill-opacity="0.8"/>
<circle cx="642.6" cy="594.8" r="0.9" fill="#e83020" fill-opacity="0.8"/>
<circle cx="655.8" cy="602.5" r="1.2" fill="#c8d040" fill-opacity="0.8"/>
<circle cx="658.7" cy="617.2" r="0.9" fill="#40c040" fill-opacity="0.8"/>
<circle cx="665.4" cy="616.0" r="0.9" fill="#e83020" fill-opacity="0.8"/>
<circle cx="656.9" cy="608.1" r="0.8" fill="#e83020" fill-opacity="0.8"/>
<circle cx="647.2" cy="603.4" r="0.9" fill="#40c040" fill-opacity="0.8"/>
<circle cx="638.8" cy="598.3" r="0.6" fill="#e83020" fill-opacity="0.8"/>
<circle cx="641.2" cy="601.6" r="0.9" fill="#e83020" fill-opacity="0.8"/>
<circle cx="654.4" cy="597.0" r="1.0" fill="#e83020" fill-opacity="0.8"/>
<circle cx="644.4" cy="583.9" r="0.9" fill="#e83020" fill-opacity="0.8"/>
<circle cx="658.6" cy="599.4" r="0.9" fill="#40c040" fill-opacity="0.8"/>
<circle cx="663.4" cy="610.4" r="1.0" fill="#c8d040" fill-opacity="0.8"/>
<circle cx="662.1" cy="607.8" r="0.9" fill="#c8d040" fill-opacity="0.8"/>
<circle cx="659.7" cy="613.6" r="1.1" fill="#c8d040" fill-opacity="0.8"/>
<circle cx="632.6" cy="593.7" r="1.1" fill="#e83020" fill-opacity="0.8"/>
<circle cx="635.5" cy="596.2" r="0.8" fill="#c8d040" fill-opacity="0.8"/>
<circle cx="643.2" cy="599.1" r="0.7" fill="#e83020" fill-opacity="0.8"/>
<circle cx="652.7" cy="607.3" r="0.8" fill="#e83020" fill-opacity="0.8"/>
<circle cx="666.1" cy="610.0" r="1.0" fill="#40c040" fill-opacity="0.8"/>
<circle cx="649.9" cy="607.7" r="0.9" fill="#40c040" fill-opacity="0.8"/>
<circle cx="649.2" cy="608.3" r="1.4" fill="#e83020" fill-opacity="0.8"/>
<circle cx="655.3" cy="616.0" r="1.3" fill="#e83020" fill-opacity="0.8"/>
<circle cx="634.1" cy="587.8" r="0.6" fill="#e83020" fill-opacity="0.8"/>
<circle cx="664.9" cy="614.7" r="0.6" fill="#40c040" fill-opacity="0.8"/>
<circle cx="651.4" cy="597.2" r="0.8" fill="#e83020" fill-opacity="0.8"/>
<circle cx="629.4" cy="591.0" r="0.7" fill="#c8d040" fill-opacity="0.8"/>
<circle cx="654.8" cy="606.0" r="0.8" fill="#40c040" fill-opacity="0.8"/>
<circle cx="634.0" cy="590.6" r="0.9" fill="#f0a030" fill-opacity="0.8"/>
<circle cx="641.8" cy="593.2" r="1.1" fill="#e83020" fill-opacity="0.8"/>
<circle cx="633.1" cy="589.3" r="0.7" fill="#e83020" fill-opacity="0.8"/>
<circle cx="653.5" cy="609.4" r="0.9" fill="#c8d040" fill-opacity="0.8"/>
<circle cx="657.6" cy="604.9" r="1.2" fill="#c8d040" fill-opacity="0.8"/>
<circle cx="631.3" cy="584.2" r="0.7" fill="#40c040" fill-opacity="0.8"/>
<circle cx="636.9" cy="593.9" r="1.5" fill="#e83020" fill-opacity="0.8"/>
<circle cx="629.6" cy="586.0" r="0.9" fill="#40c040" fill-opacity="0.8"/>
<circle cx="646.6" cy="605.4" r="1.0" fill="#f0a030" fill-opacity="0.8"/>
<circle cx="634.5" cy="587.7" r="1.2" fill="#f0a030" fill-opacity="0.8"/>
<circle cx="654.8" cy="605.7" r="1.2" fill="#e83020" fill-opacity="0.8"/>
<circle cx="650.4" cy="604.4" r="0.9" fill="#e83020" fill-opacity="0.8"/>
<circle cx="647.1" cy="608.9" r="1.2" fill="#e83020" fill-opacity="0.8"/>
<circle cx="662.8" cy="611.4" r="0.9" fill="#e83020" fill-opacity="0.8"/>
<circle cx="660.8" cy="613.3" r="1.1" fill="#e83020" fill-opacity="0.8"/>
<circle cx="656.9" cy="611.3" r="1.3" fill="#40c040" fill-opacity="0.8"/>
<circle cx="640.7" cy="599.3" r="1.2" fill="#e83020" fill-opacity="0.8"/>
<circle cx="655.5" cy="597.5" r="1.3" fill="#40c040" fill-opacity="0.8"/>
<circle cx="663.9" cy="609.0" r="1.3" fill="#f0a030" fill-opacity="0.8"/>
<circle cx="636.5" cy="597.7" r="1.3" fill="#f0a030" fill-opacity="0.8"/>
<circle cx="648.3" cy="604.3" r="1.4" fill="#e83020" fill-opacity="0.8"/>
<circle cx="649.3" cy="608.1" r="0.8" fill="#c8d040" fill-opacity="0.8"/>
<circle cx="639.2" cy="597.2" r="0.8" fill="#e83020" fill-opacity="0.8"/>
<circle cx="637.8" cy="598.9" r="0.7" fill="#e83020" fill-opacity="0.8"/>
<circle cx="644.2" cy="597.5" r="0.9" fill="#f0a030" fill-opacity="0.8"/>
<circle cx="645.2" cy="592.2" r="1.1" fill="#40c040" fill-opacity="0.8"/>
<circle cx="641.3" cy="600.6" r="1.1" fill="#40c040" fill-opacity="0.8"/>
<circle cx="664.2" cy="614.1" r="0.9" fill="#40c040" fill-opacity="0.8"/>
<circle cx="655.5" cy="616.1" r="0.7" fill="#e83020" fill-opacity="0.8"/>
<circle cx="635.4" cy="588.6" r="1.1" fill="#40c040" fill-opacity="0.8"/>
<circle cx="649.6" cy="602.6" r="1.4" fill="#c8d040" fill-opacity="0.8"/>
<circle cx="640.0" cy="600.2" r="1.5" fill="#e83020" fill-opacity="0.8"/>
<circle cx="649.3" cy="604.0" r="1.0" fill="#40c040" fill-opacity="0.8"/>
<circle cx="658.7" cy="610.1" r="1.2" fill="#f0a030" fill-opacity="0.8"/>
<circle cx="627.4" cy="587.7" r="1.0" fill="#e83020" fill-opacity="0.8"/>
<circle cx="636.9" cy="603.2" r="0.8" fill="#e83020" fill-opacity="0.8"/>
<circle cx="651.9" cy="606.4" r="1.5" fill="#40c040" fill-opacity="0.8"/>
<circle cx="636.4" cy="591.4" r="1.3" fill="#40c040" fill-opacity="0.8"/>
<circle cx="646.3" cy="604.0" r="1.0" fill="#e83020" fill-opacity="0.8"/>
<circle cx="630.6" cy="585.4" r="1.3" fill="#c8d040" fill-opacity="0.8"/>
<circle cx="636.6" cy="592.2" r="1.2" fill="#c8d040" fill-opacity="0.8"/>
<circle cx="645.1" cy="600.9" r="1.4" fill="#e83020" fill-opacity="0.8"/>
<circle cx="646.5" cy="599.6" r="0.6" fill="#f0a030" fill-opacity="0.8"/>
<circle cx="632.2" cy="591.7" r="1.3" fill="#f0a030" fill-opacity="0.8"/>
<circle cx="630.8" cy="594.9" r="0.9" fill="#f0a030" fill-opacity="0.8"/>
<circle cx="651.7" cy="610.8" r="1.1" fill="#f0a030" fill-opacity="0.8"/>
<ellipse cx="630" cy="612" rx="3" ry="3" fill="#30c030"/>
</g>
<rect x="448.4" y="621.1" width="220.6" height="21.5" fill="#000"/>
<text x="476.4" y="635.8" font-family="Liberation Serif, serif" font-size="12" font-weight="bold" text-anchor="middle" fill="#50c850">CD11b</text>
<text x="534.9" y="635.8" font-family="Liberation Serif, serif" font-size="12" font-weight="bold" text-anchor="middle" fill="#e83838">SIRPα</text>
<text x="589" y="635.8" font-family="Liberation Serif, serif" font-size="12" font-weight="bold" text-anchor="middle" fill="#4a7ee0">DAPI</text>
<text x="642.1" y="635.8" font-family="Liberation Serif, serif" font-size="12" font-weight="bold" text-anchor="middle" fill="#f0a040">Merge</text>
<clipPath id="hclip"><rect x="29.2" y="692.2" width="170.3" height="175.4"/></clipPath>
<g clip-path="url(#hclip)">
<path d="M29.0 780.6 L29.0 779.4 L29.7 779.8 L30.4 779.8 L31.1 779.4 L31.8 779.7 L32.5 779.6 L33.2 779.8 L34.0 779.8 L34.7 779.0 L35.4 778.8 L36.1 779.8 L36.8 779.3 L37.5 779.8 L38.2 778.6 L38.9 779.2 L39.6 779.6 L40.3 778.8 L41.0 779.8 L41.7 779.8 L42.4 778.3 L43.1 778.3 L43.9 779.1 L44.6 779.8 L45.3 778.8 L46.0 778.4 L46.7 778.8 L47.4 778.0 L48.1 778.3 L48.8 778.5 L49.6 778.5 L50.3 777.6 L51.0 777.4 L51.8 777.1 L52.5 777.6 L53.3 776.9 L54.0 775.7 L54.7 778.4 L55.5 777.2 L56.2 777.4 L57.0 774.1 L57.8 777.5 L58.6 775.6 L59.4 773.8 L60.2 774.2 L61.0 770.8 L61.8 764.3 L62.6 765.9 L63.4 760.5 L64.2 751.5 L65.0 752.7 L65.8 754.8 L66.7 750.1 L67.5 748.8 L68.3 743.9 L69.0 732.8 L69.8 738.6 L70.5 724.4 L71.3 727.2 L72.3 722.2 L73.3 718.1 L74.0 719.0 L74.8 704.8 L75.5 700.8 L76.3 705.2 L77.3 708.4 L78.3 710.7 L79.1 704.8 L79.9 714.7 L80.7 720.4 L81.6 730.4 L82.5 737.2 L83.4 738.2 L84.2 747.1 L84.9 752.4 L85.7 752.6 L86.4 759.0 L87.2 757.6 L87.9 761.0 L88.7 766.3 L89.4 770.8 L90.1 773.4 L90.8 771.4 L91.5 769.7 L92.3 772.4 L93.0 773.0 L93.7 777.9 L94.4 776.8 L95.1 775.9 L95.8 777.6 L96.6 778.5 L97.3 776.1 L98.0 776.4 L98.7 777.0 L99.5 778.8 L100.2 777.6 L100.9 779.1 L101.6 779.2 L102.3 779.1 L103.1 778.7 L103.8 779.8 L104.5 779.8 L105.2 779.6 L105.9 779.3 L106.6 779.8 L107.3 779.5 L108.0 779.7 L108.7 779.4 L109.4 779.8 L110.1 779.1 L110.8 779.4 L111.5 779.8 L112.2 779.8 L112.9 779.4 L113.6 779.8 L114.3 779.5 L115.0 779.8 L115.7 779.8 L116.4 779.6 L117.1 779.4 L117.8 779.1 L118.5 779.8 L119.2 779.2 L119.9 779.8 L120.7 779.8 L121.4 779.8 L122.1 779.4 L122.8 779.8 L123.5 779.8 L124.2 779.8 L124.9 779.8 L125.6 779.6 L126.3 779.6 L127.0 779.5 L127.7 779.8 L128.4 779.7 L129.1 779.5 L129.8 779.4 L130.5 779.8 L131.2 779.6 L131.9 779.8 L132.6 779.6 L133.3 779.8 L134.0 779.8 L134.7 779.3 L135.4 779.5 L136.1 779.7 L136.8 779.8 L137.5 779.8 L138.2 779.7 L138.9 779.6 L139.6 779.8 L140.3 779.8 L141.0 779.8 L141.7 779.7 L142.4 779.8 L143.1 779.8 L143.8 779.8 L144.5 779.8 L145.2 779.6 L145.9 779.8 L146.6 779.5 L147.3 779.6 L148.0 779.8 L148.7 779.6 L149.4 779.8 L150.1 779.8 L150.8 779.8 L151.5 779.8 L152.2 779.8 L153.0 779.8 L153.7 779.8 L154.4 779.8 L155.1 779.8 L155.8 779.8 L156.5 779.6 L157.2 779.8 L157.9 779.5 L158.6 779.5 L159.3 779.5 L160.0 779.8 L160.7 779.8 L161.4 779.8 L162.1 779.8 L162.8 779.8 L163.5 779.8 L164.2 779.8 L164.9 779.8 L165.6 779.8 L166.3 779.6 L167.0 779.8 L167.7 779.8 L168.4 779.8 L169.1 779.8 L169.8 779.8 L170.5 779.8 L171.2 779.8 L171.9 779.8 L172.6 779.5 L173.3 779.8 L174.0 779.6 L174.7 779.7 L175.4 779.8 L176.1 779.6 L176.8 779.8 L177.5 779.8 L178.2 779.8 L178.9 779.7 L179.6 779.8 L180.3 779.8 L181.0 779.8 L181.7 779.7 L182.4 779.8 L183.1 779.8 L183.8 779.8 L184.6 779.8 L185.3 779.8 L186.0 779.8 L186.7 779.8 L187.4 779.7 L188.1 779.8 L188.8 779.6 L189.5 779.6 L190.2 779.8 L190.9 779.8 L191.6 779.8 L192.3 779.8 L193.0 779.8 L193.7 779.7 L194.4 779.8 L195.1 779.8 L195.8 779.8 L196.5 779.8 L197.2 779.8 L197.9 779.8 L198.6 779.8 L199.3 779.8 L200.0 780.4 L200.0 780.6 Z" fill="#9eeaf6" fill-opacity="0.85"/><path d="M29.0 779.4 L29.7 779.8 L30.4 779.8 L31.1 779.4 L31.8 779.7 L32.5 779.6 L33.2 779.8 L34.0 779.8 L34.7 779.0 L35.4 778.8 L36.1 779.8 L36.8 779.3 L37.5 779.8 L38.2 778.6 L38.9 779.2 L39.6 779.6 L40.3 778.8 L41.0 779.8 L41.7 779.8 L42.4 778.3 L43.1 778.3 L43.9 779.1 L44.6 779.8 L45.3 778.8 L46.0 778.4 L46.7 778.8 L47.4 778.0 L48.1 778.3 L48.8 778.5 L49.6 778.5 L50.3 777.6 L51.0 777.4 L51.8 777.1 L52.5 777.6 L53.3 776.9 L54.0 775.7 L54.7 778.4 L55.5 777.2 L56.2 777.4 L57.0 774.1 L57.8 777.5 L58.6 775.6 L59.4 773.8 L60.2 774.2 L61.0 770.8 L61.8 764.3 L62.6 765.9 L63.4 760.5 L64.2 751.5 L65.0 752.7 L65.8 754.8 L66.7 750.1 L67.5 748.8 L68.3 743.9 L69.0 732.8 L69.8 738.6 L70.5 724.4 L71.3 727.2 L72.3 722.2 L73.3 718.1 L74.0 719.0 L74.8 704.8 L75.5 700.8 L76.3 705.2 L77.3 708.4 L78.3 710.7 L79.1 704.8 L79.9 714.7 L80.7 720.4 L81.6 730.4 L82.5 737.2 L83.4 738.2 L84.2 747.1 L84.9 752.4 L85.7 752.6 L86.4 759.0 L87.2 757.6 L87.9 761.0 L88.7 766.3 L89.4 770.8 L90.1 773.4 L90.8 771.4 L91.5 769.7 L92.3 772.4 L93.0 773.0 L93.7 777.9 L94.4 776.8 L95.1 775.9 L95.8 777.6 L96.6 778.5 L97.3 776.1 L98.0 776.4 L98.7 777.0 L99.5 778.8 L100.2 777.6 L100.9 779.1 L101.6 779.2 L102.3 779.1 L103.1 778.7 L103.8 779.8 L104.5 779.8 L105.2 779.6 L105.9 779.3 L106.6 779.8 L107.3 779.5 L108.0 779.7 L108.7 779.4 L109.4 779.8 L110.1 779.1 L110.8 779.4 L111.5 779.8 L112.2 779.8 L112.9 779.4 L113.6 779.8 L114.3 779.5 L115.0 779.8 L115.7 779.8 L116.4 779.6 L117.1 779.4 L117.8 779.1 L118.5 779.8 L119.2 779.2 L119.9 779.8 L120.7 779.8 L121.4 779.8 L122.1 779.4 L122.8 779.8 L123.5 779.8 L124.2 779.8 L124.9 779.8 L125.6 779.6 L126.3 779.6 L127.0 779.5 L127.7 779.8 L128.4 779.7 L129.1 779.5 L129.8 779.4 L130.5 779.8 L131.2 779.6 L131.9 779.8 L132.6 779.6 L133.3 779.8 L134.0 779.8 L134.7 779.3 L135.4 779.5 L136.1 779.7 L136.8 779.8 L137.5 779.8 L138.2 779.7 L138.9 779.6 L139.6 779.8 L140.3 779.8 L141.0 779.8 L141.7 779.7 L142.4 779.8 L143.1 779.8 L143.8 779.8 L144.5 779.8 L145.2 779.6 L145.9 779.8 L146.6 779.5 L147.3 779.6 L148.0 779.8 L148.7 779.6 L149.4 779.8 L150.1 779.8 L150.8 779.8 L151.5 779.8 L152.2 779.8 L153.0 779.8 L153.7 779.8 L154.4 779.8 L155.1 779.8 L155.8 779.8 L156.5 779.6 L157.2 779.8 L157.9 779.5 L158.6 779.5 L159.3 779.5 L160.0 779.8 L160.7 779.8 L161.4 779.8 L162.1 779.8 L162.8 779.8 L163.5 779.8 L164.2 779.8 L164.9 779.8 L165.6 779.8 L166.3 779.6 L167.0 779.8 L167.7 779.8 L168.4 779.8 L169.1 779.8 L169.8 779.8 L170.5 779.8 L171.2 779.8 L171.9 779.8 L172.6 779.5 L173.3 779.8 L174.0 779.6 L174.7 779.7 L175.4 779.8 L176.1 779.6 L176.8 779.8 L177.5 779.8 L178.2 779.8 L178.9 779.7 L179.6 779.8 L180.3 779.8 L181.0 779.8 L181.7 779.7 L182.4 779.8 L183.1 779.8 L183.8 779.8 L184.6 779.8 L185.3 779.8 L186.0 779.8 L186.7 779.8 L187.4 779.7 L188.1 779.8 L188.8 779.6 L189.5 779.6 L190.2 779.8 L190.9 779.8 L191.6 779.8 L192.3 779.8 L193.0 779.8 L193.7 779.7 L194.4 779.8 L195.1 779.8 L195.8 779.8 L196.5 779.8 L197.2 779.8 L197.9 779.8 L198.6 779.8 L199.3 779.8 L200.0 780.4" fill="none" stroke="#3fd0f0" stroke-width="0.9"/>
<path d="M29.0 824.0 L29.0 823.2 L29.7 823.2 L30.4 822.5 L31.1 822.5 L31.8 823.2 L32.5 823.2 L33.2 823.2 L33.9 822.6 L34.6 823.1 L35.3 823.0 L36.0 823.0 L36.7 822.2 L37.4 822.6 L38.1 822.5 L38.8 823.1 L39.5 823.2 L40.2 823.2 L41.0 822.7 L41.7 822.4 L42.4 822.0 L43.1 821.5 L43.8 821.4 L44.5 822.3 L45.2 821.9 L45.9 822.0 L46.6 823.2 L47.3 822.3 L48.0 822.3 L48.7 821.5 L49.4 821.0 L50.1 821.7 L50.8 821.1 L51.5 822.0 L52.2 823.2 L53.0 822.0 L53.7 819.5 L54.5 822.0 L55.2 821.2 L56.0 820.4 L56.7 821.1 L57.5 819.7 L58.2 818.5 L59.0 819.0 L59.7 816.6 L60.5 813.9 L61.2 816.1 L62.0 812.3 L62.7 813.5 L63.5 809.5 L64.2 809.7 L65.0 801.1 L65.8 800.4 L66.7 799.0 L67.5 797.1 L68.3 798.1 L69.3 788.1 L70.3 778.6 L71.0 777.6 L71.8 770.0 L72.5 775.6 L73.3 769.2 L74.0 761.9 L74.8 748.1 L75.5 750.0 L76.3 747.4 L77.3 756.0 L78.3 756.4 L79.1 756.4 L79.9 756.3 L80.7 756.4 L81.6 755.2 L82.4 765.0 L83.4 773.2 L84.4 783.9 L85.2 792.8 L86.0 791.5 L86.8 797.4 L87.6 802.9 L88.4 806.1 L89.2 808.3 L90.0 806.9 L90.8 809.5 L91.6 816.8 L92.4 816.3 L93.2 815.2 L93.9 821.4 L94.7 817.5 L95.5 820.1 L96.2 819.8 L97.0 818.9 L97.7 821.6 L98.5 821.0 L99.2 820.8 L99.9 820.8 L100.6 821.1 L101.3 821.0 L102.0 822.4 L102.7 822.1 L103.4 823.2 L104.1 823.2 L104.8 823.2 L105.5 821.4 L106.2 822.0 L106.9 821.5 L107.6 822.4 L108.3 822.5 L109.0 822.9 L109.7 822.7 L110.4 821.6 L111.1 822.0 L111.8 822.3 L112.5 821.1 L113.2 821.2 L113.9 822.1 L114.6 821.4 L115.3 822.8 L116.0 821.7 L116.7 821.4 L117.4 821.6 L118.1 821.7 L118.8 821.7 L119.5 822.4 L120.2 822.3 L120.9 822.0 L121.6 822.7 L122.3 821.8 L123.0 823.2 L123.7 823.2 L124.4 822.9 L125.1 822.3 L125.8 822.5 L126.5 822.7 L127.2 821.6 L127.9 822.4 L128.6 822.6 L129.3 821.9 L130.0 821.8 L130.7 823.2 L131.4 822.3 L132.1 822.6 L132.8 823.2 L133.5 822.8 L134.2 822.2 L134.9 823.2 L135.6 822.4 L136.3 821.8 L137.0 823.0 L137.7 822.0 L138.4 822.4 L139.1 823.2 L139.8 823.0 L140.5 821.9 L141.2 822.7 L141.9 822.6 L142.6 822.8 L143.3 822.3 L144.0 823.0 L144.7 822.1 L145.4 822.5 L146.1 822.7 L146.8 823.2 L147.5 822.2 L148.2 823.2 L148.9 822.4 L149.6 823.0 L150.3 822.8 L151.0 822.9 L151.7 823.2 L152.4 822.8 L153.1 822.4 L153.8 822.4 L154.5 822.4 L155.2 823.2 L155.9 823.2 L156.6 823.2 L157.3 823.2 L158.0 822.4 L158.7 823.2 L159.4 823.2 L160.1 823.2 L160.8 823.1 L161.5 823.0 L162.2 823.1 L162.9 823.2 L163.6 822.9 L164.3 823.2 L165.0 823.2 L165.7 823.2 L166.4 823.2 L167.1 823.2 L167.8 823.2 L168.5 823.0 L169.2 822.9 L169.9 823.2 L170.6 823.0 L171.3 823.2 L172.0 823.2 L172.7 823.2 L173.4 823.2 L174.1 823.2 L174.8 822.8 L175.5 823.2 L176.2 823.2 L176.9 822.9 L177.6 823.2 L178.3 822.8 L179.0 822.9 L179.7 823.2 L180.4 823.2 L181.1 823.2 L181.8 823.0 L182.5 823.2 L183.2 823.1 L183.9 823.2 L184.6 823.2 L185.3 823.2 L186.0 823.2 L186.7 823.0 L187.4 823.2 L188.1 823.2 L188.8 823.2 L189.5 823.0 L190.2 823.2 L190.9 823.2 L191.6 823.2 L192.3 823.2 L193.0 823.2 L193.7 823.2 L194.4 823.2 L195.1 823.2 L195.8 823.2 L196.5 823.2 L197.2 823.2 L197.9 823.2 L198.6 823.0 L199.3 823.2 L200.0 823.9 L200.0 824.0 Z" fill="#e87880" fill-opacity="0.60"/><path d="M29.0 823.2 L29.7 823.2 L30.4 822.5 L31.1 822.5 L31.8 823.2 L32.5 823.2 L33.2 823.2 L33.9 822.6 L34.6 823.1 L35.3 823.0 L36.0 823.0 L36.7 822.2 L37.4 822.6 L38.1 822.5 L38.8 823.1 L39.5 823.2 L40.2 823.2 L41.0 822.7 L41.7 822.4 L42.4 822.0 L43.1 821.5 L43.8 821.4 L44.5 822.3 L45.2 821.9 L45.9 822.0 L46.6 823.2 L47.3 822.3 L48.0 822.3 L48.7 821.5 L49.4 821.0 L50.1 821.7 L50.8 821.1 L51.5 822.0 L52.2 823.2 L53.0 822.0 L53.7 819.5 L54.5 822.0 L55.2 821.2 L56.0 820.4 L56.7 821.1 L57.5 819.7 L58.2 818.5 L59.0 819.0 L59.7 816.6 L60.5 813.9 L61.2 816.1 L62.0 812.3 L62.7 813.5 L63.5 809.5 L64.2 809.7 L65.0 801.1 L65.8 800.4 L66.7 799.0 L67.5 797.1 L68.3 798.1 L69.3 788.1 L70.3 778.6 L71.0 777.6 L71.8 770.0 L72.5 775.6 L73.3 769.2 L74.0 761.9 L74.8 748.1 L75.5 750.0 L76.3 747.4 L77.3 756.0 L78.3 756.4 L79.1 756.4 L79.9 756.3 L80.7 756.4 L81.6 755.2 L82.4 765.0 L83.4 773.2 L84.4 783.9 L85.2 792.8 L86.0 791.5 L86.8 797.4 L87.6 802.9 L88.4 806.1 L89.2 808.3 L90.0 806.9 L90.8 809.5 L91.6 816.8 L92.4 816.3 L93.2 815.2 L93.9 821.4 L94.7 817.5 L95.5 820.1 L96.2 819.8 L97.0 818.9 L97.7 821.6 L98.5 821.0 L99.2 820.8 L99.9 820.8 L100.6 821.1 L101.3 821.0 L102.0 822.4 L102.7 822.1 L103.4 823.2 L104.1 823.2 L104.8 823.2 L105.5 821.4 L106.2 822.0 L106.9 821.5 L107.6 822.4 L108.3 822.5 L109.0 822.9 L109.7 822.7 L110.4 821.6 L111.1 822.0 L111.8 822.3 L112.5 821.1 L113.2 821.2 L113.9 822.1 L114.6 821.4 L115.3 822.8 L116.0 821.7 L116.7 821.4 L117.4 821.6 L118.1 821.7 L118.8 821.7 L119.5 822.4 L120.2 822.3 L120.9 822.0 L121.6 822.7 L122.3 821.8 L123.0 823.2 L123.7 823.2 L124.4 822.9 L125.1 822.3 L125.8 822.5 L126.5 822.7 L127.2 821.6 L127.9 822.4 L128.6 822.6 L129.3 821.9 L130.0 821.8 L130.7 823.2 L131.4 822.3 L132.1 822.6 L132.8 823.2 L133.5 822.8 L134.2 822.2 L134.9 823.2 L135.6 822.4 L136.3 821.8 L137.0 823.0 L137.7 822.0 L138.4 822.4 L139.1 823.2 L139.8 823.0 L140.5 821.9 L141.2 822.7 L141.9 822.6 L142.6 822.8 L143.3 822.3 L144.0 823.0 L144.7 822.1 L145.4 822.5 L146.1 822.7 L146.8 823.2 L147.5 822.2 L148.2 823.2 L148.9 822.4 L149.6 823.0 L150.3 822.8 L151.0 822.9 L151.7 823.2 L152.4 822.8 L153.1 822.4 L153.8 822.4 L154.5 822.4 L155.2 823.2 L155.9 823.2 L156.6 823.2 L157.3 823.2 L158.0 822.4 L158.7 823.2 L159.4 823.2 L160.1 823.2 L160.8 823.1 L161.5 823.0 L162.2 823.1 L162.9 823.2 L163.6 822.9 L164.3 823.2 L165.0 823.2 L165.7 823.2 L166.4 823.2 L167.1 823.2 L167.8 823.2 L168.5 823.0 L169.2 822.9 L169.9 823.2 L170.6 823.0 L171.3 823.2 L172.0 823.2 L172.7 823.2 L173.4 823.2 L174.1 823.2 L174.8 822.8 L175.5 823.2 L176.2 823.2 L176.9 822.9 L177.6 823.2 L178.3 822.8 L179.0 822.9 L179.7 823.2 L180.4 823.2 L181.1 823.2 L181.8 823.0 L182.5 823.2 L183.2 823.1 L183.9 823.2 L184.6 823.2 L185.3 823.2 L186.0 823.2 L186.7 823.0 L187.4 823.2 L188.1 823.2 L188.8 823.2 L189.5 823.0 L190.2 823.2 L190.9 823.2 L191.6 823.2 L192.3 823.2 L193.0 823.2 L193.7 823.2 L194.4 823.2 L195.1 823.2 L195.8 823.2 L196.5 823.2 L197.2 823.2 L197.9 823.2 L198.6 823.0 L199.3 823.2 L200.0 823.9" fill="none" stroke="#f03030" stroke-width="0.9"/>
<path d="M29.0 868.0 L29.0 866.8 L29.7 867.0 L30.4 866.7 L31.1 866.9 L31.8 866.9 L32.5 866.2 L33.2 866.0 L34.0 867.0 L34.7 866.2 L35.4 866.1 L36.1 867.0 L36.8 866.3 L37.5 866.8 L38.2 866.1 L38.9 866.3 L39.6 865.5 L40.3 866.2 L41.0 866.6 L41.7 865.9 L42.4 866.3 L43.1 866.1 L43.9 864.8 L44.6 866.1 L45.3 865.7 L46.0 865.1 L46.7 864.4 L47.4 866.2 L48.1 865.2 L48.8 865.4 L49.5 865.4 L50.3 864.4 L51.0 864.8 L51.7 862.1 L52.4 863.5 L53.2 861.2 L53.9 863.4 L54.6 857.8 L55.3 862.7 L56.0 859.4 L56.8 857.3 L57.5 858.7 L58.2 858.8 L59.0 858.9 L59.7 855.2 L60.5 857.6 L61.2 854.3 L62.0 851.2 L62.7 852.3 L63.5 853.2 L64.2 847.6 L65.0 847.5 L65.8 849.4 L66.7 844.0 L67.5 842.8 L68.3 843.4 L69.1 845.0 L69.9 842.5 L70.7 837.2 L71.5 834.8 L72.3 826.0 L73.1 827.8 L73.9 823.8 L74.7 820.7 L75.5 817.0 L76.3 813.0 L77.1 809.7 L77.9 805.2 L78.7 807.2 L79.5 797.4 L80.3 792.4 L81.0 792.0 L81.8 797.8 L82.5 796.5 L83.2 797.6 L83.9 797.4 L84.7 794.3 L85.4 791.4 L86.2 787.9 L86.9 786.8 L87.7 795.3 L88.4 797.9 L89.2 801.8 L90.0 804.7 L90.8 802.4 L91.6 813.1 L92.4 813.3 L93.2 819.6 L94.0 822.1 L94.9 822.6 L95.7 832.8 L96.5 838.8 L97.3 841.2 L98.1 841.7 L98.9 843.1 L99.7 848.5 L100.5 854.6 L101.3 855.8 L102.1 857.2 L102.9 858.1 L103.7 854.9 L104.5 859.7 L105.2 857.4 L106.0 855.5 L106.7 856.9 L107.4 855.6 L108.2 859.7 L108.9 861.1 L109.7 858.3 L110.4 856.2 L111.1 859.4 L111.9 862.0 L112.6 857.5 L113.3 859.1 L114.1 857.2 L114.8 859.3 L115.6 860.7 L116.3 858.8 L117.1 859.2 L117.8 855.7 L118.6 856.3 L119.3 858.6 L120.1 854.9 L120.8 860.3 L121.6 855.2 L122.3 856.3 L123.1 859.0 L123.8 857.1 L124.6 856.4 L125.4 860.3 L126.1 856.9 L126.9 860.8 L127.6 861.3 L128.4 860.3 L129.2 862.5 L129.9 861.5 L130.7 863.3 L131.5 862.8 L132.3 862.6 L133.1 864.3 L133.9 865.3 L134.7 864.3 L135.4 865.7 L136.2 866.2 L136.9 867.0 L137.7 867.0 L138.4 867.0 L139.1 867.0 L139.8 867.0 L140.5 867.0 L141.2 867.0 L141.9 867.0 L142.6 867.0 L143.3 867.0 L144.0 867.0 L144.7 867.0 L145.4 867.0 L146.1 867.0 L146.8 867.0 L147.5 867.0 L148.2 867.0 L148.9 866.9 L149.6 867.0 L150.3 867.0 L151.0 867.0 L151.7 867.0 L152.4 867.0 L153.1 867.0 L153.8 867.0 L154.5 867.0 L155.2 867.0 L155.9 867.0 L156.6 867.0 L157.3 867.0 L158.0 867.0 L158.7 867.0 L159.4 867.0 L160.1 867.0 L160.8 867.0 L161.5 867.0 L162.2 867.0 L162.9 867.0 L163.6 867.0 L164.3 867.0 L165.0 867.0 L165.7 867.0 L166.4 867.0 L167.1 867.0 L167.8 867.0 L168.5 867.0 L169.2 867.0 L169.9 867.0 L170.6 867.0 L171.3 867.0 L172.0 867.0 L172.7 867.0 L173.4 867.0 L174.1 867.0 L174.8 867.0 L175.5 867.0 L176.2 867.0 L176.9 867.0 L177.6 867.0 L178.3 867.0 L179.0 867.0 L179.7 867.0 L180.4 867.0 L181.1 867.0 L181.8 867.0 L182.5 867.0 L183.2 867.0 L183.9 867.0 L184.6 867.0 L185.3 867.0 L186.0 867.0 L186.7 867.0 L187.4 867.0 L188.1 867.0 L188.8 867.0 L189.5 867.0 L190.2 867.0 L190.9 867.0 L191.6 867.0 L192.3 867.0 L193.0 867.0 L193.7 867.0 L194.4 867.0 L195.1 867.0 L195.8 867.0 L196.5 867.0 L197.2 867.0 L197.9 867.0 L198.6 867.0 L199.3 867.0 L200.0 868.0 L200.0 868.0 Z" fill="#f2c080" fill-opacity="0.65"/><path d="M29.0 866.8 L29.7 867.0 L30.4 866.7 L31.1 866.9 L31.8 866.9 L32.5 866.2 L33.2 866.0 L34.0 867.0 L34.7 866.2 L35.4 866.1 L36.1 867.0 L36.8 866.3 L37.5 866.8 L38.2 866.1 L38.9 866.3 L39.6 865.5 L40.3 866.2 L41.0 866.6 L41.7 865.9 L42.4 866.3 L43.1 866.1 L43.9 864.8 L44.6 866.1 L45.3 865.7 L46.0 865.1 L46.7 864.4 L47.4 866.2 L48.1 865.2 L48.8 865.4 L49.5 865.4 L50.3 864.4 L51.0 864.8 L51.7 862.1 L52.4 863.5 L53.2 861.2 L53.9 863.4 L54.6 857.8 L55.3 862.7 L56.0 859.4 L56.8 857.3 L57.5 858.7 L58.2 858.8 L59.0 858.9 L59.7 855.2 L60.5 857.6 L61.2 854.3 L62.0 851.2 L62.7 852.3 L63.5 853.2 L64.2 847.6 L65.0 847.5 L65.8 849.4 L66.7 844.0 L67.5 842.8 L68.3 843.4 L69.1 845.0 L69.9 842.5 L70.7 837.2 L71.5 834.8 L72.3 826.0 L73.1 827.8 L73.9 823.8 L74.7 820.7 L75.5 817.0 L76.3 813.0 L77.1 809.7 L77.9 805.2 L78.7 807.2 L79.5 797.4 L80.3 792.4 L81.0 792.0 L81.8 797.8 L82.5 796.5 L83.2 797.6 L83.9 797.4 L84.7 794.3 L85.4 791.4 L86.2 787.9 L86.9 786.8 L87.7 795.3 L88.4 797.9 L89.2 801.8 L90.0 804.7 L90.8 802.4 L91.6 813.1 L92.4 813.3 L93.2 819.6 L94.0 822.1 L94.9 822.6 L95.7 832.8 L96.5 838.8 L97.3 841.2 L98.1 841.7 L98.9 843.1 L99.7 848.5 L100.5 854.6 L101.3 855.8 L102.1 857.2 L102.9 858.1 L103.7 854.9 L104.5 859.7 L105.2 857.4 L106.0 855.5 L106.7 856.9 L107.4 855.6 L108.2 859.7 L108.9 861.1 L109.7 858.3 L110.4 856.2 L111.1 859.4 L111.9 862.0 L112.6 857.5 L113.3 859.1 L114.1 857.2 L114.8 859.3 L115.6 860.7 L116.3 858.8 L117.1 859.2 L117.8 855.7 L118.6 856.3 L119.3 858.6 L120.1 854.9 L120.8 860.3 L121.6 855.2 L122.3 856.3 L123.1 859.0 L123.8 857.1 L124.6 856.4 L125.4 860.3 L126.1 856.9 L126.9 860.8 L127.6 861.3 L128.4 860.3 L129.2 862.5 L129.9 861.5 L130.7 863.3 L131.5 862.8 L132.3 862.6 L133.1 864.3 L133.9 865.3 L134.7 864.3 L135.4 865.7 L136.2 866.2 L136.9 867.0 L137.7 867.0 L138.4 867.0 L139.1 867.0 L139.8 867.0 L140.5 867.0 L141.2 867.0 L141.9 867.0 L142.6 867.0 L143.3 867.0 L144.0 867.0 L144.7 867.0 L145.4 867.0 L146.1 867.0 L146.8 867.0 L147.5 867.0 L148.2 867.0 L148.9 866.9 L149.6 867.0 L150.3 867.0 L151.0 867.0 L151.7 867.0 L152.4 867.0 L153.1 867.0 L153.8 867.0 L154.5 867.0 L155.2 867.0 L155.9 867.0 L156.6 867.0 L157.3 867.0 L158.0 867.0 L158.7 867.0 L159.4 867.0 L160.1 867.0 L160.8 867.0 L161.5 867.0 L162.2 867.0 L162.9 867.0 L163.6 867.0 L164.3 867.0 L165.0 867.0 L165.7 867.0 L166.4 867.0 L167.1 867.0 L167.8 867.0 L168.5 867.0 L169.2 867.0 L169.9 867.0 L170.6 867.0 L171.3 867.0 L172.0 867.0 L172.7 867.0 L173.4 867.0 L174.1 867.0 L174.8 867.0 L175.5 867.0 L176.2 867.0 L176.9 867.0 L177.6 867.0 L178.3 867.0 L179.0 867.0 L179.7 867.0 L180.4 867.0 L181.1 867.0 L181.8 867.0 L182.5 867.0 L183.2 867.0 L183.9 867.0 L184.6 867.0 L185.3 867.0 L186.0 867.0 L186.7 867.0 L187.4 867.0 L188.1 867.0 L188.8 867.0 L189.5 867.0 L190.2 867.0 L190.9 867.0 L191.6 867.0 L192.3 867.0 L193.0 867.0 L193.7 867.0 L194.4 867.0 L195.1 867.0 L195.8 867.0 L196.5 867.0 L197.2 867.0 L197.9 867.0 L198.6 867.0 L199.3 867.0 L200.0 868.0" fill="none" stroke="#e8922a" stroke-width="0.9"/>
</g>
<rect x="29.2" y="692.2" width="170.3" height="175.4" fill="none" stroke="#111" stroke-width="1.1"/>
<line x1="91" y1="692.5" x2="91" y2="867.5" stroke="#e04545" stroke-width="1.6" stroke-dasharray="6 3.2"/>
<text x="32.40" y="704.00" font-family="'Liberation Serif', serif" font-size="11.20" font-weight="bold" text-anchor="start" fill="#000">Liver</text>
<text x="32.40" y="793.60" font-family="'Liberation Serif', serif" font-size="11.20" font-weight="bold" text-anchor="start" fill="#000">Para-tumor</text>
<text x="32.40" y="839.00" font-family="'Liberation Serif', serif" font-size="11.20" font-weight="bold" text-anchor="start" fill="#000">Tumor</text>
<text x="193.80" y="705.00" font-family="'Liberation Serif', serif" font-size="11.20" font-weight="bold" text-anchor="end" fill="#e03030">9%</text>
<text x="193.80" y="793.00" font-family="'Liberation Serif', serif" font-size="11.20" font-weight="bold" text-anchor="end" fill="#e03030">6%</text>
<text x="194.80" y="836.70" font-family="'Liberation Serif', serif" font-size="10.80" font-weight="bold" text-anchor="end" fill="#e03030">37%</text>
<line x1="15.3" y1="866.3" x2="15.3" y2="812" stroke="#000" stroke-width="1.2"/>
<path d="M15.3 806 L19.4 821.3 L15.3 818 L11.2 821.3 Z" fill="#000"/>
<text x="18.40" y="784.00" font-family="'Liberation Serif', serif" font-size="11.20" text-anchor="middle" fill="#000" transform="rotate(-90 18.40 784.00)">Counts</text>
<line x1="27.6" y1="885" x2="80" y2="885" stroke="#000" stroke-width="1.2"/>
<path d="M86.9 885 L71.6 889.6 L75 885 L71.6 880.4 Z" fill="#000"/>
<text x="93.60" y="889.20" font-family="'Liberation Serif', serif" font-size="11.50" text-anchor="start" fill="#000">SIRPα</text>
<line x1="269.4" y1="703.8" x2="269.4" y2="856" stroke="#000" stroke-width="1.6"/>
<line x1="268.6" y1="855.3" x2="447.7" y2="855.3" stroke="#000" stroke-width="1.6"/>
<line x1="264.2" y1="855.2" x2="269.4" y2="855.2" stroke="#000" stroke-width="1.5"/>
<text x="258.70" y="859.60" font-family="'Liberation Serif', serif" font-size="12.80" font-weight="bold" text-anchor="end" fill="#000">0</text>
<line x1="264.2" y1="805.0" x2="269.4" y2="805.0" stroke="#000" stroke-width="1.5"/>
<text x="258.70" y="809.44" font-family="'Liberation Serif', serif" font-size="12.80" font-weight="bold" text-anchor="end" fill="#000">20</text>
<line x1="264.2" y1="754.9" x2="269.4" y2="754.9" stroke="#000" stroke-width="1.5"/>
<text x="258.70" y="759.28" font-family="'Liberation Serif', serif" font-size="12.80" font-weight="bold" text-anchor="end" fill="#000">40</text>
<line x1="264.2" y1="704.7" x2="269.4" y2="704.7" stroke="#000" stroke-width="1.5"/>
<text x="258.70" y="709.12" font-family="'Liberation Serif', serif" font-size="12.80" font-weight="bold" text-anchor="end" fill="#000">60</text>
<line x1="304.8" y1="855.3" x2="304.8" y2="861.4" stroke="#000" stroke-width="1.5"/>
<line x1="358.4" y1="855.3" x2="358.4" y2="861.4" stroke="#000" stroke-width="1.5"/>
<line x1="411.6" y1="855.3" x2="411.6" y2="861.4" stroke="#000" stroke-width="1.5"/>
<text x="304.00" y="878.90" font-family="'Liberation Serif', serif" font-size="11.40" text-anchor="middle" fill="#000">Liver</text>
<text x="355.70" y="878.90" font-family="'Liberation Serif', serif" font-size="11.40" text-anchor="middle" fill="#000">Para-tumor</text>
<text x="413.20" y="878.90" font-family="'Liberation Serif', serif" font-size="11.40" text-anchor="middle" fill="#000">Tumor</text>
<text x="238.2" y="776.2" font-family="Liberation Serif, serif" font-size="13.3" text-anchor="middle" transform="rotate(-90 238.2 776.2)">SIRPα<tspan font-size="7.9" dy="-4.8">+</tspan><tspan dy="4.8"> /CD45</tspan><tspan font-size="7.9" dy="-4.8">+</tspan><tspan dy="4.8"> cells (%)</tspan></text>
<line x1="299" y1="776.8" x2="360" y2="776.8" stroke="#222" stroke-width="1.4"/>
<text x="330.00" y="777.00" font-family="'Liberation Serif', serif" font-size="13.50" text-anchor="middle" fill="#222">***</text>
<line x1="354.4" y1="716.6" x2="414.8" y2="716.6" stroke="#222" stroke-width="1.4"/>
<text x="383.80" y="717.00" font-family="'Liberation Serif', serif" font-size="13.50" text-anchor="middle" fill="#222">***</text>
<polyline points="304.8,839.7 358.4,814.3 411.6,776.7" fill="none" stroke="#d8d8d8" stroke-width="1.4"/>
<polyline points="304.8,834.6 358.4,813.3 411.6,774.9" fill="none" stroke="#000000" stroke-width="1.4"/>
<polyline points="304.8,837.6 358.4,803.0 411.6,749.4" fill="none" stroke="#606060" stroke-width="1.4"/>
<polyline points="304.8,838.9 358.4,812.3 411.6,772.9" fill="none" stroke="#c02060" stroke-width="1.4"/>
<polyline points="304.8,840.2 358.4,814.6 411.6,788.7" fill="none" stroke="#50a8b8" stroke-width="1.4"/>
<polyline points="304.8,840.2 358.4,817.8 411.6,727.8" fill="none" stroke="#6aa8f8" stroke-width="1.4"/>
<polyline points="304.8,841.4 358.4,832.1 411.6,740.3" fill="none" stroke="#b07828" stroke-width="1.4"/>
<polyline points="304.8,842.7 358.4,832.6 411.6,763.2" fill="none" stroke="#f08088" stroke-width="1.4"/>
<polyline points="304.8,837.6 358.4,827.6 411.6,783.2" fill="none" stroke="#40d040" stroke-width="1.4"/>
<polyline points="304.8,840.2 358.4,834.1 411.6,792.0" fill="none" stroke="#a09020" stroke-width="1.4"/>
<polyline points="304.8,841.4 358.4,831.6 411.6,799.0" fill="none" stroke="#f06818" stroke-width="1.4"/>
<polyline points="304.8,840.2 358.4,825.6 411.6,806.8" fill="none" stroke="#c838f0" stroke-width="1.4"/>
<circle cx="304.8" cy="839.7" r="2.6" fill="#d8d8d8"/>
<circle cx="358.4" cy="814.3" r="2.6" fill="#d8d8d8"/>
<circle cx="411.6" cy="776.7" r="2.6" fill="#d8d8d8"/>
<circle cx="304.8" cy="834.6" r="2.6" fill="#000000"/>
<circle cx="358.4" cy="813.3" r="2.6" fill="#000000"/>
<circle cx="411.6" cy="774.9" r="2.6" fill="#000000"/>
<circle cx="304.8" cy="837.6" r="2.6" fill="#606060"/>
<circle cx="358.4" cy="803.0" r="2.6" fill="#606060"/>
<circle cx="411.6" cy="749.4" r="2.6" fill="#606060"/>
<circle cx="304.8" cy="838.9" r="2.6" fill="#c02060"/>
<circle cx="358.4" cy="812.3" r="2.6" fill="#c02060"/>
<circle cx="411.6" cy="772.9" r="2.6" fill="#c02060"/>
<circle cx="304.8" cy="840.2" r="2.6" fill="#50a8b8"/>
<circle cx="358.4" cy="814.6" r="2.6" fill="#50a8b8"/>
<circle cx="411.6" cy="788.7" r="2.6" fill="#50a8b8"/>
<circle cx="304.8" cy="840.2" r="2.6" fill="#6aa8f8"/>
<circle cx="358.4" cy="817.8" r="2.6" fill="#6aa8f8"/>
<circle cx="411.6" cy="727.8" r="2.6" fill="#6aa8f8"/>
<circle cx="304.8" cy="841.4" r="2.6" fill="#b07828"/>
<circle cx="358.4" cy="832.1" r="2.6" fill="#b07828"/>
<circle cx="411.6" cy="740.3" r="2.6" fill="#b07828"/>
<circle cx="304.8" cy="842.7" r="2.6" fill="#f08088"/>
<circle cx="358.4" cy="832.6" r="2.6" fill="#f08088"/>
<circle cx="411.6" cy="763.2" r="2.6" fill="#f08088"/>
<circle cx="304.8" cy="837.6" r="2.6" fill="#40d040"/>
<circle cx="358.4" cy="827.6" r="2.6" fill="#40d040"/>
<circle cx="411.6" cy="783.2" r="2.6" fill="#40d040"/>
<circle cx="304.8" cy="840.2" r="2.6" fill="#a09020"/>
<circle cx="358.4" cy="834.1" r="2.6" fill="#a09020"/>
<circle cx="411.6" cy="792.0" r="2.6" fill="#a09020"/>
<circle cx="304.8" cy="841.4" r="2.6" fill="#f06818"/>
<circle cx="358.4" cy="831.6" r="2.6" fill="#f06818"/>
<circle cx="411.6" cy="799.0" r="2.6" fill="#f06818"/>
<circle cx="304.8" cy="840.2" r="2.6" fill="#c838f0"/>
<circle cx="358.4" cy="825.6" r="2.6" fill="#c838f0"/>
<circle cx="411.6" cy="806.8" r="2.6" fill="#c838f0"/>
<rect x="493.5" y="684.4" width="184.4" height="175.8" fill="none" stroke="#555" stroke-width="0.9"/>
<line x1="488.5" y1="852.2" x2="493.5" y2="852.2" stroke="#555" stroke-width="0.8"/>
<text x="482.50" y="852.20" font-family="'Liberation Sans', sans-serif" font-size="7.30" text-anchor="middle" fill="#222" transform="rotate(-90 482.50 852.20)">0.0</text>
<line x1="488.5" y1="820.0" x2="493.5" y2="820.0" stroke="#555" stroke-width="0.8"/>
<text x="482.50" y="820.00" font-family="'Liberation Sans', sans-serif" font-size="7.30" text-anchor="middle" fill="#222" transform="rotate(-90 482.50 820.00)">0.2</text>
<line x1="488.5" y1="787.8" x2="493.5" y2="787.8" stroke="#555" stroke-width="0.8"/>
<text x="482.50" y="787.80" font-family="'Liberation Sans', sans-serif" font-size="7.30" text-anchor="middle" fill="#222" transform="rotate(-90 482.50 787.80)">0.4</text>
<line x1="488.5" y1="755.6" x2="493.5" y2="755.6" stroke="#555" stroke-width="0.8"/>
<text x="482.50" y="755.60" font-family="'Liberation Sans', sans-serif" font-size="7.30" text-anchor="middle" fill="#222" transform="rotate(-90 482.50 755.60)">0.6</text>
<line x1="488.5" y1="723.4" x2="493.5" y2="723.4" stroke="#555" stroke-width="0.8"/>
<text x="482.50" y="723.40" font-family="'Liberation Sans', sans-serif" font-size="7.30" text-anchor="middle" fill="#222" transform="rotate(-90 482.50 723.40)">0.8</text>
<line x1="488.5" y1="691.2" x2="493.5" y2="691.2" stroke="#555" stroke-width="0.8"/>
<text x="482.50" y="691.20" font-family="'Liberation Sans', sans-serif" font-size="7.30" text-anchor="middle" fill="#222" transform="rotate(-90 482.50 691.20)">1.0</text>
<line x1="493.5" y1="860.2" x2="493.5" y2="863.5" stroke="#555" stroke-width="0.8"/>
<text x="493.50" y="876.80" font-family="'Liberation Sans', sans-serif" font-size="7.60" text-anchor="middle" fill="#222">0</text>
<line x1="524.1" y1="860.2" x2="524.1" y2="863.5" stroke="#555" stroke-width="0.8"/>
<text x="524.11" y="876.80" font-family="'Liberation Sans', sans-serif" font-size="7.60" text-anchor="middle" fill="#222">20</text>
<line x1="554.7" y1="860.2" x2="554.7" y2="863.5" stroke="#555" stroke-width="0.8"/>
<text x="554.72" y="876.80" font-family="'Liberation Sans', sans-serif" font-size="7.60" text-anchor="middle" fill="#222">40</text>
<line x1="585.3" y1="860.2" x2="585.3" y2="863.5" stroke="#555" stroke-width="0.8"/>
<text x="585.33" y="876.80" font-family="'Liberation Sans', sans-serif" font-size="7.60" text-anchor="middle" fill="#222">60</text>
<line x1="615.9" y1="860.2" x2="615.9" y2="863.5" stroke="#555" stroke-width="0.8"/>
<text x="615.94" y="876.80" font-family="'Liberation Sans', sans-serif" font-size="7.60" text-anchor="middle" fill="#222">80</text>
<line x1="646.5" y1="860.2" x2="646.5" y2="863.5" stroke="#555" stroke-width="0.8"/>
<text x="646.55" y="876.80" font-family="'Liberation Sans', sans-serif" font-size="7.60" text-anchor="middle" fill="#222">100</text>
<line x1="677.2" y1="860.2" x2="677.2" y2="863.5" stroke="#555" stroke-width="0.8"/>
<text x="677.16" y="876.80" font-family="'Liberation Sans', sans-serif" font-size="7.60" text-anchor="middle" fill="#222">120</text>
<text x="586.80" y="891.50" font-family="'Liberation Serif', serif" font-size="13.40" text-anchor="middle" fill="#000">Months</text>
<text x="466.00" y="769.50" font-family="'Liberation Serif', serif" font-size="13.40" text-anchor="middle" fill="#000" transform="rotate(-90 466.00 769.50)">Percent survival</text>
<text x="583.10" y="679.80" font-family="'Liberation Serif', serif" font-size="13.50" text-anchor="middle" fill="#000">Overall survival</text>
<path d="M493.5 691.2 H498.1 V691.2 H504.2 V691.3 H505.0 V693.1 H507.3 V695.6 H510.3 V697.4 H514.2 V700.1 H517.2 V701.5 H521.0 V703.0 H523.3 V704.6 H525.6 V707.6 H527.6 V710.5 H528.7 V713.7 H529.6 V716.9 H531.8 V720.1 H533.3 V722.4 H536.4 V727.0 H557.0 V729.9 H567.0 V734.0 H654.2 V753.5 H660.3 V774.3 H664.9 V731.5" fill="none" stroke="#6a6af8" stroke-width="0.8" stroke-dasharray="1 1.3"/>
<path d="M493.5 691.2 H498.1 V701.3 H504.2 V706.1 H505.0 V710.6 H507.3 V715.9 H510.3 V719.5 H514.2 V724.6 H517.2 V727.0 H521.0 V729.6 H523.3 V732.2 H525.6 V737.1 H527.6 V741.7 H528.7 V746.7 H529.6 V751.5 H531.8 V756.3 H533.3 V759.6 H536.4 V766.2 H557.0 V770.3 H567.0 V776.1 H654.2 V774.9 H660.3 V834.5 H668.0 V834.5" fill="none" stroke="#6a6af8" stroke-width="0.8" stroke-dasharray="1 1.3"/>
<path d="M493.5 691.2 H496.1 V691.2 H498.1 V692.5 H499.6 V698.5 H502.7 V701.3 H505.7 V704.3 H508.8 V706.5 H510.3 V708.1 H510.5 V716.1 H513.4 V717.3 H515.7 V719.2 H518.8 V720.8 H521.8 V721.9 H524.1 V726.0 H527.2 V727.8 H531.0 V728.8 H533.3 V731.2 H534.1 V736.9 H537.1 V738.0 H540.2 V740.3 H546.3 V744.5 H551.4 V749.8 H553.2 V756.7 H566.2 V761.9 H570.8 V766.4 H575.1 V772.4 H578.0 V778.7 H589.2 V785.2 H623.6 V762.0 H625.1 V762.0" fill="none" stroke="#f07070" stroke-width="0.8" stroke-dasharray="1 1.3"/>
<path d="M493.5 691.2 H496.1 V699.6 H498.1 V706.5 H499.6 V718.4 H502.7 V723.4 H505.7 V728.3 H508.8 V731.8 H510.3 V734.3 H510.5 V746.3 H513.4 V748.0 H515.7 V750.8 H518.8 V753.0 H521.8 V754.5 H524.1 V760.2 H527.2 V762.8 H531.0 V764.1 H533.3 V767.4 H534.1 V775.1 H537.1 V776.6 H540.2 V779.7 H546.3 V785.3 H551.4 V792.1 H553.2 V801.1 H566.2 V807.7 H570.8 V813.5 H575.1 V821.1 H578.0 V828.9 H589.2 V837.1 H623.6 V847.4 H632.8 V847.4" fill="none" stroke="#f07070" stroke-width="0.8" stroke-dasharray="1 1.3"/>
<path d="M493.5 691.2 H498.1 V696.0 H504.2 V699.2 H505.0 V702.5 H507.3 V706.5 H510.3 V709.2 H514.2 V713.3 H517.2 V715.2 H521.0 V717.3 H523.3 V719.4 H525.6 V723.4 H527.6 V727.3 H528.7 V731.5 H529.6 V735.5 H531.8 V739.5 H533.3 V742.4 H536.4 V748.0 H557.0 V751.6 H567.0 V756.6 H654.2 V779.8 H660.3 V803.9 H672.6 V803.9" fill="none" stroke="#2a2af0" stroke-width="1.3"/>
<path d="M493.5 691.2 H496.1 V695.2 H498.1 V700.1 H499.6 V709.2 H502.7 V713.3 H505.7 V717.3 H508.8 V720.2 H510.3 V722.3 H510.5 V732.4 H513.4 V733.9 H515.7 V736.3 H518.8 V738.2 H521.8 V739.5 H524.1 V744.5 H527.2 V746.7 H531.0 V747.9 H533.3 V750.8 H534.1 V757.5 H537.1 V758.8 H540.2 V761.6 H546.3 V766.5 H551.4 V772.7 H553.2 V780.7 H566.2 V786.7 H570.8 V791.8 H575.1 V798.7 H578.0 V805.8 H589.2 V813.2 H623.6 V832.9 H634.3 V832.9" fill="none" stroke="#f02a2a" stroke-width="1.3"/>
<line x1="570.0" y1="754.0" x2="570.0" y2="759.2" stroke="#2a2af0" stroke-width="0.8"/>
<line x1="573.1" y1="754.0" x2="573.1" y2="759.2" stroke="#2a2af0" stroke-width="0.8"/>
<line x1="576.1" y1="754.0" x2="576.1" y2="759.2" stroke="#2a2af0" stroke-width="0.8"/>
<line x1="580.7" y1="754.0" x2="580.7" y2="759.2" stroke="#2a2af0" stroke-width="0.8"/>
<line x1="588.4" y1="754.0" x2="588.4" y2="759.2" stroke="#2a2af0" stroke-width="0.8"/>
<line x1="591.5" y1="754.0" x2="591.5" y2="759.2" stroke="#2a2af0" stroke-width="0.8"/>
<line x1="594.5" y1="754.0" x2="594.5" y2="759.2" stroke="#2a2af0" stroke-width="0.8"/>
<line x1="600.6" y1="754.0" x2="600.6" y2="759.2" stroke="#2a2af0" stroke-width="0.8"/>
<line x1="603.7" y1="754.0" x2="603.7" y2="759.2" stroke="#2a2af0" stroke-width="0.8"/>
<line x1="608.3" y1="754.0" x2="608.3" y2="759.2" stroke="#2a2af0" stroke-width="0.8"/>
<line x1="615.9" y1="754.0" x2="615.9" y2="759.2" stroke="#2a2af0" stroke-width="0.8"/>
<line x1="664.9" y1="801.3" x2="664.9" y2="806.5" stroke="#2a2af0" stroke-width="0.8"/>
<line x1="671.0" y1="801.3" x2="671.0" y2="806.5" stroke="#2a2af0" stroke-width="0.8"/>
<line x1="596.0" y1="810.6" x2="596.0" y2="815.8" stroke="#f02a2a" stroke-width="0.8"/>
<line x1="614.4" y1="810.6" x2="614.4" y2="815.8" stroke="#f02a2a" stroke-width="0.8"/>
<line x1="617.5" y1="810.6" x2="617.5" y2="815.8" stroke="#f02a2a" stroke-width="0.8"/>
<line x1="634.3" y1="830.3" x2="634.3" y2="835.5" stroke="#f02a2a" stroke-width="0.8"/>
<line x1="593.3" y1="692.8" x2="607.6" y2="692.8" stroke="#3030f0" stroke-width="1.3"/>
<line x1="593.3" y1="700.3" x2="607.6" y2="700.3" stroke="#f03030" stroke-width="1.3"/>
<text x="672.70" y="695.60" font-family="'Liberation Sans', sans-serif" font-size="7.60" text-anchor="end" fill="#222">Low SIRPA Group</text>
<text x="672.70" y="703.00" font-family="'Liberation Sans', sans-serif" font-size="7.60" text-anchor="end" fill="#222">High SIRPA Group</text>
<text x="672.70" y="712.60" font-family="'Liberation Sans', sans-serif" font-size="7.60" text-anchor="end" fill="#222">Logrank p=0.0046</text>
<text x="672.70" y="721.70" font-family="'Liberation Sans', sans-serif" font-size="7.60" text-anchor="end" fill="#222">HR(high)=2</text>
<text x="672.70" y="730.70" font-family="'Liberation Sans', sans-serif" font-size="7.60" text-anchor="end" fill="#222">p(HR)=0.0053</text>
<text x="672.70" y="740.10" font-family="'Liberation Sans', sans-serif" font-size="7.60" text-anchor="end" fill="#222">n(high)=91</text>
<text x="672.70" y="749.00" font-family="'Liberation Sans', sans-serif" font-size="7.60" text-anchor="end" fill="#222">n(low)=91</text>
</svg></body></html>
